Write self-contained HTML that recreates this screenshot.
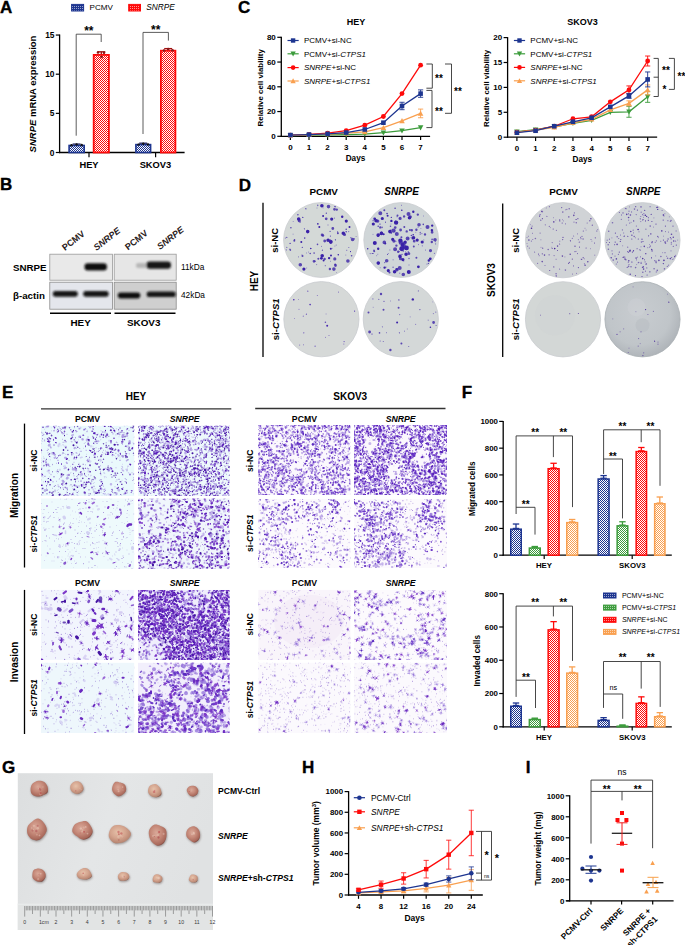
<!DOCTYPE html>
<html><head><meta charset="utf-8"><title>Figure</title>
<style>
html,body{margin:0;padding:0;background:#fff;}
body{width:685px;height:945px;overflow:hidden;}
svg{display:block;font-family:"Liberation Sans",sans-serif;}
</style></head><body>
<svg width="685" height="945" viewBox="0 0 685 945" font-family="'Liberation Sans', sans-serif">
<defs><pattern id="p_blue" width="2" height="2" patternUnits="userSpaceOnUse"><rect width="2" height="2" fill="#fff"/><rect width="1" height="1" fill="#1d3590"/><rect x="1" y="1" width="1" height="1" fill="#1d3590"/></pattern>
<pattern id="q_blue" width="2" height="2" patternUnits="userSpaceOnUse"><rect width="2" height="2" fill="#1d3590"/><rect width="1" height="1" fill="#fff" opacity="0.55"/></pattern>
<pattern id="p_green" width="2" height="2" patternUnits="userSpaceOnUse"><rect width="2" height="2" fill="#fff"/><rect width="1" height="1" fill="#3c9c3c"/><rect x="1" y="1" width="1" height="1" fill="#3c9c3c"/></pattern>
<pattern id="q_green" width="2" height="2" patternUnits="userSpaceOnUse"><rect width="2" height="2" fill="#3c9c3c"/><rect width="1" height="1" fill="#fff" opacity="0.55"/></pattern>
<pattern id="p_red" width="2" height="2" patternUnits="userSpaceOnUse"><rect width="2" height="2" fill="#fff"/><rect width="1" height="1" fill="#fe0a0a"/><rect x="1" y="1" width="1" height="1" fill="#fe0a0a"/></pattern>
<pattern id="q_red" width="2" height="2" patternUnits="userSpaceOnUse"><rect width="2" height="2" fill="#fe0a0a"/><rect width="1" height="1" fill="#fff" opacity="0.55"/></pattern>
<pattern id="p_orange" width="2" height="2" patternUnits="userSpaceOnUse"><rect width="2" height="2" fill="#fff"/><rect width="1" height="1" fill="#f9a050"/><rect x="1" y="1" width="1" height="1" fill="#f9a050"/></pattern>
<pattern id="q_orange" width="2" height="2" patternUnits="userSpaceOnUse"><rect width="2" height="2" fill="#f9a050"/><rect width="1" height="1" fill="#fff" opacity="0.55"/></pattern>
<filter id="blur1" x="-20%" y="-50%" width="140%" height="200%"><feGaussianBlur stdDeviation="1.2"/></filter>
<filter id="blur2" x="-20%" y="-50%" width="140%" height="200%"><feGaussianBlur stdDeviation="0.8"/></filter>
<clipPath id="pl11"><circle cx="321.00" cy="240.00" r="36.90"/></clipPath>
<clipPath id="pl12"><circle cx="401.20" cy="240.00" r="36.90"/></clipPath>
<clipPath id="pl13"><circle cx="321.40" cy="319.20" r="37.10"/></clipPath>
<clipPath id="pl14"><circle cx="400.80" cy="319.20" r="37.10"/></clipPath>
<clipPath id="pl21"><circle cx="563.00" cy="240.20" r="37.10"/></clipPath>
<clipPath id="pl22"><circle cx="642.50" cy="240.20" r="37.10"/></clipPath>
<clipPath id="pl23"><circle cx="563.00" cy="319.30" r="37.10"/></clipPath>
<radialGradient id="pl4g" cx="0.45" cy="0.42" r="0.6"><stop offset="0" stop-color="#c8ccd0"/><stop offset="0.7" stop-color="#c0c5c9"/><stop offset="1" stop-color="#aeb3b8"/></radialGradient>
<clipPath id="pl24"><circle cx="642.50" cy="319.30" r="37.10"/></clipPath>
<clipPath id="mc101"><rect width="186.4" height="140.4"/></clipPath>
<clipPath id="mc102"><rect width="183.0" height="140.4"/></clipPath>
<clipPath id="mc103"><rect width="186.4" height="140.6"/></clipPath>
<clipPath id="mc104"><rect width="183.0" height="140.6"/></clipPath>
<clipPath id="mc105"><rect width="186.4" height="140.0"/></clipPath>
<clipPath id="mc106"><rect width="183.0" height="140.0"/></clipPath>
<clipPath id="mc107"><rect width="186.4" height="140.4"/></clipPath>
<clipPath id="mc108"><rect width="183.0" height="140.4"/></clipPath>
<clipPath id="mc201"><rect width="184.0" height="140.2"/></clipPath>
<clipPath id="mc202"><rect width="186.2" height="140.2"/></clipPath>
<clipPath id="mc203"><rect width="184.0" height="138.2"/></clipPath>
<clipPath id="mc204"><rect width="186.2" height="138.2"/></clipPath>
<clipPath id="mc205"><rect width="184.0" height="140.0"/></clipPath>
<clipPath id="mc206"><rect width="186.2" height="140.0"/></clipPath>
<clipPath id="mc207"><rect width="184.0" height="140.4"/></clipPath>
<clipPath id="mc208"><rect width="186.2" height="140.4"/></clipPath>
<linearGradient id="gbg" x1="0" y1="0" x2="1" y2="0.3"><stop offset="0" stop-color="#dcdedf"/><stop offset="0.5" stop-color="#e4e6e7"/><stop offset="1" stop-color="#e0e2e3"/></linearGradient>
<radialGradient id="tum" cx="0.42" cy="0.38" r="0.68"><stop offset="0" stop-color="#d9a898"/><stop offset="0.45" stop-color="#c68a7a"/><stop offset="0.85" stop-color="#a8685a"/><stop offset="1" stop-color="#6a3a34"/></radialGradient>
<radialGradient id="tum2" cx="0.42" cy="0.38" r="0.68"><stop offset="0" stop-color="#e6c2aa"/><stop offset="0.5" stop-color="#d4a48e"/><stop offset="0.88" stop-color="#b88672"/><stop offset="1" stop-color="#86584a"/></radialGradient>
<filter id="shad" x="-30%" y="-30%" width="160%" height="160%"><feGaussianBlur stdDeviation="0.9"/></filter></defs>
<rect width="685" height="945" fill="#fff"/>
<text x="0.10" y="12.69" font-size="17.00" font-weight="bold" stroke="#000" stroke-width="0.35">A</text>
<text x="0.00" y="190.39" font-size="17.00" font-weight="bold" stroke="#000" stroke-width="0.35">B</text>
<text x="238.00" y="12.59" font-size="17.00" font-weight="bold" stroke="#000" stroke-width="0.35">C</text>
<text x="238.80" y="191.49" font-size="17.00" font-weight="bold" stroke="#000" stroke-width="0.35">D</text>
<text x="1.90" y="398.49" font-size="17.00" font-weight="bold" stroke="#000" stroke-width="0.35">E</text>
<text x="461.70" y="398.29" font-size="17.00" font-weight="bold" stroke="#000" stroke-width="0.35">F</text>
<text x="2.10" y="773.09" font-size="17.00" font-weight="bold" stroke="#000" stroke-width="0.35">G</text>
<text x="302.00" y="773.19" font-size="17.00" font-weight="bold" stroke="#000" stroke-width="0.35">H</text>
<text x="525.80" y="773.19" font-size="17.00" font-weight="bold" stroke="#000" stroke-width="0.35">I</text>
<rect x="71.60" y="4.40" width="12.00" height="6.60" fill="url(#q_blue)" stroke="#1d3590" stroke-width="1.00" />
<text x="89.60" y="10.42" font-size="8.10">PCMV</text>
<rect x="128.70" y="4.40" width="11.80" height="6.60" fill="url(#q_red)" stroke="#fe0a0a" stroke-width="1.00" />
<text x="146.30" y="10.49" font-size="8.30"><tspan font-style="italic">SNRPE</tspan></text>
<line x1="59.60" y1="34.50" x2="59.60" y2="153.10" stroke="#000" stroke-width="1.30" />
<line x1="59.00" y1="152.50" x2="184.60" y2="152.50" stroke="#000" stroke-width="1.30" />
<line x1="55.80" y1="152.50" x2="59.60" y2="152.50" stroke="#000" stroke-width="1.20" />
<text x="54.50" y="155.52" font-size="8.40" font-weight="bold" text-anchor="end">0</text>
<line x1="55.80" y1="113.35" x2="59.60" y2="113.35" stroke="#000" stroke-width="1.20" />
<text x="54.50" y="116.37" font-size="8.40" font-weight="bold" text-anchor="end">5</text>
<line x1="55.80" y1="74.20" x2="59.60" y2="74.20" stroke="#000" stroke-width="1.20" />
<text x="54.50" y="77.22" font-size="8.40" font-weight="bold" text-anchor="end">10</text>
<line x1="55.80" y1="35.05" x2="59.60" y2="35.05" stroke="#000" stroke-width="1.20" />
<text x="54.50" y="38.07" font-size="8.40" font-weight="bold" text-anchor="end">15</text>
<line x1="89.00" y1="152.50" x2="89.00" y2="157.30" stroke="#000" stroke-width="1.20" />
<line x1="155.60" y1="152.50" x2="155.60" y2="157.30" stroke="#000" stroke-width="1.20" />
<text x="89.00" y="167.65" font-size="9.30" font-weight="bold" text-anchor="middle">HEY</text>
<text x="155.40" y="168.15" font-size="9.30" font-weight="bold" text-anchor="middle">SKOV3</text>
<text x="33.00" y="97.42" font-size="9.50" font-weight="bold" text-anchor="middle" transform="rotate(-90.00 33.00 94.00)"><tspan font-style="italic">SNRPE</tspan> mRNA expression</text>
<rect x="69.10" y="145.47" width="15.10" height="7.03" fill="url(#p_blue)" stroke="#1d3590" stroke-width="1.60"/>
<rect x="93.70" y="54.90" width="15.20" height="97.60" fill="url(#p_red)" stroke="#fe0a0a" stroke-width="1.80"/>
<rect x="135.90" y="144.60" width="14.70" height="7.90" fill="url(#p_blue)" stroke="#1d3590" stroke-width="1.60"/>
<rect x="160.90" y="50.70" width="14.50" height="101.80" fill="url(#p_red)" stroke="#fe0a0a" stroke-width="1.80"/>
<line x1="72.60" y1="144.10" x2="80.60" y2="144.10" stroke="#20205a" stroke-width="1.30" />
<line x1="76.60" y1="144.10" x2="76.60" y2="144.70" stroke="#20205a" stroke-width="1.30" />
<line x1="97.30" y1="51.80" x2="105.30" y2="51.80" stroke="#a01010" stroke-width="1.30" />
<line x1="101.30" y1="51.80" x2="101.30" y2="54.00" stroke="#a01010" stroke-width="1.30" />
<line x1="139.20" y1="143.20" x2="147.20" y2="143.20" stroke="#20205a" stroke-width="1.30" />
<line x1="143.20" y1="143.20" x2="143.20" y2="143.80" stroke="#20205a" stroke-width="1.30" />
<line x1="164.20" y1="48.60" x2="172.20" y2="48.60" stroke="#a01010" stroke-width="1.30" />
<line x1="168.20" y1="48.60" x2="168.20" y2="49.80" stroke="#a01010" stroke-width="1.30" />
<circle cx="71.5" cy="145.2" r="1.2" fill="#111"/>
<circle cx="76.6" cy="144.4" r="1.2" fill="#111"/>
<circle cx="81.7" cy="145.0" r="1.2" fill="#111"/>
<circle cx="138.5" cy="144.6" r="1.2" fill="#111"/>
<circle cx="143.2" cy="143.8" r="1.2" fill="#111"/>
<circle cx="148.0" cy="144.4" r="1.2" fill="#111"/>
<circle cx="98.0" cy="52.5" r="1.3" fill="#8a1515"/>
<circle cx="104.0" cy="52.8" r="1.3" fill="#8a1515"/>
<circle cx="101.5" cy="57.0" r="1.3" fill="#8a1515"/>
<circle cx="164.0" cy="50.5" r="1.3" fill="#8a1515"/>
<circle cx="168.2" cy="49.0" r="1.3" fill="#8a1515"/>
<circle cx="172.5" cy="50.3" r="1.3" fill="#8a1515"/>
<polyline points="76.20,135.70 76.20,34.20 101.20,34.20 101.20,42.00" fill="none" stroke="#333" stroke-width="0.80" stroke-linejoin="miter"/>
<text x="88.80" y="35.26" font-size="12.00" font-weight="bold" text-anchor="middle">**</text>
<polyline points="143.00,134.00 143.00,32.40 168.40,32.40 168.40,40.60" fill="none" stroke="#333" stroke-width="0.80" stroke-linejoin="miter"/>
<text x="155.70" y="33.66" font-size="12.00" font-weight="bold" text-anchor="middle">**</text>
<rect x="49.80" y="254.20" width="62.60" height="26.00" fill="#e9e9e9" stroke="#9a9a9a" stroke-width="0.80" />
<rect x="114.20" y="254.20" width="62.00" height="26.00" fill="#e6e6e6" stroke="#9a9a9a" stroke-width="0.80" />
<rect x="49.80" y="282.20" width="62.60" height="27.00" fill="#e4e6ec" stroke="#8a8a8a" stroke-width="0.80" />
<rect x="114.20" y="282.20" width="62.00" height="27.00" fill="#cfcfcf" stroke="#8a8a8a" stroke-width="0.80" />
<rect x="84.5" y="263.3" width="22.4" height="7.2" rx="3.2" fill="#111" filter="url(#blur2)"/>
<rect x="146.5" y="261.6" width="24.5" height="7.2" rx="3.2" fill="#151515" filter="url(#blur2)"/>
<rect x="136" y="263" width="11" height="5" rx="2" fill="#888" opacity="0.5" filter="url(#blur1)"/>
<rect x="52.8" y="291.0" width="25.0" height="5.8" rx="2.8" fill="#121212" filter="url(#blur2)"/>
<rect x="83.2" y="291.0" width="25.5" height="5.8" rx="2.8" fill="#121212" filter="url(#blur2)"/>
<rect x="117.8" y="292.4" width="22.5" height="6.0" rx="2.8" fill="#101010" filter="url(#blur2)"/>
<rect x="146.7" y="291.4" width="29.0" height="5.6" rx="2.6" fill="#121212" filter="url(#blur2)"/>
<text x="13.00" y="270.51" font-size="9.75" font-weight="bold">SNRPE</text>
<text x="13.00" y="299.01" font-size="9.75" font-weight="bold">β-actin</text>
<text x="181.00" y="269.99" font-size="8.30">11kDa</text>
<text x="181.00" y="298.49" font-size="8.30">42kDa</text>
<line x1="50.00" y1="313.20" x2="111.00" y2="313.20" stroke="#000" stroke-width="1.40" />
<line x1="114.50" y1="313.20" x2="175.50" y2="313.20" stroke="#000" stroke-width="1.40" />
<text x="80.60" y="325.96" font-size="9.90" font-weight="bold" text-anchor="middle">HEY</text>
<text x="143.70" y="325.96" font-size="9.90" font-weight="bold" text-anchor="middle">SKOV3</text>
<text x="65.00" y="251.00" font-size="9.0" font-weight="bold" fill="#2a2020" transform="rotate(-38 65.00 251.00)">PCMV</text>
<text x="96.50" y="251.00" font-size="9.0" font-weight="bold" fill="#2a2020" transform="rotate(-38 96.50 251.00)"><tspan font-style="italic">SNRPE</tspan></text>
<text x="128.00" y="250.40" font-size="9.0" font-weight="bold" fill="#2a2020" transform="rotate(-38 128.00 250.40)">PCMV</text>
<text x="160.00" y="250.00" font-size="9.0" font-weight="bold" fill="#2a2020" transform="rotate(-38 160.00 250.00)"><tspan font-style="italic">SNRPE</tspan></text>
<line x1="281.30" y1="36.80" x2="281.30" y2="136.90" stroke="#000" stroke-width="1.30" />
<line x1="280.70" y1="136.30" x2="430.10" y2="136.30" stroke="#000" stroke-width="1.30" />
<line x1="277.30" y1="136.30" x2="281.30" y2="136.30" stroke="#000" stroke-width="1.20" />
<text x="275.80" y="139.18" font-size="8.00" font-weight="bold" text-anchor="end">0</text>
<line x1="277.30" y1="111.55" x2="281.30" y2="111.55" stroke="#000" stroke-width="1.20" />
<text x="275.80" y="114.43" font-size="8.00" font-weight="bold" text-anchor="end">20</text>
<line x1="277.30" y1="86.80" x2="281.30" y2="86.80" stroke="#000" stroke-width="1.20" />
<text x="275.80" y="89.68" font-size="8.00" font-weight="bold" text-anchor="end">40</text>
<line x1="277.30" y1="62.05" x2="281.30" y2="62.05" stroke="#000" stroke-width="1.20" />
<text x="275.80" y="64.93" font-size="8.00" font-weight="bold" text-anchor="end">60</text>
<line x1="277.30" y1="37.30" x2="281.30" y2="37.30" stroke="#000" stroke-width="1.20" />
<text x="275.80" y="40.18" font-size="8.00" font-weight="bold" text-anchor="end">80</text>
<line x1="290.40" y1="136.30" x2="290.40" y2="140.10" stroke="#000" stroke-width="1.20" />
<text x="290.40" y="149.68" font-size="8.00" font-weight="bold" text-anchor="middle">0</text>
<line x1="309.00" y1="136.30" x2="309.00" y2="140.10" stroke="#000" stroke-width="1.20" />
<text x="309.00" y="149.68" font-size="8.00" font-weight="bold" text-anchor="middle">1</text>
<line x1="327.60" y1="136.30" x2="327.60" y2="140.10" stroke="#000" stroke-width="1.20" />
<text x="327.60" y="149.68" font-size="8.00" font-weight="bold" text-anchor="middle">2</text>
<line x1="346.20" y1="136.30" x2="346.20" y2="140.10" stroke="#000" stroke-width="1.20" />
<text x="346.20" y="149.68" font-size="8.00" font-weight="bold" text-anchor="middle">3</text>
<line x1="364.80" y1="136.30" x2="364.80" y2="140.10" stroke="#000" stroke-width="1.20" />
<text x="364.80" y="149.68" font-size="8.00" font-weight="bold" text-anchor="middle">4</text>
<line x1="383.40" y1="136.30" x2="383.40" y2="140.10" stroke="#000" stroke-width="1.20" />
<text x="383.40" y="149.68" font-size="8.00" font-weight="bold" text-anchor="middle">5</text>
<line x1="402.00" y1="136.30" x2="402.00" y2="140.10" stroke="#000" stroke-width="1.20" />
<text x="402.00" y="149.68" font-size="8.00" font-weight="bold" text-anchor="middle">6</text>
<line x1="420.60" y1="136.30" x2="420.60" y2="140.10" stroke="#000" stroke-width="1.20" />
<text x="420.60" y="149.68" font-size="8.00" font-weight="bold" text-anchor="middle">7</text>
<text x="355.50" y="161.25" font-size="8.20" font-weight="bold" text-anchor="middle">Days</text>
<text x="356.00" y="24.74" font-size="9.00" font-weight="bold" text-anchor="middle">HEY</text>
<text x="260.30" y="90.64" font-size="7.90" font-weight="bold" text-anchor="middle" transform="rotate(-90.00 260.30 87.80)">Relative cell viability</text>
<polyline points="290.40,135.56 309.00,135.19 327.60,134.94 346.20,134.69 364.80,134.07 383.40,132.71 402.00,130.73 420.60,127.64" fill="none" stroke="#3c9c3c" stroke-width="1.30" stroke-linejoin="miter"/>
<polygon points="287.64,133.26 293.16,133.26 290.40,138.32" fill="#3c9c3c"/>
<polygon points="306.24,132.89 311.76,132.89 309.00,137.95" fill="#3c9c3c"/>
<polygon points="324.84,132.64 330.36,132.64 327.60,137.70" fill="#3c9c3c"/>
<polygon points="343.44,132.39 348.96,132.39 346.20,137.45" fill="#3c9c3c"/>
<polygon points="362.04,131.77 367.56,131.77 364.80,136.83" fill="#3c9c3c"/>
<polygon points="380.64,130.41 386.16,130.41 383.40,135.47" fill="#3c9c3c"/>
<polygon points="399.24,128.43 404.76,128.43 402.00,133.49" fill="#3c9c3c"/>
<polygon points="417.84,125.34 423.36,125.34 420.60,130.40" fill="#3c9c3c"/>
<polyline points="290.40,135.06 309.00,134.44 327.60,133.21 346.20,130.73 364.80,125.16 383.40,116.50 402.00,93.61 420.60,65.14" fill="none" stroke="#fe0a0a" stroke-width="1.30" stroke-linejoin="miter"/>
<circle cx="290.40" cy="135.06" r="2.42" fill="#fe0a0a"/>
<circle cx="309.00" cy="134.44" r="2.42" fill="#fe0a0a"/>
<circle cx="327.60" cy="133.21" r="2.42" fill="#fe0a0a"/>
<circle cx="346.20" cy="130.73" r="2.42" fill="#fe0a0a"/>
<circle cx="364.80" cy="125.16" r="2.42" fill="#fe0a0a"/>
<circle cx="383.40" cy="116.50" r="2.42" fill="#fe0a0a"/>
<circle cx="402.00" cy="93.61" r="2.42" fill="#fe0a0a"/>
<circle cx="420.60" cy="65.14" r="2.42" fill="#fe0a0a"/>
<polyline points="290.40,135.31 309.00,134.81 327.60,134.07 346.20,133.21 364.80,131.97 383.40,127.64 402.00,120.83 420.60,113.41" fill="none" stroke="#f9a050" stroke-width="1.30" stroke-linejoin="miter"/>
<polygon points="287.64,137.61 293.16,137.61 290.40,132.55" fill="#f9a050"/>
<polygon points="306.24,137.12 311.76,137.12 309.00,132.06" fill="#f9a050"/>
<polygon points="324.84,136.37 330.36,136.37 327.60,131.31" fill="#f9a050"/>
<polygon points="343.44,135.51 348.96,135.51 346.20,130.45" fill="#f9a050"/>
<polygon points="362.04,134.27 367.56,134.27 364.80,129.21" fill="#f9a050"/>
<polygon points="380.64,129.94 386.16,129.94 383.40,124.88" fill="#f9a050"/>
<polygon points="399.24,123.13 404.76,123.13 402.00,118.07" fill="#f9a050"/>
<line x1="420.60" y1="109.08" x2="420.60" y2="117.74" stroke="#f9a050" stroke-width="0.90" />
<line x1="418.00" y1="109.08" x2="423.20" y2="109.08" stroke="#f9a050" stroke-width="0.90" />
<line x1="418.00" y1="117.74" x2="423.20" y2="117.74" stroke="#f9a050" stroke-width="0.90" />
<polygon points="417.84,115.71 423.36,115.71 420.60,110.65" fill="#f9a050"/>
<polyline points="290.40,135.06 309.00,134.57 327.60,133.83 346.20,132.59 364.80,129.49 383.40,122.69 402.00,105.98 420.60,93.61" fill="none" stroke="#1d3590" stroke-width="1.30" stroke-linejoin="miter"/>
<rect x="288.10" y="132.76" width="4.60" height="4.60" fill="#1d3590"/>
<rect x="306.70" y="132.27" width="4.60" height="4.60" fill="#1d3590"/>
<rect x="325.30" y="131.53" width="4.60" height="4.60" fill="#1d3590"/>
<rect x="343.90" y="130.29" width="4.60" height="4.60" fill="#1d3590"/>
<rect x="362.50" y="127.19" width="4.60" height="4.60" fill="#1d3590"/>
<rect x="381.10" y="120.39" width="4.60" height="4.60" fill="#1d3590"/>
<line x1="402.00" y1="102.27" x2="402.00" y2="109.69" stroke="#1d3590" stroke-width="0.90" />
<line x1="399.40" y1="102.27" x2="404.60" y2="102.27" stroke="#1d3590" stroke-width="0.90" />
<line x1="399.40" y1="109.69" x2="404.60" y2="109.69" stroke="#1d3590" stroke-width="0.90" />
<rect x="399.70" y="103.68" width="4.60" height="4.60" fill="#1d3590"/>
<line x1="420.60" y1="89.89" x2="420.60" y2="97.32" stroke="#1d3590" stroke-width="0.90" />
<line x1="418.00" y1="89.89" x2="423.20" y2="89.89" stroke="#1d3590" stroke-width="0.90" />
<line x1="418.00" y1="97.32" x2="423.20" y2="97.32" stroke="#1d3590" stroke-width="0.90" />
<rect x="418.30" y="91.31" width="4.60" height="4.60" fill="#1d3590"/>
<line x1="287.50" y1="40.50" x2="298.70" y2="40.50" stroke="#1d3590" stroke-width="1.20" />
<rect x="290.90" y="38.30" width="4.40" height="4.40" fill="#1d3590"/>
<text x="303.90" y="43.38" font-size="8.00">PCMV+si-NC</text>
<line x1="287.50" y1="53.80" x2="298.70" y2="53.80" stroke="#3c9c3c" stroke-width="1.20" />
<polygon points="290.46,51.60 295.74,51.60 293.10,56.44" fill="#3c9c3c"/>
<text x="303.90" y="56.68" font-size="8.00">PCMV+si-<tspan font-style="italic">CTPS1</tspan></text>
<line x1="287.50" y1="67.60" x2="298.70" y2="67.60" stroke="#fe0a0a" stroke-width="1.20" />
<circle cx="293.10" cy="67.60" r="2.31" fill="#fe0a0a"/>
<text x="303.90" y="70.48" font-size="8.00"><tspan font-style="italic">SNRPE</tspan>+si-NC</text>
<line x1="287.50" y1="81.00" x2="298.70" y2="81.00" stroke="#f9a050" stroke-width="1.20" />
<polygon points="290.46,83.20 295.74,83.20 293.10,78.36" fill="#f9a050"/>
<text x="303.90" y="83.88" font-size="8.00"><tspan font-style="italic">SNRPE</tspan>+si-<tspan font-style="italic">CTPS1</tspan></text>
<polyline points="426.40,64.00 432.30,64.00 432.30,88.20 426.40,88.20" fill="none" stroke="#333" stroke-width="0.90" stroke-linejoin="miter"/>
<text x="439.00" y="82.30" font-size="10.00" font-weight="bold" text-anchor="middle">**</text>
<polyline points="426.40,90.40 432.00,90.40 432.00,127.60 426.40,127.60" fill="none" stroke="#333" stroke-width="0.90" stroke-linejoin="miter"/>
<text x="439.00" y="115.10" font-size="10.00" font-weight="bold" text-anchor="middle">**</text>
<polyline points="445.00,64.00 451.50,64.00 451.50,113.30 445.00,113.30" fill="none" stroke="#333" stroke-width="0.90" stroke-linejoin="miter"/>
<text x="458.00" y="95.10" font-size="10.00" font-weight="bold" text-anchor="middle">**</text>
<line x1="507.60" y1="37.10" x2="507.60" y2="137.80" stroke="#000" stroke-width="1.30" />
<line x1="507.00" y1="137.20" x2="657.16" y2="137.20" stroke="#000" stroke-width="1.30" />
<line x1="503.60" y1="137.20" x2="507.60" y2="137.20" stroke="#000" stroke-width="1.20" />
<text x="502.10" y="140.08" font-size="8.00" font-weight="bold" text-anchor="end">0</text>
<line x1="503.60" y1="112.30" x2="507.60" y2="112.30" stroke="#000" stroke-width="1.20" />
<text x="502.10" y="115.18" font-size="8.00" font-weight="bold" text-anchor="end">5</text>
<line x1="503.60" y1="87.40" x2="507.60" y2="87.40" stroke="#000" stroke-width="1.20" />
<text x="502.10" y="90.28" font-size="8.00" font-weight="bold" text-anchor="end">10</text>
<line x1="503.60" y1="62.50" x2="507.60" y2="62.50" stroke="#000" stroke-width="1.20" />
<text x="502.10" y="65.38" font-size="8.00" font-weight="bold" text-anchor="end">15</text>
<line x1="503.60" y1="37.60" x2="507.60" y2="37.60" stroke="#000" stroke-width="1.20" />
<text x="502.10" y="40.48" font-size="8.00" font-weight="bold" text-anchor="end">20</text>
<line x1="516.90" y1="137.20" x2="516.90" y2="141.00" stroke="#000" stroke-width="1.20" />
<text x="516.90" y="150.58" font-size="8.00" font-weight="bold" text-anchor="middle">0</text>
<line x1="535.58" y1="137.20" x2="535.58" y2="141.00" stroke="#000" stroke-width="1.20" />
<text x="535.58" y="150.58" font-size="8.00" font-weight="bold" text-anchor="middle">1</text>
<line x1="554.26" y1="137.20" x2="554.26" y2="141.00" stroke="#000" stroke-width="1.20" />
<text x="554.26" y="150.58" font-size="8.00" font-weight="bold" text-anchor="middle">2</text>
<line x1="572.94" y1="137.20" x2="572.94" y2="141.00" stroke="#000" stroke-width="1.20" />
<text x="572.94" y="150.58" font-size="8.00" font-weight="bold" text-anchor="middle">3</text>
<line x1="591.62" y1="137.20" x2="591.62" y2="141.00" stroke="#000" stroke-width="1.20" />
<text x="591.62" y="150.58" font-size="8.00" font-weight="bold" text-anchor="middle">4</text>
<line x1="610.30" y1="137.20" x2="610.30" y2="141.00" stroke="#000" stroke-width="1.20" />
<text x="610.30" y="150.58" font-size="8.00" font-weight="bold" text-anchor="middle">5</text>
<line x1="628.98" y1="137.20" x2="628.98" y2="141.00" stroke="#000" stroke-width="1.20" />
<text x="628.98" y="150.58" font-size="8.00" font-weight="bold" text-anchor="middle">6</text>
<line x1="647.66" y1="137.20" x2="647.66" y2="141.00" stroke="#000" stroke-width="1.20" />
<text x="647.66" y="150.58" font-size="8.00" font-weight="bold" text-anchor="middle">7</text>
<text x="582.28" y="162.15" font-size="8.20" font-weight="bold" text-anchor="middle">Days</text>
<text x="582.60" y="24.74" font-size="9.00" font-weight="bold" text-anchor="middle">SKOV3</text>
<text x="486.60" y="91.24" font-size="7.90" font-weight="bold" text-anchor="middle" transform="rotate(-90.00 486.60 88.40)">Relative cell viability</text>
<polyline points="516.90,131.72 535.58,129.73 554.26,126.74 572.94,123.26 591.62,120.27 610.30,112.30 628.98,111.80 647.66,96.86" fill="none" stroke="#3c9c3c" stroke-width="1.30" stroke-linejoin="miter"/>
<polygon points="514.14,129.42 519.66,129.42 516.90,134.48" fill="#3c9c3c"/>
<polygon points="532.82,127.43 538.34,127.43 535.58,132.49" fill="#3c9c3c"/>
<polygon points="551.50,124.44 557.02,124.44 554.26,129.50" fill="#3c9c3c"/>
<polygon points="570.18,120.96 575.70,120.96 572.94,126.02" fill="#3c9c3c"/>
<polygon points="588.86,117.97 594.38,117.97 591.62,123.03" fill="#3c9c3c"/>
<polygon points="607.54,110.00 613.06,110.00 610.30,115.06" fill="#3c9c3c"/>
<line x1="628.98" y1="106.32" x2="628.98" y2="117.28" stroke="#3c9c3c" stroke-width="0.90" />
<line x1="626.38" y1="106.32" x2="631.58" y2="106.32" stroke="#3c9c3c" stroke-width="0.90" />
<line x1="626.38" y1="117.28" x2="631.58" y2="117.28" stroke="#3c9c3c" stroke-width="0.90" />
<polygon points="626.22,109.50 631.74,109.50 628.98,114.56" fill="#3c9c3c"/>
<line x1="647.66" y1="91.38" x2="647.66" y2="102.34" stroke="#3c9c3c" stroke-width="0.90" />
<line x1="645.06" y1="91.38" x2="650.26" y2="91.38" stroke="#3c9c3c" stroke-width="0.90" />
<line x1="645.06" y1="102.34" x2="650.26" y2="102.34" stroke="#3c9c3c" stroke-width="0.90" />
<polygon points="644.90,94.56 650.42,94.56 647.66,99.62" fill="#3c9c3c"/>
<polyline points="516.90,132.22 535.58,130.23 554.26,126.24 572.94,118.77 591.62,116.78 610.30,101.84 628.98,89.89 647.66,61.01" fill="none" stroke="#fe0a0a" stroke-width="1.30" stroke-linejoin="miter"/>
<circle cx="516.90" cy="132.22" r="2.42" fill="#fe0a0a"/>
<circle cx="535.58" cy="130.23" r="2.42" fill="#fe0a0a"/>
<circle cx="554.26" cy="126.24" r="2.42" fill="#fe0a0a"/>
<circle cx="572.94" cy="118.77" r="2.42" fill="#fe0a0a"/>
<circle cx="591.62" cy="116.78" r="2.42" fill="#fe0a0a"/>
<circle cx="610.30" cy="101.84" r="2.42" fill="#fe0a0a"/>
<line x1="628.98" y1="85.91" x2="628.98" y2="93.87" stroke="#fe0a0a" stroke-width="0.90" />
<line x1="626.38" y1="85.91" x2="631.58" y2="85.91" stroke="#fe0a0a" stroke-width="0.90" />
<line x1="626.38" y1="93.87" x2="631.58" y2="93.87" stroke="#fe0a0a" stroke-width="0.90" />
<circle cx="628.98" cy="89.89" r="2.42" fill="#fe0a0a"/>
<line x1="647.66" y1="56.03" x2="647.66" y2="65.99" stroke="#fe0a0a" stroke-width="0.90" />
<line x1="645.06" y1="56.03" x2="650.26" y2="56.03" stroke="#fe0a0a" stroke-width="0.90" />
<line x1="645.06" y1="65.99" x2="650.26" y2="65.99" stroke="#fe0a0a" stroke-width="0.90" />
<circle cx="647.66" cy="61.01" r="2.42" fill="#fe0a0a"/>
<polyline points="516.90,132.22 535.58,130.23 554.26,127.24 572.94,122.76 591.62,119.27 610.30,109.81 628.98,103.34 647.66,89.89" fill="none" stroke="#f9a050" stroke-width="1.30" stroke-linejoin="miter"/>
<polygon points="514.14,134.52 519.66,134.52 516.90,129.46" fill="#f9a050"/>
<polygon points="532.82,132.53 538.34,132.53 535.58,127.47" fill="#f9a050"/>
<polygon points="551.50,129.54 557.02,129.54 554.26,124.48" fill="#f9a050"/>
<polygon points="570.18,125.06 575.70,125.06 572.94,120.00" fill="#f9a050"/>
<polygon points="588.86,121.57 594.38,121.57 591.62,116.51" fill="#f9a050"/>
<polygon points="607.54,112.11 613.06,112.11 610.30,107.05" fill="#f9a050"/>
<line x1="628.98" y1="100.85" x2="628.98" y2="105.83" stroke="#f9a050" stroke-width="0.90" />
<line x1="626.38" y1="100.85" x2="631.58" y2="100.85" stroke="#f9a050" stroke-width="0.90" />
<line x1="626.38" y1="105.83" x2="631.58" y2="105.83" stroke="#f9a050" stroke-width="0.90" />
<polygon points="626.22,105.64 631.74,105.64 628.98,100.58" fill="#f9a050"/>
<line x1="647.66" y1="84.91" x2="647.66" y2="94.87" stroke="#f9a050" stroke-width="0.90" />
<line x1="645.06" y1="84.91" x2="650.26" y2="84.91" stroke="#f9a050" stroke-width="0.90" />
<line x1="645.06" y1="94.87" x2="650.26" y2="94.87" stroke="#f9a050" stroke-width="0.90" />
<polygon points="644.90,92.19 650.42,92.19 647.66,87.13" fill="#f9a050"/>
<polyline points="516.90,132.72 535.58,130.73 554.26,126.24 572.94,121.76 591.62,117.78 610.30,106.82 628.98,95.87 647.66,79.43" fill="none" stroke="#1d3590" stroke-width="1.30" stroke-linejoin="miter"/>
<rect x="514.60" y="130.42" width="4.60" height="4.60" fill="#1d3590"/>
<rect x="533.28" y="128.43" width="4.60" height="4.60" fill="#1d3590"/>
<rect x="551.96" y="123.94" width="4.60" height="4.60" fill="#1d3590"/>
<rect x="570.64" y="119.46" width="4.60" height="4.60" fill="#1d3590"/>
<rect x="589.32" y="115.48" width="4.60" height="4.60" fill="#1d3590"/>
<rect x="608.00" y="104.52" width="4.60" height="4.60" fill="#1d3590"/>
<line x1="628.98" y1="93.38" x2="628.98" y2="98.36" stroke="#1d3590" stroke-width="0.90" />
<line x1="626.38" y1="93.38" x2="631.58" y2="93.38" stroke="#1d3590" stroke-width="0.90" />
<line x1="626.38" y1="98.36" x2="631.58" y2="98.36" stroke="#1d3590" stroke-width="0.90" />
<rect x="626.68" y="93.57" width="4.60" height="4.60" fill="#1d3590"/>
<line x1="647.66" y1="71.96" x2="647.66" y2="86.90" stroke="#1d3590" stroke-width="0.90" />
<line x1="645.06" y1="71.96" x2="650.26" y2="71.96" stroke="#1d3590" stroke-width="0.90" />
<line x1="645.06" y1="86.90" x2="650.26" y2="86.90" stroke="#1d3590" stroke-width="0.90" />
<rect x="645.36" y="77.13" width="4.60" height="4.60" fill="#1d3590"/>
<line x1="513.90" y1="40.50" x2="525.10" y2="40.50" stroke="#1d3590" stroke-width="1.20" />
<rect x="517.30" y="38.30" width="4.40" height="4.40" fill="#1d3590"/>
<text x="530.30" y="43.38" font-size="8.00">PCMV+si-NC</text>
<line x1="513.90" y1="53.80" x2="525.10" y2="53.80" stroke="#3c9c3c" stroke-width="1.20" />
<polygon points="516.86,51.60 522.14,51.60 519.50,56.44" fill="#3c9c3c"/>
<text x="530.30" y="56.68" font-size="8.00">PCMV+si-<tspan font-style="italic">CTPS1</tspan></text>
<line x1="513.90" y1="67.40" x2="525.10" y2="67.40" stroke="#fe0a0a" stroke-width="1.20" />
<circle cx="519.50" cy="67.40" r="2.31" fill="#fe0a0a"/>
<text x="530.30" y="70.28" font-size="8.00"><tspan font-style="italic">SNRPE</tspan>+si-NC</text>
<line x1="513.90" y1="80.80" x2="525.10" y2="80.80" stroke="#f9a050" stroke-width="1.20" />
<polygon points="516.86,83.00 522.14,83.00 519.50,78.16" fill="#f9a050"/>
<text x="530.30" y="83.68" font-size="8.00"><tspan font-style="italic">SNRPE</tspan>+si-<tspan font-style="italic">CTPS1</tspan></text>
<polyline points="653.60,58.40 658.30,58.40 658.30,96.50 653.60,96.50" fill="none" stroke="#333" stroke-width="0.90" stroke-linejoin="miter"/>
<line x1="653.60" y1="77.20" x2="658.30" y2="77.20" stroke="#333" stroke-width="0.90" />
<text x="666.00" y="74.10" font-size="10.00" font-weight="bold" text-anchor="middle">**</text>
<text x="664.50" y="93.30" font-size="10.00" font-weight="bold" text-anchor="middle">*</text>
<polyline points="668.90,58.40 674.40,58.40 674.40,89.40 668.90,89.40" fill="none" stroke="#333" stroke-width="0.90" stroke-linejoin="miter"/>
<text x="681.50" y="79.50" font-size="10.00" font-weight="bold" text-anchor="middle">**</text>
<text x="323.70" y="194.86" font-size="9.90" font-weight="bold" text-anchor="middle">PCMV</text>
<text x="401.60" y="194.90" font-size="10.00" font-weight="bold" text-anchor="middle"><tspan font-style="italic">SNRPE</tspan></text>
<text x="563.50" y="194.86" font-size="9.90" font-weight="bold" text-anchor="middle">PCMV</text>
<text x="643.30" y="194.90" font-size="10.00" font-weight="bold" text-anchor="middle"><tspan font-style="italic">SNRPE</tspan></text>
<line x1="263.00" y1="202.80" x2="263.00" y2="357.00" stroke="#000" stroke-width="1.30" />
<line x1="502.70" y1="203.40" x2="502.70" y2="357.00" stroke="#000" stroke-width="1.30" />
<text x="254.00" y="284.60" font-size="10.00" font-weight="bold" text-anchor="middle" transform="rotate(-90.00 254.00 281.00)">HEY</text>
<text x="491.20" y="283.60" font-size="10.00" font-weight="bold" text-anchor="middle" transform="rotate(-90.00 491.20 280.00)">SKOV3</text>
<text x="274.40" y="243.72" font-size="9.50" font-weight="bold" text-anchor="middle" transform="rotate(-90.00 274.40 240.30)">si-NC</text>
<text x="276.00" y="322.72" font-size="9.50" font-weight="bold" text-anchor="middle" transform="rotate(-90.00 276.00 319.30)">si-<tspan font-style="italic">CTPS1</tspan></text>
<text x="515.20" y="243.72" font-size="9.50" font-weight="bold" text-anchor="middle" transform="rotate(-90.00 515.20 240.30)">si-NC</text>
<text x="515.20" y="322.72" font-size="9.50" font-weight="bold" text-anchor="middle" transform="rotate(-90.00 515.20 319.30)">si-<tspan font-style="italic">CTPS1</tspan></text>
<circle cx="321.00" cy="240.00" r="37.40" fill="#d4d9d7" stroke="#c9cccf" stroke-width="0.8"/>
<g clip-path="url(#pl11)"><path d="M330.5 261.3h0M332.2 248.4h0M323.1 207.9h0M345.8 255.1h0M293.2 221.5h0M293.1 234.2h0M306.7 268.0h0M317.0 208.0h0M334.9 246.1h0M306.5 253.0h0M308.4 252.1h0M336.4 272.8h0M317.4 223.6h0M356.1 236.5h0" stroke="#3b22a8" stroke-width="0.8" stroke-linecap="round" opacity="0.6"/><path d="M321.6 246.4h0M298.5 256.9h0M306.2 208.9h0M302.0 254.9h0M328.0 225.0h0M316.7 264.6h0M330.2 239.6h0M336.2 245.1h0" stroke="#3b22a8" stroke-width="0.8" stroke-linecap="round" opacity="0.8"/><path d="M346.8 250.3h0" stroke="#3b22a8" stroke-width="0.8" stroke-linecap="round" opacity="1.0"/><path d="M305.6 208.7h0M300.1 222.4h0M348.8 247.5h0M325.3 265.7h0M286.8 247.4h0M348.7 231.6h0M334.4 218.1h0M285.4 238.0h0" stroke="#3b22a8" stroke-width="1.2" stroke-linecap="round" opacity="0.6"/><path d="M286.8 237.4h0M322.4 250.2h0M342.6 216.5h0M302.3 247.4h0M354.4 238.8h0M286.1 249.9h0M330.1 231.4h0M337.6 231.9h0M330.4 236.1h0M304.4 228.8h0" stroke="#3b22a8" stroke-width="1.2" stroke-linecap="round" opacity="0.8"/><path d="M302.8 217.4h0M326.3 213.2h0M290.1 243.4h0M335.4 239.8h0M350.5 251.6h0" stroke="#3b22a8" stroke-width="1.2" stroke-linecap="round" opacity="1.0"/><path d="M350.9 237.8h0M289.9 249.4h0M317.7 205.4h0" stroke="#3b22a8" stroke-width="1.6" stroke-linecap="round" opacity="0.6"/><path d="M317.5 244.4h0M346.2 231.7h0M290.9 227.8h0M297.9 214.8h0M310.2 253.5h0M315.0 261.2h0M290.4 250.1h0M294.5 239.7h0M351.6 255.7h0M346.2 229.3h0M304.7 238.1h0M314.1 253.1h0" stroke="#3b22a8" stroke-width="1.6" stroke-linecap="round" opacity="0.8"/><path d="M335.1 206.6h0M317.9 223.9h0M338.3 254.8h0M310.8 248.5h0" stroke="#3b22a8" stroke-width="1.6" stroke-linecap="round" opacity="1.0"/><path d="M294.3 240.7h0M302.5 256.0h0M318.3 258.7h0M335.2 264.4h0M337.9 233.3h0" stroke="#3b22a8" stroke-width="2.0" stroke-linecap="round" opacity="0.8"/><path d="M331.0 255.4h0M323.6 260.6h0M301.3 241.9h0M319.3 227.1h0M323.1 215.9h0M349.5 227.0h0M330.8 248.8h0" stroke="#3b22a8" stroke-width="2.0" stroke-linecap="round" opacity="1.0"/><path d="M329.9 269.0h0M324.6 259.0h0M323.1 235.5h0M336.8 209.6h0" stroke="#3b22a8" stroke-width="2.4" stroke-linecap="round" opacity="0.8"/><path d="M329.1 258.1h0M342.2 216.8h0" stroke="#3b22a8" stroke-width="2.4" stroke-linecap="round" opacity="1.0"/><path d="M326.2 218.8h0M314.0 261.3h0M334.5 209.3h0M324.7 241.0h0M322.1 235.0h0M335.5 265.5h0M332.8 228.5h0" stroke="#3b22a8" stroke-width="2.8" stroke-linecap="round" opacity="0.8"/><path d="M321.4 258.3h0" stroke="#3b22a8" stroke-width="2.8" stroke-linecap="round" opacity="1.0"/><path d="M299.3 220.7h0M344.5 234.5h0M334.8 258.9h0" stroke="#3b22a8" stroke-width="3.2" stroke-linecap="round" opacity="0.8"/><path d="M331.7 219.1h0M346.3 221.1h0M303.9 269.1h0" stroke="#3b22a8" stroke-width="3.2" stroke-linecap="round" opacity="1.0"/><path d="M347.9 261.0h0M352.6 239.5h0M330.8 241.6h0M300.3 264.8h0M328.5 206.6h0M333.9 269.1h0" stroke="#3b22a8" stroke-width="3.6" stroke-linecap="round" opacity="0.8"/><path d="M322.2 255.8h0M307.7 231.6h0M330.8 242.1h0M298.7 219.0h0M321.9 205.7h0M328.1 240.3h0M343.3 233.3h0" stroke="#3b22a8" stroke-width="3.6" stroke-linecap="round" opacity="1.0"/></g>
<circle cx="401.20" cy="240.00" r="37.40" fill="#d0d6d8" stroke="#c9cccf" stroke-width="0.8"/>
<g clip-path="url(#pl12)"><path d="M405.4 251.7h0M373.0 234.4h0M396.1 241.4h0M377.8 254.3h0M420.9 228.5h0M415.8 232.3h0M388.4 253.5h0M391.0 224.0h0M423.6 216.0h0M380.2 267.7h0M376.7 255.7h0" stroke="#3a22a8" stroke-width="0.8" stroke-linecap="round" opacity="0.6"/><path d="M423.8 240.0h0M393.1 259.8h0M389.9 250.0h0M401.5 205.3h0M425.4 250.1h0M418.4 244.6h0M404.2 248.9h0M432.8 230.2h0M401.3 254.4h0M409.0 265.0h0M427.0 264.1h0M387.2 213.5h0M435.5 241.7h0" stroke="#3a22a8" stroke-width="0.8" stroke-linecap="round" opacity="0.8"/><path d="M399.8 273.2h0M399.6 249.2h0M386.0 267.2h0" stroke="#3a22a8" stroke-width="0.8" stroke-linecap="round" opacity="1.0"/><path d="M399.3 251.5h0M370.2 253.6h0M410.0 215.5h0M377.3 263.0h0M408.2 238.3h0M402.3 254.3h0M422.3 245.8h0M403.7 261.0h0M397.1 216.7h0M435.6 243.9h0M418.1 227.1h0M421.9 233.6h0M394.4 231.2h0M411.1 237.6h0M395.0 241.2h0M434.4 253.3h0M399.4 218.6h0" stroke="#3a22a8" stroke-width="1.2" stroke-linecap="round" opacity="0.6"/><path d="M384.8 262.6h0M390.7 230.0h0M373.1 220.7h0M385.5 222.2h0M387.5 254.3h0M420.2 232.4h0M428.4 263.4h0M372.2 253.5h0" stroke="#3a22a8" stroke-width="1.2" stroke-linecap="round" opacity="0.8"/><path d="M380.0 224.1h0M391.3 217.4h0M395.4 221.2h0M420.2 234.0h0M373.0 253.5h0" stroke="#3a22a8" stroke-width="1.2" stroke-linecap="round" opacity="1.0"/><path d="M382.2 227.4h0M393.1 267.2h0M409.0 258.5h0" stroke="#3a22a8" stroke-width="1.6" stroke-linecap="round" opacity="0.6"/><path d="M390.5 226.3h0M423.3 224.4h0M374.0 250.3h0M387.0 213.6h0M378.2 226.3h0M403.2 251.0h0M432.1 239.4h0M408.3 252.0h0M395.1 208.3h0M411.4 235.5h0" stroke="#3a22a8" stroke-width="1.6" stroke-linecap="round" opacity="0.8"/><path d="M401.8 210.2h0M367.7 248.7h0M405.6 249.1h0M391.2 232.9h0M413.2 234.8h0" stroke="#3a22a8" stroke-width="1.6" stroke-linecap="round" opacity="1.0"/><path d="M404.3 227.0h0M401.4 237.2h0M416.4 257.8h0M409.9 229.9h0M412.5 238.6h0M413.8 246.4h0M397.5 215.5h0M384.3 210.2h0M389.5 272.6h0M374.2 251.2h0" stroke="#3a22a8" stroke-width="2.0" stroke-linecap="round" opacity="0.8"/><path d="M383.7 234.2h0M387.6 215.8h0M385.3 243.5h0" stroke="#3a22a8" stroke-width="2.0" stroke-linecap="round" opacity="1.0"/><path d="M406.7 231.4h0M380.3 227.4h0M416.4 229.8h0M425.0 234.4h0M431.8 242.0h0M411.8 230.3h0M396.8 269.1h0M404.1 216.4h0M417.8 214.6h0M398.2 251.8h0M396.4 245.6h0" stroke="#3a22a8" stroke-width="2.4" stroke-linecap="round" opacity="0.8"/><path d="M431.9 230.2h0M391.4 220.9h0M432.2 225.6h0M413.3 211.8h0M377.9 235.6h0M428.8 260.5h0M378.2 248.8h0M384.6 267.6h0M403.4 247.2h0M400.9 247.8h0" stroke="#3a22a8" stroke-width="2.4" stroke-linecap="round" opacity="1.0"/><path d="M410.5 216.8h0M432.1 232.3h0M395.2 227.6h0M414.2 241.2h0M408.9 253.7h0M400.6 230.0h0" stroke="#3a22a8" stroke-width="2.8" stroke-linecap="round" opacity="0.8"/><path d="M430.3 258.8h0M374.7 218.8h0M418.4 266.8h0M402.1 245.5h0" stroke="#3a22a8" stroke-width="2.8" stroke-linecap="round" opacity="1.0"/><path d="M400.1 218.4h0M393.9 241.1h0M381.6 233.1h0M430.5 250.6h0M377.8 221.1h0M400.5 258.7h0M402.2 244.9h0" stroke="#3a22a8" stroke-width="3.2" stroke-linecap="round" opacity="0.8"/><path d="M382.3 218.5h0M417.2 240.1h0M392.7 239.3h0M422.2 242.0h0M402.9 259.6h0M388.3 270.6h0M373.3 224.0h0M405.2 242.0h0" stroke="#3a22a8" stroke-width="3.2" stroke-linecap="round" opacity="1.0"/><path d="M384.3 242.4h0M404.7 243.1h0M419.0 224.8h0M403.3 274.5h0M435.0 239.7h0M396.9 269.8h0M386.7 260.8h0" stroke="#3a22a8" stroke-width="3.6" stroke-linecap="round" opacity="0.8"/><path d="M400.0 256.4h0M389.9 231.6h0M376.1 220.7h0M409.5 217.7h0M402.8 244.4h0M381.4 233.4h0M378.3 263.1h0M406.1 254.2h0M378.2 235.1h0M413.5 237.7h0M394.6 271.8h0" stroke="#3a22a8" stroke-width="3.6" stroke-linecap="round" opacity="1.0"/><path d="M407.6 238.5h0M408.5 214.1h0M427.5 226.9h0M380.3 213.2h0M399.7 268.1h0M396.8 234.0h0M395.1 249.3h0M404.3 246.8h0" stroke="#3a22a8" stroke-width="4.0" stroke-linecap="round" opacity="0.8"/><path d="M408.8 272.1h0M374.8 242.9h0" stroke="#3a22a8" stroke-width="4.0" stroke-linecap="round" opacity="1.0"/><path d="M393.5 230.6h0M400.8 242.5h0" stroke="#3a22a8" stroke-width="4.4" stroke-linecap="round" opacity="0.8"/><path d="M396.1 222.6h0M400.4 240.6h0" stroke="#3a22a8" stroke-width="4.4" stroke-linecap="round" opacity="1.0"/><path d="M401.8 248.8h0M406.5 247.9h0" stroke="#3a22a8" stroke-width="4.8" stroke-linecap="round" opacity="1.0"/></g>
<circle cx="321.40" cy="319.20" r="37.60" fill="#d6d9d8" stroke="#c9cccf" stroke-width="0.8"/>
<g clip-path="url(#pl13)"><path d="M298.4 299.5h0M326.1 314.0h0M294.4 318.5h0" stroke="#4a2ab0" stroke-width="0.8" stroke-linecap="round" opacity="0.6"/><path d="M303.6 344.8h0M325.4 337.4h0M317.3 295.5h0M299.0 309.4h0M299.7 345.1h0M329.0 335.5h0" stroke="#4a2ab0" stroke-width="0.8" stroke-linecap="round" opacity="0.8"/><path d="M338.5 292.1h0M303.3 316.2h0M343.8 344.0h0" stroke="#4a2ab0" stroke-width="1.2" stroke-linecap="round" opacity="0.6"/><path d="M303.8 332.8h0M306.4 314.2h0M344.1 341.6h0M307.8 291.2h0M315.1 346.2h0" stroke="#4a2ab0" stroke-width="1.2" stroke-linecap="round" opacity="0.8"/><path d="M354.6 311.1h0" stroke="#4a2ab0" stroke-width="1.2" stroke-linecap="round" opacity="1.0"/><path d="M325.4 322.3h0" stroke="#4a2ab0" stroke-width="1.6" stroke-linecap="round" opacity="0.8"/><path d="M310.1 304.6h0M293.8 299.7h0" stroke="#4a2ab0" stroke-width="1.6" stroke-linecap="round" opacity="1.0"/><path d="M327.2 325.7h0" stroke="#4a2ab0" stroke-width="2.0" stroke-linecap="round" opacity="1.0"/></g>
<circle cx="400.80" cy="319.20" r="37.60" fill="#d4d8d8" stroke="#c9cccf" stroke-width="0.8"/>
<g clip-path="url(#pl14)"><path d="M373.2 307.3h0M407.3 329.0h0M432.9 301.9h0M410.2 316.9h0M390.4 301.0h0" stroke="#3b22a8" stroke-width="0.8" stroke-linecap="round" opacity="0.6"/><path d="M386.4 332.7h0M404.6 331.2h0M428.2 320.2h0M415.7 324.4h0M433.3 313.6h0" stroke="#3b22a8" stroke-width="0.8" stroke-linecap="round" opacity="0.8"/><path d="M436.1 325.5h0" stroke="#3b22a8" stroke-width="0.8" stroke-linecap="round" opacity="1.0"/><path d="M372.9 298.9h0M383.3 341.5h0M435.8 312.1h0M408.7 346.5h0M380.2 341.0h0M418.4 290.9h0M399.7 314.6h0M378.8 299.4h0M382.4 326.8h0" stroke="#3b22a8" stroke-width="1.2" stroke-linecap="round" opacity="0.6"/><path d="M384.0 301.3h0M399.4 332.8h0M419.9 309.6h0" stroke="#3b22a8" stroke-width="1.2" stroke-linecap="round" opacity="0.8"/><path d="M372.0 334.0h0M398.9 299.9h0" stroke="#3b22a8" stroke-width="1.2" stroke-linecap="round" opacity="1.0"/><path d="M379.5 332.9h0" stroke="#3b22a8" stroke-width="1.6" stroke-linecap="round" opacity="0.8"/><path d="M430.4 327.2h0" stroke="#3b22a8" stroke-width="1.6" stroke-linecap="round" opacity="1.0"/><path d="M401.4 343.5h0M398.6 307.8h0M383.5 309.8h0M368.5 312.5h0" stroke="#3b22a8" stroke-width="2.0" stroke-linecap="round" opacity="0.8"/><path d="M397.1 322.4h0" stroke="#3b22a8" stroke-width="2.0" stroke-linecap="round" opacity="1.0"/><path d="M381.0 294.0h0M390.4 350.0h0" stroke="#3b22a8" stroke-width="2.4" stroke-linecap="round" opacity="0.8"/><path d="M412.8 299.4h0" stroke="#3b22a8" stroke-width="2.4" stroke-linecap="round" opacity="1.0"/><path d="M433.6 322.5h0M369.6 332.0h0" stroke="#3b22a8" stroke-width="2.8" stroke-linecap="round" opacity="0.8"/></g>
<circle cx="563.00" cy="240.20" r="37.60" fill="#d0d3d6" stroke="#c9cccf" stroke-width="0.8"/>
<g clip-path="url(#pl21)"><path d="M563.4 220.9h0M590.5 248.7h0M551.8 247.3h0M564.9 256.9h0M562.6 219.7h0M555.8 220.1h0M541.0 247.4h0M527.0 243.5h0M581.1 259.2h0M585.0 228.3h0M576.2 251.4h0M586.1 230.1h0M591.9 241.2h0M553.4 217.7h0M550.3 227.6h0M579.1 242.4h0M530.3 224.6h0M584.4 258.8h0M540.9 239.8h0" stroke="#4a2a9a" stroke-width="0.8" stroke-linecap="round" opacity="0.6"/><path d="M576.6 273.4h0M528.3 236.3h0M527.0 237.6h0M539.2 255.7h0M572.6 274.1h0M545.0 265.5h0M594.8 255.2h0M546.2 207.9h0M579.7 242.0h0M578.3 239.7h0M532.5 233.3h0M557.4 246.1h0M577.4 233.9h0M559.8 241.2h0M532.8 239.5h0M556.1 259.3h0M565.8 209.8h0" stroke="#4a2a9a" stroke-width="0.8" stroke-linecap="round" opacity="0.8"/><path d="M537.7 263.4h0M581.0 238.7h0M597.9 229.6h0M577.6 253.6h0M566.9 209.4h0M580.7 237.4h0M527.7 246.2h0" stroke="#4a2a9a" stroke-width="0.8" stroke-linecap="round" opacity="1.0"/><path d="M556.4 230.3h0M591.0 239.5h0M545.3 224.8h0M565.5 223.8h0M573.5 265.9h0M574.4 212.9h0M554.1 255.6h0M549.4 206.7h0M582.0 236.4h0M573.6 236.0h0M549.3 226.4h0M546.9 216.4h0M529.3 248.1h0M559.6 269.1h0M584.4 263.8h0M540.1 233.1h0M531.4 241.1h0M552.2 242.6h0M574.0 222.1h0M532.1 226.1h0M587.2 223.0h0M542.6 211.8h0M534.6 252.1h0M572.3 238.3h0" stroke="#4a2a9a" stroke-width="1.2" stroke-linecap="round" opacity="0.6"/><path d="M538.5 254.1h0M559.6 244.0h0M581.7 259.4h0M562.7 239.6h0M542.7 248.2h0M583.3 231.0h0M578.4 267.6h0M592.3 225.2h0M549.1 254.8h0M559.8 220.9h0M572.3 259.1h0M577.9 218.7h0M595.3 237.8h0M586.1 248.0h0M594.5 243.0h0M552.2 248.5h0M557.5 250.5h0M562.2 223.0h0M569.3 262.4h0M540.8 220.2h0M561.7 207.6h0M563.0 237.4h0M542.4 218.7h0M542.3 253.8h0M579.5 247.1h0M596.8 231.0h0M553.2 229.0h0M559.7 219.8h0M540.1 214.7h0M568.6 263.5h0M549.7 270.5h0M575.0 251.6h0M553.8 266.9h0" stroke="#4a2a9a" stroke-width="1.2" stroke-linecap="round" opacity="0.8"/><path d="M539.6 216.1h0M570.4 240.8h0M576.1 219.5h0M575.0 246.2h0" stroke="#4a2a9a" stroke-width="1.2" stroke-linecap="round" opacity="1.0"/><path d="M569.2 208.7h0M562.8 212.1h0M589.8 220.8h0M535.4 238.5h0M583.1 239.0h0M557.6 246.1h0M556.1 273.8h0M576.3 222.7h0M548.2 249.5h0M565.4 270.1h0M583.2 257.8h0M568.8 216.9h0" stroke="#4a2a9a" stroke-width="1.6" stroke-linecap="round" opacity="0.6"/><path d="M542.2 261.6h0M556.2 276.0h0M587.8 261.8h0M544.5 255.1h0M562.4 256.1h0M585.1 265.3h0M573.8 215.4h0M590.9 218.7h0M541.8 211.4h0M570.2 254.3h0M553.8 221.9h0M528.9 240.1h0" stroke="#4a2a9a" stroke-width="1.6" stroke-linecap="round" opacity="0.8"/><path d="M531.5 228.3h0M554.7 248.6h0" stroke="#4a2a9a" stroke-width="1.6" stroke-linecap="round" opacity="1.0"/></g>
<circle cx="642.50" cy="240.20" r="37.60" fill="#ced2d6" stroke="#c9cccf" stroke-width="0.8"/>
<g clip-path="url(#pl22)"><path d="M631.7 212.2h0M669.3 216.8h0M658.5 237.6h0M643.4 217.4h0M653.9 217.9h0M653.6 227.1h0M643.5 219.5h0M655.7 255.9h0M633.2 251.1h0M643.1 215.4h0M611.9 237.9h0M631.5 211.8h0M631.1 222.4h0M629.4 206.9h0M636.7 264.6h0M635.5 237.8h0M622.7 245.8h0M663.4 236.2h0M649.6 244.6h0M641.0 246.8h0M664.1 260.3h0M623.7 236.4h0M625.1 257.2h0M664.9 213.7h0M677.7 240.1h0M662.7 252.7h0" stroke="#44259a" stroke-width="0.8" stroke-linecap="round" opacity="0.6"/><path d="M671.0 250.9h0M633.7 250.5h0M639.5 249.8h0M646.6 263.8h0M647.8 247.7h0M640.8 216.5h0M648.2 220.3h0M637.4 257.2h0M639.0 231.8h0M668.5 232.1h0M664.0 216.0h0M636.5 259.9h0M662.1 210.5h0M660.8 241.3h0M628.7 220.2h0M642.7 258.5h0M633.6 232.9h0M672.3 259.4h0M673.8 259.0h0M623.7 233.0h0M642.5 214.5h0M666.7 256.3h0M606.6 242.5h0M640.8 221.6h0M627.5 251.5h0M674.9 256.3h0M665.6 231.6h0" stroke="#44259a" stroke-width="0.8" stroke-linecap="round" opacity="0.8"/><path d="M609.5 242.5h0M655.2 242.3h0M644.5 259.8h0M676.1 231.0h0M628.6 213.8h0M638.2 262.8h0M671.7 257.6h0M621.4 215.0h0M668.7 265.2h0" stroke="#44259a" stroke-width="0.8" stroke-linecap="round" opacity="1.0"/><path d="M619.4 212.4h0M616.3 264.0h0M627.7 247.2h0M675.6 241.1h0M645.9 229.2h0M645.1 261.9h0M640.5 256.8h0M607.2 240.2h0M618.4 254.3h0M625.4 208.4h0M650.1 206.7h0M667.9 220.7h0M629.0 211.2h0M618.7 238.5h0M641.1 262.3h0M665.0 252.7h0M640.5 250.1h0M673.3 246.4h0M656.3 271.9h0M648.4 220.3h0M645.5 271.2h0M629.0 264.5h0M636.2 214.6h0M626.1 208.7h0M609.5 239.2h0M643.9 213.6h0M656.4 240.8h0M628.3 262.2h0M642.4 267.5h0M629.7 223.1h0M649.6 247.1h0M675.8 255.3h0M621.3 219.3h0M638.8 262.4h0M622.4 229.9h0M637.1 248.7h0M641.2 212.2h0M612.4 253.9h0M667.3 266.4h0M615.0 256.1h0M671.3 242.3h0M633.2 230.2h0M620.5 235.0h0M614.6 244.7h0M617.5 262.1h0M636.4 226.0h0M612.0 250.8h0M654.7 260.7h0M648.4 217.7h0M646.8 267.9h0M626.4 225.0h0M670.3 221.5h0" stroke="#44259a" stroke-width="1.2" stroke-linecap="round" opacity="0.6"/><path d="M676.3 245.1h0M643.0 241.5h0M673.0 226.1h0M656.7 207.4h0M640.3 218.8h0M620.8 239.5h0M671.3 244.0h0M667.3 240.9h0M665.4 226.1h0M663.2 220.1h0M624.5 236.1h0M635.7 206.7h0M671.1 238.8h0M623.1 257.4h0M656.0 261.2h0M645.5 220.9h0M623.0 212.9h0M637.4 210.1h0M631.8 239.0h0M656.0 224.1h0M643.3 266.7h0M620.3 241.4h0M615.4 233.1h0M644.7 210.4h0M648.6 235.8h0M663.4 240.1h0M619.3 252.1h0M642.7 219.9h0M627.8 236.3h0M635.5 275.7h0M633.5 250.8h0M651.9 221.5h0M627.2 267.3h0M638.3 239.0h0M651.2 214.4h0M615.2 242.1h0M647.1 275.0h0M670.4 237.5h0M651.9 242.7h0M632.4 252.1h0M641.1 263.5h0M650.5 246.0h0" stroke="#44259a" stroke-width="1.2" stroke-linecap="round" opacity="0.8"/><path d="M649.9 271.8h0M631.9 235.2h0M663.3 263.6h0M633.7 220.9h0M651.5 257.8h0M646.7 216.4h0M631.9 262.0h0M645.8 253.7h0M652.1 250.9h0M657.7 209.4h0M646.0 264.1h0" stroke="#44259a" stroke-width="1.2" stroke-linecap="round" opacity="1.0"/><path d="M671.0 220.6h0M608.7 231.3h0M631.0 266.8h0M635.6 267.6h0M656.1 262.6h0M642.8 272.3h0M617.2 236.8h0M650.2 226.1h0M628.4 252.2h0M634.5 209.1h0M628.6 266.4h0M625.9 259.7h0M642.0 276.7h0M641.5 242.0h0M660.9 256.5h0M657.3 270.4h0M641.0 206.9h0M664.5 268.9h0M668.1 239.0h0M650.8 233.9h0M612.5 222.8h0M642.9 267.2h0M667.6 258.3h0M613.2 260.1h0M657.7 236.5h0M624.0 257.1h0M642.0 239.3h0M652.3 241.7h0M634.2 236.5h0M608.2 244.7h0M608.4 249.3h0M665.5 243.3h0M654.1 268.8h0" stroke="#44259a" stroke-width="1.6" stroke-linecap="round" opacity="0.6"/><path d="M657.7 207.1h0M628.6 217.5h0M628.8 260.8h0M673.3 237.3h0M644.3 246.4h0M617.1 244.4h0M674.8 256.8h0M630.8 231.5h0M673.7 241.0h0M625.0 259.1h0M665.1 242.1h0M611.2 257.7h0M636.1 258.1h0M661.8 230.9h0M630.2 274.3h0M651.7 249.5h0M671.5 234.3h0M630.4 215.0h0M630.1 250.3h0M643.6 269.1h0M642.7 258.6h0M670.3 258.6h0M663.9 260.4h0M658.9 260.4h0M626.7 214.4h0M616.4 258.9h0" stroke="#44259a" stroke-width="1.6" stroke-linecap="round" opacity="0.8"/><path d="M645.3 215.2h0M663.4 215.0h0M629.9 251.1h0M638.1 229.5h0" stroke="#44259a" stroke-width="1.6" stroke-linecap="round" opacity="1.0"/></g>
<circle cx="563.00" cy="319.30" r="37.60" fill="#d3d7d6" stroke="#c9cccf" stroke-width="0.8"/>
<g clip-path="url(#pl23)"><circle cx="555.00" cy="315.30" r="20.00" fill="#d0d4d4" opacity="0.50"/><path d="M540.5 315.2h0" stroke="#4a2a9a" stroke-width="0.8" stroke-linecap="round" opacity="0.8"/><path d="M569.7 313.7h0" stroke="#4a2a9a" stroke-width="1.2" stroke-linecap="round" opacity="0.6"/><path d="M578.4 313.5h0" stroke="#4a2a9a" stroke-width="1.2" stroke-linecap="round" opacity="0.8"/></g>
<circle cx="642.50" cy="319.30" r="37.60" fill="url(#pl4g)" stroke="#a8aeb3" stroke-width="0.8"/>
<g clip-path="url(#pl24)"><circle cx="642.50" cy="325.30" r="7.00" fill="#b9bec3" opacity="0.60"/><circle cx="636.50" cy="307.30" r="9.00" fill="#cfd3d6" opacity="0.40"/><path d="M667.6 294.2h0M629.0 348.2h0M612.8 318.9h0M640.2 343.6h0M633.1 286.9h0M635.9 311.7h0" stroke="#4a2a9a" stroke-width="0.8" stroke-linecap="round" opacity="0.6"/><path d="M620.1 331.8h0M628.2 352.5h0M623.7 328.9h0M658.0 342.1h0" stroke="#4a2a9a" stroke-width="0.8" stroke-linecap="round" opacity="0.8"/><path d="M658.0 344.2h0M638.7 338.6h0" stroke="#4a2a9a" stroke-width="0.8" stroke-linecap="round" opacity="1.0"/><path d="M638.2 346.1h0M643.7 352.8h0M641.0 331.8h0M653.4 311.3h0M647.9 314.5h0" stroke="#4a2a9a" stroke-width="1.2" stroke-linecap="round" opacity="0.6"/><path d="M617.0 334.4h0M642.9 355.7h0" stroke="#4a2a9a" stroke-width="1.2" stroke-linecap="round" opacity="0.8"/><path d="M645.6 309.6h0M654.6 341.2h0M668.8 302.2h0" stroke="#4a2a9a" stroke-width="1.2" stroke-linecap="round" opacity="1.0"/></g>
<text x="136.00" y="400.20" font-size="10.00" font-weight="bold" text-anchor="middle">HEY</text>
<line x1="41.00" y1="408.90" x2="231.30" y2="408.90" stroke="#333" stroke-width="1.30" />
<text x="350.20" y="400.20" font-size="10.00" font-weight="bold" text-anchor="middle">SKOV3</text>
<line x1="255.20" y1="408.50" x2="445.50" y2="408.50" stroke="#333" stroke-width="1.30" />
<text x="87.60" y="421.63" font-size="8.70" font-weight="bold" text-anchor="middle">PCMV</text>
<text x="184.70" y="421.63" font-size="8.70" font-weight="bold" text-anchor="middle"><tspan font-style="italic">SNRPE</tspan></text>
<text x="304.40" y="421.63" font-size="8.70" font-weight="bold" text-anchor="middle">PCMV</text>
<text x="400.60" y="421.63" font-size="8.70" font-weight="bold" text-anchor="middle"><tspan font-style="italic">SNRPE</tspan></text>
<text x="87.60" y="585.63" font-size="8.70" font-weight="bold" text-anchor="middle">PCMV</text>
<text x="184.70" y="585.63" font-size="8.70" font-weight="bold" text-anchor="middle"><tspan font-style="italic">SNRPE</tspan></text>
<text x="304.40" y="585.63" font-size="8.70" font-weight="bold" text-anchor="middle">PCMV</text>
<text x="400.60" y="585.63" font-size="8.70" font-weight="bold" text-anchor="middle"><tspan font-style="italic">SNRPE</tspan></text>
<line x1="24.50" y1="423.60" x2="24.50" y2="567.50" stroke="#000" stroke-width="1.30" />
<line x1="24.50" y1="589.90" x2="24.50" y2="734.00" stroke="#000" stroke-width="1.30" />
<text x="14.00" y="499.10" font-size="10.00" font-weight="bold" text-anchor="middle" transform="rotate(-90.00 14.00 495.50)">Migration</text>
<text x="14.00" y="665.60" font-size="10.00" font-weight="bold" text-anchor="middle" transform="rotate(-90.00 14.00 662.00)">Invasion</text>
<text x="34.30" y="463.66" font-size="8.50" font-weight="bold" text-anchor="middle" transform="rotate(-90.00 34.30 460.60)">si-NC</text>
<text x="34.30" y="536.86" font-size="8.50" font-weight="bold" text-anchor="middle" transform="rotate(-90.00 34.30 533.80)">si-<tspan font-style="italic">CTPS1</tspan></text>
<text x="34.30" y="627.86" font-size="8.50" font-weight="bold" text-anchor="middle" transform="rotate(-90.00 34.30 624.80)">si-NC</text>
<text x="34.30" y="700.86" font-size="8.50" font-weight="bold" text-anchor="middle" transform="rotate(-90.00 34.30 697.80)">si-<tspan font-style="italic">CTPS1</tspan></text>
<text x="250.30" y="463.86" font-size="8.50" font-weight="bold" text-anchor="middle" transform="rotate(-90.00 250.30 460.80)">si-NC</text>
<text x="250.30" y="536.26" font-size="8.50" font-weight="bold" text-anchor="middle" transform="rotate(-90.00 250.30 533.20)">si-<tspan font-style="italic">CTPS1</tspan></text>
<text x="250.30" y="627.36" font-size="8.50" font-weight="bold" text-anchor="middle" transform="rotate(-90.00 250.30 624.30)">si-NC</text>
<text x="250.30" y="702.66" font-size="8.50" font-weight="bold" text-anchor="middle" transform="rotate(-90.00 250.30 699.60)">si-<tspan font-style="italic">CTPS1</tspan></text>
<rect x="41.00" y="425.80" width="93.20" height="70.20" fill="#eaf9fc"/><g transform="translate(41.00 425.80) scale(0.500)"><g clip-path="url(#mc101)" stroke-linecap="round" fill="none"><path d="M124-1h0m-29 2h0m-45 1h0m35 5h0m91 2h0m-21 4h0m-23 2h0m-23 2h0m-46-5h0m-62 1h0m102 8h0m15-2h0m32-1h0m18 10h0m-5-4h0m-54 2h0m-25 2h0m-41-1h0m-36 2h0m37 4h0m2 0h0m16-1h0m114 4h0m-13 1h0m-119 1h0m27 7h0m39-1h0m5 2h0m7-1h0m3 4h0m-2 4h0m-32-4h0m-10 2h0m-2 0h0m-65 3h0m10 3h0m41-1h0m7-1h0m5 1h0m72-1h0m12 5h0m-89 0h0m-43 2h0m-23 3h0m50 4h0m14-2h0m23 0h0m23 1h0m2-1h0m24 6h0m-66 2h0m-10-2h0m-35 2h0m58 3h0m10 2h0m20 0h0m31 4h0m-96 5h0m-3-5h0m-18 4h0m-31-3h0m84 5h0m33 1h0m63 3h0m-40 7h0m-22-3h0m-20 1h0m-5-1h0m-29 2h0m-29 6h0m148-2h0m-26 8h0m-9-1h0m-33-2h0m-23 4h0m-14-4h0m-5 2h0m-44 0h0m-18 5h0m21 2h0m12-1h0m4-2h0m112 2h0m-14 5h0m-23-1h0m-41 0h0m-21 0h0m-19 3h0m-21 1h0m-12 0h0m53 1h0m6 4h0m5 1h0m50-3h0m2-1h0m45 2h0m1 5h0m-7 3h0m-71-1h0m-6-2h0m-3 1h0m-64 5h0m66-2h0m34 3h0" stroke="#7a50c8" stroke-width="2.0" opacity="0.50"/><path d="M37 3h0m7-3h0m2 3h0m28 0h0m97 7h0m-15-2h0m-9 1h0m-116 0h0m-10 1h0m32 7h0m114 1h0m-43 1h0m-101 1h0m52 8h0m109 6h0m-124-3h0m-57 0h0m-2-1h0m39 10h0m64 1h0m51 12h0m-16-1h0m-5-4h0m-5 3h0m-129 0h0m1 3h0m41 3h0m109-2h0m26 1h0m-19 8h0m-131 1h0m-22-3h0m-5 3h0m53 10h0m-48 6h0m84 4h0m76 13h0m-120-1h0m-28 5h0m19 5h0m126 2h0m-161-1h0m50 10h0m36 1h0m68 4h0m-49 2h0m39 11h0m3 4h0m-17-2h0m-56 3h0m-33-3h0" stroke="#7a50c8" stroke-width="2.0" opacity="0.25"/><path d="M21 4h0m54-4h0m59 1h0m-46 14h0m79 3h0m-47 9h0m44 7h0m-163 2h0m0 15h0m76 1h0m57 6h0m-118 1h0m134 4h0m-1 3h0m-133 1h0m-9-1h0m110 16h0m19 3h0m-113 7h0m76 9h0m-43 4h0m51 1h0m1-3h0m19 1h0m-114 13h0m19 4h0m25-1h0m4 2h0m8-1h0m9 3h0m50 1h0m33 15h0m-158-1h0" stroke="#7a50c8" stroke-width="1.0" opacity="0.25"/><path d="M26-1h0m159 4h0m-76-3h0m-42 4h0m-36-4h0m-24 7h0m20 1h0m63-1h0m3 2h0m21 6h0m-63 2h0m-40-3h0m114 5h0m31 3h0m18 3h0m-55 3h0m-58 4h0m92 2h0m-107 6h0m-32 6h0m71-1h0m82 6h0m-38-2h0m-18 3h0m-22-3h0m2 8h0m35-2h0m3 1h0m18 3h0m29-3h0m12 9h0m-18 0h0m-1-2h0m-20-1h0m-147 7h0m17-1h0m89-1h0m55 10h0m-163 2h0m45 2h0m14 0h0m114 3h0m-4 3h0m-5 0h0m-131 8h0m42 0h0m44 2h0m-40 4h0m4 5h0m48-3h0m40 8h0m-166 1h0m-1 15h0m47 4h0m58-5h0m76 10h0m-64-3h0m-68 4h0m-29-3h0m-7 2h0m24 6h0m66-4h0" stroke="#7a50c8" stroke-width="1.0" opacity="0.50"/><path d="M28 0l-2 2m2 2l-1 0m124 2h0m-31 4h0m-50 0h0m-63 18l0 3m9 63l1 1m55 43l1 1" stroke="#9272da" stroke-width="3.0" opacity="0.25"/><path d="M6 102l-1 1" stroke="#9272da" stroke-width="2.0" opacity="0.25"/><path d="M147 10l1 2m23 4l1 1m-12-4l2 0m-11 20h0m-132 9l1 2m115 11l0 2m37 12l-1 1m-120 3l1 2m41 10l2 1m-79 3l0 1m-16-5l1 2m147 7l1 0m37 2l-1 1m-112 8l-1 1m-28 8l0 1m-42 11l1 0m25 3h0m68 11l1 2" stroke="#8058d2" stroke-width="3.0" opacity="0.50"/><path d="M110-3l-1 2m-73 2l-1 1m40 4l2 0m-6 34l1 1m82 21l-1 1m6 6l-2 0m-143 8l1 2m147 2l1 2m-27 3l1 1m-103 41l-1 1m31 5l-1 2" stroke="#8058d2" stroke-width="2.0" opacity="0.50"/><path d="M64 18l-2 1m116 12l-1 1m-63-1l1 0m-66 11l1 0m-22 22l-1 0m22 20l-2 1m9 13l-3 1m-8 13l1 0m39 5l-2 1m28 15l-2 0" stroke="#9272da" stroke-width="4.0" opacity="0.50"/><path d="M79 4h0m-45 7l-1 2m111 3h0m-13 7l-1 0m-95 16l0 2m2-5l0 1m117 21l1 1m-60 9l-2 1m3-2h0m24 2l-1 1m9 66l-1 1" stroke="#8058d2" stroke-width="4.0" opacity="0.25"/><path d="M88 7l-2 2m37 3l0 1m-77 2l-2 1m120 2h0m25 3l-2 2m-11 10l1 1m-106-1l0 1m60 19l3 0m41-5l1 1m-80 21l-2 2m-85-3l1 2m164 10h0m-2 6l0 3m-9-1l2 1m-124 12l-1 1m57 3l-1 1m12-1l1 0m45 18l-1 1m-118-4l1 1m70 9l0 2" stroke="#9272da" stroke-width="3.0" opacity="0.50"/><path d="M77 22l1 0m86 0l-1 0m-80 5h0m-66 11l-1 1m119 50h0m-65 0h0m-2-3l0 1m-4 0l1 0m-12 17l-1 1" stroke="#8058d2" stroke-width="5.0" opacity="0.50"/><path d="M166-3l1 3m-152 2l-2 0m97 30l-1 1m-2 24l-1 1m-24 5l-3 1m63 23l-3 0m-108 4l0 1m95 2l1 1m48-1h0m-48 8l1 0m-24 26l1 0" stroke="#8058d2" stroke-width="3.0" opacity="0.25"/><path d="M14 1l-2 0m145 16h0m-26 2l-1 2m47 13l1 1m-110 9l-1 1m76 14h0m-115-1l-1 0m21 6l2 0m113-3l1 1m-150 15l1 2m27 19l-1 2m2 10l1 0m8 15l-1 0m20-4h0m49 4l1 2m30 8l0 2" stroke="#8058d2" stroke-width="4.0" opacity="0.50"/><path d="M128 13l-1 0m-105 42h0m113 30l0 1m-40 5h0" stroke="#8058d2" stroke-width="5.0" opacity="0.25"/><path d="M173 41h0" stroke="#9272da" stroke-width="6.0" opacity="0.25"/><path d="M164 19h0m-83 78h0" stroke="#9272da" stroke-width="6.0" opacity="0.50"/><path d="M72 12l-1 1m105 16l1 1m-104 13l1 1m-26 12l1 1m88 28l-1 1m-111 26l-2 0" stroke="#9272da" stroke-width="2.0" opacity="0.50"/><path d="M11 2l-1 1m-7 12h0m133 15l1 0m-29 28l-2 1m51 1l-1 0m-57 11l-1 1m-51 9l1 0m-10 7l-1 0m-23 2l-1 1m110 27h0" stroke="#9272da" stroke-width="4.0" opacity="0.25"/><path d="M100 41h0m69 91l0 1m-34 4h0" stroke="#9272da" stroke-width="5.0" opacity="0.25"/><path d="M171 20l1 0m-80 8l0 1m-90 70l-1 0m139 18h0m-132 12l0 1m147-2l1 1m-102 11l-1 0" stroke="#9272da" stroke-width="5.0" opacity="0.50"/><path d="M139 46l0 2m-79 45l-1 2" stroke="#8058d2" stroke-width="2.0" opacity="0.25"/><path d="M172-2h0m-29 6l1 1m-79 4l0 1m119 1l1 0m-43 2h0m-133 0h0m38 6l0 1m120 7l0 1m-119 1l0 1m-32-6l2 1m78 13l0 1m35 0l-1 0m14 6l-1 1m-94-2l1 0m57 6h0m62 2h0m-144 2l-1 0m11 6h0m139 8h0m-59 1h0m-62-3h0m-42 1h0m58 16l-1 0m64 4l2 0m-7 0h0m-17 2l-1 0m-108-2h0m98 5l-1 0m-23 5l1 1m-34-2l-1 0m-1 1l2 1m-27 7l-1 1m5 1l0 2m7-7h0m78 5l0 1m16 0h0m-28 5l0 1m-23-6h0m0 4h0m-56 0h0m110 3l0 1m39 1l-1 0m26-2l1 1m-35 9l-1 0m-113-1h0m-11-4l-1 1m-24 4l1 0m8 3l0 1m159 1l1 0m-160 6h0" stroke="#4414a2" stroke-width="2.0" opacity="1.00"/><path d="M67 2h0m38-1l-1 1m83 6l1 0m-33 0h0m-26 1l0 1m-25-4h0m-16 0l-1 1m-52 3l0 1m-9-1h0m-13 4l1 1m4 0l-1 0m91-1h0m17 9l-1 0m-6-1h0m-39 1h0m-74-5l-1 1m90 8h0m68 8h0m-50 0h0m-7 0l1 1m-34-4l-1 1m-21-1h0m-21 1l1 1m-17-3l1 1m80 5l0 1m81-2l1 0m10 0l1 0m-48 10h0m-42 3h0m19 1l-1 1m29 2l-1 1m26 5l-1 1m-9-4l0 1m-105 0l0 1m-28-4l0 2m-9 5l1 1m169 9l0 1m-94-2l1 1m-28-5h0m-56 11l1 0m24-3l0 1m6 1l0 1m82-4h0m-49 8l-1 1m16 3h0m50-1h0m-41 8h0m-96 4l1 2m146 5h0m-53 2l-1 1m-86 5l0 1m113 0l-2 0m49 0l1 1m-70 3l-1 0m-88 4h0m131 7l0 1m-14 2l-1 1m-31-3h0m-39 8l1 0m84-4l1 1m-13 8l0 1m-82-4l2 0" stroke="#5518b8" stroke-width="2.0" opacity="1.00"/><path d="M135 1l1 1m44 1l0 1m-141 6l1 1m-1-5l1 1m-7 0l1 0m-1 5h0m125 1h0m8 1h0m-37 7h0m-18 2h0m-93 8l-1 0m90 1l-1 1m4-3l0 1m26 9l-1 0m-109-2l0 1m-27-3l-1 2m75 5l1 0m30 2l0 2m3-1l-2 1m27-5l0 2m45-1l-1 0m-70 9l1 1m-53-4l-1 0m-36 8l-2 1m2-3l1 1m26-2l0 1m33 3l-2 1m94 3l0 1m-5-3h0m-67 3h0m-6-2l-1 1m-91 9h0m76 6l1 1m-70 1l0 1m154 13l1 1m-25-4h0m-49 5l0 2m-54-6l2 1m-12 0h0m118 5l-1 1m9-2l-1 0m8 11h0m-14-4h0m-35-1l-1 0m-23 3l1 0m-23 3h0m26 5l-1 0m15-1l-1 1m60-1l-2 0m27-4l-1 1m-13 5l0 1m-18 2l0 1m-93 0h0m21 2l0 1m9 1l-2 1m18-2h0m10 7h0m-63 0h0m-8-1h0m-42 7h0m22-2l-1 0m29 1l-1 1m20-1l1 1m26 2l-1 0m61 1l1 1m-135 0l-2 0" stroke="#4414a2" stroke-width="2.0" opacity="0.75"/><path d="M73 1h0m111 3l-1 0m-10 2h0m-161 10l0 1m142-1l-1 0m15 6h0m-43-4l0 1m-62 4h0m-42-4l0 1m84 4l0 1m58 3h0m-10 10l1 0m-29-2h0m16 8l-1 1m36 1h0m-77 4h0m-99-2l1 1m184 6h0m-15 5l0 1m-63 2l1 0m-41 0l0 1m58 3h0m-12 9l-1 1m22 6h0m-50 2l1 1m34 9h0m34 0h0m-7 5h0m-101-2h0m63 6h0m-93 8l0 1m-11 21h0m18 0l0 1m16 2h0m50-3l0 1m21 0h0m8-1h0m31 0h0m-102 6l0 1m-22-2l-1 1" stroke="#4414a2" stroke-width="3.0" opacity="0.75"/><path d="M30-1l0 1m21-2h0m107 6l0 1m-60-3l0 2m-50 1l0 1m-23-5l1 0m33 7l1 0m10 2l1 1m116-2l-1 0m-82 13h0m-101 4h0m22 1l0 2m42-1l-1 0m3-4h0m-39 10l1 0m-15-1l1 1m72 6l0 2m57 7l1 0m-133-1l-1 1m49 9l-1 0m60 0l1 0m8-1l-1 0m14 0l1 1m15-3l-1 0m-45 7h0m-80 2l-2 1m3 4h0m29 8l1 0m-54-4l0 1m-11-1l1 1m-1 3l0 1m72 8l-1 0m93 11l0 1m-74 2l1 1m-17-1l-1 1m-16-3l0 1m-48 2h0m75 4l1 0m85 1l1 1m-90 4h0m-38 7l1 1m112 4l0 1m-73-3h0m-34 2l1 0m94 7h0m37 3l1 1" stroke="#5518b8" stroke-width="2.0" opacity="0.75"/><path d="M70 10l-1 0m35-3l1 1m-17 26l-1 1m-10 10l1 1m-55 31l0 1m40 5l0 1m72-4l-1 0m-63 5l-1 1m31 22l0 1m51-1h0m12 16l1 0m-89-4l0 1m-48 10l0 1" stroke="#4414a2" stroke-width="1.0" opacity="0.75"/><path d="M136 21l-1 0m-67 10l1 0m16 46l-1 0m-19 18l0 1m-65 42l1 0m61 0l-1 0" stroke="#4414a2" stroke-width="1.0" opacity="1.00"/><path d="M78 6l-1 0m17 16l0 1m36 11l1 0m-60 20l-1 0m-71 15l0 1m19 11l-1 1m113 3l-1 0m33 1l-1 0m-141 11l0 1m86 16l-1 1m23 12h0m-93 6l-1 1m91 1l-1 1m43 0l-1 0" stroke="#5518b8" stroke-width="1.0" opacity="0.75"/><path d="M44 4l0 1m13-1h0m82 5h0m-36 2l-1 0m-55 0l0 1m-5 2h0m91 3l-1 0m-20 1l1 0m-29 1l1 0m-72 7l1 1m5-1l-1 0m146 2h0m-24 6h0m-45 1l-1 0m55 3h0m21 3l-1 0m-20 6l0 1m-10-2l1 0m-3-1l0 1m-7-3h0m-10 1l-1 2m-121 3h0m173 7l-1 0m-132 3h0m-33 12l0 1m104 3l1 1m-99 4h0m105 2l0 1m25 2l0 1m-61 6l-1 1m99 4l0 1m-28 1h0m-131 9l1 1m40-1h0m35 4l1 1m25 6h0m-79-3l0 1m60 6l0 1m17 1l0 1m62 4l1 0m-165 3l1 0m0 0h0m45 4l1 0m-55 5h0" stroke="#5518b8" stroke-width="3.0" opacity="0.75"/><path d="M12 15h0m84 13l-1 0m-34-3l-1 1m12 8l-1 0m25-4h0m47 17l-1 1m-97 0l0 1m58 4l-1 0m76-4h0m-45 8l1 0m-72-3l-1 0m111 8l0 1m-21 3h0m-73 15l-1 1m49 5l-1 1m-7-1h0m-63 0l0 1m13 19l-1 0m23 10l0 1m-39-3l-1 1m-32 2h0m55 5h0m14 1l-1 0m32-3h0m-51 6l-1 1m45 7h0m3-1l-1 0m68 8h0" stroke="#4414a2" stroke-width="3.0" opacity="1.00"/><path d="M15-2l-1 0m34 5h0m92 6h0m33 6h0m-39 39h0m-14 7h0m-22 18h0" stroke="#4414a2" stroke-width="4.0" opacity="0.75"/><path d="M63 12h0m99 20l1 0m-8 17l0 1m-88 69h0m20 14h0m82 2h0m-30 3h0m-73 4h0" stroke="#5518b8" stroke-width="4.0" opacity="0.75"/><path d="M4 3h0m23 1h0m101-3l-1 0m12 0l1 1m22 8h0m-16-1l1 1m-26 7l0 1m11 1h0m-103 5l1 1m79 2h0m37-2h0m-6 5l0 1m43 13l-1 2m-42 6l-1 1m-40-3h0m-28 13l0 1m-19 2l-1 1m127 10l1 1m-88 35h0m-89 6l-1 0m80-1l0 1m81 7l1 1m-47 3l-1 0" stroke="#5518b8" stroke-width="3.0" opacity="1.00"/><path d="M102 2l1 0m69 5l-1 0m-79 4l0 1m20 19l-1 0m75 28h0" stroke="#5518b8" stroke-width="1.0" opacity="1.00"/><path d="M106 15l1 0m-92 16h0m93 25h0m35 35h0" stroke="#5518b8" stroke-width="4.0" opacity="1.00"/><path d="M186 0l-1 0m-38 38h0m-82 1h0m-28 99h0" stroke="#4414a2" stroke-width="4.0" opacity="1.00"/></g></g>
<rect x="138.00" y="425.80" width="91.50" height="70.20" fill="#eef9fc"/><g transform="translate(138.00 425.80) scale(0.500)"><g clip-path="url(#mc102)" stroke-linecap="round" fill="none"><path d="M63 5h0m59-1h0m46 6h0m-4-3h0m-98 1h0m-63 2h0m65 4h0m39 8h0m-108-4h0m183 8h0m-47 13h0m-136-2h0m98 13h0m19-2h0m55 10h0m-141 2h0m21 1h0m117 10h0m-72-2h0m15 7h0m72-4h0m-123 13h0m-34 2h0m-8 11h0m149-2h0m-113 7h0m-50 0h0m65 8h0m18 8h0m-6-3h0m-82 8h0m107 11h0m-73 0h0" stroke="#7a50c8" stroke-width="1.0" opacity="0.50"/><path d="M24-1h0m109 1h0m-70 1h0m-39 1h0m6 6h0m95 1h0m21-3h0m23 6h0m-85 1h0m-15-1h0m-1 4h0m51 8h0m42 2h0m-67 5h0m-13 7h0m66 3h0m29 0h0m-91 5h0m-6 0h0m-8 0h0m-48 7h0m49-5h0m74 2h0m26 3h0m11 3h0m-67 3h0m-113-5h0m30 6h0m16 3h0m16 5h0m-14 2h0m-45 5h0m62-2h0m25 3h0m14-3h0m8 2h0m66 0h0m-3 4h0m-161 0h0m143 12h0m17 6h0m-67 2h0m-28 2h0m-6-4h0m-16 0h0m-47 6h0m86 4h0m11 0h0m2 5h0m-100-4h0m10 7h0m130 13h0m-7 3h0m-22-5h0m18 6h0m24 0h0m16 2h0m-23 7h0m-31-2h0m-30 2h0m-30-3h0m-40 3h0m-11-3h0" stroke="#7a50c8" stroke-width="2.0" opacity="0.50"/><path d="M78 4h0m97 0h0m-72 20h0m-18 1h0m3 6h0m80 6h0m-89 2h0m-49 4h0m77 2h0m-18 7h0m-32 1h0m80 11h0m5 0h0m-81 2h0m-7 0h0m-42 1h0m131 7h0m-53 12h0m24 6h0m-113 5h0m53 8h0m63-3h0m50 3h0m-26 14h0m35 7h0" stroke="#7a50c8" stroke-width="1.0" opacity="0.25"/><path d="M90 0h0m-29 17h0m-58 0h0m102 11h0m23 0h0m21 5h0m-117 2h0m41 1h0m31 6h0m-24 15h0m91 1h0m-165 5h0m5 4h0m24 12h0m-1 3h0m29 5h0m39-3h0m67 0h0m-25 15h0m-72-1h0m-37 5h0m131 0h0m4 7h0m-67 3h0m-32 6h0m23 0h0m-80 3h0m40 12h0m16 7h0" stroke="#7a50c8" stroke-width="2.0" opacity="0.25"/><path d="M8 4l0 1m39-5l-1 1m19 0l1 1m41 3l1 0m1-3l1 0m5 3l1 0m18-1l-2 2m26 0h0m-62 2l-1 0m-43 1h0m-1 2l-3 0m-24-4l-1 1m-5 9l-1 3m40-3h0m35 0l0 2m41-5l2 1m12-1h0m-45 6l-1 1m-30 1l0 1m-34 3l-1 3m4-3l-1 1m53-2h0m61 9l1 2m-9-6l-1 0m0 0l-2 1m-40 0l-1 2m10 5l1 0m24 3l1 2m28-3l-1 0m-43 5l-1 2m-65-5l-1 2m41 6l1 1m0 0l1 0m11-3l-2 1m21 0l1 2m0 2l1 2m56-4l-2 0m-24 8l-1 0m-5-5l-1 0m-27 2l0 2m-125-2l0 2m0 4l1 0m26 0l2 0m6 3h0m14-5l1 1m24 2l-1 0m87 0l2 2m-6 5l-2 1m-24-3l1 2m-86-3h0m-35 10l-1 2m4-5l-1 2m45 0h0m8-2l-2 1m36 2l-1 0m83 4h0m-60-2l-1 0m-116 6l-2 2m8 1l-2 1m23-1l0 2m79-3l-1 1m47-2l0 1m13 2l1 1m-36 3l2 2m-35-3l1 2m-11-2h0m-56 2h0m23 3h0m79 2l0 1m22 3l0 2m-23 0l-1 2m-34 0h0m-20-2l-2 0m-46 0l1 0m-21 3l-1 1m2 4l0 1m22-1l-1 2m9-3l0 1m4-1l2 1m119 0l0 1m1-1l-2 2m-12 1l1 2m-5-3l2 1m-131 0l-1 0m37 8h0m4-1l1 2m50-2h0m50-3l-2 2m15 2h0m4 5l0 1m-41 1l-1 0m-2-4l2 1m-100 0h0m2 7l1 2m21-2l0 2m72-2l0 1m-70 4l-1 1m-53 0l1 0" stroke="#8058d2" stroke-width="3.0" opacity="0.50"/><path d="M25-1l0 2m122-2l-1 1m17-2h0m-75 5h0m-77 7l-1 0m28 0l-1 0m22 1l0 1m28-5l0 1m2 3l0 1m26-4l1 0m2 0l1 1m56 0l1 1m-47 3l-1 0m-85 0h0m-17 2l1 0m-10 6l-1 1m138-1h0m22 6h0m-5-2l-1 1m-13 3h0m-61-3l0 1m-20 3l0 1m94-1h0m-37 10l1 2m-87 0l-2 1m42 0l-1 0m50 4l0 1m8-4h0m4 3h0m21 4l0 1m-27-2h0m-63-2l1 1m-43 3l1 1m-31-1h0m4 4l1 1m13 0l0 1m8-2h0m14 0l-1 1m17-2h0m91 4h0m-29 6l1 1m-52-2l1 1m-20 0l-1 1m5 3l-1 0m12-3l1 1m20 0l1 0m13 2l1 2m71-1l1 0m-132 4l0 1m-38-3l-1 0m-3 0l1 0m62 11l0 1m31-4l-1 0m29 0l0 1m59 3l0 2m-124 6h0m111 1l1 1m-37 7l0 1m-18-6h0m-31 3l0 1m-54-3h0m-5 0l-1 0m-13-1l0 1m-6 10l1 1m27-6l0 1m102-1l1 1m12 0l2 0m-29 7l-2 1m-16 2h0m-11-4l0 1m-2 0l1 1m-9 2h0m-50-3h0m-3 9l1 2m10-5l1 0m48 1h0m27 0l1 0m24-1l1 1m-1 9h0m-18 1l-1 1m-5 0h0m-11 4h0m3 5h0m71 2l-1 2" stroke="#9272da" stroke-width="4.0" opacity="0.50"/><path d="M146 1l0 1m37-2l1 1m-52 5l-2 0m-20 3l0 2m61 9l-1 1m8 9l0 1m-67 1l1 1m-33-3l2 1m-82 1l-2 0m37 12l-1 1m96-3l1 1m2 14l2 0m-17 0l0 1m-66-2l0 2m-13 6l1 1m143-4l0 2m-69 3l2 0m-39 1l-1 0m23 9l0 1m76 3l0 2m-157-1l0 1m-4 1l1 0m72 5l-1 2m63 2l-1 1m-16 1l0 1m-3 0l2 1m-131-4l0 2m8 7l1 1m76-1l1 1m-38 0l-1 2m10 5l-1 0m50 0l0 2m-96 6l-1 1m-9 0l-1 0m20 7l-2 1m151-3l1 1m-156 9l-1 1m135 4l-1 0" stroke="#9272da" stroke-width="2.0" opacity="0.50"/><path d="M136-1h0m5 3l0 1m-49-3l-1 2m-26 2h0m-38-3h0m40 9h0m67-1h0m30-3l0 1m-7 9l1 0m-10-2l-1 1m-113 12h0m128 1h0m21 3h0m-14 3l-2 0m-24-3h0m-72 2l-1 0m-15 2l-2 1m-54-5l-1 0m73 9l-1 1m101-5h0m4 5l1 2m-19 4h0m-14-4h0m-5-1h0m-32 3h0m-1 2h0m-45-1l0 1m-17-1h0m-20-4l1 1m-24 2l-1 1m35 3l2 2m82-3l-1 1m29 1l1 1m-14 9h0m-114 17l0 1m117-3h0m14 3l1 1m-25 1l0 1m-102-2l1 0m-27 6l2 0m148 1h0m-3 8h0m-40 0l2 1m-43-1l1 0m-21 7l1 0m46 5l0 1m-23-4l-1 2m-41-1l-2 1m-11 0l1 1m97 7l-1 0m-6 6h0m-99 6h0m27-3l1 1m67 1l1 1m7 0h0m46-2l0 1m12-4l0 2m-68 7l1 1m-53 7l1 1m133-2h0m-43 3l-2 2m-82-3l1 1" stroke="#8058d2" stroke-width="4.0" opacity="0.50"/><path d="M180 3l2 0m-22 7l0 2m-50-2l2 1m-36-3l-2 1m45 3l1 1m-23 7l0 1m-32 3l1 1m48 2l-2 1m15 1l1 1m19 2l1 0m-144 3l0 1m-2-4l1 2m164 4l2 0m-3 12l1 1m-67 2l0 1m-44-5l-2 2m-52 3l-1 1m10 0l-2 0m82 11l-2 1m24 23l-1 1m-82 8l-1 1m24 4l-1 1m28 2l2 1m-42 0l0 1m98 5l0 1m32 22l1 1m-17-2l1 2" stroke="#8058d2" stroke-width="2.0" opacity="0.50"/><path d="M118 6h0m35 2h0m9 88h0m-20 35h0" stroke="#9272da" stroke-width="6.0" opacity="0.50"/><path d="M63-2l2 1m63-1l1 0m-121 7l1 1m20 2l-1 1m97-2l0 1m55-2l0 1m-42 8l0 1m-13-1l-1 1m-21 0l-1 0m-21 0l0 1m-31-4l1 1m-40 3l0 1m38 5l0 1m61-1h0m47 0l-1 1m3-5l-2 1m12 0l-2 0m-36 9l-2 1m-81-2l-1 1m-48 3l-1 0m7 2l0 1m53-3l-2 0m44 1l1 0m14-2h0m0 3l0 2m6-2l-1 1m3 0l-1 2m43 0l-1 1m-83 1l1 0m-55 1l-1 0m-5 2l1 0m80 5l-2 1m82 4h0m-14-3l-2 2m-86-1l1 0m-43 2l1 1m-28-2l-1 1m154 7l1 2m-51 2h0m-72 0l1 2m-1 0h0m-25 0l2 0m28 3l0 2m51-3l2 1m65-2l2 1m-35 16l0 2m-38-7l-1 1m-6 4h0m-48-1l0 2m-23-2l0 1m-4-1l1 2m-6 5l2 0m49 0l-1 0m3-5l-1 1m34 2l-2 0m34 1l-2 1m17-2l-1 0m38 4l-3 0m-15 1l1 2m-24 0l-1 1m-43-2l-1 0m-52 4l0 1m12 0l-1 1m10 7l-1 1m-23-4l0 1m-25 4l-2 0m7 2l2 2m15-4l-3 0m45 3h0m27 2l-2 1m6 5h0m-17-3h0m-20-2l0 1m6 8l2 1m67 0l1 0m30 1l-2 1m-29 0l1 0m-72 1l-1 1m-58 3l2 0m29 1l-1 1m51 1l0 1m5-2l0 3m29 0h0m43 3h0m-46 2l1 0" stroke="#9272da" stroke-width="3.0" opacity="0.50"/><path d="M77 4h0m57-2l1 0m7 1h0m24 10h0m-1 16h0m-17 16h0m-53 9l0 1m69 3h0m-85 2l-1 1m-7-1h0m1 8h0m-59 17h0m101 8l0 1m-20 7l0 1m-68 7h0m15 4h0m39 8l0 1m-59 6h0m-15 6h0" stroke="#8058d2" stroke-width="5.0" opacity="0.50"/><path d="M56 1l0 1m-4 24h0m-4 32h0m78 11l0 1m10 16l-1 1m-57 12h0m-23 10l0 2m2-3h0m105 27h0m-75 5h0" stroke="#9272da" stroke-width="4.0" opacity="0.25"/><path d="M12 2l0 1m143-2h0m-104 10h0m3 9h0m85 7h0m-123-2h0m52 6h0m58 0h0m17 0h0m37 13h0m-54 4h0m38 5h0m-78 15l0 1m-20 1h0m93 4l0 1m-103 3h0m-20 8l-1 1m50 10h0m-17 3h0m8 4l-1 1m73 5l1 1m-132-1l1 0m31 9h0m56-2l1 0m49 3l-1 0m-5 1h0m-21 1h0m-6 2h0m-109 1h0m-3 1h0m67 5l-1 0m97-3h0m-14 4l-1 1m-126-1h0m-19 4h0m-6-3h0" stroke="#9272da" stroke-width="5.0" opacity="0.50"/><path d="M57-1l1 1m-3 96h0m92 29l-1 0" stroke="#8058d2" stroke-width="5.0" opacity="0.25"/><path d="M41 29h0m38 6h0m-19 3h0" stroke="#8058d2" stroke-width="6.0" opacity="0.50"/><path d="M150 4l1 1m-52 12l-1 1m-72-4l0 1m48 68h0m90 3l-1 1m-134 10l2 1m84-2h0m-61 34l0 1m80 3l-2 1" stroke="#9272da" stroke-width="3.0" opacity="0.25"/><path d="M118 47l2 0m-23 21l-2 1m23 50l1 1" stroke="#9272da" stroke-width="2.0" opacity="0.25"/><path d="M28 29h0m149 15l-1 1m-148 14l0 1m72 6l2 1m76 42h0m-109 19l2 0m-4 1l0 1" stroke="#8058d2" stroke-width="4.0" opacity="0.25"/><path d="M92 35l1 1m-67 64l0 1m57 33l2 1" stroke="#8058d2" stroke-width="2.0" opacity="0.25"/><path d="M178 23l-1 0m-17 18l0 1m-75 6l0 2m-29 30l1 1" stroke="#8058d2" stroke-width="3.0" opacity="0.25"/><path d="M166 1l1 0m-34 26l1 1m-84 4l-1 0m23 11h0" stroke="#9272da" stroke-width="5.0" opacity="0.25"/><path d="M59 25h0" stroke="#8058d2" stroke-width="6.0" opacity="0.25"/><path d="M164-1h0m-26 3h0m-82 25h0m20 28h0m-40 1h0m59 8h0m39 25h0m-120 6h0m0-2h0m12 11h0" stroke="#5518b8" stroke-width="4.0" opacity="1.00"/><path d="M10-1l0 1m1-2l0 1m83 0l1 0m41 0l0 1m45 3l0 1m-22-4l1 1m-2 1l1 0m-59 2h0m-9-3h0m-60 3l-1 0m-5 0l0 1m-23-4l-1 2m27 3h0m25 4h0m3-4h0m38 3l1 1m7-1h0m74-2l-2 1m-22 4l1 1m-15 2l0 2m-25-5h0m0 1l-1 0m-6 2l1 1m-37-2h0m-19 1h0m-13 1l-1 0m1-1l0 1m-12-1l-1 1m-13 6l0 1m4-1h0m7-2l-1 0m15 0l-1 1m119 2h0m21 3l-1 0m-14 3h0m-29-1h0m-18 1l0 1m-30-5h0m-43 3l-1 2m-31-1h0m-3 4h0m90-2l0 1m48 3h0m19-5h0m-14 9l0 1m-44-3h0m-1 2l0 1m-30-3l-1 0m-37 4h0m-6-3h0m-20 7l0 1m6 1l-1 0m5-3l-1 0m50 0l-1 1m24-2h0m8 2l1 0m56 2l-1 0m17-3h0m1 3l-2 1m-15 2l-2 1m-117-2l1 1m-3-1l-1 1m-22 2h0m-8-2h0m-3 0l2 0m17 8l0 1m41 0l-1 0m8-2l1 1m66-1l0 2m16 0l-1 1m24-5l-1 0m-6 9h0m-2 1h0m-18-2l-1 1m-25-4l1 0m-12 4l-2 0m-26 0l-1 0m-3-1h0m-12-2h0m-16-1l0 1m-14 3l0 1m-16 0l1 0m-5-2l0 1m-12-2h0m37 9h0m2-2h0m28-3l-1 1m101 3l1 1m-13 2l1 1m-40 2l-1 1m-19-4l-1 0m0 1l0 1m-16 2l1 0m-39-5h0m-2 8l-1 1m10 2l-1 1m3-1h0m43 0l0 1m10-3l-1 0m57 0l1 0m19 1h0m-6 5l0 1m-2-3l0 1m-48 3l-1 0m-70-1h0m-27-1l1 0m-32-1l0 1m12 6h0m17-1h0m20 2h0m18-1l1 0m20-3l-1 0m2 0h0m2 4h0m6-3h0m30-1h0m14 5h0m31 2h0m-24 4l0 1m-57-1l1 0m-11-1h0m-47 6h0m5-4l0 1m12-1l0 1m53-1h0m81 5l1 1m-47 3l1 1m-24 1l-1 0m-39 0l1 0m-38-3l0 1m-9-1h0m-8 0h0m-11-1l0 1m-8 3h0m31 4l0 1m28-3l0 1m4 2l0 1m7-3h0m15 2l2 0m6-1l1 0m12 1l0 1m4 0l0 2m29-5h0m20-2l0 1m12 10l2 0m-9 0l-1 0m-1-5l0 2m-13-2h0m-53 0l-1 1m-19 2h0m-2-3l1 1m-42 7h0m5 1h0m57-1l0 2m13-1l1 1m30-4l0 1m23 1l1 1m20-3h0m-27 10l-1 0m-4-3h0m-54 1h0m-4 3h0m-7-4l1 1m-16-2l2 0m-44 1l1 0m-12 2l1 0m-8 4h0m68-1l1 0m16 0l-1 1m12-1l0 1m34 0h0m8 0h0m19 3l0 1m1-2h0" stroke="#4414a2" stroke-width="2.0" opacity="0.75"/><path d="M86-1h0m58 5l1 0m-101-1l1 0m-32-2l-1 0m-10 9l1 0m41-1l1 0m6 1l-1 0m117 5l-1 1m-133-1l1 1m-14 6l1 0m13-3l-1 1m4 1h0m76-3l0 1m46 8l0 1m-92 0l0 1m-26-2l-1 0m65 6l1 0m43 8h0m-91-2l-1 1m-26-1l1 0m-19-1l-1 1m172 4l0 1m-19 4l0 1m-25 4h0m-73 8l1 0m94 5l-1 0m-73 4l-1 1m-85 4l0 1m72-2l-1 1m60-1h0m18 3h0m-98 2h0m-31 9l1 0m49-4l1 1m39-1l0 1m26-1l-1 1m-55 8l0 1m-31-2l1 0m25 9l1 1m-51 4l0 1m11 10l0 1m3-1l-1 1m139-1l1 0m-53 6l0 1m-39 1h0m-32-3l1 1m-55 5l1 0m146 5h0" stroke="#5518b8" stroke-width="1.0" opacity="1.00"/><path d="M15-2l0 1m159 4l-1 1m-122-4l0 1m-32 8l0 1m121-4l-1 1m12 5h0m-91 6l-1 0m17 4l0 1m92-2l-1 1m-124 4l1 0m-31 5h0m11-1l1 1m92 0l0 1m20 1l0 1m34 0l0 1m11 5l0 1m-5 0l0 1m-14-5l0 1m-88 2l-1 1m-11-1l0 1m-13-2l0 1m-15 2l1 0m5 2l-1 0m108 6l0 1m-147 2l1 0m36 4l0 1m21-1l-1 1m60-2l0 1m-2 10l1 1m-74 7l-1 0m95-1l0 1m36 5l1 1m-117-3l-1 0m-18 13l1 0m40 3l0 1m101-5l1 1m-68 7l1 1m-93 8l0 1m160 1l-1 1m-122 1l-1 1m-32 4l-1 1m89 5l0 1m-4-1h0m-92-1l0 1m59 6l-1 0m92-1l1 1m-92 4l1 1m-34 6h0m87 2h0" stroke="#4414a2" stroke-width="1.0" opacity="0.75"/><path d="M13 5h0m44 0l0 1m93-1l0 1m-30 0l1 1m-20 4h0m-31-3l-1 1m-15-2l0 1m-53 6l1 0m39-1l-1 0m4-1h0m30 4h0m4 1l1 1m96 2h0m-50-2h0m-7 0l1 0m46 6l0 1m-12 10l0 1m-50-5l0 1m-19-2l1 0m-26 1l-1 0m-27 2l1 0m-31 6l1 0m74-3l-1 1m89 5h0m-2 0h0m-28 5h0m-45 0l0 1m-1-1h0m-38-3l1 0m-30-2h0m-5 5l1 1m-4-3h0m-9 5l0 1m25-2l-1 0m58 5l-1 1m-16 4h0m-61-2h0m-2-2h0m33 7l0 1m32 1h0m3 0l-1 0m5 1l0 1m18-5h0m40 1l0 1m-43 3h0m-17 3h0m-10-3l-1 0m-1 5l1 1m-32-3h0m-4 2h0m-9-2l1 1m-8-2l0 1m109 4h0m62 9l-1 0m-17-3l1 0m-46 1h0m-7-2l0 1m-39 1h0m9 7h0m12-1h0m40 6l0 2m-40-4h0m-7 4h0m-5 1h0m-8-2l-1 0m-3-3l0 1m-10 2h0m-25 6l0 1m21 0l1 0m44-4h0m1 0l-1 1m19 3l0 1m61-2l1 0m-23 6l0 1m-23 1h0m-85-1h0m-27 7l1 0m54-2h0m58 1h0m1-2h0m-22 4h0m-96 5h0m-17 0h0m-7-5l1 0m7 10h0m46 1l1 1m79-1h0m1-3l1 0m25 0l0 1m26-1h0m-53 9h0m-116 0l0 1m1 0h0m41 0l0 1m17 3l-1 0m52 5l1 0m-44-2l-1 0" stroke="#4414a2" stroke-width="3.0" opacity="1.00"/><path d="M124 2h0m49 5l-1 0m-32 1l1 1m-24 1l1 1m-45-3h0m-5-2h0m-52 11l1 0m5-2h0m4-1h0m24 1h0m41 1h0m71 3l1 1m-84 1l-1 1m-6-4l-1 1m-12-1l-1 1m-31 6l0 1m10-1l0 1m34-2l1 0m68 6h0m-110 1h0m10 7l0 1m12 0l0 1m24-4h0m58 1h0m43 3l-1 1m-16 1h0m-16 3l1 0m-66-3l1 1m-15 0h0m-33 10h0m68 0l-1 0m56 2l1 0m-19 1l0 1m-80-2h0m-14 4l-1 0m-31-5l1 1m-7 4l0 1m48 2h0m63-1l0 1m33 9l-1 0m-88 0l0 1m-2-6l1 0m-31 0h0m23 10l0 1m6-2l1 0m96-3l1 0m22 3h0m-49 8l0 1m-9-4l1 0m-26-2h0m-20 0l-1 0m-36 2l0 1m-21 4l0 1m10 1h0m29 2h0m27-3h0m30 2l1 0m8-1l0 1m3 1l0 1m10-3l0 1m23-3h0m-40 10l0 1m-84 2h0m1 3h0m4-3l0 1m12-2h0m40 0h0m16 2h0m58 3h0m-122 0h0m12 7h0m4 3l0 1m32-1l1 0m23-1h0m32 0h0m27 8h0m-1-1h0m-31-2h0m-16 2l-1 0m-65 1h0m-10-2h0m-2 6h0m49 1h0m37-3l0 1m-52 9h0m-11-2h0m-11-3h0m-10 2h0m-5-1l-1 0m11 5h0m17 0h0m21 4h0m27 0h0m29-1l1 1m15-1h0m-11 5h0m-60 1l0 1" stroke="#4414a2" stroke-width="3.0" opacity="0.75"/><path d="M10-2l-1 1m166 6l1 1m-43-1l-1 0m-15-3l-1 0m-30 2h0m-58-2l1 1m-26 5l0 1m19 2l1 1m17-1h0m17-1l-1 1m21 0h0m27 0h0m14-3h0m54 3h0m9 2l1 0m-6 4l1 1m-31-1l-1 0m-12-1h0m-52-4h0m-6 2l1 0m-19-2l2 1m-23-1h0m-16 4l1 0m-5 7h0m1 0h0m2-3l1 1m2-3l0 1m9 0l1 0m14 0h0m8 4l0 1m2-3l0 1m18-2h0m42 2l-1 1m8-5h0m40 0l0 1m20 4l0 1m2-1l0 1m-2 1h0m-35 2l-1 0m-56 1l1 1m-55 0l1 1m-14-2h0m52 5l1 0m4-1h0m3 2l-1 1m12-5l-1 0m33 5h0m2-3l0 1m14 0h0m5 1h0m14-1l0 1m18 5l0 1m-77-4l-1 0m-17 3l0 1m-2 0l0 2m-13-1l1 1m-3-5h0m-59 0h0m-2 3h0m35 4l0 1m34-1h0m51 2h0m17 1l-1 0m19-3h0m11 1l0 1m-1 4l1 0m-6 1l-1 1m-3-4l-1 0m-1 4h0m-2-2l-2 0m-9-2h0m-20 5h0m-28-4l1 0m-8-1l1 2m-8 0l0 1m-15-1h0m-8 2l1 0m-44 0l0 1m-21-2l1 0m2 4l0 1m16 1l-1 1m14 0h0m1-3l0 1m17 1h0m5-3l2 0m69 0l-1 0m24 2l0 1m23 6h0m-14-2l0 1m-53 1l-1 1m-6-3l1 1m-15 3h0m-52-1h0m-9-3h0m-7 10l-1 0m12-1h0m35-4h0m19 5l-1 1m8-2h0m93-3l1 1m-9 5h0m-60 1h0m-67-1l0 1m-14 2l-1 0m-15 1h0m-3 5h0m16-1l1 1m33-3l0 1m34 0l0 1m9-1l0 1m28-1h0m48 3l2 0m-47 5l0 1m-3-2l1 1m-39-4l0 1m-17 0l0 1m-7 1h0m-66-3l0 1m-5 7l1 2m6 0l-1 0m3 0h0m18-4l1 0m10 3l0 1m21-3h0m24 3l0 1m19-2h0m29-2l0 1m40 9l0 1m-4-1h0m-53 0l0 1m-9-3h0m-12-1l0 2m-15 0h0m-5-3l-1 1m-14 2l1 1m-10-2h0m-2-1l0 1m-47 4h0m30-1h0m11 3l0 1m55 1l1 1m69-5l1 0m-12 5l0 1m-4-1h0m-24 1l1 0m-25 4l-2 0m-60-2l2 1m-17-2l1 1m-26 2h0m15 2l0 1m9 3l-1 0m6-1l-1 1m31 0h0m6-4h0m37 4l0 2m33-4h0m46-3h0m3 5h0m-27 1l1 1m-9 0l0 2m-33-1l0 1m-16-1l-1 0m-11 2l-1 0m-1 1l-1 1m-29-3h0m-42-2h0m6 9h0m10-1l0 1m22-3h0m40 1l0 2m16 1l0 1m71 3h0m-2-2l-1 0m-31 2l-1 0m0 1l0 1m-29 0h0m-97 3l0 1m67-2h0m52 2l0 1m1-1l1 1m19-3h0" stroke="#4414a2" stroke-width="2.0" opacity="1.00"/><path d="M37-2l0 1m94 2l0 1m-12-1l0 1m-8 2l0 1m4 4l0 1m10 3l1 0m-106 2l1 1m42 8h0m40 1l-1 1m-55 8l-1 1m-13 0l-1 0m-11-2l1 0m2 5h0m76 4l0 1m-49-1l-1 0m-44 8l-1 1m79 8l-1 0m-82-3l1 0m39 6l-1 1m32 1l1 0m37-2l0 1m68-3l-1 1m-156 5l-1 0m5 6l0 1m29 3l1 0m112 3h0m-140 9l-1 0m23-4l1 1m0 1l1 1m42 8l1 0m-23 4l1 0m24 6h0m-43-1l-1 0m-38 0l0 1m65 3l0 1m-28 8l0 1m-10 1l0 1m-4 0l0 1" stroke="#4414a2" stroke-width="1.0" opacity="1.00"/><path d="M17-2l0 1m150 2h0m0 0l0 1m-159 1h0m0-1l-1 1m4 7h0m174 6l-1 0m-126-3h0m1 8l-1 0m11 6h0m-15-1h0m-51-1h0m37 6l-1 1m30-1h0m41 1h0m43-1h0m22 4h0m-5 3l1 0m-22 0h0m-88 3l-1 1m0-2l1 1m-33-3h0m-5-1h0m0 7l0 1m12 1h0m43-1l-1 0m82-1h0m24 2h0m-81 6h0m-5-1h0m-52 2l1 1m-7-1l1 0m-4 0h0m139 6l1 1m5 5h0m-93-4l0 1m-28 1l1 0m-41-3l-1 0m42 11l0 1m5-2h0m54-2l0 1m17 2l0 1m9 5l0 1m-71-6l1 1m-23-1l-1 0m-40 9h0m129 7l-1 1m-114-5h0m3 9l-1 0m26 0h0m30-2h0m1 3h0m9-3l-1 0m13 0h0m15 1l-1 1m31-1l0 1m18 8l1 0m-8-5h0m-31 3l1 0m-113 7h0m33-1h0m61 1l0 1m50-2h0m18 8l1 0m-111-5h0m-9 1h0m-64 8h0m22 1h0m48-4l-1 1m29 1l0 1m12 2h0m32 3l-1 0m-73 8h0m9-3l0 1m21 3h0m84-2l1 0m-3 3l0 1m-25 0l-1 0m-23 2h0m-81 2l0 1m-2-5h0m33 6l0 1m17-1l1 0m7 3h0m39-3h0" stroke="#5518b8" stroke-width="3.0" opacity="0.75"/><path d="M76 6h0m8 5h0m49 1h0m-21 1h0m-71 10h0m134 8h0m-109 9h0m103 0h0m-107 5h0m6 26h0m20 0h0m71-4h0m13-1h0m-106 7h0m90 25h0m-88 7h0m-67 2h0m85 22h0" stroke="#4414a2" stroke-width="4.0" opacity="0.75"/><path d="M4-1l1 1m11-2l2 1m31 0l0 1m9-2l-1 1m4 0h0m25-1l-1 1m11-1h0m43 0l-1 1m18 0h0m27 0h0m-2 4l0 1m-23-4h0m-11 2l1 0m-7-1h0m-53 0h0m-15 1l0 1m-9 0l-1 1m-20-4l-1 1m-20 3l1 0m-8-2l-1 1m-5 7l-2 1m59-5l0 1m21 0l0 1m44 2h0m35-1h0m7-1l1 1m8-3l-1 1m-4 6l0 1m-21 0l0 1m-81 2h0m-36-4l-1 0m-4 3l1 2m-8-4l1 0m-9 0h0m-5 2h0m-15-1h0m19 4l-1 1m44 1l0 1m13-4l-1 1m22 2h0m48-1l-1 2m30 6l-1 0m-2-3l-1 1m-72-1l-1 0m-10 2l0 2m-14-4l0 2m-4 1l0 1m-54-5l0 1m-14 7l0 1m44 0l1 0m17-2l1 2m6 0h0m21-2l1 0m10 0l1 1m79 0h0m-16 4h0m-69 4h0m-1-3h0m-8 2h0m-75 0l-1 1m60 2h0m11 1h0m18-1h0m51 5l-1 0m7-5h0m13 0l1 1m12 7l1 0m-26-2l-1 1m-57 3l0 1m-45 0l0 1m-44-1l0 1m12 0l0 1m2 0h0m13 0l-1 0m30 2l0 1m17 1l1 0m35-2h0m39-3l0 2m14 6l1 0m-24 1h0m-51-1l1 1m-20 0l-1 1m-53-1l1 2m-3 5l-1 0m10-2h0m43-1h0m49 4h0m9 0l1 1m44 3h0m-12-2l-1 2m1 0l0 1m-1-3h0m-17 1l-1 1m-10-2h0m-11 3h0m-44-4h0m-21 0l1 0m-24 7h0m26 1l1 1m33 2l0 1m12-5l-1 2m40 2l0 1m4-4l0 1m8 6l-1 1m-10 1h0m-1 0h0m-25 0l1 1m-6-2h0m-11-1l0 1m-32-4h0m-8 1l1 1m-3 2h0m-33-4h0m-4 7h0m5 2l1 1m5-3h0m12 3h0m61 1l0 2m12-3l-1 0m20-3l-1 1m12 3l-1 1m8-2l1 0m17-4l1 0m2 0l1 1m-28 10h0m-9-5l1 1m-6-1l-1 0m-8 5l1 0m-35 0h0m-9-3l1 0m-5 1h0m-60 1h0m-5-4h0m-7 4l-1 0m-13 5l-1 0m7 2h0m10-1h0m25 0h0m11 1l0 1m28-3l-1 0m47-2l0 1m12 3l1 1m27-2l1 0m9 1l1 1m-25 3h0m-26-1h0m-3-1l0 1m-32-2l1 1m-11 0h0m-5 3h0m-4 0h0m-19-3h0m-3 0l-1 0m-8-1h0m8 7l2 1m9 3l-1 1m20-6l2 1m7 3h0m14-3l-1 0m39 2l1 0m39 0l1 1m-12 7l1 0m-4-1l-2 0m2-4h0m-25 2h0m-1-2h0m-3 5l0 1m-12-5h0m-64 4l0 1m-8-1l1 1m-12-1l0 1m-11-4h0m-12 1l0 1m-2-4l-1 1m-6 3l1 1m-6 5l-2 1m11-2l0 1m2-2h0m26 2l-1 0m20-1l1 0m7 2h0m4-1h0m14-4h0m3 2l0 1m13 1h0m3 1l-1 1m11-1h0m1-1l1 1m4-5l0 1m4 0l-1 1m1 6l1 0m-55 1h0m-8 2l0 2m-11-4h0m-29-1l1 1m125 6l1 0m5-2l-1 0" stroke="#5518b8" stroke-width="2.0" opacity="1.00"/><path d="M61-2l0 1m49 0h0m60 1l-1 1m-14 4h0m-1-4l-1 1m-4 3l0 1m-48-1l0 1m-11-2h0m-1-4l-2 0m-57 4l1 1m-1-5l1 0m-28 6l0 1m5 0l-1 2m20-3l0 1m5 4h0m26-4h0m2 0h0m46 0h0m65 2l0 1m1 1l-1 1m7-5l1 1m3 2l-1 1m-19 6h0m-27-4h0m-34 1h0m-26 2l0 1m-32 0l1 1m-5-2l0 2m-28-2h0m4 6l0 1m15-1l-1 1m54-2l-1 0m63-2l-1 2m7-2h0m9 0l1 1m4 0l0 1m11-3l1 1m6 2h0m-5 7h0m-24 0l-1 1m-38-3h0m-46-1l1 0m-23 2l0 1m-14-4l0 1m-35 5l1 0m15 4l-1 1m14-2h0m33 0h0m4 2h0m48-5h0m71 6l-2 1m1 2l1 1m-16 1l2 1m-12-4l1 0m-3 0l-1 1m-10-3l0 1m-2 0l1 1m-28-1l1 0m-27-1h0m-32 4l1 1m-17-1l0 1m-2-3l1 0m-6 2l0 1m-6-2l1 1m-6 1h0m-24 3l0 1m2-3l0 1m6 3h0m37 1l1 1m69-1l0 1m34-2l-1 1m2 0l0 1m30-5l1 0m1 3l1 2m-178 0l-1 0m24 11l1 1m6-6h0m8 5l-1 1m38-6l1 0m23 4h0m64-4h0m-87 11h0m-19-5h0m-21 2h0m-25 0l1 1m-5 1l-1 0m-12 0h0m32 3h0m13-1h0m2 3h0m51 0l-1 1m88 0l-1 0m-46 4l1 0m-29-2h0m-22 5l-1 1m-1-6h0m-34 5l0 1m-9-4h0m-10-1l1 0m-31 3l0 1m2 4l1 1m48 0l0 1m9-5h0m44 4l-1 0m18-4l0 1m34 3l1 1m19 4l0 1m-19-1h0m-26-1h0m-3 1l1 0m-46 2l-1 0m-15 0h0m-6-1h0m-27 1h0m-6-4l-1 2m-11 1l-1 1m-6 3l1 1m11 2l-1 0m23-5h0m22 3l-1 0m2-2l-1 1m31 1l0 2m51 0l0 1m5-5l-1 1m10 0l1 1m0 4h0m-11 4l1 1m-13-4h0m-11 1l-1 0m-7 0l-1 1m-10 0l-1 0m-21 1l-2 1m-27-4l0 2m-17 0l-2 0m40 7h0m93 0h0m1 0l-1 1m11 2h0m-63 2l1 1m-25-1l-1 1m-18-1h0m-12-4l0 1m-11 4h0m-25-3h0m-28 6l1 0m9 3h0m20-3l1 1m3 1l0 1m21-5l0 1m23 1l1 0m17 1l-1 0m46-3l-1 1m4 4l0 2m18-7l0 1m12 0h0m-13 6h0m-74 0l-1 1m-39-1h0m-21 3l0 2m-20-4l-1 1m-4 0l0 1m39 4l-1 0m10 1h0m62-1l1 0m5 0l0 1m19 1l0 1m1-3l1 0m44 2l2 1m-53 3l-1 1m-19 2l0 1m-21-3h0m-16-2h0m-32 2h0m-1-3h0m31 10h0m4-4h0m26 2l0 1m2-1l-1 0m33 0l1 0m23-1h0m15 0h0" stroke="#5518b8" stroke-width="2.0" opacity="0.75"/><path d="M13 2h0m161 13h0m-155 4h0m-10 8h0m28 12h0m72 16h0m-45 2h0m-14 1h0m-45 17h0m28-3h0m26 11h0m53 2h0m3 0h0m28 0h0m-21 12h0m-38 2h0m55 8h0m-126 11h0m70 11h0m18 5h0" stroke="#4414a2" stroke-width="4.0" opacity="1.00"/><path d="M175-1l0 1m-27 5h0m-9-1l1 1m-6-1l1 0m-43 0l-1 0m-65-3h0m20 9h0m117 3h0m-14 3l0 1m-50-5l-1 0m-4 2l-1 0m-40 2l-1 1m-31 6h0m44 0l-1 1m95-5l0 1m-24 9h0m-36-1l-1 1m-3-4h0m-82 3l-1 1m-9-3h0m-2 8h0m74-1l0 1m25-1h0m10-3h0m61 7h0m-2 2h0m-131-1h0m-1 2l-1 0m-14-1h0m35 7h0m64-2l0 1m62 4l-1 0m-116 2l1 1m-25-1h0m-10 1h0m-10-1h0m-10 2l-1 1m22 2h0m6-2l-1 0m16 5h0m94-2h0m-11 3h0m-83 4l0 1m-42-5l0 1m58 9l1 0m5-3h0m15 4h0m23-2h0m43 2l0 1m14-6h0m-58 6h0m-63 1l0 1m-15-2h0m-12 3h0m-11 3h0m85 2h0m22 5l-1 1m-47 2h0m-44-4h0m-16 5h0m28 3h0m74 3l-1 1m2-3l-1 1m41-3l-1 0m22-1l1 0m-37 10h0m-31-3h0m-39 4h0m-38 1l1 0m110 3l2 0m18 3l0 1m-119 2h0m-30 1l0 1m-13 2h0m1 4l-1 0m35-1l1 0m131 2l1 1m-30 3h0m-14-3l1 1m-105 1l1 0m105 4l-1 1m27-1h0m25 6h0m-3 2l0 1m-37-2h0m-64 1l0 1m-55 5h0m18-1h0m118 1h0m15 0h0" stroke="#5518b8" stroke-width="3.0" opacity="1.00"/><path d="M81 3l1 0m8-3l-1 0m12 5l-1 0m22-1l1 0m57-2l1 1m-38 13l1 0m-142 7l1 0m26-4l0 1m137 6l-1 1m-24 0l-1 1m-91-3h0m-7 1l-1 0m9 7l-1 1m13-3l0 1m97-2l-1 0m17 4l1 0m-76 10l-1 1m-64-3l0 1m66 7l-1 0m23 0l0 1m-13 13l-1 0m-58 6h0m12-2l1 0m13 3l-1 1m20 1l1 0m-6-1l0 1m-16 2h0m-53-3h0m51 11l1 0m96 4l-1 1m-97 3h0m75 1l0 1m-44 8h0m-24-5l-1 0m-73 0l1 0m2 6l-1 0m61 8l-1 0m-12 9h0m46-1l1 1m38-4l-1 0m24 3l-1 1m-82 3l-1 0m-64 3l0 1m38 2l1 0m1 2l0 1m118-2l-1 1m-43 4l-1 1m-60-1l1 0m-41-2h0m-9 4l0 1m163 1l0 1" stroke="#5518b8" stroke-width="1.0" opacity="0.75"/><path d="M108-2h0m69 5h0m-125 15h0m132 22h0m-124 4h0m11 5h0m7 13h0m54 2h0m-128 6h0m150 6h0m0 2h0m-152 27h0m144 21h0m-112 3h0" stroke="#5518b8" stroke-width="4.0" opacity="0.75"/></g></g>
<rect x="41.00" y="498.50" width="93.20" height="70.30" fill="#eefafc"/><g transform="translate(41.00 498.50) scale(0.500)"><g clip-path="url(#mc103)" stroke-linecap="round" fill="none"><path d="M51 1h0m57 1h0m67-1h0m5 4h0m3-1h0m-51 2h0m-36 1h0m-6 1h0m-5 0h0m-85 2h0m44 6h0m29-2h0m55 3h0m18-4h0m6 6h0m-62 0h0m-6 1h0m-6 1h0m-44-3h0m-28 4h0m26 6h0m62-2h0m6 0h0m3 1h0m22 1h0m15 0h0m33-4h0m13 7h0m-27 3h0m-16-3h0m-124 4h0m-14 3h0m12-1h0m9 1h0m65-1h0m35 4h0m46-3h0m-134 7h0m-24 1h0m-3 1h0m-5-1h0m39 5h0m2-2h0m12 0h0m5 1h0m12-2h0m22 1h0m29 4h0m1-1h0m10 5h0m-27-3h0m-11 5h0m-9-4h0m-67 1h0m-15 7h0m1-2h0m58 2h0m29-3h0m14 2h0m13-2h0m33 4h0m19-4h0m8 4h0m-19 6h0m-2-3h0m-18 0h0m-2 2h0m-62-3h0m-7 3h0m-1 1h0m-74-2h0m41 4h0m29 4h0m25-4h0m48 2h0m30 4h0m-10 4h0m-80-4h0m-22 4h0m-25-1h0m-18-2h0m-9 5h0m2 1h0m17 0h0m35 3h0m14-1h0m27 1h0m9 0h0m4-1h0m34-1h0m35 4h0m-27 3h0m-27-3h0m-32 3h0m-22-2h0m-4 0h0m-1 0h0m-5-1h0m-11 0h0m-6 5h0m-32 6h0m49-2h0m17 1h0m4 0h0m18 0h0m48-4h0m2 8h0m-6 3h0m-36 0h0m-44-1h0m-21 0h0m-12 0h0m-37 7h0m109-5h0m2 0h0m12 2h0m53 1h0m12 0h0m-23 7h0m-1-3h0m-65 3h0m-20-1h0m-21 0h0m-25 0h0m8 6h0m2 1h0m109-4h0m29 7h0m-7 3h0m-78-3h0m-11 3h0m-14-1h0m-2 1h0m82 6h0m19 1h0m12 3h0m-35 1h0m-45-3h0m-7 1h0" stroke="#7a50c8" stroke-width="2.0" opacity="0.50"/><path d="M54-1h0m83 0h0m-41 3h0m-34 0h0m-23-1h0m-17 6h0m145 8h0m-14-1h0m-153 8h0m45-3h0m7-1h0m23 4h0m70-2h0m16 7h0m-36 1h0m-56-1h0m-65 3h0m134 3h0m34-3h0m-95 7h0m-6 4h0m-6-1h0m-30-1h0m-20 1h0m0-1h0m-2 1h0m68 7h0m92-1h0m9 3h0m-20-1h0m-38 3h0m-7 1h0m-60 0h0m-12 0h0m-45 0h0m24 6h0m51-2h0m107 9h0m-59 0h0m0-1h0m-80-3h0m-27-1h0m107 8h0m20 2h0m35-2h0m0 4h0m-95 6h0m98 6h0m-57 0h0m-32 3h0m-5 1h0m-74 7h0m32-2h0m4 2h0m1-4h0m58 0h0m71 0h0m-16 8h0m-34 0h0m-14-1h0m-4 1h0m-68-3h0m-8 0h0m19 6h0m4 5h0m126 0h0m4 4h0m-64-3h0m-18 0h0m-30 2h0m-21 1h0m-1 4h0m6-1h0m5 0h0m24 3h0m37-1h0m-70 5h0m-34 4h0m141 3h0m4 9h0m-128-1h0m117 4h0" stroke="#7a50c8" stroke-width="1.0" opacity="0.50"/><path d="M104-1h0m36 2h0m-92 1h0m76 4h0m30 0h0m-103 9h0m53 6h0m-41 4h0m-48 3h0m119 5h0m14 3h0m-13 3h0m-129 4h0m71 1h0m90 6h0m-80-2h0m-81 11h0m145-5h0m27 9h0m-99 7h0m8 0h0m78 6h0m-48-2h0m-86 6h0m10-2h0m62 0h0m45 8h0m-20 0h0m-125 0h0m-5 3h0m131 17h0m43-3h0m-24 10h0m-1-2h0m-42-1h0m-81 0h0m3 7h0m116-2h0m-9 8h0m-67 2h0m-18-4h0m-23 4h0m-19-1h0m46 3h0m8 3h0m24 1h0m65-4h0m25 9h0m-8 0h0m-18 4h0" stroke="#7a50c8" stroke-width="2.0" opacity="0.25"/><path d="M101 6h0m81 4h0m-33 13h0m9 5h0m18 5h0m-117 0h0m69 14h0m-17 4h0m-106 8h0m103-1h0m-14 15h0m12 5h0m64 2h0m11 4h0m-124 5h0m18 4h0m51-2h0m33 4h0m-88 8h0m-9 0h0m-48 6h0m28 8h0m-32-2h0m103 22h0m-48 1h0" stroke="#7a50c8" stroke-width="1.0" opacity="0.25"/><path d="M91 4h0m82 9h0m-143 9h0m-5 6h0m162 19h0m-79 18h0m-101-2h0m4 12h0m13-3h0m141 5h0m-13 3h0m1 9h0m6 1h0m-55 0h0m58 30h0m-113 7h0m59 7h0m-49 8h0" stroke="#7a50c8" stroke-width="2.0" opacity="0.75"/><path d="M169 3h0m4 3h0m-133 15h0m61 49h0m-23 14h0m-38 44h0" stroke="#7a50c8" stroke-width="1.0" opacity="0.75"/><path d="M56 18l-2 0m-8 19l1 2m46 29l2 1m88 29l0 2" stroke="#8058d2" stroke-width="6.0" opacity="0.25"/><path d="M111 15l2 0m-64 50l0 5m-23 3l5 1m31 40l2 2m90 6l2 1" stroke="#8058d2" stroke-width="3.0" opacity="0.25"/><path d="M7 37l-1 1m92 2l-4 2m-57 51l1 4m120 4l-1 1m-122 15l-1 1" stroke="#8058d2" stroke-width="4.0" opacity="0.25"/><path d="M104-1l1 1" stroke="#9272da" stroke-width="7.0" opacity="0.25"/><path d="M99 60l-1 4" stroke="#9272da" stroke-width="3.0" opacity="0.25"/><path d="M116 21l-2 1m24 98l3 2" stroke="#9272da" stroke-width="4.0" opacity="0.25"/><path d="M135 17l-1 2m-37-1l-1 0" stroke="#7d38c9" stroke-width="4.0" opacity="1.00"/><path d="M129 40l-3 2m-15 69l2 1m-12 7l2 2" stroke="#7d38c9" stroke-width="3.0" opacity="0.75"/><path d="M145 13l-2 0m-64 15l2 3m22 76l-3 1" stroke="#6a2ac0" stroke-width="3.0" opacity="1.00"/><path d="M89 9l0 1m17-2l-3 2m73 41l1 1m-53-1l2 1m-6 4l1 1" stroke="#7d38c9" stroke-width="4.0" opacity="0.75"/><path d="M61 120l-1 2" stroke="#7d38c9" stroke-width="3.0" opacity="1.00"/><path d="M174 53l-1 2m5-3l2 0" stroke="#6a2ac0" stroke-width="5.0" opacity="1.00"/><path d="M48 129l-1 1" stroke="#6a2ac0" stroke-width="5.0" opacity="0.75"/><path d="M103-3l-1 3m58 27l0 4m-46 5l-1 1m-67 22l-1 1m-32 49l1 1" stroke="#6a2ac0" stroke-width="3.0" opacity="0.75"/><path d="M78 9l-3 1m-37 32l-2 1" stroke="#6a2ac0" stroke-width="2.0" opacity="0.75"/><path d="M13 15l-2 0m137 113l-4 1" stroke="#7d38c9" stroke-width="2.0" opacity="1.00"/><path d="M162 69l0 2m-70 5l4 1" stroke="#7d38c9" stroke-width="2.0" opacity="0.75"/><path d="M158 22l1 1m19 110l-1 2" stroke="#6a2ac0" stroke-width="4.0" opacity="0.75"/><path d="M153 37h0m-26 36h0m-74 17h0" stroke="#6a2ac0" stroke-width="3.0" opacity="1.00"/><path d="M157 36l-8 3m-20 33l-5 1m3 2l1-7" stroke="#6a2ac0" stroke-width="2.0" opacity="1.00"/><path d="M150 40l4-5m-1 5l-1-5m4 3l-5-2m-95 52l-6 3m4 2l-1-5" stroke="#6a2ac0" stroke-width="1.0" opacity="1.00"/><path d="M176 11h0m-43 98h0" stroke="#6a2ac0" stroke-width="3.0" opacity="0.75"/><path d="M174 11l4 0m-2-2l0 4m-97 15l-3 2m0-2l3 3m53 57l-2 4m2-3l-5 1m5 3l-4-5m1 21l8-1m-3 0l-3 3" stroke="#6a2ac0" stroke-width="1.0" opacity="0.75"/><path d="M78 29h0m53 61h0m-1 15l4 7" stroke="#6a2ac0" stroke-width="2.0" opacity="0.75"/><path d="M37 57h0" stroke="#7d38c9" stroke-width="3.0" opacity="0.75"/><path d="M37 53l1 6m23-1l-5-2m4-1l-3 4m1-4l1 5m-18-4l-6 1" stroke="#7d38c9" stroke-width="1.0" opacity="0.75"/><path d="M39 71h0" stroke="#7d38c9" stroke-width="3.0" opacity="1.00"/><path d="M43 69l-7 3m2 1l2-4" stroke="#7d38c9" stroke-width="2.0" opacity="1.00"/><path d="M40 72l-3-4" stroke="#7d38c9" stroke-width="1.0" opacity="1.00"/><path d="M59 58h0" stroke="#7d38c9" stroke-width="2.0" opacity="0.75"/></g></g>
<rect x="138.00" y="498.50" width="91.50" height="70.30" fill="#f0f6fc"/><g transform="translate(138.00 498.50) scale(0.500)"><g clip-path="url(#mc104)" stroke-linecap="round" fill="none"><path d="M88 6h0m93 3h0m-68 4h0m-48 5h0m81 0h0m35 8h0m-127 0h0m-17 8h0m1 1h0m12-2h0m99 6h0m-92 8h0m8-4h0m68 0h0m6 1h0m2-1h0m10 10h0m-118-5h0m4 10h0m144-3h0m-63 15h0m-109 1h0m33 5h0m2-4h0m115 11h0m-10-2h0m-28 2h0m-14-5h0m-52 2h0m-5 1h0m75 14h0m42-4h0m-34 8h0m-10 2h0m-57-5h0m-6 3h0m58 11h0m40-2h0m0 8h0m-121 0h0m49 9h0m33-2h0m58 1h0m-38 5h0m-2 1h0m-22 1h0m-3-3h0m-89 5h0m95 4h0m6-5h0" stroke="#7a50c8" stroke-width="2.0" opacity="0.50"/><path d="M136 1h0m40 7h0m-93-2h0m-85 17h0m40-1h0m31-3h0m102 8h0m-3 6h0m-156 5h0m32 39h0m90 5h0m-21 1h0m-85-1h0m-22 0h0m94 11h0m43 17h0m-81 13h0m89 7h0m-88 11h0" stroke="#7a50c8" stroke-width="1.0" opacity="0.25"/><path d="M54 4h0m46-1h0m48 6h0m-66 2h0m-62-5h0m29 9h0m18-2h0m52 3h0m30 6h0m-104 7h0m39 0h0m-50 5h0m-23 18h0m78-4h0m1 3h0m45 2h0m46 1h0m-169 16h0m88-4h0m2 5h0m13 5h0m-20-3h0m-48 1h0m-10 4h0m129 9h0m-39 1h0m-27 1h0m-49-2h0m-34-3h0m146 6h0m-76 12h0m-18 8h0m-43 5h0m67 15h0m22-2h0m-67 7h0m-2 2h0" stroke="#7a50c8" stroke-width="2.0" opacity="0.25"/><path d="M83 3h0m69 1h0m19 3h0m-37 0h0m-68 3h0m52 7h0m45-1h0m-28 3h0m-11 3h0m-16-3h0m-74 5h0m123 8h0m-7 1h0m-38 0h0m-98-2h0m-15 7h0m78-1h0m105 7h0m-48-1h0m-29 6h0m47 1h0m10 0h0m-7 11h0m-89 2h0m-13-3h0m-24 2h0m99 9h0m43-5h0m8 3h0m-70 8h0m43 1h0m-71 6h0m-8 2h0m-23 7h0m53 2h0m4-1h0m41 6h0m-72-3h0m-49 6h0m48 2h0m42 2h0m2 10h0m-115 16h0m158 6h0" stroke="#7a50c8" stroke-width="1.0" opacity="0.50"/><path d="M39-1l0 1m75-3l-1 3m51 4h0m-13-4l-2 1m-15 3l1 1m-111 8h0m28 1h0m-19 9l2 1m114 11l1 2m4-3l3 1m-2 8l0 1m-110 5l-2 0m133 18l0 1m-61 3l-2 0m-101 10l-1 1m158-3l1 1m-88 14l0 1m-37 11h0m73 1l-1 2m8 2l1 1m-20 5l0 1m16 4l0 1m-92-3l-1 1m146 5l2 1m6 10l1 0m-151 4l2 2" stroke="#8058d2" stroke-width="4.0" opacity="0.50"/><path d="M79 5l1 1m36 3l1 0m-104 8h0m86 13h0m-53 1h0m50 15l1 2m-52 27l0 1m130 18l0 1m-29 23l-1 0m-119 19l-1 0m63-5l1 0" stroke="#8058d2" stroke-width="5.0" opacity="0.25"/><path d="M133 1l1 2m-114 11h0m129 12l-2 1m6-3h0m-6 7l-2 1m-125 1l-3 1m-9 2l1 2m86 1l1 1m1-4l1 0m16 0l-1 2m72 3h0m-48 1l-2 1m-5 2h0m-54 0h0m-35 12l-1 2m2-2l1 0m35-2l0 1m67 5l1 1m-15 8l0 3m17-2l1 1m19 3h0m-42 2h0m-15-2h0m-68 4h0m140 9l0 1m-34-5l1 1m-73 7l0 2m108-1l-1 1m-173 3l0 2m64 4h0m89 10h0m-3 0l-1 1m-112-2h0m-46 4h0m46 2l-1 0m98 13l-2 1m-43-2l2 1m-40 5l1 1m69 0h0m23-4l1 0" stroke="#9272da" stroke-width="4.0" opacity="0.50"/><path d="M28 1l0 1m10 3l-1 1m42 5h0m-50 2h0m138 3l-1 2m-49 2h0m-3 11l1 0m34 5l0 2m-39-1l1 0m47 29l0 1m0 7l0 2m-13-1l0 1m8 7l2 0m4-5l1 2m-114 17h0m-16 9l1 1m79 6l0 2m-23-4l-1 1m-67 5l-1 1m132 13h0m-74 8l0 1m12 1l0 1" stroke="#9272da" stroke-width="5.0" opacity="0.50"/><path d="M174-1l-2 2m-51-1l-1 0m-52 6h0m66 9l1 1m-41 0h0m-11-1l-1 0m-67 22l-2 0m11 3l0 1m32-2l-1 2m130 7l0 1m-69 4l0 2m-90 1l-3 0m80-1l1 0m77 15h0m-74 0l1 0m-110 13l1 2m37-7l-1 2m52 3l0 1m47-2l-1 2m-92 4l-1 2m-3 11l1 3m30-3l-1 1m25-4l-2 0m52-1h0m35 22l1 1m-26-4l1 1m-53-2l-1 0m-78 6l-2 1m15 0l-2 0m141 7l2 2m-83-3l0 2m39 6l-3 1m19 3h0m-74 2h0m-34 0h0" stroke="#8058d2" stroke-width="3.0" opacity="0.50"/><path d="M46 22l0 2m30 7l0 1m11 4h0m69 2l-1 2m2-3h0m22 5l1 0m-143 3l-2 1m58 22l1 1m52 7l2 1m-109 6l1 1m5-4l2 0m34 2h0m-33 6h0m100 35l1 1m6 0l2 1m-24 2l-1 2m-9 9h0" stroke="#8058d2" stroke-width="3.0" opacity="0.25"/><path d="M150 2l1 2m-135 5l0 1m13 25l1 1m2-2l-2 0m90-2l-1 1m47-3l1 1m-97 26l0 1m-65-4l0 2m-2 14l-1 1m41 3l-2 1m6 26l0 3m107 15h0m-22 5h0" stroke="#9272da" stroke-width="3.0" opacity="0.25"/><path d="M107 16l-1 1m-52 89l0 2m-43 34l2 1m93-4l-2 1" stroke="#9272da" stroke-width="2.0" opacity="0.25"/><path d="M124 13h0m-119 10l0 1m88 5l-1 0m-83 5l-1 0m72 31h0m-58 4l0 1m37 12h0m98 2l-1 0m-146 2h0m154 23l-1 1m20 10l0 1m-39 2l0 1m-119 4h0m4 12l1 0m-4 2h0" stroke="#8058d2" stroke-width="5.0" opacity="0.50"/><path d="M7 33l1 1m71 2h0m66 37h0m-68 19h0m-57-1h0m23 25l1 0m-14 12l0 1m15 3h0m42 3h0" stroke="#8058d2" stroke-width="6.0" opacity="0.50"/><path d="M20 5l1 0m144 14l-1 1m-69 11l1 1m-94 13l0 2m104 3l1 0m51 1l0 1m20 20l-1 1m-77 9l-1 0m4 2l1 1m-1 3l-2 0m-86 18l2 1m115-4l-1 1m-26 5l1 0m-44 3l0 1m-43 3l-1 0m-10 6l0 1m10 8l2 1m151 2l1 1" stroke="#9272da" stroke-width="2.0" opacity="0.50"/><path d="M81 15h0m41 9l1 0m-33 0l-2 1m67 11l-1 2m18 9l-1 1m-2 27l-2 0m-41 5h0m-55 32l-1 1m67-4l-1 1m12 7l-1 1m-94 21l0 1" stroke="#8058d2" stroke-width="4.0" opacity="0.25"/><path d="M75 2l0 1m-69 8l1 0m113 17l-2 0m-64 12l2 0m21 27l-1 1m30 13l1 2m-68-3l1 0m51 4l2 0m64 2l-2 0m-21 38l1 1m18 8l1 1m-34 4l-2 0" stroke="#8058d2" stroke-width="2.0" opacity="0.50"/><path d="M138 14l-1 0m27 11l-2 1m-28 14h0m-17 9l0 1m-45 9l-2 2m36 9h0m-97 7h0m63-3h0m112 15h0m-139-3l-2 1m-44 5l-1 1m11 5l0 2m30 7l2 1m70 10l1 1" stroke="#9272da" stroke-width="4.0" opacity="0.25"/><path d="M116 63l1 1m25-4l-1 0m43 22l-1 1m-119-2l1 1m-57 45l-2 0" stroke="#8058d2" stroke-width="2.0" opacity="0.25"/><path d="M24-1l0 1m-21 1l-1 1m40 7l2 1m32-2l0 1m82 8l-1 2m-126 4l2 2m54-4l1 1m16-1l-1 2m19-2h0m41 2l0 2m-18 13l2 2m-126 4l-1 1m22-3l1 1m44 0l-1 0m26 1h0m54 10l-1 3m-163 21l2 1m50 0l1 1m31 1l-1 1m7 10l2 1m-96 0h0m64 14l2 2m-18 3l-1 0m94 3l-2 1m-122 11l-1 0m-5 12l1 3" stroke="#9272da" stroke-width="3.0" opacity="0.50"/><path d="M1 13l-1 0m133 21h0m-68 1h0m54 14l-1 1m-65 9l0 2m126 55l1 1m-82 5l1 0" stroke="#9272da" stroke-width="5.0" opacity="0.25"/><path d="M162 16h0m-2 3l-1 0m-16 0h0m13 15h0m13 23l0 1m-140 36h0m93 32h0" stroke="#9272da" stroke-width="6.0" opacity="0.50"/><path d="M173 25h0m-19 22h0m-87 49h0m19 23h0m-65-5l0 1" stroke="#8058d2" stroke-width="6.0" opacity="0.25"/><path d="M67 10h0m-40 46h0" stroke="#9272da" stroke-width="6.0" opacity="0.25"/><path d="M86 57h0" stroke="#9272da" stroke-width="7.0" opacity="0.25"/><path d="M72 7h0m57 4h0m55-3l1 0m-171 7l-1 0m117 5l1 0m-41 8l1 1m-55 3h0m97 7h0m-6-1l1 0m29 14l-1 0m24 5h0m-15 1l-1 0m-7-3l0 1m-64-2l1 1m-48 3h0m29 7l-1 0m47-4l2 0m-39 16l0 1m-58 0l0 1m155 6l0 1m-27 0l-1 1m-66 6h0m31-1l1 0m46-2l1 1m-7 10l-1 1m-51 11h0m34 6h0m-141 0l0 1m116 4h0" stroke="#7d38c9" stroke-width="4.0" opacity="0.75"/><path d="M151 4l-1 2m-123 0l1 0m60 6l0 2m72 1l-1 1m-35 2l2 0m53 8l1 1m-4 7l-1 0m-30 16l0 1m-85 20h0m-24 3l1 1m0 14l1 0m106 7l0 1m-39 8l1 1m-22 6l1 0m45 3l-1 2m-73 13l0 1" stroke="#7d38c9" stroke-width="2.0" opacity="1.00"/><path d="M64 1l0 1m118 19l0 1m-102 1l1 0m-21-2l0 2m46 2l1 2m37 1l0 1m-33 2l0 2m-98 20l0 1m57-6l0 1m5 8l1 1m-2 0l1 0m-1 1l-1 0m-16-1l-1 0m6 8l1 1m21 0l0 1m0 13l-1 0m-81 11l-2 1m95 0l-2 0m29 8l0 1m-116 6l0 1m110 10l-1 0m33 5l1 0m-11 5l2 1m-114 0l1 1m61 6l-2 1m12-1h0" stroke="#6a2ac0" stroke-width="2.0" opacity="1.00"/><path d="M99-2l0 1m-6 2l2 1m-25 0l-1 1m-18-2l2 0m93 5l0 1m-77 7l0 1m12 12l0 1m28-2l1 1m24 12l1 0m-22 8l1 1m57 2l1 1m-52 2l0 1m-68-2l0 1m55 3l-2 0m14-1l-1 2m4 5h0m-2 2l2 1m-43-1h0m-76 7l1 0m55-4l-2 1m41 0l1 1m85-2l0 2m-56 6h0m-122 4h0m48 2h0m116 3l0 1m-94 1l-1 0m-9 14l-1 1m81-5l-1 1m-104 8l2 1m90 4l1 1m14 6l1 1m-32-3l-1 1m-110 7l-1 2m18-3h0m122 6h0m-86-2h0m-10 5l-1 1m19 5l0 1m48-2l1 2m46-5l-1 1m19 5l0 1m-172-2h0" stroke="#6a2ac0" stroke-width="3.0" opacity="0.75"/><path d="M6 5l1 1m68 0l1 0m25 15h0m1-1h0m9 14h0m43 9l-1 0m29 2l-1 1m-3 6l1 0m-7 0l-1 1m-30-3l-1 0m-73 5l0 1m56 2l2 0m-6 2l-1 1m-95 19h0m76 3l-1 1m17 4l0 1m-43-3l-1 1m58 5l1 1m16 0h0m24 5l2 1m-85 21l0 1m69-1h0m10 1l1 1m-113 8l0 1m91 6l1 1m21 0l-1 2m-19 0h0" stroke="#7d38c9" stroke-width="2.0" opacity="0.75"/><path d="M21 28h0m64-1h0m-59 13h0m58 13l-1 0m-75 6h0m52 1l1 1m55 6l0 1m-71 5l-1 1m128-1l0 1m-140 9h0m-14 8l-1 0m6 1h0m-4 7h0m-20 5h0m67-1h0m6-1l1 1m-43 7l0 1m-26 8h0m104-1l1 1m49 9h0m-11 3l0 2m-60 2h0m28-3h0" stroke="#5518b8" stroke-width="4.0" opacity="0.75"/><path d="M125 11h0m-58 4l-1 1m49 8l-1 0m-15 6h0m-50 28l-1 0m23 7h0m-14-3l-1 1m101 8h0m-37 5l0 2m-106 13l0 1m89 2l1 1m69 1h0m-24 3l-1 1m-43-4l0 1m-16 4l-1 1m6 4h0m87 4l-1 0m-55-1l0 1m-67 7l-1 0m2 13h0m-29 3l0 1" stroke="#4414a2" stroke-width="4.0" opacity="1.00"/><path d="M114 4l-2 1m-7 6l-1 1m-32 2h0m11 3l-1 0m74-2l0 1m-20 2h0m-134 1l0 1m93 6l-1 1m20 8l-3 0m-108 5l-2 2m36-2l0 2m106-1l1 1m-14 3h0m-102-2l1 1m90 17h0m12 0h0m52 4l-1 1m-22 5h0m-116-1l0 1m-40 2l0 1m24 3l0 2m6-3l-1 0m83-4l-1 2m1 2h0m-7 3l0 1m-8-1h0m-62 5l0 1m-3 5l-1 0m54 9l0 1m2 0l-1 2m-1 0h0m-79 3h0m32 6l-1 0m80 8l1 2m-15-4h0m5 8l-1 0m13-2l0 2m25-2l-1 1m-5 7l-1 1m-138 2l1 1m77-1l-2 2m63-2l0 2m6 4l-1 0m-9-2l-2 1m-25 0l-1 1m-83 0l-1 1" stroke="#4414a2" stroke-width="3.0" opacity="0.75"/><path d="M27 20h0m-20 20h0m175 3h0m-123 18h0m99 29h0m-134 38h0" stroke="#6a2ac0" stroke-width="5.0" opacity="1.00"/><path d="M147 17l0 1m-57 19l0 1m55 31h0m22 37h0m-85-2h0m83 34h0" stroke="#4414a2" stroke-width="5.0" opacity="0.75"/><path d="M156 6l1 1m20 4l0 1m7-3l-1 1m-64 25l2 0m-54-1l1 1m-30 2l-1 0m98-1h0m40 7h0m-37 0l0 1m-48 15l1 1m9-3l0 1m-75 5l1 0m2 8h0m88-3l0 1m19-2h0m-81 7l1 0m-36 14l-1 2m90-4l1 0m40 0l0 1m-30 8l-1 1m-21-2l1 1m-27-2l-1 0m-47-3l1 1m-11 3l1 0m4 3l-1 1m133 13l-2 0m-1-2l0 1m-81 0h0m16 20l-1 1m65-5l0 1m-108 6l1 0" stroke="#5518b8" stroke-width="2.0" opacity="0.75"/><path d="M76 4l1 0m17 1l1 1m25-2l2 1m49 10l1 2m-83-5l1 0m-24 23h0m29 7l1 1m-24 10l-1 1m88-5h0m22-1l-1 1m-76 13h0m66 10l1 1m-159 10l1 2m86 19l1 1m3 6l0 1m-92 3l-1 1m171 6h0m-169 1l1 0m-1 14l-1 0m143 4l0 1m-83-2l1 0" stroke="#4414a2" stroke-width="2.0" opacity="1.00"/><path d="M74-2h0m46 1l-1 1m27 4h0m-22 0l-2 1m-48-1l0 2m67 9l0 1m29 5l2 0m-3-1l1 2m-51 1h0m-20 0h0m-14 9l-1 1m96 14l-2 1m-16-2l0 1m-1 9l0 1m-42 5l-1 0m-112 24l0 1m54 1l0 1m1-1h0m32 6l1 1m-27-2l0 1m-50 3l1 0m55 2h0m91 16l-1 1m-93 2l-2 0m-20 6l-1 1m111 3h0m-47 2l-1 0" stroke="#7d38c9" stroke-width="3.0" opacity="0.75"/><path d="M152-2l-1 1m-150 5l1 0m64 17h0m96-3h0m-36 6l1 0m-68 3l0 2m38 2l-1 2m12-2l-2 2m61 3l-1 1m-13 5h0m18 21l-1 1m-115 3l1 2m86 1l0 2m-39 2l2 0m-69 5h0m124-1l1 0m-57 11l0 1m-18 0l-1 2m49 0h0m49 3h0m-75 3l0 1m-57 32h0m108 3h0m-34-1l-2 1m-57-1h0m-6 8h0m44 1h0m21-2l-1 1" stroke="#5518b8" stroke-width="3.0" opacity="1.00"/><path d="M72 2h0m109 3h0m-13 2l-1 2m-54 1h0m-101-1l2 0m107 7l1 2m-37 11h0m-13-3l-1 0m-11 12l-2 0m121 9l1 1m-106 2l-1 0m8 1l-1 1m8 0l1 1m89-5l1 1m-70 27l-1 0m-29 1l-2 0m80 2l1 1m-67 7l2 0m-24-1l1 0m39 5h0m29 4l2 1m40 4l-1 2m-15-5l1 2m-142 1h0m84 5h0m74 7l0 1m-15-3l1 0m-9 0l1 0m-70-2l-1 1m-3 1l0 1m-71 1h0m6 3l1 1m-3 5h0m11 10l1 1m43-4l1 1m-10 4l-1 1m-19-1l-1 1" stroke="#4414a2" stroke-width="3.0" opacity="1.00"/><path d="M94 46l1 1" stroke="#5518b8" stroke-width="1.0" opacity="0.75"/><path d="M84 14h0m75 3h0m23 18l2 0m-92 3l-2 1m85 3l-1 0m-94 2h0m11 6l-2 1m3 2l-1 0m78 30l-1 1m-33-6l1 2m-43-2l2 0m-70 11l2 1m23-4h0m17 3h0m98 5l-1 0m-112 25l-3 0m87-2h0m12 0h0m-11 7h0m-62 2l1 1m6 1l2 1m65 10h0" stroke="#6a2ac0" stroke-width="3.0" opacity="1.00"/><path d="M8 3h0m140 6l-1 1m-66-3l1 0m80 17l-1 0m-27 7h0m-6-1h0m-47 10l0 1m-10 23h0m45 11l1 0m19 7h0m-133 19h0m85-4l1 1m58 0l-1 1m36 32h0m-6 2h0m-173 7h0" stroke="#6a2ac0" stroke-width="4.0" opacity="1.00"/><path d="M110 0l0 1m23 0l1 0m-121 10l1 0m92 6l1 1m38-2l1 1m-9 4l1 1m46 3l0 2m-23 7h0m-95 1h0m-40 16l1 2m49-4h0m39 2l-1 0m33 11h0m23 4l1 0m-34 20l1 1m-117 0l1 0m-4 8l-2 1m24-1h0m129 14l-1 1m-83-2l0 2m-52 9h0m52-2l-1 0m17 0l1 1m10 7l-2 1m-69-3l0 1m-11 4l1 0m27 2l0 1m97 4l0 1m-78 2h0" stroke="#7d38c9" stroke-width="3.0" opacity="1.00"/><path d="M33-2l-1 1m59 3l-1 0m-11-1l-1 0m-8-1l-2 1m43 9l-1 1m72 3h0m-176 5l-1 1m90 0l-1 0m8 0l-1 0m38-1l1 0m-45 18l-1 1m-12-1h0m-47 0l0 1m104 4l2 1m17 2l1 0m21-3l0 1m-35 7l0 1m-86 11l1 1m11 2l1 1m42 11l-1 0m-96 1l1 0m17 3l1 1m30-2l0 1m74 5l-1 0m-68 14l-1 1m109 4l1 1m-60-1l-1 1m17 7h0m48-4l0 1m-62 6l0 1m-38 8l0 1m-19 0l-1 1m79 5l0 2" stroke="#6a2ac0" stroke-width="2.0" opacity="0.75"/><path d="M176 12l1 0m-44 10l-1 1m-30 10l0 1m61 0l0 1m12-2l-1 0m-41 13h0m18 5l2 0m-34 17l-1 0m35 8h0m-143 3l0 1m27 16l-1 1m10 7l0 1m52 3l-2 1m78 6l-1 1m-138-1l-1 1m134 6l0 1m-45 5l0 1m45 5l1 1" stroke="#5518b8" stroke-width="2.0" opacity="1.00"/><path d="M8 8l-1 1m129 34l1 1m16 15l-1 1m-80 3l1 1" stroke="#6a2ac0" stroke-width="1.0" opacity="0.75"/><path d="M6 29l-1 1m118 21l-1 0m-100 14l0 1m20 21h0m-18-3l0 1m128 6l0 1" stroke="#5518b8" stroke-width="5.0" opacity="0.75"/><path d="M153-3l0 2m6 5l1 1m-51 6l1 1m-6 6l0 1m-60 0l2 1m91 14l-2 1m-42 20h0m32 10l-1 0m39-1l1 0m-73 5h0m-60 5l0 1m61-2l0 1m19 9l0 2m-66-6h0m-20 5h0m116 18l1 0m-4 5h0m-29 10l-1 1m-95 5l1 1m-12 4l1 1m157-3l1 2m-80 4l1 0m-61 8h0m118-2l0 1" stroke="#5518b8" stroke-width="3.0" opacity="0.75"/><path d="M30 13h0m122 16l-1 0m7 7h0m26 3h0m-20 3h0m-2 8l-1 0m-53 19l0 1m59 13l0 2m3-6h0m-129 5l0 1m19 17l0 1m22 10l1 1m-22 9l1 1m4 9h0" stroke="#4414a2" stroke-width="4.0" opacity="0.75"/><path d="M83 5h0m21 10h0m-2 1l1 0m13 10l-1 0m55 63h0m-96-3h0m78 14h0m30 19h0m-40-3h0m23 20h0m12-4h0" stroke="#6a2ac0" stroke-width="5.0" opacity="0.75"/><path d="M143 3l0 1m9-3l-1 1m23 4l-1 1m-166 10l-1 0m165 2l1 0m-102 2l2 1m86 8l-1 1m21 39l-1 1m-155 17l1 0m127-1l0 1m25 2l-1 1m-93 10h0m1 0l-2 0m-29 4l0 1m26 13l0 1m22-4l1 1m54 3l1 2m-15 0l-1 0m-62 4l-2 0m34 1l0 1m21 11l-1 0m-9 2l0 1" stroke="#4414a2" stroke-width="2.0" opacity="0.75"/><path d="M97 7l1 0m51 10h0m24 3l-1 0m-36 10h0m-43 0h0m42 49l-1 1m33 0l1 1m-136 5l-1 1m123 12h0m14 18l-1 0m-8 0l0 1m-156-2h0m-4-1l1 1m118 20l1 0" stroke="#5518b8" stroke-width="4.0" opacity="1.00"/><path d="M112 2h0m12 7l-1 0m43 4h0m-80 30l0 1m55 7l-1 1m13 5l1 0m-53 2h0m-34-5l0 1m13 21l1 0m68 5l-1 0m-56-3h0m53 11l0 1m3-3h0m-49 16l-1 1m-4 6l1 2m61 3h0m-37 3l1 0m-43 10l-1 1" stroke="#6a2ac0" stroke-width="4.0" opacity="0.75"/><path d="M12-1l1 1m75 20l-1 1m-11 88l0 1" stroke="#4414a2" stroke-width="1.0" opacity="0.75"/><path d="M78 92l0 1m82 20l0 1" stroke="#5518b8" stroke-width="1.0" opacity="1.00"/><path d="M159 6h0m-44 7l-1 0m-106 36h0m166 4l1 0m-95 27l1 0m46 54l1 1m-59 6l1 0" stroke="#7d38c9" stroke-width="4.0" opacity="1.00"/><path d="M134 129l-1 0" stroke="#6a2ac0" stroke-width="1.0" opacity="1.00"/><path d="M181 23h0m-177 25h0m157 9h0m-40 4h0m-103 62h0" stroke="#7d38c9" stroke-width="5.0" opacity="1.00"/><path d="M118 33l-1 0m-70 38l0 1m59 40l1 1" stroke="#7d38c9" stroke-width="1.0" opacity="1.00"/><path d="M-1 70l0 1m143 26l0 1m-121 5l1 1" stroke="#7d38c9" stroke-width="1.0" opacity="0.75"/><path d="M110 21l1 0m-7 86h0m72 25l-1 1" stroke="#7d38c9" stroke-width="5.0" opacity="0.75"/><path d="M126 44h0m-93 83h0" stroke="#4414a2" stroke-width="5.0" opacity="1.00"/><path d="M127 13h0" stroke="#5518b8" stroke-width="5.0" opacity="1.00"/><path d="M62 53l0 1" stroke="#4414a2" stroke-width="1.0" opacity="1.00"/></g></g>
<rect x="41.00" y="589.90" width="93.20" height="70.00" fill="#f2f5fd"/><g transform="translate(41.00 589.90) scale(0.500)"><g clip-path="url(#mc105)" stroke-linecap="round" fill="none"><path d="M15-1h0m53 0h0m32-1h0m66 0h0m17 0h0m-25 7h0m-15-2h0m-70-2h0m-52 1h0m-19 1h0m2 8h0m27-3h0m85 0h0m23 3h0m10-1h0m7-3h0m1 1h0m27 9h0m-53-2h0m-34 0h0m-25 2h0m7 6h0m11-2h0m4-3h0m49 2h0m-100 7h0m-10-3h0m-29 1h0m3 5h0m5 1h0m42 1h0m52 3h0m80 3h0m-32 1h0m-3 1h0m-45 0h0m-5-2h0m-61-2h0m0 4h0m-13 7h0m82-2h0m43-3h0m34 4h0m-21 2h0m-7 1h0m-65 0h0m-33 0h0m-7 2h0m7 4h0m9 0h0m33 4h0m82 5h0m-6-2h0m-19 2h0m-28 1h0m-92-2h0m-10 1h0m-14-2h0m0 2h0m-5-4h0m28 6h0m1 1h0m21 1h0m19-1h0m18 3h0m85 2h0m-6 3h0m-31-2h0m-49 0h0m-53 1h0m-12-2h0m17 6h0m31 3h0m78 1h0m-95 6h0m-13-1h0m-8 2h0m-38-2h0m36 8h0m16-1h0m1-2h0m21-1h0m70 1h0m36 9h0m-148-2h0m5 7h0m8 0h0m21-4h0m13 5h0m21-3h0m35-1h0m43 9h0m-14-4h0m-14 2h0m-11 0h0m-2 3h0m-2 0h0m-54-2h0m-22 2h0m-39-2h0m-14-2h0m53 6h0m24 2h0m66-2h0m-12 5h0m-31 1h0m-81 1h0m-8 1h0m-20-3h0m56 9h0m43 5h0m-70 2h0m19 4h0m4 1h0" stroke="#6a40c0" stroke-width="2.0" opacity="0.50"/><path d="M34 1h0m52 3h0m6-4h0m14 0h0m58 9h0m4 11h0m5 8h0m-172 6h0m158 0h0m-113 2h0m-9 3h0m5 5h0m44 3h0m65 6h0m-122-5h0m152 11h0m-15 5h0m-58 1h0m-73-4h0m15 8h0m13-3h0m123 10h0m-99-3h0m29 13h0m62-2h0m8 2h0m-68 8h0m-34-1h0m-54 2h0m16 4h0m83-3h0m-104 10h0m76 6h0m61-4h0m-37 20h0" stroke="#6a40c0" stroke-width="2.0" opacity="0.25"/><path d="M27 0h0m146 10h0m-107 7h0m4 0h0m77-4h0m-138 14h0m11 3h0m96 7h0m-78 0h0m53 14h0m55-1h0m15 1h0m16-1h0m-133 5h0m7 13h0m2-2h0m28 4h0m70-4h0m-78 9h0m-6 2h0m-39-1h0m160 4h0m-29 7h0m-35 1h0m-17-2h0m-28 3h0m24 9h0m47 4h0m-128 0h0m29 8h0m111 7h0m-53 1h0m-26 1h0m-27-5h0m-34 5h0m121 5h0m44 0h0m-48 2h0m-33 5h0m38 4h0m35 4h0m-132 0h0" stroke="#6a40c0" stroke-width="2.0" opacity="0.75"/><path d="M145-1h0m30 1h0m-99 0h0m-38 9h0m-28 3h0m26 8h0m23-1h0m106 2h0m5 4h0m0 0h0m-19 2h0m-31-2h0m-119 1h0m7 8h0m10 0h0m160 1h0m-100 6h0m-20 1h0m19 4h0m91 7h0m-36-3h0m-13 2h0m-31 1h0m-15-5h0m-32 2h0m-5 4h0m57 4h0m56-1h0m5 1h0m13 6h0m-2-1h0m-102 2h0m108 3h0m-41 7h0m-19 1h0m-1-4h0m-28 3h0m-68 0h0m44 4h0m-5 10h0m-13 0h0m-42 0h0m9 1h0m27 1h0m28 0h0m70 1h0m21 7h0m-14 2h0m-63-2h0m-30 2h0m-42 4h0m3-1h0m19 1h0m112 0h0m8 0h0m36 2h0m-9 3h0m-45 1h0m-44 1h0m-33-1h0m-50 3h0m102 7h0m-26 1h0m-10 9h0m7-4h0m66-1h0m32 5h0m16-1h0m-15 6h0m-29 1h0m-1 0h0m-68-2h0m-64-2h0m-9 6h0m125 0h0m12 2h0" stroke="#6a40c0" stroke-width="1.0" opacity="0.50"/><path d="M114 2h0m3-2h0m59 9h0m-33-1h0m1 13h0m-12 18h0m-25 9h0m3 10h0m3 2h0m60 9h0m-5 19h0m-121 12h0m119 10h0m-23 9h0m-14 5h0m-101 3h0m112 12h0" stroke="#6a40c0" stroke-width="1.0" opacity="0.25"/><path d="M84 15h0m42-3h0m-21 7h0m-38 12h0m35 13h0m-82 4h0m67 18h0m-29 0h0m21 8h0m83-1h0m-103 12h0m-31 0h0m-18 22h0m115-1h0m-26 11h0m-42 18h0" stroke="#6a40c0" stroke-width="1.0" opacity="0.75"/><path d="M46-3l-1 2m44 133l-3 4m-16 3l-1 2m107-2l-4 4" stroke="#9272da" stroke-width="5.0" opacity="0.25"/><path d="M48 14l2 3m-13 21l-1 3" stroke="#9272da" stroke-width="7.0" opacity="0.25"/><path d="M3 37l-8 1m57 0l-6 5m38 17l-6 5" stroke="#8058d2" stroke-width="4.0" opacity="0.25"/><path d="M117 1l1 3m40 41l3 0m-13 15l6 1m-117 35l5 3m137 19l2 1" stroke="#8058d2" stroke-width="5.0" opacity="0.25"/><path d="M99 57l7 2m79 4l-3 5m-138 28l-7 4m-15 21l2 3" stroke="#8058d2" stroke-width="3.0" opacity="0.25"/><path d="M66 136l2 4m45-3l3 5" stroke="#9272da" stroke-width="3.0" opacity="0.25"/><path d="M123 51l-3 4" stroke="#8058d2" stroke-width="5.0" opacity="0.50"/><path d="M13 16l-2 0m89 23l-5 4m-40 52l5 3m29 40l5 1" stroke="#9272da" stroke-width="4.0" opacity="0.25"/><path d="M20 38l-4 1m90 40l1 3" stroke="#8058d2" stroke-width="7.0" opacity="0.25"/><path d="M9 25l1 4" stroke="#8058d2" stroke-width="6.0" opacity="0.25"/><path d="M133 117l-2 2" stroke="#9272da" stroke-width="4.0" opacity="0.50"/><path d="M12 37l-3 0" stroke="#9272da" stroke-width="6.0" opacity="0.25"/><path d="M45 23l-4 1m22 2l5 1m-36 23l-4 1m152 4l1 6" stroke="#4414a2" stroke-width="3.0" opacity="1.00"/><path d="M55 62l0 3" stroke="#4414a2" stroke-width="5.0" opacity="1.00"/><path d="M125 56l-3 2m-77 7l3 0m-11 49l3 5" stroke="#4414a2" stroke-width="4.0" opacity="0.75"/><path d="M50 3l-5 4m138 7l-4 5m-8 53l-2 1" stroke="#7d38c9" stroke-width="4.0" opacity="1.00"/><path d="M96 22l-1 2m22-1l3 1m-45 114l2 1" stroke="#5518b8" stroke-width="5.0" opacity="0.75"/><path d="M75 5l6 1m-50 10l-4 3m21 2l0 3m66-4l-3 4" stroke="#4414a2" stroke-width="4.0" opacity="1.00"/><path d="M173 90l-1 4" stroke="#4414a2" stroke-width="2.0" opacity="0.75"/><path d="M185 30l-4 1" stroke="#6a2ac0" stroke-width="3.0" opacity="0.75"/><path d="M31 85l3 1" stroke="#4414a2" stroke-width="3.0" opacity="0.75"/><path d="M104 61l4 0m-110 78l2 2" stroke="#6a2ac0" stroke-width="6.0" opacity="1.00"/><path d="M71 17l0 2m36 27l2 2m49 93l1 2" stroke="#6a2ac0" stroke-width="4.0" opacity="1.00"/><path d="M123 38l3 0m-124 102l-2 4" stroke="#6a2ac0" stroke-width="5.0" opacity="1.00"/><path d="M179 76l2 4m-157 25l0 4" stroke="#6a2ac0" stroke-width="3.0" opacity="1.00"/><path d="M162 105l-3 2" stroke="#5518b8" stroke-width="2.0" opacity="0.75"/><path d="M58 89l3 4" stroke="#5518b8" stroke-width="2.0" opacity="1.00"/><path d="M71 94l2 2m43 29l3 4" stroke="#4414a2" stroke-width="6.0" opacity="1.00"/><path d="M119 16l0 4m-84 18l3 2" stroke="#4414a2" stroke-width="7.0" opacity="0.75"/><path d="M140 137l0 4" stroke="#5518b8" stroke-width="4.0" opacity="0.75"/><path d="M-1 75l-1 2m127 6l4 4m53 10l2 2" stroke="#7d38c9" stroke-width="3.0" opacity="0.75"/><path d="M103 39l2 3" stroke="#5518b8" stroke-width="4.0" opacity="1.00"/><path d="M107 86l-2 2" stroke="#7d38c9" stroke-width="6.0" opacity="1.00"/><path d="M37 112l2 6" stroke="#7d38c9" stroke-width="3.0" opacity="1.00"/><path d="M62 40l-4 3" stroke="#5518b8" stroke-width="6.0" opacity="0.75"/><path d="M119 73l5 2" stroke="#5518b8" stroke-width="3.0" opacity="1.00"/><path d="M94 2h0m44 16h0m-46 49h0m29 3h0m29 17h0m-109 14h0m71-4h0m-1 18h0m21 26h0" stroke="#6a2ac0" stroke-width="4.0" opacity="1.00"/><path d="M96-1l-6 5m62-6l-2 6m5-1l-6-3m5 5l-5-6m-13 18l6 3m0-3l-7 3m-1 25l-6-2m-38 26l4-4m-2 6l0-9m2 5l-6-1m7 3l-7-6m36 5l-8 6m8-1l-8-7m-5 28l1 6m37-9l0-8m4 8l-6-6m-40 11l9 2m-71 2l-7 1m4-3l-2 7m1 0l0-9m96 7l-6 4m6 1l-4-5m-20 7l-4 9m0-4l5 2m-4-3l4 5m16 16l4 9" stroke="#6a2ac0" stroke-width="2.0" opacity="1.00"/><path d="M91-1l4 4m0-5l-3 9m63-8l-7 4m-8 11l-3 6m-2-7l5 9m-8 18l-2 8m-8 19l-1 8m28 14l3-5m2 4l-9-1m-32 6l-2 6m-66 5l-7-4m100 7l-5-4m1 5l1-4m-1 33l-5 8m4-6l-5 4m-1-3l8 1" stroke="#6a2ac0" stroke-width="1.0" opacity="1.00"/><path d="M77 47h0m43 27h0m-6-2h0m-1 2h0m17 59h0" stroke="#7d38c9" stroke-width="4.0" opacity="1.00"/><path d="M114 69l1 6m2-4l-6 2m6-2l-8 7m11-8l0 7m-3-5l8 4m-11 2l-1-7m72 46l-4 6m5-3l-5 1m-52 8l1 7m-3-3l8 1" stroke="#7d38c9" stroke-width="2.0" opacity="1.00"/><path d="M178 94h0m-15 30h0m0 8h0m15 9h0" stroke="#7d38c9" stroke-width="4.0" opacity="0.75"/><path d="M161 122l5 4" stroke="#7d38c9" stroke-width="3.0" opacity="0.75"/><path d="M177 90l1 7m4-3l-7 0m-8 25l-6 7m1-4l4 6m-2 1l-2 9" stroke="#7d38c9" stroke-width="2.0" opacity="0.75"/><path d="M166 123l-8 3m20 10l-1 7m-17-10l8 0m8 5l5 5m0-5l-7 5" stroke="#7d38c9" stroke-width="1.0" opacity="0.75"/><path d="M73 26h0m69 42h0m39 4h0m-100 34h0m15 14h0" stroke="#6a2ac0" stroke-width="3.0" opacity="0.75"/><path d="M101 9l-7 7m6-2l-6-1m-20 14l-5-2m5 4l-2-5m3 0l-5 5m72 36l-2 5m4-1l-5-3m41 3l2 8m0-7l-3 6m5-6l-6 4m5-2l-5 0m-100 31l5 5m-3-6l0 7m2-5l-4 5m6-2l-7-3m22 15l-7 1" stroke="#6a2ac0" stroke-width="1.0" opacity="0.75"/><path d="M164 121h0m19-1h0" stroke="#7d38c9" stroke-width="3.0" opacity="1.00"/><path d="M78 44l-2 11m6-6l-9-3m45 31l-8-4m72 46l3 4m-19-4l-4 3m-1-4l4 4m20-1l-5-2m-50 11l-1 7m2-4l-6 2" stroke="#7d38c9" stroke-width="1.0" opacity="1.00"/><path d="M151 1h0m-20 43h0m4 61h0" stroke="#6a2ac0" stroke-width="3.0" opacity="1.00"/><path d="M97 13h0m58 65h0" stroke="#6a2ac0" stroke-width="4.0" opacity="0.75"/><path d="M97 16l-1-8m3 10l-4-9m63 66l-5 6m6-2l-8 0m3 3l2-10m3 12l-6-9m-58 42l2 5" stroke="#6a2ac0" stroke-width="2.0" opacity="0.75"/></g></g>
<rect x="138.00" y="589.90" width="91.50" height="70.00" fill="#efeefc"/><g transform="translate(138.00 589.90) scale(0.500)"><g clip-path="url(#mc106)" stroke-linecap="round" fill="none"><path d="M84 12h0m-57 6h0m107 7h0m-45 14h0m-90 33h0m140 9h0m-59 13h0m-17 21h0m-7 16h0m75-3h0" stroke="#6a40c0" stroke-width="1.0" opacity="0.25"/><path d="M0-1h0m131 22h0m-58 0h0m86 7h0m-49 15h0m-56 8h0m58 7h0m-49-4h0m-52 17h0m115 18h0m-71-5h0m-30 22h0m128 0h0m-19 6h0m-124-1h0m23 27h0" stroke="#6a40c0" stroke-width="1.0" opacity="0.50"/><path d="M85 11h0m-25 24h0m25 66h0m12-1h0m16 18h0m-74 3h0m47-1h0m3 9h0m-55 4h0m14 3h0m96-1h0" stroke="#6a40c0" stroke-width="2.0" opacity="0.25"/><path d="M82 2h0m86 4h0m-145 29h0m97-3h0m1 1h0m38 7h0m23 3h0m-81 5h0m-75 15h0m58 1h0m0-4h0m-29 13h0m-53 3h0m74 3h0m108 4h0m-120 1h0m35 17h0m69-1h0m-143 2h0m36 11h0m34 5h0m80 7h0m-164 11h0" stroke="#6a40c0" stroke-width="2.0" opacity="0.50"/><path d="M159 8h0m-107 9l1 2m82 2l2 1m45 1l1 1m-111 4l1 1m-35-5l3 1m115 9l2 1m-25 4l-2 2m-26-4l1 3m15 2h0m64 1l-2 1m-149 9l1 0m16 3l1 1m38-1h0m42 4h0m-57 7h0m-28 7l0 1m43 10l1 0m16 4l-1 1m3-5l1 1m66 3l0 1m-21 0l-1 1m-36 10l-1 1m48 0l-2 1m-12-1l-2 1m-3-1h0m-103 7l-1 1m127 5h0m-21 5l1 1m31 3l1 2m1 1l0 1m-85 5l0 1m-10 4l0 1" stroke="#9272da" stroke-width="4.0" opacity="0.75"/><path d="M31 2l1 1m56 0l0 2m65-5l1 2m-7 4l1 0m-76 1l-1 2m-61 8l0 1m68-4l1 0m10 0l1 0m69 2l-1 0m20 0l0 3m-16 1h0m-24-1l-1 0m-8 4l1 1m-6-5l0 1m-18 1l2 0m-27-2l1 3m-37 3h0m51 2l2 0m82 2l-1 2m-21-1h0m-87 3h0m-24-2h0m-6 10l1 1m41-3l2 1m10 0h0m74-4h0m-12 9l0 1m-32-2l-1 0m-103 5l3 1m38-1h0m74 1l-1 0m-5 6l0 1m-121-2h0m-3 10h0m9-4l-1 1m74-1l-1 0m-87 10l0 2m52 3h0m1-2l-2 1m51-3l2 2m2 1l-2 1m17-3l1 1m40 0l-1 1m17 6l2 1m-21-4l2 0m-103 1h0m-25 2l0 2m-2-3h0m99 4l3 1m29-1h0m22 1h0m-10 10l1 1m-54-3l-3 1m-29 1l1 2m-11-2l-2 0m-17 0l-1 0m-60-4l-1 0m89 7l2 1m11-2l0 1m10 2l2 0m53 2l-1 2m-25 1h0m-20 1l-1 3m-84 1l2 2m12-4l-2 1m120 2l1 0m13 4l-2 1m-81 6l-1 2m75 0h0m3 5l-1 2m0-2l2 1m-9 1l2 1m-13-2h0m-14-4l0 1m-69 8l0 1m16-1l1 2m8-4l1 0m73 5l1 2" stroke="#8058d2" stroke-width="4.0" opacity="0.50"/><path d="M99 4h0m83 5l1 0m-131-2h0m-51 8l1 0m40 2l1 1m17-4l2 1m65 6h0m-30 0l1 1m-4 2l-1 0m70 3l1 0m-93 3h0m-17 5h0m-48 5l1 0m17-3l-1 2m50-3h0m9 3h0m69 8l-1 2m-57-1l2 0m57 9h0m-60 0h0m-4 0l0 1m55 4l0 2m-2 4l-1 1m-7 1l1 2m-10-5l0 1m-73 0l-1 0m20 7h0m11 3l-1 1m-68 0l-1 1m3 6h0m95 1l-1 1m25 6h0m-92 0l-1 1m-27 6h0m32 0h0m61-3l-1 1m39-3l0 1m-2 5h0m-38 2h0m62 15l-1 1m-149 0h0m50 9h0m71-2l-1 0m45-1l-1 0m-108 10l-1 0m-53 2h0m30 2l-1 0m6-1l0 1" stroke="#8058d2" stroke-width="5.0" opacity="0.50"/><path d="M18-2l1 1m-19 5l0 2m101 2l1 1m13 2l0 2m-36 2l0 1m-70-1l2 0m6 7l-2 1m135 0l2 1m6-5l2 1m18 1l1 1m-6 10l-2 1m-60-1l2 1m-20 0l-1 0m-48 2l-1 2m-36-2l2 1m68 0l1 0m36 2l-1 1m35-1l1 1m32 1l0 1m-1 4l-2 0m0 0h0m-29-2l1 0m-43 4l1 1m-29-3l-2 1m-77 6l0 2m10-1l1 0m102-1l1 2m20-5l1 1m31 2l-1 1m9 5l0 1m-12-3l1 0m-15 3l-2 1m-42-2l1 2m-28-4l-2 1m-55-3l0 1m35 10l0 2m23-7l-1 0m59 3l1 0m29 5l0 1m-90 0l-1 2m14 3l0 3m22-3l2 2m-1-2l0 2m10-4l0 2m46 2l0 2m6-1l-1 0m-20 3l0 1m-10 0l1 2m-54-3l2 1m-26-3l2 0m-21 3l1 1m30 5l-1 0m6-2l1 1m75-2l-1 1m14 0l1 0m3 6l1 0m-145 2l1 0m-2 3l1 1m45 3l1 0m47-1l1 1m53 2l0 1m-3-1l-1 1m-114 9l-1 0m94-2l-1 1m28 0l1 2m1-4l-1 0m2 5l0 2m-7-2l1 0m-1 4l1 1m-4 0l-1 0m-95-5l0 1m-26 5l-2 2m60 3l0 1m10-1l1 0m13 4l1 1m-9 0l-1 0m-25 0l-2 0m-96-1l1 2m53 5l2 1m62 0l2 1m8 2l1 0m-33 1l-2 1m-27-2l1 1m-2-1l1 0m-9 1l3 1" stroke="#8058d2" stroke-width="3.0" opacity="0.50"/><path d="M74 9l-1 0m35 0l0 1m-53 10h0m52 6h0m6 12l-1 0m-84 9l0 1m96-5l-1 2m31 8l-1 0m-31 0l0 1m-108-3l0 1m39 11l0 1m3-4l0 1m10 1l2 1m109 26l-1 1m-43-3l0 1m-33-2h0m69 4h0m-55 6l-1 0m-92 4h0m114 6h0m41 6h0m-61-4l-1 1m-75 12h0m27 1l-1 1m109 8l0 1m-31 4l1 1" stroke="#9272da" stroke-width="5.0" opacity="0.75"/><path d="M50-2l1 1m73 6l1 2m-89-3l0 1m134 3l1 2m-24 7l-1 2m-32-2h0m-9-3l-1 2m-78-3l-1 2m4 15l-1 2m15 0l0 1m4 2l0 1m134 5l0 2m-83-3l0 1m-27 0l-1 2m-14-4l-2 2m-21 3l-1 1m14 2l1 2m116-4l2 0m1 8l-1 2m-43-7l0 3m-54 0l0 2m-5 6l-1 2m46 10l1 2m-100 1l2 1m53-3l1 2m106 8l0 2m-27-1l-1 0m-4 0l-2 1m-15-2l3 1m-54-5l-1 0m0 1l0 1m-42-2l-2 0m-19 5l-1 2m33 3l1 2m91 3l0 1m-81 6h0m25 0l0 1m76-4l0 1m16 6l2 1m-11-1l1 1m-33 1l-1 2m-43-4h0m-22 0l-1 0m-43 1l-1 2m-7-2l2 1m48 3l-1 1m58 9l-1 0m-13-1l0 2m-48 5l2 1m29-2l-1 1m38 0l-1 0m44-2l0 1m12 0l1 0m-100 3l-2 2m35 7l2 2m13-2l1 1m12 1l-1 2m-65 1l0 1" stroke="#9272da" stroke-width="3.0" opacity="0.50"/><path d="M43-1h0m-19 1l1 0m-14 11h0m62 8h0m-54 15h0m123 0l1 0m27-1h0m15-3h0m-33 34h0m-120-2h0m-13 5l0 1m58 2h0m-14 2h0m-45 5h0m20 4h0m81 1l1 1m-84 10h0m104 13l0 1m-2 3h0m-6 7h0m42 0l1 1m-70 12l-1 1m-33-1h0m-29-3h0m-26 8h0m126-1h0m-135 5h0" stroke="#9272da" stroke-width="6.0" opacity="0.50"/><path d="M52 4l1 0m4 1l1 3m6-5h0m27 6l0 1m-47-2l0 1m-43 6l-2 1m26 0l-1 0m34-2l2 1m43 2l-1 0m12 0l-2 0m29 6h0m-55-1h0m-20-1l-1 0m35 7l1 1m45-5h0m13 4h0m7 0l1 1m17 3l-3 1m2 2h0m-42 0l-1 0m-52-4l-2 2m-27 0l-1 1m-35-4l-2 0m14 11l2 1m13-6l-1 1m9 1l-1 0m123 4l0 1m-25 4l1 0m-47-2h0m-86-1h0m-19 3l0 2m46 2l-1 1m58-4l2 1m10 4l-1 2m29-4l2 0m-86 6l0 1m-61 1l0 2m119-1l1 1m52 0l0 1m-48 5h0m-44 4l1 1m-84 0l1 0m45 1l1 1m4 1h0m19-1h0m95 8l0 2m-30-6l1 2m-49 1l2 0m34 8l1 1m15-5h0m45 4h0m-1 2l1 0m-28 1l2 2m-48-4l1 2m-102-2l0 1m-4 10l-1 1m13-6l0 1m152 4l0 3m13-4h0m-91 2l2 1m-7 3h0m-8 1h0m-55 4l-1 2m10-2l-1 1m33 1l-1 2m23-3l0 1m30-3l2 1m55-3l-2 1m12 6l1 2m-7-1l0 2m-82-3h0m-33 3l1 0m-40 5l0 2m47-1l-2 0m12-1l-1 0m2 2h0m13 0l1 1m6-4l-1 1m86-1l-1 1m-63 3h0m-19 1l-1 3m-85 2l1 0m85 1h0m80 4l1 1m-47 2h0m-26 0l-1 1m-87 0l1 0" stroke="#9272da" stroke-width="4.0" opacity="0.50"/><path d="M25 4h0m112 18l-1 0m-82-4h0m-12 6l1 0m80 0l1 1m58-1l0 1m-145 8l1 0m44 4l1 0m-8 13l0 1m-54 0h0m7 5h0m129 12h0m-8-2h0m-11 2h0m-103-1l1 0m48 13l-1 0m-78 8h0m45 16l1 0m100 0l1 1m-86 19l-1 0m-55 5h0m160 12h0" stroke="#8058d2" stroke-width="6.0" opacity="0.50"/><path d="M20-2l1 1m21 2l0 1m-3 2h0m67 5l1 0m26 2l1 0m-15 2l0 1m-27 8l-1 0m17 6h0m-14 1l1 0m-49-3h0m-7 1l1 1m144 6h0m-107 2l0 1m-64 4l0 1m1 4l-1 1m71-4l1 1m93 13h0m-123 0l-1 0m-32-3h0m-9 2l0 1m142 7l-1 0m-13 6l-1 0m-91 3l-1 1m37 1l-1 0m40 1l-1 0m22 13h0m-128 2l0 1m80 1l1 0m5 1h0m65 3h0m-2 10l0 1m-3 4l-1 0m-28 3h0m17 3l1 1m-21 2l1 0m-19 2l-1 1m-42-2l-1 1m102 7l-1 1m-65 2h0m-39 0l-1 0m70 8l-1 0m25-1h0" stroke="#9272da" stroke-width="5.0" opacity="0.50"/><path d="M18 1h0m26 31h0m85 6h0m40 19l-1 0m-66 30h0m70 9h0" stroke="#9272da" stroke-width="6.0" opacity="0.75"/><path d="M137 16l1 2m-9 35l2 1m-58 8l0 2m-16 7l2 0m31 6l-1 2m51-1l-1 2m-5 1l2 0m-11-1l-2 1m-24 1l-1 1m-78 1l-1 1m76 6l-1 1m24 6l2 1m25 0l-1 2m17-4l-2 0m13 22l1 2m-41-2l-1 0m-1-5l-2 1m-18 17l0 2m43-2l-2 0m2 8l0 2" stroke="#8058d2" stroke-width="2.0" opacity="0.50"/><path d="M143 1h0m-49 5l-2 1m1 1l-1 1m-4 2l0 1m-55 0l-1 2m-30 7l1 1m123 5l0 2m-65 2l-2 0m39 8l-1 1m19-2l1 1m-18 8l0 1m-47-4h0m-18 7l-1 0m55-1l0 1m79 2h0m5 23l-1 1m-42-4l-2 1m-72 6l1 1m4 2l1 0m112 2h0m-44 4l0 1m-98-5l0 1m134 8l-1 2m18 2h0m-51 14l1 2m9-1l-1 2m31-1l-2 1m-119 10l-1 0m-26 3l0 1m53 5l1 1m32-1l1 1m14 6l1 1m-54-2l0 1" stroke="#8058d2" stroke-width="4.0" opacity="0.75"/><path d="M109 10l1 3m-21-1l0 1m3 16l1 1m-2 4l0 1m-23-2l0 1m-45 1l-1 1m-2-3l1 1m88 9l-1 0m7 7l-1 1m-101-1l-1 1m-6 4l-3 1m25-2l0 1m57 2l0 1m74-3l-1 0m-36 8l-1 1m-6 4l2 2m27 4l0 2m-2-3l-1 0m-111 3l1 0m-8 6l-1 2m120 0l-2 0m-41 4h0m-88 5l-1 1m144 5l1 1m-129-1l2 1m116 6l-1 1m31 2l0 1m-8 5l-3 1m14 6l1 2m-35-3l0 3m-9 1l-2 2m-39-3l-2 1m-8 0l-1 1m49 8h0" stroke="#8058d2" stroke-width="3.0" opacity="0.75"/><path d="M166 8l-1 0m-31 9l-1 1m-22-3h0m72 7h0m-45 2l-1 1m-15 8l1 0m-112 9l2 1m65 7h0m50 3l1 1m40-5l1 0m-129 23l0 1m28 12l0 1m38 2h0m-86 2h0m117 8l-1 0m14 2l1 0m6 0l-1 0m22 17l1 0m-106 1l-2 0m-18 5l0 1m28 1l0 1m91-1h0m-55 2l1 1m-42 1h0m-25 11l-1 0m55-1l-1 1" stroke="#8058d2" stroke-width="5.0" opacity="0.75"/><path d="M117-1l0 1m47 1l-2 2m-76 2l2 0m-22 0l0 1m-47 16l1 1m11-4l0 1m25 3l-1 2m2-3l0 2m100-1l-1 1m-143 10l-1 0m94 2l2 2m73-1l0 3m-121 11l-2 1m-26 8l0 1m110 1l0 1m-22 8h0m-42-1l2 3m-12-3l1 0m-56 5l0 1m21-4l-1 1m8 3l-2 0m30-2l1 0m79-2l3 1m-32 6l1 0m-5 10l3 0m-8 4l-1 1m-103 2l3 0m54 3h0m5-2l1 3m16 9l-1 3m-45 4l2 1m102 3l0 2m-61 4h0m27 1l1 3" stroke="#9272da" stroke-width="3.0" opacity="0.75"/><path d="M33 8l2 1m-12 14l-1 2m41 20l1 1m17 1l-2 1m-18 22l1 2m-6-4l-1 1m-51-2l-1 2m49 22l-1 1m121 8l1 1m-153-3l1 1m158 8l2 0m-65 3l1 2m-115 15l2 1" stroke="#9272da" stroke-width="2.0" opacity="0.50"/><path d="M130 1l-1 2m-114 6l1 2m49 13l0 1m83 16l0 1m-128-3l0 2m123 5l-1 1m-28 25l0 2m31 37l1 1m-56 18l-2 0" stroke="#9272da" stroke-width="2.0" opacity="0.75"/><path d="M150 8h0m-16 14l1 0m-1-4h0m-95 2l0 1m-29 11h0m61 19h0m46 8l-1 0m56 44h0m-154 21h0" stroke="#8058d2" stroke-width="6.0" opacity="0.75"/><path d="M124-1l-2 1m-25 19l-1 2m-8-2l-1 0m10 49l-1 1m21-2l1 2m-17 12l0 1m-77 16l1 2m-10 31l2 0" stroke="#8058d2" stroke-width="2.0" opacity="0.75"/><path d="M155 94h0" stroke="#9272da" stroke-width="7.0" opacity="0.75"/><path d="M110 3h0" stroke="#8058d2" stroke-width="7.0" opacity="0.50"/><path d="M73 5l-2 1m85-3l0 1m1-2l0 1m11 6l0 1m-82 1h0m-15-5h0m-21 2l0 1m-16 0l-1 1m-3 1l-1 2m-15 1h0m31-1l-2 1m34 2h0m71-2l0 1m26 0l-1 0m9 0l1 0m-9 5l1 0m-46 1l0 1m-27-2h0m-28-1h0m-11 3l0 2m-32-6l-1 0m-8 5l1 1m-5 0l0 1m164 9l1 0m-2-3l1 1m-27 2l2 0m-128 1l0 1m-28-3l2 0m43 8l-1 0m15-5h0m8 3l0 1m32 1l-2 0m73 3h0m-25-1l0 1m-61-2l2 0m-17 2l1 1m-41-1l-1 0m-9-1l-1 1m24 7h0m18-2h0m21 1l-1 0m77 2h0m13 3h0m-66 0l0 1m-1 0h0m-53 6l0 2m15 0h0m11 0l1 0m28-2h0m2-1l-2 1m72-1l1 1m-25 8h0m-75-3h0m-15 4l1 0m-12-1l2 1m-4 0h0m0 0l1 1m-49 2h0m4 3l-1 0m29-1l0 1m13 0l-1 1m5-2l0 1m13-4h0m34 0l0 1m10 2h0m45-3l-1 1m21 4l2 1m-10 0l-2 0m-24 2l1 1m-25-1h0m-2 0l0 1m-29 0l0 1m-26-5l2 1m-45 6l-1 1m54 2h0m10-2l0 1m14 1l-1 1m9-1h0m18-4l1 1m36 3l-1 1m8-4l1 0m14 3h0m3 2l0 1m-11-1h0m-42 4l1 1m-23-2h0m0 1l-1 1m-71-4l0 2m-20-3l1 1m40 9l1 1m28-2l-1 1m21-2l2 1m13-2l-1 0m56-1l1 0m0 8l1 0m-45-2h0m-68 1l1 1m-19 4l0 1m113 0l-1 1m-8 8h0m-23-2l2 0m-17 1h0m-9 0h0m-3 1h0m-3-3l1 1m-19-2l-1 1m-7 0l-1 1m-7 3l0 1m-63 5h0m90-2l-1 2m83 0l0 2m1-6l2 1m1 3l0 2m-10 0l1 1m-56 2l-1 1m-37 2l1 1m17 1l-1 1m44-3l1 0m46 7l1 0" stroke="#4414a2" stroke-width="3.0" opacity="1.00"/><path d="M46 5h0m23 5l-1 1m-63-5l0 1m142 8h0m8-1h0m-79 8l1 1m-5-3h0m-25-1l-1 0m-37 0h0m122 9l1 1m-46 12h0m-42 0h0m-10-3l-1 0m-21 5l0 1m56-2h0m58 7l0 1m-3-1l1 0m-46 2l-1 1m-1-3h0m-19 2l1 1m-11 1l-1 0m18 3l1 0m38 0l-1 0m46-2l1 1m18 2l0 1m15-2l0 1m-20 5h0m-43-2h0m-28 2l0 1m-41-1l1 0m-31 8h0m26-3l-1 0m45 2l-1 1m45 0l1 0m36 1l-1 1m4 1l-1 0m-38 2h0m-17-3h0m-35 2h0m-61-1h0m-3 10h0m9-5l-1 0m15 3l-1 0m43 1h0m29 1l-1 0m23-4l-1 1m-101 9l0 1m-33-6h0m130 7l-1 0m13-1l0 1m39 1h0m-32 7h0m-54 2h0m-40 3l0 1m32-1h0m2-1l0 1m23 0l-1 0m-23 6h0m-10 3h0m-21 1h0m5 0h0m54 1h0m42 3l0 1m11-3l0 1m-96 3l-1 1m-69 3h0m168 5l0 1m11-1h0m-36 3h0m-52 8l-1 0" stroke="#4414a2" stroke-width="4.0" opacity="1.00"/><path d="M15-2l-1 0m146 6h0m-18 1l-1 1m-71-2l-1 0m0-3l1 1m-43 1l0 1m-18 7l0 1m7-1l1 0m9-5l-2 0m39 4l-1 0m7-4l0 1m112 6l0 1m-101 3l-2 1m1-6h0m-32 2l-1 1m-39 1h0m26 6l0 1m12-5h0m30 2l0 1m48-3l0 1m57 7l-1 2m-174 5l0 2m3 0l-2 0m169-5l-1 2m11 9l-1 2m-134-6l-1 2m-21-3h0m-24 10l0 1m57-2l-1 1m11-3l0 1m53 3l0 1m30 1h0m-49 4l-1 1m-17-2l0 1m-87 0l-1 0m46 2l0 2m27-2l0 2m-38 6l1 1m4 5h0m63 2h0m37 0l-1 2m-20 1l-1 1m-102 2h0m-7 1l-1 2m31-1l1 1m14 3l-2 1m32-6l1 0m3 1l1 0m55 1l0 2m-15 2h0m-113 8l1 2m13-3h0m37-1l0 1m82 9l0 1m-80 6l1 0m19-3h0m8-2l1 0m3 5h0m28-2h0m22-2l0 1m26 3h0m2-1h0m3 1l-1 0m-5 3l1 1m-43-2l-1 1m-119-2l-1 2m67 8h0m101 2l0 1m-51 7h0m36 1l0 1m6-2h0m6 0l0 2m6 7l1 0m-36-5l-2 0m-11 3l-1 1m-65 5l1 2m50-3l-1 1" stroke="#5518b8" stroke-width="3.0" opacity="0.75"/><path d="M32 1h0m71 1l1 0m48-2h0m26 11l1 1m-19-1l1 0m-81-4h0m-71 4l1 0m9 3h0m36 8h0m-40 6l-1 0m58-1h0m2 1l-1 0m27-1l1 0m69 8l-1 0m-24-1h0m-56 0l0 1m-10-2h0m-66 3l1 0m46 2l0 2m35-3l-1 0m34 8l-1 1m-78-3l0 1m-15 0h0m8 4l2 0m23 4h0m97 2l0 1m-10 1h0m-22-1l-1 0m-58 0h0m-8 2l1 0m-19-1h0m-22 1h0m79 3h0m24 1l0 1m48 3h0m-63 4h0m-36 7h0m14 0l1 1m35-1h0m4-4h0m22 2h0m-128 14h0m-12-4h0m-4 13l1 0m50-1l0 1m79 3h0m1 3l1 1m-64-1h0m9 7h0m23 1l-1 0m5-2l-1 0m11-1h0m30 7l-1 1m-11 3l0 1m-68-4h0m32 8l0 1m-3 12h0m-26 4l0 1m6-4l0 1m89 0l0 1" stroke="#5518b8" stroke-width="4.0" opacity="1.00"/><path d="M25-2l2 1m140 2h0m-98 1h0m-6 3l-1 1m-39-3l0 2m-14-2h0m25 3h0m114 4h0m18 1l0 1m-3 0l1 0m-38 0l-1 1m-37 0l1 0m-24 2h0m-17 0h0m-33-1l0 1m37 8l1 0m6-4l-1 0m26 4l-2 0m80-1l1 1m6-5l-1 1m-90 10l1 2m-10-6l0 1m-3 1l1 1m-31-3l-2 1m-15 2l-1 2m-8-5l1 0m170 8h0m-49 3l1 1m-69-1l0 2m-14 2h0m-23-3h0m-9 2l-2 1m-1-3h0m14 6l-2 2m78-3l0 1m26 1l-1 1m54 1l1 1m-12 2l1 1m-8-1l0 1m-33 2l-1 1m-19-2l-2 1m-70-4h0m-16 8l1 1m23-3l-1 1m83 0h0m31 4h0m1 2l-1 1m-41 3l-1 0m-11-3l-1 0m-7 3l-2 2m-94-5l1 0m-5 9l0 1m46-2h0m24 0l1 0m12-2l-2 1m68 2h0m18-4l2 1m-12 8l0 1m-61-2l-2 0m-2 1l-1 1m1 0l0 1m-27-3l0 1m-3-3l-1 1m-11 1l1 1m-7-4l-1 0m-16 8h0m21-2l2 1m3 3h0m117 5h0m-35-2l0 1m-72-2l2 1m-38 2l0 1m-26-3l1 0m27 7l0 1m30-3h0m12 5l1 1m37-1h0m14-5l-2 1m7-1l0 1m21 4l0 1m-28 4h0m-39-1h0m-5-1l1 0m-63 8l-1 0m65-1l0 1m45 3l-1 1m-17-1l-2 0m-2 1l1 1m-22 0h0m52 5l1 1m37 3l1 1m-14-1h0m-13 4l-1 0m-7-3h0m-13 4h0m-40-4l-1 0m-12 4l2 1m20 1l-1 1m3 2l-1 2m2-3l0 1m50-1l1 0m-10 3l2 0m-13 0l0 1m-35 4h0m-3-2h0m-83-1h0m49 6l-1 2m45-4h0" stroke="#6a2ac0" stroke-width="3.0" opacity="1.00"/><path d="M167 7h0m7 1l1 1m-91 8l-1 1m-6-5l0 1m-68 0l1 0m91 15l1 2m58-3l-1 0m8 7l1 1m-16-6l1 1m-85 2l-1 0m-37 1h0m-11-1l-1 0m50 5h0m21 5l0 1m-19 2l0 1m-45 4l1 1m23-3l0 1m135 2l0 1m1 6l-1 2m-31-4l0 1m-52-4h0m-82 5l-1 1m22 5l0 1m87-6l0 1m17 0h0m24 2l1 1m2-4h0m-36 11l0 1m-3-4l-1 0m-22 0h0m-98 7l1 1m85-3l-2 0m51 3l0 1m26 3l0 1m-7-1l-1 0m-27-2l0 1m-130 12l-1 0m114 4l-1 1m44-5l0 1m14 0l1 1m-135 8l1 0m-19-5h0m137 13l-1 1m20 9l-1 1m-116-3l-1 1m-8-3l0 1m-5 2l1 1m18 6l1 0m25-4l1 0m-1 0l1 1m77 2l0 1m2-2l-1 1m-11 9l-1 0m-55-1l1 2m-46 7h0m51-1h0m18-1l1 0m41 1h0" stroke="#6a2ac0" stroke-width="2.0" opacity="0.75"/><path d="M0 11l0 1m51-3l0 2m10 0l-2 1m118-6l1 0m-123 11h0m-21-4l1 1m-7 0l1 1m-20 1h0m-4-2h0m17 7h0m18-2l1 1m14 0l-1 2m125-4h0m5 21l1 1m-123 1l0 1m-23-2l2 1m-42-1l-2 0m14 5l-1 1m37-4l0 1m16 3h0m8 1l-1 0m54-4l2 0m6 10h0m-38-4l-1 0m-67-1l1 0m-15 6l0 1m58-1l0 1m22 3h0m1-4l1 1m1 0h0m52 4l1 2m13 1h0m-63 1l0 1m-4 1l1 0m-35-2l1 2m-19-5l-1 1m-37 2h0m26 5l1 0m79 7l1 1m-26-3l-2 0m-14 3h0m-67 1l0 1m36 1l1 1m4 1l-2 1m18-1l-2 0m94 7l-1 1m-57-3l-2 1m-78 5l1 1m50-1h0m7 3l1 1m8 4l-1 1m-12-3l-1 0m-65 0h0m76 6l1 1m41 13l-1 0m-42 6l0 2m41-5l0 1m34-1l0 1m0 4l1 1m-8 3l1 1m-14 0l1 1m-73-2l0 1m-42-5l0 2m155 8l1 0" stroke="#6a2ac0" stroke-width="3.0" opacity="0.75"/><path d="M48 1l1 2m2 3l1 0m-27 5l-1 0m1 4l0 1m146 6l0 1m-104-2l1 1m-19-3l0 1m-5-1l1 1m-41 2l0 1m-4 6h0m40-2l0 1m11-2l1 2m55 0l-1 0m40-1l1 1m11 4l1 1m-70 1l-1 0m-9-1l1 2m-16-5l-1 1m-46 2l-1 0m26 7l0 1m33-1l1 0m2-4l0 1m3 1l2 0m18 1l2 0m30-2l-1 1m50-1l1 2m-33 8l-1 1m-77-6l0 1m-34 0l1 1m-7-2l-1 1m-2 2l1 1m100 6l0 1m14-5l0 2m1 6l1 2m-77 3h0m41-1l0 1m3 0l1 1m52 5l-1 0m-18 4l1 1m-53-5l-1 0m-77 1l-2 0m1-2l0 1m94 10l0 1m-4 5l0 1m-3-1l-1 1m-71-1l0 1m-29-1l1 1m17 4l-1 1m2-2h0m35-1l-2 1m34 0l1 1m40 5h0m-7-1l2 1m-20-2l1 1m-31 2l0 1m-24 2h0m86 0l1 2m-29 5l-1 1m-38 6l1 1m36 1l1 1m30-1l1 0m2-1l-1 0m4-4h0m34 0l1 1m-8 8l-1 1m-49-4l-1 1m-12 4h0m-25-4l0 1m-10 7l1 1m31 0l-1 1m2-1l-1 0m22-4l0 1m31 3h0m-30 5l1 1m-25-4h0m-6 5l0 1m-26 5l-1 0m57 0l1 1m16-3l0 1m2-4l-1 0m7 2l-1 2m7-3h0m18 3l0 2m-114 0l1 1" stroke="#4414a2" stroke-width="2.0" opacity="1.00"/><path d="M9 1h0m44 1l-1 1m21-3h0m1 8l1 1m-3 1l0 1m-3-4l1 1m-13 2l1 0m-47 0h0m-7-2h0m69 8h0m92 1h0m11 8l0 1m-14-2h0m-101 1h0m16 5l0 1m90 0h0m4 0h0m0 10l1 0m10 3h0m-99 15h0m-10-5h0m-17 5h0m-36-4h0m-1 8l-1 1m33 0h0m84 0h0m18 1l1 0m-17 4l-1 1m-122-1l1 1m41 4h0m11 0h0m18 3h0m26 5h0m-30 0h0m-35 1h0m0 0h0m4 6h0m13-3h0m-49 4h0m61 8l-1 0m91 5l0 1m-64-1l-1 1m-33-2l1 1m116 5h0m-28 6h0m-66 6h0m88 3h0m-111 8h0m-12 0l1 0m96 4h0" stroke="#6a2ac0" stroke-width="4.0" opacity="1.00"/><path d="M15-1l0 1m165 1h0m-3 0h0m-132-1h0m-14 11l1 0m70-2h0m71 7h0m-8-1h0m-142 0h0m35 5l0 1m120-3h0m-25 7l-1 1m-3 0l0 1m-50 14l-1 1m59-3h0m26 4h0m-8 1l-1 0m-34 0h0m-57 3l-1 1m-42-4h0m100 9h0m29-4l0 1m3 9h0m-119 0l-1 1m-18-4h0m19 7l-1 1m18-4l-1 0m115 11h0m-145-5l0 1m4 9l-1 0m91 0h0m11 7h0m-17-5h0m-51 4h0m-31 4l0 1m76-1l1 1m-105 4h0m-8 6h0m133 3l0 1m2-5h0m35 1h0m-2 10h0m-73-4l1 1m-2 6l-1 1m44 6h0m-48 1l-1 0m-39-3h0m1 8h0m69-3h0m3 4l-1 0m-17 4h0m-17 3h0m-30-3l-1 0m-4 5h0m110 1h0" stroke="#7d38c9" stroke-width="4.0" opacity="1.00"/><path d="M6 4h0m80-1l1 0m69 1h0m15-4l1 0m5 20h0m-68 10h0m-60 11l-1 0m-5-3h0m83 4l0 1m33 4l0 1m-38 5l1 0m-68-5h0m-49 0h0m99 13l-1 0m24 4l0 1m28-1h0m-104 2h0m-30 9l0 1m98-1l0 1m39 6l0 1m-100-1h0m-58 6h0m99-5h0m59 0h0m21 6l-1 1m-114-1h0m34 15h0m21-1l0 1m-51 4h0m77 6l1 0m-58 9h0m-76-2h0m65 4l-1 1m-15 7l1 0" stroke="#6a2ac0" stroke-width="4.0" opacity="0.75"/><path d="M104-2l1 1m78 2l1 0m-18 1l0 2m-87 1l1 1m-19-2l0 1m-21 0l0 1m-27-4h0m27 6l-1 0m84 1l-1 0m27-3l0 1m35 7l1 1m-35 2h0m-76 0l0 1m-24-6h0m-7 8l0 1m90-3h0m13 0l0 1m11 3h0m20 9l1 0m-10 1l0 1m-16-2l1 0m-39 0l1 0m-91-1l-2 1m27 10l1 1m14 3l-1 0m-55 0l1 0m63 6h0m60 0h0m28-1h0m10 3h0m-20 2l-1 0m-7 1l0 1m-49-2l-1 1m-95 4l2 1m24 0l0 2m11-3h0m80 6l0 1m-48 3h0m-4-2l-1 2m-22-4l1 1m54 6h0m5-1h0m23 4h0m37 3l1 2m-72 5l0 1m24-3l-1 0m45 3l-1 1m-23 5l-1 1m-16 1l1 0m-68 2l-1 0m24 4l-1 0m42 0l-2 1m-62 9l-2 0m18 3h0m85 2l1 0m14 0h0m-46 9l1 2m-55 2l1 0m1 1h0m84 4l1 1m-49 2l-2 0m32 4l0 1" stroke="#4414a2" stroke-width="3.0" opacity="0.75"/><path d="M2 2l0 1m4-2l1 1m165 6l1 1m-134 3l-1 1m10 0l-1 1m8-1l-1 0m38 3l0 1m55 0h0m13-3h0m-88 8h0m-8 1l1 1m-47-2h0m-8 4l-1 1m14-2l1 2m33-2l-2 0m4 4l1 1m1-6l-2 1m84 4l-1 1m6-4l0 1m2 0l1 1m-104 6l-1 1m1-3l1 1m-4-3l0 1m-20 4l-1 0m-23-1l1 0m24 6h0m19 0l0 1m72-5l1 1m23 3l-1 2m11-6h0m9 3l2 1m-14 3l0 1m-25 1l1 2m-17-2h0m-67-3h0m-8 10l0 1m38-5l-1 1m68 4l-1 0m20-2l0 1m26 4l1 0m-10-1l1 1m-16-2l2 0m-46 3h0m-52 0l0 2m-14-3l0 1m-12 2h0m-26-2l0 1m53 3l0 2m2-3l-1 0m6 0l-1 1m20 0h0m94 10l0 1m-5-2l1 0m-59-4l0 1m-32 0l1 0m-21 0l0 1m-37 2l1 1m-21 4l0 1m11 1l0 2m9-2h0m14-5l-2 0m68 5l0 1m71-1l1 2m-5 1l1 0m-8 3l0 1m-71-4l0 1m-63 2l0 1m18 0l0 2m30 0h0m22 1l1 0m7 1l0 1m58-4l1 1m-2 9h0m-61-5l1 0m-47 2l-1 1m-43 0l0 1m-20-2l0 1m25 3l1 1m136-1l0 1m2 1h0m14 5h0m0 4l-2 1m-106 5l-1 1m14-5l1 2m8-1h0m4 0h0m1 1l0 1m24 0l2 0m20-4l0 1m28 10l1 1m-6-2l1 1m-167-1h0m11 6h0m64 0l-1 0m43-4l-1 1m28 0l1 0m40 3l0 1m-36 3l0 2m-18 1l-1 1m-3-5l-1 0m-51 5l-1 1m1 0l-1 2m3 1l0 1m35-1h0m3 1l1 2m1-5l1 0m13 1l0 1m31-2l1 1m5-2l0 1m10-1l0 1m-31 8l-2 0m-4-1l1 1m-6-3h0m-17 3l-2 0" stroke="#7d38c9" stroke-width="2.0" opacity="1.00"/><path d="M65-1l0 1m47 0l-1 0m-22 4h0m-38 1l1 1m-52-5l-1 1m2 6l1 0m175 8l1 0m-43-4h0m-30 3l1 2m-89-2l-1 1m0-3l-1 2m1-1h0m-5 0l-2 1m-8 2l-1 0m137 3l0 1m3-1l2 1m3 0h0m9 2h0m9 2l-1 0m-131 3l0 1m0 6h0m9-3h0m6-2l1 0m16 3l0 2m113-1h0m-19 3h0m-35 1l-2 0m-18-2l-2 0m-30 4l1 2m-53-5l0 1m2 5l0 2m13-2l-2 0m43 1l-1 2m6 0l-1 1m4-4h0m89 1l1 0m11 0l-2 1m1 3l2 1m-33 1h0m-57-2l-1 1m-25 1l-1 0m-62-1h0m15 5l-2 0m49 3l1 0m15 1h0m28-2h0m45 0l-1 1m13-1l1 1m7 5l-1 2m-6 0l-2 1m-23-3l0 1m-60-3l1 0m-47 5l1 2m-16-5l1 0m-18 0l-1 1m20 6l1 0m26-2l-1 0m44 1h0m8 3h0m4-1l0 2m75-4h0m-25 6l-2 0m-29 3l-1 1m0-6l-1 2m-31-1l-1 1m-15-1l-2 0m-73 5h0m8 0h0m28 1l1 1m12 2h0m64 1h0m6-4h0m13-1l-1 1m9 9l-1 1m-1-3l1 1m-9 1h0m-29-4l0 1m0 0h0m-17 4l-1 1m-69 1l1 2m97 2h0m52-1h0m-26 2l1 0m-31 2l0 2m-15-1l1 1m-13-1h0m-1 2l1 1m1 4h0m1-4h0m5 0h0m37 5l1 1m5-2l0 1m0 0l-1 1m18-6l0 1m14 2l-1 0m11-1h0m6 4h0m-62 0l-1 2m1 0h0m-36 0l0 1m-45 3l0 1m24 1h0m4-1l-1 0m7 0l0 1m8 3l1 0m71-5l-1 1m23 2h0m12 6l0 1m-4-1l0 2m-10 0h0m-17-4h0m-88 4h0m-6-1h0m-21 2h0m8 0l-1 1m12 1l-1 0m60 3l-1 1m37-2l0 1m32 6l0 1m-22-5h0m-24-1h0m-12 7l2 0m53 0l-1 1" stroke="#7d38c9" stroke-width="3.0" opacity="1.00"/><path d="M76-1h0m77-1l1 1m25 11l-1 1m-162 6l0 1m155-4l0 1m4-3l1 0m-24 11l-1 1m-59-4l-1 0m-65 1l1 1m-29-3l1 0m171 5h0m-165 8l-2 1m-1 5l0 1m31 0h0m15 1l0 1m4 0l0 1m122-2l-2 2m2 0l1 0m-20 1h0m-11 1l0 2m-21-3h0m-81 0l1 1m-4-1h0m-27 3l0 1m24 1l-2 0m121 4l-1 1m29 6l0 1m-23-1l0 2m-39-5l0 1m-1-2l1 1m-36 3l1 2m-59-2l1 0m-19 6l0 1m7-1h0m56-2l1 0m24 2l0 1m4-3l-1 1m8-2h0m11 0l-1 0m3 2l0 1m16-4l2 1m6-1h0m1 10h0m-68 0l-1 1m-22-2h0m-52 2h0m38 4l1 0m105-3h0m1 3l1 1m3 5l-1 1m-14-2l1 2m-70 0h0m-14 3l-1 1m1 1l2 1m20-4l1 1m107-1h0m-140 10l1 1m-24-2l0 1m-12-2l0 1m61 4l1 1m47 1h0m66 5h0m-65 1l0 2m-45-5l0 1m-6 2h0m18 8l0 1m16-1l1 2m3 2l-1 0m30-1l1 2m-108 2h0m106 5l-2 1m28 1l-1 2m25 1h0m-62 5h0m-71 1l0 2m64 0l-1 0m30-1h0m16 4l-2 1" stroke="#7d38c9" stroke-width="3.0" opacity="0.75"/><path d="M34 11l0 1m4 16l1 0m56 13l0 1m-38 20l1 1m68 17l-1 1m-22 9l-1 0m-95 6l-1 1m16-1l1 1m156 29l1 1m-95 10l1 1m25-2l1 1" stroke="#5518b8" stroke-width="1.0" opacity="1.00"/><path d="M7 19h0m-3 9h0m4 6h0m137-3h0m-77 9h0m106 27h0m-175 16h0m64 11h0m107-4h0m-145 7h0m110 27h0m11 13h0" stroke="#4414a2" stroke-width="5.0" opacity="0.75"/><path d="M39 13l0 1m27-1h0m7 21l1 0m-59 9h0m129 8h0m-16-1h0m-6-1l-1 0m-89-1l0 1m20 9l-1 0m107 3l0 1m-136 2h0m-8 6l0 1m6 9l-1 0m21 6h0m66-1l-1 1m10 2l-1 0m37-1l1 0m-140 4l1 0m-13-1l-1 1m85 8h0m25 3h0m-18 6l0 2m66 4l1 1m-15 4l-1 0m-58-2h0m-39 12h0m78 2h0m56 6h0m-111 4h0m63-1h0" stroke="#7d38c9" stroke-width="4.0" opacity="0.75"/><path d="M4 7l0 1m105 13l-2 1m20 6l0 1m45-3l-1 1m-121 3l-1 0m-41 4l0 1m38 3l0 1m57 2l1 0m54-2l-1 1m11 0l-1 0m16 4h0m-95 0l2 1m-6 1l1 1m-41 5l-1 1m105-5h0m19 4l-1 1m-25 4l1 1m-59-2l0 1m-61-3l-1 0m9 8l-1 0m19 2l-1 1m43-1l1 2m27-1l-1 1m36-1l-1 0m20 4l-1 0m-115 6h0m101 6l0 1m-154-3l1 0m29 9l2 1m114-4l1 0m34 7l-1 0m-23-2l1 1m-77 0h0m-10 3l1 0m-41 0l1 0m-37-1l1 0m42 7l1 1m127-2l0 2m-29 2l0 1m-75-1l1 0m88 7h0m-63 7l0 1m13 7l0 1m70 3l0 1m-41-2l0 1m-6 2h0m-29-5l0 1m27 8l1 1m2-1h0m15-2l1 2" stroke="#7d38c9" stroke-width="2.0" opacity="0.75"/><path d="M157 16h0m-15 26h0m-91 10h0m-23 15l0 1m24 50h0m52 3h0m66 20h0m3-3h0" stroke="#5518b8" stroke-width="5.0" opacity="1.00"/><path d="M166-2l1 1m-48 3h0m-52 1h0m-54-3l-1 1m-11 9l1 0m63-2l0 2m93 7l1 1m-44-3l0 2m-35 0l0 1m-36-4l1 1m-31 1l0 1m-12-5l-1 0m22 11l0 2m6-4h0m26 2l-1 0m107-3l0 2m12 3l1 1m-6 2h0m-35 0l1 0m-12 1l1 1m-101-6l0 1m-10 0l-1 2m-5 6h0m74 0h0m51-1h0m13 2l0 1m12-1h0m29 5l0 1m-162-2l1 1m-9-2l-1 2m-11 8h0m1-4l-1 0m50 0l0 1m2 3h0m45-5h0m9 3l1 0m42 1l1 1m-1-4l-2 1m34 4l2 1m-3-1l-1 1m-44 2l0 2m-29-1h0m-19-4l-1 1m-37 3l0 1m-5-4l0 1m-40-1h0m31 10l0 2m11-4h0m62-2l1 0m68 2l-1 1m-3 3h0m-7 1l1 0m-31 0h0m-9-2l2 0m-63 4l2 0m-13 0l0 1m-57 6l-1 0m24-3l0 1m9 2h0m16-2l1 2m22-2l-1 0m13-1l1 1m44-3h0m13 0h0m14 5l-1 1m10-2h0m10 5l-1 1m-14-3h0m-33 0l0 1m-92 1l1 1m-15 0h0m-18-3l-2 0m10 8l0 1m25-3l0 2m26-2h0m19 0l-1 1m22 1h0m5 0l0 1m8 0l2 0m24-4l-1 1m42 1l-1 1m1 7l0 1m-22-2l2 0m-7-3l1 1m-99-1l1 0m-7 8l-1 0m30-1l0 1m1 3h0m53-2l0 1m40-2h0m-49 8l0 2m-54-4l-1 0m-19-1l1 1m-29 6l0 1m76 1h0m3-3l-1 0m1-1h0m12 3l-1 2m72 2h0m-43 4l1 0m-52 0h0m-2-4h0m-9 7l0 2m12-4l0 1m26-1l0 1m1 3l2 1m34-2l-2 1m-33 6l1 2m-10-3h0m-11 0l-1 2m-17 0l-1 1m-12-3h0m-9-3h0m45 11l0 1m0-1l0 2m5-3l1 1m32-1h0m4 4l2 1m-11 2l1 1m-11-1h0m-72-1l1 0m-19 3l-1 1m51-1h0m27-1l1 0m4 2h0m41-2h0m13 1l-2 1m12-1l0 1" stroke="#5518b8" stroke-width="3.0" opacity="1.00"/><path d="M-2-1h0m151 6h0m-91 0h0m-9-5l-1 0m3 8l1 1m24 1l-1 0m-45 2h0m40 11h0m62 0l0 1m45-6l1 1m-74 9l1 0m41 7l1 0m-94 4h0m-10-1l1 1m-36 2h0m15 4h0m1 2h0m85-3l0 1m-102 4l-1 1m134 16l-1 0m9 4h0m1-2l1 0m-33 8h0m-104 7h0m49 4h0m-43 2h0m97 7h0m35 4l-1 0m18 5l1 0m-71 18l-1 0m24 6h0m-12 0l-1 0m39 4h0" stroke="#4414a2" stroke-width="4.0" opacity="0.75"/><path d="M51-3l-1 2m-2 4l-1 1m-2 1l0 1m-2-1h0m-29-3l-1 0m11 8l2 1m31-3l1 0m1 2l1 1m17-2l-2 0m9-2l-1 0m2 0l1 2m59-3l1 1m38 8l0 1m-15 0h0m-3-2l0 1m-37-2l1 0m-20 3l1 1m-42-4l0 1m-44-1l1 1m15 7l-1 1m47 1l-1 2m5-4l-1 1m52 1l1 1m31 0h0m-88 1l1 1m-39 2l-1 0m-31-2l-2 0m8 4l-1 0m22 5l0 1m46-4l0 1m63 2l0 2m16-2l-2 0m15-5l-1 0m-104 12l0 2m-24-2l0 1m-28 3l1 1m-16-4l-1 0m53 5l0 2m15-1l-1 1m45 2h0m46-4l0 1m-13 9l0 1m-21-1h0m-23-2l-1 0m-10-2l1 1m-4 1l-1 0m-11-2h0m-77 3l1 1m-4-2l-2 0m14 6l1 1m5 0l-1 0m26 1h0m29 1l-2 1m75 2l-1 1m-7 2l1 0m-44-2l0 1m-83 0l1 0m-2-2l2 0m11 9l1 1m117-2l2 0m-54 4l0 1m-33 1l0 1m-1 0l0 2m-28-3h0m13 9h0m59-1h0m42 0l-1 1m16-1h0m10 11l0 1m-8-1h0m-47-5l0 1m-17 2l0 1m-50-3l1 1m-35 1h0m55 6l2 0m17 0l0 1m2 0l0 1m1-2h0m2-2l0 1m3-1l-1 1m50 3l-1 0m41 0l1 0m-55 1h0m-2 5l-1 1m-12-3h0m-55 1l-1 0m23 5l0 2m69 12l1 0m-66 0l0 2m-7-3l1 2m-14-5l-1 0m-6 1l-1 1m-24 3l0 1m30-1l0 1m11 1l-1 1m42 2l1 1m52-1l-1 1m-4 1l0 1m-64-1l1 1m-17 0l1 1" stroke="#6a2ac0" stroke-width="2.0" opacity="1.00"/><path d="M7 0h0m46 29h0m-32 11h0m35 1h0m96-2h0m-135 6h0m84 13h0m-69 10h0m22 16h0m11 45h0m-29 2h0" stroke="#7d38c9" stroke-width="5.0" opacity="1.00"/><path d="M21-1h0m29 0l-1 0m105 6l0 1m-136-5l1 1m-10-2l1 0m9 17l0 2m4-2l-2 0m23-5l1 1m39 9l-1 0m-54 0l0 1m-11 0l-1 1m-19-4l2 0m67 9h0m84-5l-1 0m16 6l-2 1m-166 2l1 0m79 3h0m11 3l-1 1m71 3l1 0m-89 4l0 1m-64-4l-2 0m32 8l-2 1m141 6h0m-48-1l2 0m-67-3l1 0m75 10l1 1m27-1h0m-98 1l0 1m-21 2h0m-41 0l1 1m34 5l0 1m6-4l-2 1m31 2l0 1m24-4l-2 0m46 5l-1 1m-93 5l-1 0m1-2l-1 1m-7-4l0 1m-29 4h0m-13-1l0 1m63 4l1 0m19 1l1 1m28-5l0 1m1 0l1 1m9-1l1 0m33 5l1 1m-22 4l-2 1m-68-6h0m-24 3l1 0m54 7l1 1m58 1l0 1m-92 2l-1 1m-46 7l0 1m108-2l-1 0m59 5l-1 1m-36 0l-1 1m-6 0l1 0m-64-2l1 0m29 5l-2 1m64-1l1 2m14 0h0m-21 3h0m-10 2l1 1m-56-1h0m-11 2l0 1m-9 3l2 0m96 1l-1 2m-39 3l-1 2" stroke="#5518b8" stroke-width="2.0" opacity="0.75"/><path d="M55 15h0m2 25l-1 1m-18-5h0m0 0l0 1m67 16h0m23 1l1 1m-37 0h0m-70 9h0m93-4h0m8 5l1 0m29 6h0m-28-2l1 0m-99-1l-1 0m5 9l0 1m111 0h0m-58 4h0m-46 5l1 1m105 1h0m7 6l1 0m-1-1l0 1m-110 3l1 1m31 0h0m34 0l-1 0m-20 5h0m-8 2h0m87 12h0m-11 16l1 1m-85 2h0m-15 0h0m16 3h0m34-2l0 1m43 0l-1 0" stroke="#5518b8" stroke-width="4.0" opacity="0.75"/><path d="M67 0l1 0m101 7l0 1m-16 3l0 2m-31-6l1 0m-95 4l-1 1m-22-4l-2 1m22 7l1 1m94-1l0 1m7-5l2 0m-63 9l0 1m-54-4l0 1m9 5l-1 1m17 0l0 1m10 2l1 1m130-3l0 2m-4 13l2 0m-66-2l1 0m-98 5l-1 0m31 3l0 1m26-1l-2 0m20-5h0m75 11l1 0m-69 0l-1 2m-70-3l-1 0m37 2l0 1m30-1l0 1m11 8h0m-96-1l0 1m87 7l0 1m6 0h0m65 6h0m-48-1l0 1m-28-4l-1 0m-9 3l-2 1m15 7l-1 1m63 2h0m-17 8l1 1m-59-6h0m-21 4l1 1m-3-4h0m-12 3h0m129 5h0m6-2l1 0m-24 9l-1 0m-12-3l0 2m-42 1l0 1m-33 0l1 1m18 4h0m4-3l-1 2m49-1l1 1m0 1h0m45 11l0 1m-21 0l-2 1m-69-3l-1 1m-27 2h0m103 3l-1 1m-43 5l0 1m-51-3h0m-13 4h0m51 3l1 1m12-2l0 1" stroke="#4414a2" stroke-width="2.0" opacity="0.75"/><path d="M170 1h0m-171 17h0m49 20h0m18 3h0m-30 5h0m-25 16h0m23 7h0m110 22h0m-43 22h0m23 14h0" stroke="#6a2ac0" stroke-width="5.0" opacity="1.00"/><path d="M36-2l0 1m29-1h0m93 1l-1 0m27 3l-1 1m-24-2l-1 0m-7 3l2 1m-90-3l-1 1m-22 3l-1 0m52 3l1 0m36 1l1 0m-102 4l1 0m-12 4l0 1m12 1h0m1-1l1 0m39 1l1 1m100-1l1 0m7-1l0 1m-19 9l-1 0m-76-5l2 1m-31 4l-1 2m-24-3l1 2m12 4l-1 0m9-2l-1 1m13 0l1 0m23 2l0 1m82-4l1 1m2 5l0 1m-62-3l1 1m-27 1l-1 0m-38 2l2 1m-4-5h0m-38 8l-1 0m7-1l-1 1m9 0l0 1m27-2l1 0m14 3l0 1m12-4h0m37 0l0 1m25-2l-1 1m9-1h0m20 1l1 0m3 8l0 1m-5 1h0m-47-1l-1 0m-1-1h0m-9 2l2 0m-48-4l1 1m-33 3l-2 0m-1 0l-2 1m30 2l1 1m6 1l-1 0m19 1l2 1m98 2l-1 1m1 2l-2 1m-49-5l1 2m-66 0l-1 1m-39 5h0m81-3l1 1m1 4l0 1m4-6l1 1m19 0h0m42 2h0m-38 4h0m-56 1l1 0m-52-2l2 0m-2 1l0 1m-9 5l-1 0m87 2l1 0m31 1l-1 1m38 0h0m12-1l-1 0m-50 7l1 1m-6-5l0 1m-21 2l1 0m-83 7l1 1m13-6l1 2m36-2l1 1m47 2l1 1m4 0l1 0m49-2l-1 0m8 5l1 0m-114 2l0 1m-68-1h0m65 4l-2 1m17-2h0m30 2l-1 0m56-2l-1 1m7 8l1 1m-10-4l-1 1m-37 3l1 0m-7-1l0 2m-42-5l-1 1m-7-1l2 1m-66 6l0 1m93 0l1 1m3-3l1 1m1-1h0m25 5l0 1m15-4l0 1m23 2l0 1m16 1l2 1m-49-1l-1 1m-5 2l1 0m-60 2l1 2m42-2l0 2m6-1l-1 0m7-1l-1 0m29 1l0 1m17-1l-1 0m-104 9l1 0m-3-4l0 1m37 5l-1 1m46-1l-1 1" stroke="#5518b8" stroke-width="2.0" opacity="1.00"/><path d="M-1 14l0 1m8-2l-1 0m63 8l1 1m1 20l1 1m-26 15l1 0m79 13l-1 1m-36 5l-1 0m-38 1l0 1m27 35l-1 1m-11 4l-1 0" stroke="#6a2ac0" stroke-width="1.0" opacity="1.00"/><path d="M178 5h0m-145 23h0m80 23h0m21 27h0m11 15l1 0m-94 3h0m129 7h0m0 9h0m-117 25h0m18-4h0m35 3h0" stroke="#4414a2" stroke-width="5.0" opacity="1.00"/><path d="M42-2l1 0m14 16l1 1m-55 46l0 1m123-2l0 1m-87 16l-1 0m10 18l0 1m130 12l1 1m-76 7l0 1" stroke="#6a2ac0" stroke-width="1.0" opacity="0.75"/><path d="M67 1l1 1m-38 31l0 1m-26 7l1 0m12-2l-1 0m84 8l-1 1m-60-4l-1 0m11 12l-1 1m6 6l0 1m-49 7l-1 1m124-4l1 1m-72 26l1 0m65 2l0 1m25 3l1 0m31 36l0 1" stroke="#4414a2" stroke-width="1.0" opacity="1.00"/><path d="M35 17h0m115 5h0m-131 16h0m103 27h0m25 10h0" stroke="#5518b8" stroke-width="5.0" opacity="0.75"/><path d="M14 33l1 1m-16 17l1 0m34 19l1 0m110 35l0 1m-74 18l1 1m84-5l-1 1m-37 5l1 0" stroke="#7d38c9" stroke-width="1.0" opacity="1.00"/><path d="M59 4h0m102 4h0m-72 10h0m79 54h0m-113 10h0m65 0h0m16 8h0m-80 34h0" stroke="#6a2ac0" stroke-width="5.0" opacity="0.75"/><path d="M139 62h0m-54 32h0m-13 3h0" stroke="#7d38c9" stroke-width="5.0" opacity="0.75"/><path d="M66-2l0 1m84 18l0 1m1 50l-1 1m-70 11l1 1" stroke="#7d38c9" stroke-width="1.0" opacity="0.75"/><path d="M24 39l1 0m54 2l0 1m-35 16l1 0m132 9l0 1m-82 12l0 1" stroke="#4414a2" stroke-width="1.0" opacity="0.75"/><path d="M168 5l0 1m-48 56l1 0" stroke="#5518b8" stroke-width="1.0" opacity="0.75"/></g></g>
<rect x="41.00" y="662.80" width="93.20" height="70.20" fill="#eef7fc"/><g transform="translate(41.00 662.80) scale(0.500)"><g clip-path="url(#mc107)" stroke-linecap="round" fill="none"><path d="M31 3h0m24-3h0m17 0h0m21 2h0m25 0h0m17 0h0m-29 6h0m-2 2h0m-28 1h0m-5-5h0m-11 5h0m-30-3h0m-21-1h0m-6 6h0m19 1h0m29 3h0m112 3h0m-20 0h0m-29 1h0m-29-3h0m-25 5h0m-47-2h0m33 4h0m12 0h0m81 3h0m6-2h0m37 0h0m-2 6h0m-27 2h0m-2-1h0m-28 0h0m-109 0h0m-3 7h0m28-2h0m7 3h0m63-4h0m8-1h0m33 1h0m4 2h0m31-1h0m-14 5h0m-68 3h0m-43-4h0m-7 4h0m-11 1h0m-24 3h0m2 3h0m14-2h0m14-3h0m23 2h0m9 3h0m35-3h0m48 0h0m12 4h0m-45 4h0m-94-1h0m-35-1h0m15 4h0m6 4h0m42-3h0m55-1h0m31 4h0m27-3h0m9 8h0m-56 2h0m-80-2h0m-25 2h0m25 6h0m114-5h0m-13 11h0m-44-3h0m-28 2h0m-3-1h0m-13-1h0m-4-2h0m-12 0h0m-2 4h0m-4 1h0m25 2h0m12 0h0m30 4h0m20-1h0m23-3h0m4 3h0m8-3h0m19 5h0m-61 3h0m-15 0h0m-19 0h0m-18 2h0m-16-3h0m-11 2h0m-41 5h0m64 0h0m8-3h0m4 0h0m10 2h0m7-1h0m47 4h0m46 3h0m-14 2h0m-4-4h0m-26 2h0m-4-2h0m-61 1h0m-79-1h0m14 11h0m11-2h0m57-1h0m24 2h0m23-2h0m18 1h0m42-3h0m-15 7h0m-15 1h0m-46 3h0m-12-4h0m-2 1h0m-8 3h0m-7-5h0m-5 3h0m-79 4h0m0 3h0m27-2h0m16 2h0m134 1h0m-7 3h0m-38-2h0m-79 3h0m-47-2h0m23 10h0m61-3h0m52 1h0m15 6h0m-21-3h0m-2 3h0m-11-3h0m-65 0h0m-43 1h0" stroke="#6a40c0" stroke-width="2.0" opacity="0.50"/><path d="M9-2h0m54 6h0m-15 1h0m-17-4h0m-19-1h0m-10 5h0m3 1h0m115 2h0m37 2h0m30 1h0m-66 2h0m-7 2h0m-58 2h0m-55-5h0m15 8h0m52 0h0m40 2h0m19 1h0m-42 4h0m-75 1h0m68 2h0m57 0h0m32 0h0m-14 9h0m-77 1h0m-68 3h0m34-1h0m59 5h0m49-1h0m36 6h0m-13-3h0m-167 3h0m90 4h0m92 5h0m-50 2h0m-52-3h0m-22 9h0m122-2h0m-159 8h0m-23 7h0m15-3h0m89-1h0m13 2h0m-58 6h0m-16 6h0m2 0h0m44 2h0m49 4h0m-68-1h0m-61-1h0m86 6h0m13 0h0m40 4h0m36 1h0m-43 4h0m-115 7h0m18 0h0m11-3h0m22 2h0m78 8h0m-108-2h0m-12-2h0m22 10h0m14-4h0m57 9h0m-17-3h0m-81 1h0m-20-2h0m134 8h0m24 2h0" stroke="#6a40c0" stroke-width="1.0" opacity="0.50"/><path d="M74 9h0m113-1h0m-33 6h0m-103-1h0m103 16h0m13 0h0m13 4h0m-72-2h0m-40 4h0m-28-3h0m34 4h0m108 18h0m-106 0h0m-43 11h0m151-5h0m-176 14h0m74 6h0m87 0h0m-121 4h0m31 16h0m89 1h0m-47 5h0m-63-1h0m-59 4h0m76 5h0m25 11h0m46-5h0m4 4h0m0 7h0m-10 3h0m10 2h0m14 0h0m18 1h0" stroke="#6a40c0" stroke-width="2.0" opacity="0.25"/><path d="M53 5h0m99 9h0m-104 3h0m10 1h0m57 2h0m33 4h0m-9 2h0m-136 10h0m68 2h0m92 0h0m11 10h0m-87 2h0m-56 2h0m46 5h0m106-1h0m-127 7h0m-36 5h0m55-2h0m87 0h0m-7 6h0m-43 9h0m63 7h0m-57-1h0m-16 0h0m-47 9h0m26 2h0m24 8h0m-54-4h0m-31 5h0m-15 5h0m114-1h0m-31 7h0m38 7h0m32 0h0m-28 4h0m-70 2h0m-51 1h0m161 7h0" stroke="#6a40c0" stroke-width="2.0" opacity="0.75"/><path d="M142 4h0m45 6h0m-124-1h0m-46-2h0m-3 10h0m161 2h0m-22-1h0m-94 1h0m-41-1h0m84 9h0m-17 7h0m-34 10h0m104-1h0m-87 10h0m63 1h0m2 11h0m44 4h0m-56 6h0m-39-3h0m-17 1h0m-33 18h0m-3 11h0m2 12h0m79 3h0m71-2h0m-25 6h0m-69 2h0m-38 16h0" stroke="#6a40c0" stroke-width="1.0" opacity="0.75"/><path d="M64 0h0m39 11h0m-44 12h0m97-2h0m8-1h0m-50 6h0m-48 4h0m-68 7h0m46 11h0m139 7h0m-16 4h0m-32-4h0m-24 9h0m-48 36h0m28 4h0m2 9h0m-35 3h0m23-2h0m67 7h0m-142 9h0m178 5h0m-15-1h0" stroke="#6a40c0" stroke-width="1.0" opacity="0.25"/><path d="M67 61l2 5m-33 19l0 4m12 25l3 1m125 9l3 0m-65 9l3 4" stroke="#9272da" stroke-width="4.0" opacity="0.25"/><path d="M139 73l4 1m-60 55l3 1" stroke="#9272da" stroke-width="3.0" opacity="0.25"/><path d="M114 73l-1 2m-74 43l2 2" stroke="#9272da" stroke-width="6.0" opacity="0.25"/><path d="M86 35l1 1m-55 48l-3 2" stroke="#9272da" stroke-width="5.0" opacity="0.25"/><path d="M139 68l3 2" stroke="#8058d2" stroke-width="4.0" opacity="0.25"/><path d="M148 39l2 1" stroke="#8058d2" stroke-width="7.0" opacity="0.25"/><path d="M102 110l-4 1" stroke="#8058d2" stroke-width="5.0" opacity="0.25"/><path d="M127 29l-2 2m-93 27l0 3m-17 24l-1 2" stroke="#7d38c9" stroke-width="4.0" opacity="0.75"/><path d="M80 5l1 1m27-3l2 2m-87 67l-1 3" stroke="#6a2ac0" stroke-width="3.0" opacity="1.00"/><path d="M87 124l-2 2" stroke="#7d38c9" stroke-width="3.0" opacity="0.75"/><path d="M170 91l2 1" stroke="#6a2ac0" stroke-width="3.0" opacity="0.75"/><path d="M17 10l-1 3m147 17l2 0m-125 38l-1 3m68 13l-2 3m-66 22l1 0m134 18l-3 2" stroke="#6a2ac0" stroke-width="4.0" opacity="1.00"/><path d="M134 136l-1 0" stroke="#6a2ac0" stroke-width="4.0" opacity="0.75"/><path d="M81 55l-2 2" stroke="#6a2ac0" stroke-width="6.0" opacity="1.00"/><path d="M38 40l1 2m69 98l2 1" stroke="#7d38c9" stroke-width="3.0" opacity="1.00"/><path d="M36 41l3 0m6 55l0 2" stroke="#7d38c9" stroke-width="5.0" opacity="0.75"/><path d="M-2 3l2 2m53 73l1 1m26 32l2 1" stroke="#6a2ac0" stroke-width="5.0" opacity="1.00"/><path d="M152 95l1 2" stroke="#6a2ac0" stroke-width="2.0" opacity="0.75"/><path d="M118 62h0m-71 25h0m-38 11h0" stroke="#6a2ac0" stroke-width="3.0" opacity="1.00"/><path d="M117 58l2 6m3-2l-7-1m5 0l-4 2m-70 21l2 4m3-2l-6 2m-35 6l-2 7m2 0l-3-6" stroke="#6a2ac0" stroke-width="1.0" opacity="1.00"/><path d="M12 110h0" stroke="#6a2ac0" stroke-width="3.0" opacity="0.75"/><path d="M12 106l0 6m4-3l-7 2" stroke="#6a2ac0" stroke-width="1.0" opacity="0.75"/><path d="M15 111l-8-3" stroke="#6a2ac0" stroke-width="2.0" opacity="0.75"/><path d="M14 98l-8 0" stroke="#6a2ac0" stroke-width="2.0" opacity="1.00"/><path d="M111 0h0m-98 18h0m162 93h0" stroke="#7d38c9" stroke-width="3.0" opacity="0.75"/><path d="M110-2l3 4m-2-6l0 6m3-5l-5 5m5-2l-7-1m-98 18l6 2m-3-2l2 4m1-4l-5 3m169 89l-6 3m2 1l1-5m2 7l-4-7" stroke="#7d38c9" stroke-width="1.0" opacity="0.75"/><path d="M115 83h0" stroke="#7d38c9" stroke-width="3.0" opacity="1.00"/><path d="M112 82l5 2m-2-3l1 5m1-6l-2 6" stroke="#7d38c9" stroke-width="1.0" opacity="1.00"/><path d="M178 113l-5-4" stroke="#7d38c9" stroke-width="2.0" opacity="0.75"/></g></g>
<rect x="138.00" y="662.80" width="91.50" height="70.20" fill="#f2effc"/><g transform="translate(138.00 662.80) scale(0.500)"><g clip-path="url(#mc108)" stroke-linecap="round" fill="none"><path d="M155 15h0m21 0h0m-122 25h0m3 6h0m28 14h0m-3 0h0m-16 9h0m115 10h0m-175 4h0m67 6h0m35-4h0m-33 14h0m-71 6h0m34 1h0m7-2h0m130 2h0m7 5h0m-60-2h0m-100 7h0m1-2h0m115 3h0m11 5h0m27 8h0m-138 7h0m-4-3h0" stroke="#6a40c0" stroke-width="2.0" opacity="0.50"/><path d="M135-1h0m-103 2h0m111 16h0m12-4h0m15 0h0m-116 11h0m-48 0h0m113 8h0m39 7h0m-101 1h0m57 6h0m37 17h0m-111-1h0m66 6h0m44 9h0m-109 5h0m55-4h0m52 1h0m-13 8h0m37 14h0m-3 5h0m-110 1h0m111 2h0m-34 15h0m-8 13h0m0 1h0" stroke="#6a40c0" stroke-width="2.0" opacity="0.25"/><path d="M31-2h0m141 4h0m-109 11h0m34 17h0m-50 5h0m-7 5h0m102 4h0m-93 15h0m42 4h0m-36-1h0m-54 1h0m92 7h0m91 2h0m-92 5h0m-81 5h0m119 22h0m-63 20h0m34 12h0m-99 3h0" stroke="#6a40c0" stroke-width="1.0" opacity="0.50"/><path d="M56 28h0m95 2h0m-15 1h0m49 14h0m-171 16h0m121 7h0m25 8h0m-31 40h0m8 12h0m-114 5h0" stroke="#6a40c0" stroke-width="1.0" opacity="0.25"/><path d="M145-1l0 3m-57 14l3 1m-31-5l0 1m-15 16l2 0m26-5l1 0m108 2l0 1m-100 11l-3 2m-67 10l2 2m127 5l3 1m-58 0l-3 2m-47 7l1 2m4-3l-1 1m25 3l0 1m50-4l1 1m-82 7l0 1m-26-2h0m-9 9l-1 1m27 4l0 1m-21 4l-2 1m8-4h0m53 4l-1 1m-46 3l-2 2m9 7l0 4m106-9h0m-93 7l-1 4m-7-1l1 0m-7-3l-1 3m102 7h0m27-4l1 1m9 9l2 3m-11-8l0 2m-115 0l-2 2m129 2l1 0m-26 8l1 1m-57 1l3 2m-48-2l-1 1m111 3l1 1" stroke="#8058d2" stroke-width="4.0" opacity="0.75"/><path d="M126 2l1 2m-73 29l-2 1m23 13l-2 1m-4 7l1 1m-51 12l0 1m26 11l1 3m87 12l0 1m-43 5l1 2m19 1l-1 2m-5 11l0 1m-21-2l2 3m-47 2l1 2" stroke="#8058d2" stroke-width="3.0" opacity="0.75"/><path d="M66 1h0m30 3l1 0m25 1l2 1m52 9l-1 1m-36 4h0m45 4l2 1m-25 10h0m11 17l0 1m-95-5h0m-79 14l1 2m164-2l-1 1m-146 3l-1 0m-7 5l0 3m87 3h0m56 4l0 2m-86-3l0 1m-60 2l2 2m-4 2l-4 1m43-4l3 2m31 3l1 1m106 7l1 1m-179 9l2 2m15-4l-1 1m9 0l0 3m23-6l-1 2m13 3l2 0m-12 11l-1 3m49-3l2 0m68-1l2 1m-8 6l0 1m-73-1l-3 2m81 0l0 2m-156 5l-4 0" stroke="#9272da" stroke-width="4.0" opacity="0.50"/><path d="M92 4l1 2m60 0l-2 1m-126 0l-2 0m30 16l2 1m14-1l2 1m38-1l-3 1m69-2l3 1m5 0l1 2m-52 16l2 0m-38 17l0 1m-14 3l-1 1m-74 18l1 0m45-1l2 1m-24 10l1 3m18 11l-3 1m123 2l-2 1m-47 2l3 0m60 14l0 1m-116 2l-1 0m3 8l0 3m20-5l-1 1" stroke="#8058d2" stroke-width="3.0" opacity="0.50"/><path d="M54-2l0 1m35 5l-1 2m71 11l-2 1m15 4l1 1m-153 7l-1 0m122 11l1 2m-24-1h0m10 8l0 1m32 6l2 1m13 9l2 1m-118 11l0 2m87 6h0m-19 1h0m-29 7h0m29 0l2 0m8 12h0m-122 5l1 2m39-5l2 1m-27 9l-2 1m21 0l-1 2m109 8l3 2m-5-4l-2 0m-28 6l-2 1m20 0l-1 2m-40 4l1 3m-49-5l-2 0" stroke="#8058d2" stroke-width="5.0" opacity="0.75"/><path d="M77-3l-1 2m81 0l0 1m-53 5l2 1m44 2l2 0m-68 15l-2 2m-60 9l1 1m77-2l1 1m9-2l1 1m7 7l1 0m-77 15l1 1m82 12h0m-110 0l0 1m10 19l0 1m2 3h0m-10 13l4 1m6 19l1 1m-19-6l-3 0m4 6l1 1m15-1l-3 1" stroke="#8058d2" stroke-width="5.0" opacity="0.50"/><path d="M78 54h0m54 6l-2 0m-45 12l1 0m-37 24l-1 0m90 12l0 1m25-1l0 2m-164 14l1 1m117 11h0" stroke="#9272da" stroke-width="7.0" opacity="0.75"/><path d="M110-1l1 0m-29 7h0m53 10h0m43 4h0m-47 2l-3 2m-3-6l-1 2m-97 2l-1 1m70 18l0 3m39 5l0 1m-15 3l2 0m-111 14l-1 2m104 4l1 3m-50 0l3 0m36 2h0m-85 11h0m58 1l3 0m-52 9h0m-12-3l-1 0m27 7l-1 1m33-1l0 1m62 10l-2 2m-41-2l0 1m45 5l1 1m-12 7l-3 1m-33 2l2 0m-53-5l-2 1" stroke="#9272da" stroke-width="5.0" opacity="0.50"/><path d="M100 5l-1 1m53 11l0 4m-46-1h0m9 1l3 1m-44 2l-2 2m-33 7l-2 2m116 11l2 0m-28-3l0 3m-58 19h0m56 6l3 1m-49-2l-1 0m-64-2l1 0m124 5l1 3m25 3h0m-121 4l0 2m-32 15l3 0m22-2l3 0m35 1l0 3m6-3l-1 4m41-7l-2 3m46-2l0 1m0 4l0 3m-31 2l3 2m-88-3l-2 1m68 2h0m-3 8l-1 2m-82-5l1 1m-24 5l1 2m12-2h0m-1 9l0 4m1-1l-3 2m163 4l-3 2m-108-2l-1 1" stroke="#8058d2" stroke-width="4.0" opacity="0.50"/><path d="M163 4l-1 3m17-2l1 1m-20 6h0m-10 0l-2 1m-53 9l-2 2m58-3l3 2m-30 1l2 3m-42-3l1 3m-30 0l-1 3m-46 0l-2 2m97-2l-2 2m32 3l-3 1m-5 0l3 3m-64-3l1 1m-31 3l0 1m63 8l1 2m87 0l-1 0m-4 3l-2 2m-180 16l1 1m160 6l-1 1m-102 8l-1 0m94 2l0 2m-28 1l0 1m-40-4l1 3m66 6l2 0m18 7l0 1m-40-3l-1 2m-118-3l1 0m24 13l0 1m59 6l0 4m61 1l-1 0m-45 9h0m-5-5l-2 1m-76 8l0 1m125-4l2 1" stroke="#9272da" stroke-width="4.0" opacity="0.75"/><path d="M109 13h0m33-1l-1 2m5 1l1 2m-33 2l0 1m-77 0l-1 1m-24-1h0m43 8h0m8 0h0m60 1l1 2m-5 12l-1 1m-2-2h0m-14 6l0 1m59 40l-1 1m-16-2l2 1m-77-3l-1 1m24 13l-1 3m76 15l0 1m-159 2l1 1m101 3l-1 2m64-3l0 2m-154 3h0" stroke="#9272da" stroke-width="6.0" opacity="0.50"/><path d="M76 4l-1 2m48 5l1 1m-30-6l-2 3m58 14l1 1m-92 10l0 1m71 4l-1 0m5-1l1 1m-36 4l0 1m-92 0l2 2m99 13l-1 2m46-4l2 2m18 6l-1 2m-51-3l-2 2m-43-5l1 1m-28 14l-2 1m91-1l2 2m-1 16l2 2m-98-4l-2 0m-38 8l2 0m101 5l1 1m-10-2l1 2m-19 6l-1 0m44 6l-2 0m-18 6l-2 0m52 11l-4 1m-104 0l1 0" stroke="#9272da" stroke-width="5.0" opacity="0.75"/><path d="M72 3l1 1m112 3l-1 3m-105-4l2 2m-34-2l1 1m101 8l1 1m-82 2l-2 1m39 28l0 1m76 4l1 2m-158 12l0 2m23 8l-1 1m93 8l-1 1m-29 7l0 2m38 12l-2 2m24 9l2 2m-49-1l-1 0" stroke="#9272da" stroke-width="3.0" opacity="0.50"/><path d="M126 5l1 2m-23 44l-2 1m9 7l0 1m-76 2l3 2m65 22h0m13-1h0m23 12l-1 0m-38 0l0 1m-93 21l1 1m34 9l2 0m-28 1h0m106 10l2 1" stroke="#9272da" stroke-width="6.0" opacity="0.75"/><path d="M108 1l0 2m-20 16l1 1m59 30h0m7 21h0m-61 3h0m47 3l-2 0m9-2h0m-138 7l1 2m11 9l0 1m110-3l-1 0m-52 6l1 0m22 14l-2 1m60 16l0 2m-34 5l0 2" stroke="#8058d2" stroke-width="6.0" opacity="0.75"/><path d="M179 7l0 1m-50 61l1 0m-28 22l0 1m82-1l2 1m-86 4l0 1m70 8l2 0m-99 35h0" stroke="#8058d2" stroke-width="7.0" opacity="0.50"/><path d="M112 11h0m67 5l-1 0m4 16l1 0m-97 20l-2 0m90 4l0 1m-26 3l-1 1m-29-1l-1 1m-70 3h0m-26 1l-1 1m143 1l2 0m-51 23l1 0m-63 5l-2 1m63 3l0 1m-46 19l-1 0m58 22l1 2m27-3l1 0m30-1h0" stroke="#8058d2" stroke-width="6.0" opacity="0.50"/><path d="M56 2h0m13 36l0 1m75 5l0 1m-10 8h0m1 12h0m-91 9l-2 1m58 4h0m-61 36h0m-36 9h0m115 0l1 1m36 4h0" stroke="#9272da" stroke-width="7.0" opacity="0.50"/><path d="M162 27l-2 0m-103 49l1 2m-19 11l0 2m61-6l0 2m-12 21l1 1" stroke="#9272da" stroke-width="2.0" opacity="0.75"/><path d="M109 16h0m29 2h0m-31 15l0 2m8 60h0m-115 18l-1 0m140 19l1 1m-46 2l-1 2" stroke="#8058d2" stroke-width="7.0" opacity="0.75"/><path d="M157 3l-2 0m-51 7l-2 0m-14-2l2 1m80 16l1 1m13 7l0 1m-39 0l-1 1m-59 6l-1 1m30 14l1 1m-5 4l1 1m37 3l-3 0m9 4l2 1m-152 4l-1 1m139 2l-1 2m-69 30l0 2m-46-1l-2 1m32 9l-1 2m78 1l1 0" stroke="#9272da" stroke-width="3.0" opacity="0.75"/><path d="M42 94l2 1m127 28l-1 2" stroke="#9272da" stroke-width="2.0" opacity="0.50"/><path d="M167 73l0 1m-41 39h0m-33 1h0" stroke="#8058d2" stroke-width="8.0" opacity="0.75"/><path d="M101 21h0m26 18h0m-79 43h0m2 57h0" stroke="#9272da" stroke-width="8.0" opacity="0.50"/><path d="M32 13h0m64 48h0m35 30l-1 1m-122 47h0" stroke="#9272da" stroke-width="8.0" opacity="0.75"/><path d="M112 36l2 1m54-1l0 2m-111 69l-2 1" stroke="#8058d2" stroke-width="2.0" opacity="0.75"/><path d="M71 107h0m57 1l0 1" stroke="#8058d2" stroke-width="8.0" opacity="0.50"/><path d="M58 14l-1 2m72 17l-1 3m52 17l1 2m-122 16l-2 2m101 38l2 2m-60 5l-2 2m-65-1l2 2m9 14l3 1" stroke="#6a2ac0" stroke-width="2.0" opacity="0.75"/><path d="M170 28l-1 3m-98 14l-2 0m89 11l1 2m-76 6l-2 1m67 18l1 0m-12 11l-2 2m-34 11l-1 2m-30-1l0 4" stroke="#5b2bc0" stroke-width="4.0" opacity="1.00"/><path d="M107 10l2 3m55 2l1 2m-56-3l-2 2m21 8l2 2m8 16l0 2m44 10l-2 1m-164 8l2 0m85 23l0 1m-43 3l0 2m45 19l3 3m-54 8l2 1" stroke="#5b2bc0" stroke-width="4.0" opacity="0.75"/><path d="M126 20l-1 2m37 32l-3 2m-89 0l-3 2m7 2l-2 4m-68 3l-1 1m153 12l0 3m-82 3l1 0m-29 12l2 0m33 13l-1 4m87-1l3 1m-75 11l-3 1" stroke="#7d38c9" stroke-width="4.0" opacity="1.00"/><path d="M126 14l-2 2m-28 7l0 1m22 13l0 2m-25 7l-3 2m60 1l-1 1m-85 34l0 3m63 6l-1 1m21 1l-2 1m-118 2l2 2m-25-3l0 3m43 10l-1 2m4-2l3 2m42 19l1 1" stroke="#6a2ac0" stroke-width="4.0" opacity="0.75"/><path d="M111 13l4 1m24 14l-1 3m-4-4l2 3m9 9l1 1m-3 13l-3 0m15 8l1 1m-35 12l2 3m63 45l-3 1" stroke="#6a2ac0" stroke-width="3.0" opacity="1.00"/><path d="M70 16l-1 1m22 12l2 2m52 63l0 2m-132 3l1 2m68 21l-1 2m79 7l-2 2m-139-4l1 2m83 10l2 0" stroke="#7d38c9" stroke-width="5.0" opacity="0.75"/><path d="M72 20l2 4m-1-4l3 4m95 2l-1 3m-103 5l0 3m-41 1l1 1m129 4l1 2m-98 38l2 0m29 16l3 2m54 15l-1 1m-62-3l2 2m-67 7l-1 1m59-2l3 1m7 0l0 2m5-3l-4 2" stroke="#6e3ac9" stroke-width="3.0" opacity="0.75"/><path d="M161 64l-1 1m-87 17l-3 1m-9 12l-2 1m-33 2l0 2m34 5l-2 1m30 0l2 0m-49 6l1 1m57 7l-2 1m53 6l1 1m-48 5l2 1" stroke="#5b2bc0" stroke-width="5.0" opacity="0.75"/><path d="M120 32l0 2m27 3l0 2m-76 12l0 2m36 34l-3 1m43 6l3 0m-119 3l-2 3m-10 10l1 3m70 0l-2 3m-83 13l2 1m-7 5l-1 4m57-4l-2 0m33-2l4 2" stroke="#7d38c9" stroke-width="4.0" opacity="0.75"/><path d="M125 7l-1 0m58 31l0 1m-65-3l4 0m-47 11l2 2m64-5l-1 4m-4 7l1 1m-62-2l1 1m-49 2l0 4m130 2l1 2m-141 1l3 1m51 36l2 1m-23 9l-1 2m-9 16l2 1m-6 5l-1 0" stroke="#6a2ac0" stroke-width="4.0" opacity="1.00"/><path d="M102 15l1 2m-30 3l2 0m66 33l-1 1m-133 36l0 2" stroke="#5b2bc0" stroke-width="6.0" opacity="0.75"/><path d="M155 8l-2 1m-78 51l-3 1m50 64l-1 2m-17 8l1 2m50 2l0 2" stroke="#6e3ac9" stroke-width="2.0" opacity="1.00"/><path d="M105 11l1 1m6-2l4 1m-19 6l1 1m-1-2l2 0m40 4l3 2m-138 6l0 1m166 17l3 0m-103 3l1 1m-27 13l-2 1m117 2l-1 1m-4 0l0 1m-123 2l0 1m-29 4l4 2m118-3l-1 1m49 7l0 1m-47 0l-1 1m-87-4l-1 2m-6 6l2 2m80-3l0 1m-41 5l-4 2m-39 9l-3 1m100 3l3 2m-128 9l3 1m106 7l-2 2m28 7l0 2m-133 0l1 3" stroke="#5b2bc0" stroke-width="3.0" opacity="1.00"/><path d="M58 37l4 2m56 20l-1 2m-82 11l2 3m-11 5l3 1m18 4l2 2m104 7l3 2m-41 25l3 1" stroke="#6e3ac9" stroke-width="4.0" opacity="1.00"/><path d="M79 19l1 2m73 61l-2 1m30 36l2 2" stroke="#6e3ac9" stroke-width="5.0" opacity="1.00"/><path d="M63 28l2 1m17 11l-1 2m-35 3l-3 2m43-2l1 2m62 6l2 1m-126 12l-3 1m41 39l2 0m120 6l-2 1m-33 27l1 1" stroke="#6e3ac9" stroke-width="2.0" opacity="0.75"/><path d="M110-1l0 1m-12 24l-2 1m-31-1l3 1m21 39l-1 1m45-1l-2 1m44-4l2 1m-178 4l2 2m7 7l1 0m14 2l1 1m15-5l3 2m111-2l1 3m-46 5l-4 1m-3-1l-2 1m-16 4l-2 1m-28 19l-3 1m-3 15l3 3" stroke="#6e3ac9" stroke-width="3.0" opacity="1.00"/><path d="M98-2l-1 2m50 24l1 2m-30 13l0 2m52 20l0 2m-29 8l-1 2m-90 9l1 2m-44 14l-2 1m146 4l-1 2m-140 8l2 1m154 0l2 1m-35 6l1 3m3 1l3 1" stroke="#6e3ac9" stroke-width="5.0" opacity="0.75"/><path d="M66-2l0 2m14 0l0 1m48 30l1 1m55 6l-1 4m-67-5l1 3m-109-2l2 1m11 23l1 4m61 7l3 0m74 13l-1 2m5 9l-2 4m-48-5l-1 1m-62 2l3 3m-42-6l-2 2m95 7l0 2m4-4l-1 2m52-3l-3 3m-128 17l0 2" stroke="#7d38c9" stroke-width="3.0" opacity="0.75"/><path d="M88 17l0 3m12 19l2 1m81 37l-2 1m-147 28l-2 0m86 10l-1 2m-77 6l3 1m-31 14l0 2" stroke="#6a2ac0" stroke-width="2.0" opacity="1.00"/><path d="M68 52l1 1m116 9l-2 2m-135 3l-3 0m-12 43l2 0m116 4l2 1m-75 10l2 2m70 9l2 1" stroke="#5b2bc0" stroke-width="2.0" opacity="1.00"/><path d="M17 54l0 2m-7 8l2 1m67 41l2 0m97 19l-1 2m-147-5l1 1m-14-1l3 0" stroke="#6a2ac0" stroke-width="5.0" opacity="0.75"/><path d="M111 10l-1 0m-46 34l2 3m-27 17l3 3m25 10l1 0m-57-2l-2 1m-10 17l4 2m126 23l2 2" stroke="#6e3ac9" stroke-width="4.0" opacity="0.75"/><path d="M101-2l-2 1m33-1l-2 2m-64 62l-3 1m-9 11l1 3m77 29l2 2m-125 14l-2 1" stroke="#7d38c9" stroke-width="2.0" opacity="1.00"/><path d="M120 7l3 0m-98 54l-2 0m49 54l2 1m20 15l0 2m-83-2l-2 1" stroke="#5b2bc0" stroke-width="5.0" opacity="1.00"/><path d="M140 30l0 3m-68 4l1 3m4 5l4 2m79-3l1 2m-79 7l-2 0m90 9l1 1m-51 8l2 2m13-1l2 1m24 8l-1 1m-104 1l-3 3m59 0l-1 1m-67 3l1 1m-21 14l1 0m93 1l-2 3m-7 4l-2 1m-15-4l-1 1m-75 3l-1 0m45 5l-4 1m95-4l0 4" stroke="#6a2ac0" stroke-width="3.0" opacity="0.75"/><path d="M39 1l2 1m-34 15l-2 2m124 6l-2 2m55 3l0 1m-70 1l-1 1m27 18l1 3m46-3l-2 3m-38 1l3 1m-34 0l0 2m28 2l1 2m-21 13l-2 4m-62-2l-2 1m6 57l2 0" stroke="#5b2bc0" stroke-width="3.0" opacity="0.75"/><path d="M65 9l0 1m59 2l2 2m33 27l-1 2m-9 11l0 3m-83 5l-1 3m82-5l0 2m16 17l3 2m-141 10l-1 2m140 9l1 1m-13 4l3 1m-26 11l0 1m33 17l-4 1m-117-6l0 2m-17 5l1 0" stroke="#7d38c9" stroke-width="3.0" opacity="1.00"/><path d="M113 35l-1 2m15 8l-1 2m37 7l-2 1m-159 16l0 2m117 3l0 2m-70 49l-1 1m124 9l0 3" stroke="#6a2ac0" stroke-width="5.0" opacity="1.00"/><path d="M66 67l0 2m62 20l-1 2m-105 16l-2 1m59-6l-1 3m-73 17l1 0" stroke="#7d38c9" stroke-width="5.0" opacity="1.00"/><path d="M164 28l1 2m-28 38l1 2m32 17l2 0m-129 43l-3 1m-22-2l-3 0" stroke="#5b2bc0" stroke-width="2.0" opacity="0.75"/><path d="M92 23l2 0m69 54l-1 2m-99 2l2 1m102 13l0 2" stroke="#5b2bc0" stroke-width="6.0" opacity="1.00"/><path d="M128 10l-1 2m7 91l1 1" stroke="#7d38c9" stroke-width="6.0" opacity="1.00"/><path d="M128 8l0 2m-51 122l1 1" stroke="#6e3ac9" stroke-width="6.0" opacity="1.00"/><path d="M155 44l-1 2m-80 45l1 1" stroke="#7d38c9" stroke-width="6.0" opacity="0.75"/><path d="M86 45l0 2m69 56l1 2m17 31l0 2" stroke="#7d38c9" stroke-width="2.0" opacity="0.75"/><path d="M149 6h0m-51 15l5 2m-81 2h0m114 4h0m-55 3h0m63 24h0m-77 14h0m111 3h0m-116 52l3 7m0-6l-1 5m2-3l-6 3m34 4h0m88 6h0" stroke="#6a2ac0" stroke-width="2.0" opacity="1.00"/><path d="M151 5l-3 1m3 1l-5-3m3 4l0-5m-128 20l1 3m80-7l-1 6m36 3l-3 3m-110-7l-5 2m64 8l-3-3m4 0l-6 1m61-1l-4-3m-21 11l-5 2m3 3l0-8m3 7l-4-4m34 16l-4 3m4 0l-4-5m-73 15l-1 4m3-2l-6-1m117 3l-5 1m4 1l-3-3m2 1l-2 3m1 0l0-4m-37 47l0 6m13-10l3 4m0-4l-2 6m3-3l-5-1m-14 4l7 1m-78 10l-8-3m36 6l-3 2m2-3l-2 4m1-5l1 6m-2-4l3 2m85 3l3 5m-1-6l-1 4m3-3l-4 3m4 0l-3-1" stroke="#6a2ac0" stroke-width="1.0" opacity="1.00"/><path d="M107 9h0m60 8h0m-125 2h0m98 2h0m1 13h0m-10 0h0m-12 3h0m-92 9h0m102 42h0m-73 5h0m-41-2h0m133 7h0m7 12h0m-152-2h0m132 10h0m-15 14h0m-90 1h0m11 7h0" stroke="#6a2ac0" stroke-width="3.0" opacity="0.75"/><path d="M109 8l-4 1m64 6l-5 5m3-7l-1 7m0-6l1 6m-4-4l8 3m-64-7l-1-7m-58 12l-4 4m1-4l-7 3m4-6l0 7m2-2l5 1m87-1l-4 3m4 1l-3-4m4 1l-6 0m11 3l-5-4m6 1l-5 1m44 5l-3 1m2 2l-1-3m-40-2l1-5m-6 5l-1-6m-17 17l5 5m-1-6l-4 4m10-4l5 0m-2-4l0 6m16-4l-7 4m2 2l0-7m-114 19l-1-9m4 8l-6-5m154 12l-5 0m4 1l-4-2m4 4l-3-5m0 5l2-4m-172 18l1 4m0-3l-2 3m3-3l-3 3m3-2l-5 0m109 5l-4 0m3-1l-3 2m2-3l1 5m-2-5l2 5m-93 6l-3 6m48-3l-8 2m4-4l-4 5m4-1l-4-4m-41 0l4 3m39 4l2-9m92 12l-3-6m6 4l-7 0m11 1l3 2m-1-2l-1 3m-151 5l-5 3m2 0l2-5m0 5l-3-4m5 4l-5-3m154 5l-2-5m4 1l-5 3m-15 7l-5 1m0 2l4-6m0 6l-4-7m12 9l-2 4m4-4l-5 3m5-1l-5-1m4 3l-2-3m-20 7l-7 2m4-4l-2 5m-114-5l-6 7m2-8l2 8m-5-4l7 0m25 4l1-5m0 1l-3 4m5-2l-6-2m95 1l-5-4m-74 9l-3 3m3 1l-4-5" stroke="#6a2ac0" stroke-width="1.0" opacity="0.75"/><path d="M182 2h0m-74 6h0m-80 13h0m0 8h0m26 13h0m116 15h0m-85 15h0m-36 8h0m18 5h0m-23 12h0m8 5h0m2 4h0m63-4h0m-31 18h0m-51 0h0m-7 16h0m30 5h0" stroke="#7d38c9" stroke-width="3.0" opacity="1.00"/><path d="M108 5l1 7m73-12l-1 6m5-6l-6 2m-16 6l-4-1m3-1l-1 5m-52-4l-5 3m1-2l6 1m-85 10l1 4m1-5l-2 7m2-2l-4-5m6 10l-6 3m4-4l-1 6m-2-5l5 4m43 0l2 4m0-4l-3 3m3-1l-5-2m-16 12l-4-5m1 6l4-5m31 30l-5 4m70-3l-3 5m4-3l-5 0m3 3l0-5m-63 1l-6-1m3 4l0-7m-34 9l-4 3m2 2l0-7m4 6l-8-3m19 5l5 3m-1-4l-1 5m2-3l-4 1m-21 14l0-6m3 3l-6 2m11 1l0 8m2-9l-5 8m68-7l-2 8m4-2l-5-6m-58 5l-4 4m3 0l-1-5m34 15l-4 5m-45-4l-8 2m1 1l5-5m-1 5l-1-6m3 6l-6-7m53 5l3 2m-59 14l-5 2m-8-1l-1 6m-1-5l2 4m1-3l-4 1m5 0l-4-1m12 0l3-5m1 4l-6-3m6 4l-3-5m29 4l2 6m0-5l0 5m1-4l-3 2m4-1l-5-1" stroke="#7d38c9" stroke-width="1.0" opacity="1.00"/><path d="M45 22l-5-6m6 3h0m88 1h0m46 7h0m-150 18l-8 4m153 7h0m-170 19h0m123 8l2 8m-22-11h0m18 6l8 5m-2-5l-4 3m29 11h0m-13 25h0m-113 10l-3-4" stroke="#6a2ac0" stroke-width="2.0" opacity="0.75"/><path d="M92 43l4 5m0-6l-4 7m4-5l-6 3m6-2l-5 0m83 20l-2 6m-132 0h0m130-2l7 0m-5-3l2 5m2-4l-5 4m-54 19h0m-40 11l-4 2m73-3h0m23-4l-1 5m3-1l-6 0m-19 41l-3-9" stroke="#7d38c9" stroke-width="2.0" opacity="0.75"/><path d="M70 8l0 5m3-4l-5 1m61 11l-6 1m5-4l-2 7m51 10l-5 5m0-3l7 1m-25 15l-6-2m7-3l-4 7m5-4l-6 1m3 3l-1-7m-86 12l-3 7m5-3l-8 1m6 2l-3-6m-20 9l-4 2m1-3l1 5m-2-5l3 4m-5-2l6 0m-24-3l-5 1m4-3l0 7m-1-5l3 3m1 6l-3 3m3 0l-3-4m98 11l1 4m2-2l-4 1m4 1l-4-3m-99 7l-1 4m-1-4l2 4m1-2l-4 0m132 2l3 2m-1-4l-1 5m2-2l-5 1m28-4l-6 5m5 1l-3-4m-8 8l-5 3m2-5l-1 6m0-6l4 8m-84-9l0-4m78 8l5 0m-10 27l-7 3m7-1l-7-1m6-4l-5 8" stroke="#7d38c9" stroke-width="1.0" opacity="0.75"/><path d="M184 3l-5-2m-16 6h0m-134 14l-4 2m43 0l-6 3m3 0l-4-6m13 14h0m-16 7l-7 2m3 2l0-6m119 15l-4 4m-4-3l8 2m-22 16h0m-32 28l-4 3m-59-4l-8 2m6 3l-4-7m70 4l-8 0m-97 37h0" stroke="#7d38c9" stroke-width="2.0" opacity="1.00"/><path d="M101 23h0m11 17h0m44 77h0m-14 4h0m-78 8h0" stroke="#6a2ac0" stroke-width="3.0" opacity="1.00"/><path d="M64 25h0" stroke="#7d38c9" stroke-width="4.0" opacity="1.00"/><path d="M2 132h0" stroke="#6a2ac0" stroke-width="4.0" opacity="0.75"/><path d="M71 10h0m56 11h0m47 17h0m-80 7h0m58 7h0m-88 12h0m-46 4h0m155 1h0m-153 9h0m-5 20h0m153 2h0m-93 2h0m81 6h0m-11 28h0" stroke="#7d38c9" stroke-width="3.0" opacity="0.75"/></g></g>
<rect x="258.20" y="424.90" width="92.00" height="70.10" fill="#fbf8fd"/><g transform="translate(258.20 424.90) scale(0.500)"><g clip-path="url(#mc201)" stroke-linecap="round" fill="none"><path d="M163-1h0m-83 2h0m-73 26h0m142 15h0m-15 2h0m-39 3h0m-84-2h0m51 3h0m40 3h0m-46 5h0m-15 11h0m128 23h0m-111 8h0m1 15h0m-18 29h0" stroke="#7a50c8" stroke-width="1.0" opacity="0.25"/><path d="M165-2h0m-135 8h0m114 8h0m-145 4h0m100 11h0m16 8h0m-35 3h0m-28 1h0m9 5h0m57-2h0m63-2h0m-13 16h0m-10 0h0m-67 6h0m33-4h0m-114 10h0m9 12h0m105 2h0m23 16h0m-27 16h0m-33 2h0m-20 3h0" stroke="#7a50c8" stroke-width="2.0" opacity="0.25"/><path d="M110 5h0m63-2h0m7 4h0m-136 4h0m43 3h0m0 2h0m14 3h0m-63 5h0m76 4h0m-111 3h0m165 14h0m-43 3h0m-64 5h0m-36-3h0m41 7h0m36 0h0m-21 8h0m-37-2h0m-38 0h0m95 3h0m32 4h0m28-4h0m0 11h0m-108-3h0m10 5h0m111 8h0m-41-1h0m-71 2h0m37 3h0m77 1h0m2 6h0m-13 2h0m0-4h0m-36 2h0m-78-2h0m-31 0h0m150 18h0m-152 9h0m-10 7h0m152 7h0m-82-3h0m30 7h0" stroke="#7a50c8" stroke-width="2.0" opacity="0.50"/><path d="M92 3h0m88-3h0m-40 7h0m-43-1h0m-65 3h0m62 9h0m45 5h0m29 6h0m-130 4h0m40-2h0m-40 10h0m31 3h0m20 5h0m61 10h0m-37 2h0m6 5h0m-5 16h0m27 4h0m-135 5h0m115 5h0m-90 19h0" stroke="#7a50c8" stroke-width="1.0" opacity="0.50"/><path d="M77-1l0 1m97 4l1 0m-6 0l-1 1m-78-2l2 2m-26-4l-1 2m-8-2l0 3m-28-2l0 2m-2-3h0m-6 1h0m26 8h0m99-2l0 2m11-4l0 3m29-3l-1 1m-73 6l2 0m-24 2l0 1m-72 2l-1 0m62 3l-2 2m37-1h0m28-4h0m20 3l-1 0m17 1l1 2m-45 5l2 1m-35-1l-1 0m-75-4l0 2m-27-1l2 1m72 8l1 2m7-7l0 1m35 2l-3 1m62 1l-1 1m-72 4l-2 0m-33 7l-1 0m73 0l2 0m4-5l1 0m-48 11l2 2m-92-2l2 0m52 3l3 1m44-2l1 0m3 7h0m-80 3l0 1m38 4l0 2m35 4l-3 1m-71-5l2 1m-22 3h0m-2-4l0 2m24 7l1 3m21-3l1 0m120-3l-1 1m-10 10l1 0m-19-4h0m-119 1l-2 2m-19-4l1 2m15 4h0m12 5l1 0m114-4l0 1m7-2l0 1m20 5l0 1m-125 1h0m-46 4l-1 0m11 1l-2 1m37-1l-1 3m1-3l-1 2m4 0l-2 1m18 0l-1 1m5-2l2 1m79-1l1 1m27 3l0 2m-35-2l2 2m-80 1l-1 1m-3-4l1 1m-17-1l1 0m-29 8l-1 0m113 8h0m-3 0l-1 2m-38-2l1 1m-26-5l1 1m-50 2l-3 0m22 4l-1 2m80 1l-1 2m38-6l2 0m12-1l1 1m1 1l2 1m-82 8l-1 2m-41-6l0 1m2 6l2 2m134-4h0" stroke="#8058d2" stroke-width="3.0" opacity="0.50"/><path d="M31-2h0m70 7l0 1m-32-6h0m-52 4h0m-12 3h0m57 3l-1 1m57-4l1 0m24 3l-1 0m31-2l-1 1m3 0h0m-139 3l1 1m67 8l0 1m76 1l-1 0m-22 6l1 1m-3-1l0 1m-2-5l-2 0m-90 1h0m-45 0h0m-1 12l-1 1m150-2l1 2m-50 4l1 0m-16 2l-1 0m-46-3l2 1m-11 0h0m-7-1l2 0m105 8l1 0m14 1l0 1m4 6l-2 0m-19-4l2 1m-94 2h0m-38-3h0m162 10l1 0m1 0l0 2m-151 6h0m-12 5l1 1m137 3l-1 1m-43 6l1 0m-88 6l-1 1m72-1l1 1m58-4h0m-36 6h0m-86 4l0 1m56 1l1 0m99 9h0m-46 1h0m31 1l-2 1m7 9l-1 1m-43-3l-2 1m-95-2l-1 0m115 10h0m26 2l0 1m-6-2l1 0m-19 2l1 0m-3 1l1 0m-25 0l0 1m-28-4l-1 1m-36 0l-1 0m-14-1l2 1m-36 6h0m13 3l-1 1m1-3h0m156 2l0 1" stroke="#8058d2" stroke-width="4.0" opacity="0.50"/><path d="M71-2h0m113 5l1 1m-4-1h0m-25-2l1 0m-14 3h0m-4 0l0 1m-101-4l1 2m-18 6l0 1m80-4h0m84 9l1 1m-27 1h0m-74-2l1 1m-3 3l0 1m5 3h0m7-1l0 3m47 0l1 1m-29 7l1 1m17 0l1 1m11-5l-1 1m-43 9l-1 2m-85-6l1 0m22 8l1 0m54 2l2 1m56 6l0 2m-50-4h0m-42 3h0m7 5l0 1m60-2l0 1m2-4h0m-76 5h0m-27 9l-1 0m75-3h0m41 0l-1 1m-28 7l1 1m-74 2l0 1m-8-3l-3 0m3-1l1 1m-14-1l0 2m99 13l1 1m48 5l0 1m-122-2l0 1m-28-3l-1 0m71 5h0m6 9h0m-13-3l0 1m-42 1l2 0m-17 7l1 1m15-5h0m30 2l0 1m75 0h0m20 8l1 1m-3-5l-2 0m-105 5l-1 1m16 3l0 1m118 5l-1 1m-46 5l2 1m32-4h0m-128 6l2 1m-7-2h0" stroke="#9272da" stroke-width="4.0" opacity="0.50"/><path d="M159-3l0 2m5 2l-2 0m-71 0l1 1m-37 3l-1 0m-28 8l-2 0m162 10l-2 1m-43-5l0 1m-117 9l1 1m120-2l-1 0m28-1l-1 1m-153 13l-1 0m6 3l1 2m130 2l1 2m-87-2l0 2m-43 11l0 2m124 0l1 1m9-2l0 1m-79 10l1 1m5 14l0 2m9-3l-1 2m-72 7l-1 1m-6 1l1 1m161 7l1 1m-19 5l2 2m-159 2l-1 0m13 1l-1 1m5-4l1 1m24 6l1 1m50 13l1 1m57-2l-1 1m-41 7l1 1" stroke="#9272da" stroke-width="2.0" opacity="0.50"/><path d="M24 29l1 0m5 2l-2 0m100 10l-1 1m-79 3h0m71 14l-1 2m16 38l-2 1" stroke="#8058d2" stroke-width="3.0" opacity="0.75"/><path d="M23-2l1 0m107 5l1 2m-40-3h0m72 9l1 0m4 4l1 1m-164 7l2 0m71-3l0 2m23-1l2 1m31 1l-1 1m10-2l0 2m20-6h0m-46 8l0 1m-20 1h0m-77-4l0 1m-7 0l1 2m-17 0l2 0m9 7l3 1m142-3l-2 2m8-1h0m16 2l-1 2m-65 0l1 1m-34 0l-2 0m-55 4l-1 0m7 5l-1 2m73-4l1 0m75 0l-2 1m8 6l0 1m-85-4l0 1m-5-2l-1 3m-66 2h0m-22 4l2 1m9-4l3 0m63 2l2 1m7-1l1 1m94 1l-2 1m-128 3l1 2m33 2l0 1m92 1l0 2m-23 6h0m-25-2h0m-1-1l-1 0m-14 1l-2 1m-41-2l0 1m-40 2l1 1m-11-1l0 2m-7-3h0m-1 0l-1 0m-11-1l1 2m49 7l-1 1m4-1l-2 1m39-4h0m73 3l1 0m-1 5l0 2m-18-5l-1 2m-8 2l1 2m-51-3l-1 2m-38-6l1 1m55 7l1 0m46-2l-1 0m8 10l1 0m-119 0h0m-7 5l0 1m15-1l0 1m62 7l0 1m-68-1l1 1m-17-1h0m-24-3l1 1m-4 8l1 1m19-3h0m5-1l0 1m41 1h0m80 7l-1 1m-16-3l-1 1m-41 0h0m-24-2l-1 1m-61 12l-1 0m87 2h0m7-5l0 1m76-1l0 2m6-1l1 1m-29 6l1 0m-7-1l3 1m-28 1l0 2m-46-2h0m-31-1l0 2" stroke="#9272da" stroke-width="3.0" opacity="0.50"/><path d="M2 0h0m33 0h0m148 4h0m-23 4h0m-51-2l0 1m-23 3l0 2m-37-4h0m-25-1h0m45 8h0m99 7h0m-50 0h0m-17 0h0m-35-1h0m-55-3h0m19 11h0m50-4h0m88 4l-1 1m-147 9h0m-13-1l-1 0m88 6l1 0m-50 10l-2 0m-17 2h0m-4-1l0 1m-21 19l0 1m109 1l0 1m39-4l0 1m-35 19l1 0m-60-3h0m-52 0l-1 0m13 10l-1 1m32-5l1 1m45 0l-1 1m61 7l0 1m-150-5h0m116 7h0m29-1h0m-103 11h0m-41-5h0m25 6l1 0m1 2l-1 1m2 2l1 0m36-1h0m-42 10h0" stroke="#8058d2" stroke-width="5.0" opacity="0.50"/><path d="M-1-2l0 1m129 3h0m-8 3l-1 1m-116-3l0 1m90 3l1 0m73 9h0m-29 0h0m-103 1h0m-13-3l1 0m-19 14h0m104 1h0m9-5h0m45 10h0m-40-1h0m-108 5l1 0m63 0l-2 1m7 1h0m-1 3l2 0m87 9l-1 0m-107 8h0m-62 13h0m14 9l-1 0m61 6l1 0m-76 2l-1 0m40 9l0 1m12-1l0 1m89-3l1 0m23 2l-1 0m17 0l-1 1m5-1l1 0m-19 7l0 1m-27-1l-1 0m-57-2l1 1m-12-1l-1 1m-52 1h0m40 8h0m124 14l0 1m-98-1h0m60 5l1 0m-5 6l0 1m-129 1l-1 1" stroke="#9272da" stroke-width="5.0" opacity="0.50"/><path d="M82-2l1 1m59 3l-2 1m-6 0l-2 0m-54 8l-1 2m54-1l1 1m-54 1l1 1m-54 2l-2 2m63 3l-1 1m41-2l1 1m-14 30l1 2m-111 6l0 1m4 3l2 1m56-4l-1 1m110-1l-2 0m13 6l1 1m-175 3l-1 1m12 17l-1 1m103-2l-1 2m-99 5l1 2m93 2l-1 1m45 5l-2 1m-68-2l-1 1m-70 6l0 1m87 1l-2 1m20 0l-1 2m-17 1l1 1m-28-1l-2 0m-32 7l2 0m71-2l0 1m19 0l0 1m24 0l2 2m-32 0l-2 1m-27 4l0 2m-29-2l2 2" stroke="#8058d2" stroke-width="2.0" opacity="0.50"/><path d="M86 0l-1 2m58 4l-1 1m-142 33l1 1m169 58l1 1m-40-1l-1 0" stroke="#8058d2" stroke-width="2.0" opacity="0.75"/><path d="M51 26l-1 1m35 1l-2 2m-15 10l-2 0m94 29l0 2m-41 4l2 0m-61 8l1 1m56 7l0 1m35 7l0 2m2-1l-1 0m-22 13l-2 0m-97 4l1 2m59 20l1 1" stroke="#9272da" stroke-width="3.0" opacity="0.75"/><path d="M1 28h0m172 40l-1 1m-113 41l-2 1m109 23l-1 1" stroke="#8058d2" stroke-width="4.0" opacity="0.75"/><path d="M58 17h0m15 23h0m-13 10h0m1 28h0m41 9h0m-38 18l1 0m24 8h0m-3 6h0m12 2h0" stroke="#9272da" stroke-width="6.0" opacity="0.50"/><path d="M29 0h0m10 0h0m-8 8h0m10 78l0 1m15 3l0 1" stroke="#8058d2" stroke-width="5.0" opacity="0.75"/><path d="M37 21l1 0m141 15l0 1m-40 0l-1 1m-21 1l-2 1m41 42h0m-47 7h0m-2 4h0m-36 25l1 1" stroke="#9272da" stroke-width="4.0" opacity="0.75"/><path d="M88-1h0m85 18h0m7 58l-1 0m-127 9l0 1m30 30h0m33 19h0" stroke="#8058d2" stroke-width="6.0" opacity="0.50"/><path d="M104 58l-1 1" stroke="#9272da" stroke-width="5.0" opacity="0.75"/><path d="M164-2l-1 1m-91 120l-1 0m97 12l1 0m-156 2l0 1" stroke="#9272da" stroke-width="2.0" opacity="0.75"/><path d="M67-1l1 0m38 0h0m78 5h0m-6-1h0m-5-3h0m-85 4l-1 0m-14-3l0 1m-63 5l1 0m37 4l0 1m9-6h0m11 2l0 1m113 3l-1 0m-5 2l0 1m-1-2h0m-13 0l0 1m-7 3l0 1m-32-2l-1 1m-14-2h0m-8 0h0m-34-3h0m-45 3l1 0m-2-1l1 1m-12-2l1 2m76 7h0m15-4l-2 0m7 0l-1 0m56 10h0m-42 1l-1 1m-2-3l0 1m-22 1h0m-20-3l0 1m-25 6h0m25 1h0m29 0l1 0m62-3l1 0m-53 7l0 1m-25-2l-1 0m-14-1h0m-23 3l-1 1m0-3h0m-15 0l-1 1m-24 3l1 1m88 0h0m21 1l1 2m25 2l-1 2m20-7l0 1m-63 7h0m-73-1l-1 1m-1 2l1 1m-18 6l0 1m85-6l-1 0m55 16h0m-120-1l-2 1m-1 0l-1 1m-15-2h0m-7-2l2 1m-2 1l-1 1m104 3h0m65-1h0m13 0l1 0m-15 9l0 2m-121-5l1 1m-4 7l0 1m5 0l1 0m5-1h0m124-1l1 1m-59 9l1 0m-27-2l1 0m-10 0l-1 1m-55 2l-1 0m7 0l1 1m32 3l1 2m7-3l1 1m56-2l0 1m4-3l-1 0m-34 9l-1 1m-43-3l1 0m-8 3l-1 1m-41 2l0 1m1-1l-1 1m1-2h0m9 0l1 1m7 1l0 1m8-1h0m17 0l2 1m55-3l-1 0m61 0h0m-21 11l0 1m-12-4l1 1m-4 1l-2 1m-2-3l-1 0m-6-1l-1 1m-9 3h0m-26-3l-1 0m-4-2l1 0m-28 1l-2 1m-2-2l1 2m-54 4l0 1m62 4l-1 0m12-2l2 0m13-3l-2 0m42 4h0m3 4l0 1m-3 0l0 2m-81-3l0 1m-43 6l-1 1m104 0l-1 0m9-3l-2 0m20 3h0m4-3l0 1m26-1l0 1m6-2l0 2m4 7h0m-1-3l-1 1" stroke="#5b2bc0" stroke-width="2.0" opacity="0.75"/><path d="M5 2l-1 0m56-1h0m10 2l1 0m44 1h0m36-3l1 0m4 3l-1 0m8-2h0m6 6l1 1m-37-2l1 1m-39 1l1 0m-23-1l1 1m-19-2h0m-26-1l-1 0m-26 2l-1 1m43 8l1 1m14-3l1 1m10-3l0 1m66 6h0m-15 0h0m-1 2l0 1m-23-3h0m-18 1l0 2m-17 0h0m-61-2h0m0-1l-1 1m58 5l0 1m7-2l0 1m34 2l1 0m5-2l0 2m28 1h0m24-5h0m18 0l1 1m1 0h0m-13 7l0 2m-26-2l1 1m-4-1l-1 1m-16-2l0 1m-29 2l0 1m-31-2l0 1m-13 3l-1 0m116 3h0m-90 12l1 0m-14-3h0m-14 3h0m-40 4l-2 1m32 1h0m114-1l-1 0m23-1l1 1m-71 7l0 1m-95 2h0m118 5l2 0m-32 4l1 1m-35 0l-1 0m-5-5l0 1m-37 1l0 1m29 4l-1 1m48 2h0m27 0l-1 1m10-2h0m41-2l0 1m12 7l0 1m-59-4h0m-123 0h0m42 7l-1 2m98-2l0 1m-10 8l0 1m-13-1l-1 0m-52 1l1 2m-3-2l-1 1m-42-6h0m77 9l1 0m15-1l0 1m10-1l0 1m8-1l1 0m12 0l-1 1m29 8l2 0m-29-2h0m-32-2l-1 0m-42 4l-1 1m-48-3l-1 1m-15 3h0m4 2l-2 0m14-1l0 1m14-2h0m69 2h0m84 0h0m-76 6l-2 0m1 2l0 1m-98 0l-1 0m22 5h0m133 4h0m-10-3l0 1m-74 2h0m-22 1l0 1m-10 4h0m84-1l1 1" stroke="#6e3ac9" stroke-width="2.0" opacity="1.00"/><path d="M93 4h0m7-4h0m29 4h0m54-3l-1 2m-27 5h0m-8-1l-1 2m-99-1l0 1m-13 2l-1 1m-18-5l-1 1m-1 2h0m0 5l0 1m66-4l0 1m11 3l0 1m36-4h0m43 6l0 1m-6 3l-1 0m-148-4l1 1m-3 0h0m67 7l1 0m4-2h0m28 0l0 1m-56 7l1 0m-43 3h0m13 0l0 1m27 4h0m85-4l-1 0m47 6h0m-23 4h0m-70-2h0m-24-1l1 1m-52-1l1 1m60 5l1 0m7-1l1 0m11 1l0 1m51-3l-1 0m-41 14h0m-49 0h0m-28 3l0 1m-11 9l0 1m75 1l1 0m16-4l0 2m47 4l1 0m-8 0l2 0m-133 7l-2 1m15 0l1 1m140-3l0 1m-42 6l-2 1m-33 0l0 1m63 6l0 1m0 1l0 1m-22 0l-1 1m-21 0h0m-32-1h0m-8 12l-1 1m70-1l0 1m6-2h0m-11 9l0 1m-31-4h0m-20 4l1 0m-12-4l0 1m-9 1l-1 0m-6 6h0m23 3l2 0m19-3l1 1m33-1l1 0m4 3l1 0m38-3l0 1m-15 5l0 1m-11 0l2 1m-6-2l1 1m-143 5l-1 0m6-1l-2 0m115 0l2 1" stroke="#6e3ac9" stroke-width="3.0" opacity="1.00"/><path d="M119-1l2 1m43 0l0 1m-27 4l-2 0m-14-1l1 1m-53-2l1 2m-44-4h0m-26-1h0m46 10h0m83-2l-1 0m54 6l0 1m-92-2l-2 0m-33 3h0m-52-4l1 0m18 9l0 1m7-1l0 2m23-3h0m17 0l-1 1m6 2l1 0m76 0l-1 1m-7 1h0m-43 4h0m-22 0h0m-14-2l0 1m-43-3l-1 1m37 4l0 1m43-1l0 1m15 4l0 1m-39 4h0m-10-2l1 0m-11 2l0 1m-50-2l1 0m-5 0l0 2m16 1h0m64 2l1 2m66-2l0 1m-30 4l2 0m-105 4l1 0m12 5l-2 1m4 0h0m66-5l1 1m30 1h0m9 2h0m16 3l1 0m-52 3l1 0m-38-3h0m-40 0l1 0m-16-1l1 1m29 5l1 2m11 0l-1 0m56 1l0 1m73-2l1 1m-32 3l1 1m-110-1l0 1m-29 4h0m-2-3l-1 0m1 5h0m35-1l2 0m4 5h0m15-2l-1 1m104 1h0m2 4l0 1m-1-2l-1 0m-141-2l-1 1m-4 0l1 1m-5 7l0 1m165-3l1 1m-71 7l1 1m-112-4h0m1 11l0 2m72-4l1 0m44 2h0m-30 1l0 1m-46 4h0m-28 3l1 1m110 2l-1 1m33-5h0m5 8l0 1m-3-4l-1 1m-27 1h0m-56-1l1 1m-3 3h0m-44 0l1 1m97 0l-1 1m11 4h0m18-3l2 0m5-2h0m-24 11l-1 0m-59 0l-1 0m-3-4l2 0m-19 0l1 1m-56 6l-1 0" stroke="#5b2bc0" stroke-width="2.0" opacity="1.00"/><path d="M75-1l0 1m104 5l1 0m-60-5h0m-20 5h0m-19-4l1 0m-40 10l1 0m110 5l-1 1m-78-2h0m-1-1l0 1m-50-3h0m25 9l1 2m6-1l0 1m73-1l1 1m12-5l-1 0m22 0h0m9 2l1 0m-82 14l2 0m-72 0l-1 0m145 5h0m-32 3l1 2m-111-1l0 1m-10 0l1 0m1 4l1 0m23 4l-1 0m95-3l1 0m49-1l1 1m2 7h0m-89 3h0m-38 4l0 1m64 0l1 1m49 3l0 1m-41 0l1 1m-23-1l0 1m-53-3h0m-7 0h0m-44-1h0m-7 2l1 0m31 7l1 0m30 2h0m7-2l-1 0m79-1l-1 1m9 1h0m-106 6h0m-27-1l0 1m-10 1l-1 1m-12 5h0m12-1l1 1m39 0l0 1m33-1l0 1m30-5h0m2 3l-1 0m65 2l-1 0m-33 5h0m-65-5l-1 0m-31 2l0 2m-6-2h0m-21 7l1 1m13-3h0m18-1l-1 1m11-1h0m107 4l0 2m-65 0h0m-85 1l1 1m-11 9l-1 0m3 0h0m13-4h0m52 0l1 1m42 0l1 1m5-1l1 0m48 1h0m10 7l0 1m-45-3h0m-10 2h0m-80-1h0m-45 3h0m2 5h0m63-2h0m45 0l0 1m69 2h0m-14 3l1 1m-4-3l-2 1m-5 1h0m-1 1h0m-3-3l1 0m-37 0h0m-65 4l-1 0m-1 0l1 1m-53-4l-1 1m2 4h0m36 1h0m49-1l-1 1m51-2l1 1m29 2l1 0m-3 5l0 1m-13-3l2 0m-111 0h0" stroke="#6e3ac9" stroke-width="3.0" opacity="0.75"/><path d="M107-1l-1 0m72 1l1 2m-11 0l-1 0m-54-2h0m-24 5l0 1m-16-2l0 1m-25-4l0 1m-17 0h0m-26 0l0 1m1 3h0m2 5h0m71-2h0m36 2l1 1m48-6l1 1m-42 5l-1 0m0 1h0m-108 9h0m62-2l-1 0m15 0l1 0m19-2l-1 0m73 11l-1 0m0-3h0m-12-1h0m-19 4l1 1m-24-4l1 1m-15-3l-1 1m-83-1l0 1m-5-1l1 0m-7 1l1 1m-17 0h0m89 9l1 1m39-1l0 1m29-1l-1 1m7-6l2 0m17 5h0m-3 3l-1 0m-10 1h0m-48 0l-1 1m-4-3l0 1m-43 1h0m-29 1l0 1m-41 0l1 1m8 0l0 1m31 2l-1 1m34 0l0 1m7-5h0m8 0h0m41 5h0m3-4l-1 0m32 10l-1 1m-13-2l-1 0m-33 0l-1 1m-8-2l-1 2m-19 0l-1 2m-41-2l0 1m-1-3l0 2m-27 5h0m41-1l-2 1m12 0l-2 0m24 0l-1 2m30-1l0 1m45-6l1 1m9 6h0m-13-1h0m-4 5l-1 1m-8-1l0 2m0 0h0m2 7h0m-59-1h0m-28 4l-1 0m-40-5h0m-25 4l0 1m-1 3l1 1m32 2h0m73-4l0 1m15 2l0 1m41-2l0 1m-25 2l1 1m-23-1l1 0m-10 2l-1 1m-62 2l-1 2m24 3h0m79 0h0m22-4l-1 0m11 7l2 1m-40 1h0m-25 2l0 1m-51-6l-1 2m0-2h0m-13 0l1 1m-24 2l2 1m8 6l0 1m26 0l1 0m8 0h0m10 0h0m25 0l1 1m10-6h0m68 7l0 2m-3-2l1 0m-103 3l-2 0m-16-1l1 1m-14-4l0 1m-26 10l0 1m10-4l0 1m15 0h0m24 0l-1 1m2-3h0m7 2h0m5 0l-1 2m95 3l1 0m-63-2l0 1m-52 1h0m-12 0l-1 0m-22 1l0 1m-32-3l-1 0m16 10h0m32-1h0m23-1l1 1m1 0l1 0m2 0h0m16-4l1 1m73 0l0 1m-22 8l0 1m-16-3l-1 0m-16-2l-2 0m-4 0l-1 0m-33 0l1 0m-23 1l0 1m-8 1l0 1m-6 1l0 2m-19-5l2 1m-14 3l0 1m7 1l-1 0m85-1h0m4 1l2 0m7-1l1 2m6-1l1 2m-1-4l-1 2m6 1l0 1m18-1h0m2-1h0m18-2l0 1" stroke="#6e3ac9" stroke-width="2.0" opacity="0.75"/><path d="M16-1l1 1m28-1l1 1m7-2l-1 1m134 4l-2 1m-9-3l0 1m-28 1h0m-35-1l1 1m-11-1h0m-47 2l-1 0m-36-1l1 1m2 7h0m155 0h0m-120 2h0m-54 4h0m21 4h0m48 2l0 1m56-2h0m3-4h0m13 3l-1 0m14-3l0 1m28 6l-1 0m-86 3l-1 0m-67-1l1 0m37 3l0 1m61 2l-1 0m34-1l0 1m-29 8l0 1m-9-6h0m-38 1h0m-4 0l1 0m-2 2l0 1m-2-3l0 1m104 8l1 0m-162 4l-1 1m51 3l-1 0m44 3h0m6 2l0 1m0-2h0m35-2h0m14 8l1 1m-26-3l-1 0m-109 2l0 1m-8-4l1 0m6 6l1 1m2 3l-1 0m6-5l1 0m4 1l0 1m19 3l-1 2m1-3l0 1m35-3h0m62 4h0m-47 2h0m-88 15l-1 1m12-2h0m132 3l-1 0m-11 3l-1 0m-48-2h0m-45-1l-2 1m-33 1h0m13 7h0m103 0l-2 0m22-2l0 1m3 2h0m-16 6h0m-46-3h0m-3 3h0m-2-4l-1 0m-12-1h0m-1 2h0m-38 3l0 1m-36-4l0 2m9 7h0m25-1l-1 1m38-4l1 1m30-2h0m45 4h0m23 5l1 1m-178 5h0m56-1h0m12 2l0 1m36-5h0m61 8h0m0 2h0m-76-1h0m-95 5l0 1m5 1h0m23-1h0m122 1l1 1m-81 3l0 1" stroke="#5b2bc0" stroke-width="3.0" opacity="0.75"/><path d="M174-1h0m-86 16h0m-48 0h0m-19 2h0m154 5h0m1 4h0m-68 2h0m-6 1h0m7 9l0 1m-41 3h0m-2 3h0m-59 7l0 1m107-1l0 1m50 3h0m-152 3h0m-11 0h0m35 1h0m-6 13l0 1m64 4h0m14 3h0m50 7h0m-149 1l0 1m-8 3h0m150 2h0m-9 2h0m-105 20h0m11-1l1 1m76-3h0m25 2h0m-62 13l-1 0m-62 2h0m104 3h0m18 2l0 1m-101 1h0" stroke="#5b2bc0" stroke-width="4.0" opacity="0.75"/><path d="M157 1h0m-70 6h0m-51 15l0 1m85-3h0m23 8h0m-29-1h0m-36 8l0 1m30 3l1 0m-58 1l1 1m20 6l0 1m81 0h0m-37 0l-1 0m-74 4h0m135 12l1 1m-171 3h0m90 4h0m60 14h0m-100 8h0m23 11h0m81 14h0m2 2h0m-60 5h0m24 0l0 1" stroke="#5b2bc0" stroke-width="4.0" opacity="1.00"/><path d="M107-2h0m-64 3l1 0m68 7l0 2m8-2h0m37-2l1 1m9 1l-1 1m10 0l2 0m-88 8l0 2m-11-6l0 2m-23 1h0m-49 0l0 1m88 2l0 1m3 2h0m-70 4h0m-26 3h0m-2 12l0 1m11-4l-1 1m58 1l-1 0m107-3l0 1m-41 6l0 1m-41 1l1 1m-90-2h0m19 5l-1 0m31 2l-1 1m54-1h0m65-2h0m-16 4h0m-7 1l0 1m-25 3l1 1m-106-1h0m97 3l-1 0m35 3l0 1m15 5h0m-125-4h0m-18 4l0 1m-1-1l1 1m-8 4l0 1m0-2h0m63-1l1 1m22 6h0m45 8l-1 1m7 2h0m-147 7h0m86 1h0m69-4l-1 0m-42 9l0 1m-109 5l-1 0m31 0l1 0m32-2h0m1 0h0m14 0l-1 0m41 0l0 1m50 5h0m-44 4l-1 0m-116-1l-1 2m11 4l0 1m24-3l0 1m69-3h0m0 6l0 1m-45 2l1 1m-60-1l0 1m-10 1h0m-1 0l1 0m48 8l1 0m109 2l0 1" stroke="#5b2bc0" stroke-width="3.0" opacity="1.00"/><path d="M2 18l1 0m75 0l0 1m36 1l-1 0m34 1l0 1m11 1l-1 0m-25 1l0 1m-74 18l-1 1m-44 9l1 1m-5 4l1 0m76 5l-1 1m-36 1l0 1m-11 5l1 0m109-4l1 0m17 18l-1 1m-56 0l-1 0m-88 13l1 0m117-2l0 1m-128 9l-1 0m49 2l1 1m14-1l1 1m99 12l-1 0" stroke="#6e3ac9" stroke-width="1.0" opacity="1.00"/><path d="M73 0h0m40 3h0m28-2h0m-94 6l-1 0m-20 9h0m3-3h0m28 1h0m78-2h0m27 8h0m-11 3h0m-18 8h0m-130 5h0m111 11h0m-47 2h0m-19 9l0 1m52-2h0m0 0h0m13 0h0m35-3h0m-69 6l1 0m-22 11l-1 0m86 5h0m-145 7l1 0m186-3h0m-11 8l-1 0m-13-4h0m-132 0h0m-15 5l1 0m-13 6h0m5-1h0m80-4h0m10 5h0m51 6h0m-27-4h0m-13-1h0m62 9h0m-136 6l1 1m57 13h0m84 4l-1 0m-87 7l-1 0m41-3h0m6 0l0 1m4 3h0m-70 2l0 1" stroke="#6e3ac9" stroke-width="4.0" opacity="0.75"/><path d="M114 1h0m0 1h0m19 0l1 1m34 1h0m-46 2l1 0m-21 2h0m-79 19h0m132 13h0m-69 1l0 1m-3-4h0m-2 0h0m-68 0h0m12 12h0m84 8l-1 0m-30-4h0m-41 10h0m105 3h0m-134 22h0m123-3l-1 0m20 7h0m-102-3h0m-3 1h0m-4 5h0m140 4l-1 0m-141 2l1 0m42 12h0m27 1l-1 1m47-2l0 1m30-1h0m-36 6h0m-130 8l1 0m70 8h0m83 3h0" stroke="#6e3ac9" stroke-width="4.0" opacity="1.00"/><path d="M104 3l-1 0m78 5l0 1m-110 2l1 1m47 3l0 1m65-2l1 1m-102 22l1 0m-25 4l1 0m-60 4l0 1m138-1l1 1m38 1l1 1m-3 7l-1 1m-58-1l0 1m-114 8l0 1m98 2l0 1m21 10l-1 0m-90 17l1 0m-27-1l1 0m-3-4l1 1m150 12l0 1m-95 7l1 0m-33-1l-1 0m-19 10l0 1m43 4h0m-38 3l-1 0m90 13l1 1" stroke="#6e3ac9" stroke-width="1.0" opacity="0.75"/><path d="M73 4l1 1m23-1l-1 1m-83 1l1 1m9 9l1 0m25-2l1 0m130 6l1 1m-111-1l-1 0m-69 7l0 1m170 9l1 0m-74-1l-1 0m-83 5l1 1m86 7l1 0m-71 10l1 0m75 5l0 1m61 5l0 1m-138 4l-1 0m77 0l-1 0m15-2l1 0m-80 7l0 1m85 10l-1 0m-5 26l-1 1m-91 6l-1 1m116 4l0 1m-29 7h0" stroke="#5b2bc0" stroke-width="1.0" opacity="0.75"/><path d="M159 0l-1 0m-49 8l1 1m-7-3l1 0m-54 9l-1 0m56 7l0 1m-58-5l0 1m-32 1l-1 1m101 8l0 1m-61 8l1 0m52 11l-1 1m0 10l0 1m59 28l1 0m7 10l0 1m-18 1l0 1m-22-3l1 1m-105 18l0 1m31 12l-1 1m-42-1l0 1m17 1l0 1" stroke="#5b2bc0" stroke-width="1.0" opacity="1.00"/><path d="M106 3h0m-84 58h0m83 20h0m-89 19h0" stroke="#6e3ac9" stroke-width="5.0" opacity="0.75"/><path d="M141 42h0m-107 37h0m-28 44h0m2 6h0m33 10h0" stroke="#5b2bc0" stroke-width="5.0" opacity="0.75"/><path d="M176 33h0m-21 16h0" stroke="#5b2bc0" stroke-width="5.0" opacity="1.00"/></g></g>
<rect x="353.90" y="424.90" width="93.10" height="70.10" fill="#fbf8fd"/><g transform="translate(353.90 424.90) scale(0.500)"><g clip-path="url(#mc202)" stroke-linecap="round" fill="none"><path d="M69 1h0m76 4h0m-109 21h0m-4 5h0m12 1h0m-20 14h0m58 17h0m-2 19h0m-16 10h0m79-1h0m-138 32h0m38 4h0m35 2h0m69 5h0" stroke="#7a50c8" stroke-width="2.0" opacity="0.25"/><path d="M139 5h0m-52 1h0m-27 4h0m-57-1h0m162 7h0m-122 11h0m-12-2h0m48 8h0m59 1h0m-81 7h0m26 12h0m24-2h0m2-3h0m-101 6h0m35 7h0m28-1h0m50 11h0m40 2h0m-131 14h0m126 6h0m-88 8h0m-57 18h0m5 1h0m49 11h0m115 10h0" stroke="#7a50c8" stroke-width="2.0" opacity="0.50"/><path d="M177 17h0m-64 29h0m7 45h0m-33 21h0m100 19h0m-5 1h0m-86 10h0" stroke="#7a50c8" stroke-width="1.0" opacity="0.25"/><path d="M28 0h0m144 16h0m-75 11h0m80 16h0m-11 4h0m-122 1h0m20 9h0m60 20h0m48-1h0m-34 5h0m-97 15h0m132 9h0m-41 1h0m-4 6h0" stroke="#7a50c8" stroke-width="1.0" opacity="0.50"/><path d="M147-2l0 1m32 2l-1 2m-57 0h0m-9-3h0m20 21l0 1m34 1l1 0m17-4l0 1m-145 10l2 0m31 11l0 1m33-4l-2 2m67 6l0 1m-165-4l-1 0m38 5l-1 0m31 3l2 2m98 2h0m-62 0h0m-23 1h0m-88-2h0m30 8l-2 1m18-2l0 2m-8 8l-1 0m-31 3l-1 1m30-3l1 0m21 0h0m56 0l0 2m29 1l0 1m-5 7h0m-113-2l-1 0m-22-2l-1 1m112 7l-1 1m-59 3l1 0m-20 8h0m53-1l-2 0m42 0l2 0m-1 7h0m-89-3l0 1m-7 4h0m-20 2l2 1m128 3l-1 0m1-2l2 0m33 7l0 1m-58-2l2 0m-42-3l0 1m-53 0l1 1m4 8l0 1m0-1l2 1m2 0l-2 2m54-7l-2 0m5 3l2 0m59 8h0m-60 0h0m-34-3h0m-56 4l-1 0m16 2l0 1m42-1l-1 1m47 2l0 1m-53 3l-2 0m-1-2l-1 1" stroke="#8058d2" stroke-width="4.0" opacity="0.50"/><path d="M178 23l1 2m-167 26l1 0m103 9l-1 1m-88 17l-1 1m-1 2l0 1m116 13l2 0m-134 6l-1 0m126 24l-1 1m-12 10l2 0m-70 2l1 1" stroke="#9272da" stroke-width="2.0" opacity="0.75"/><path d="M30-1l0 1m78-1l-1 0m78 0l0 1m-132 10l2 2m-4-4l-1 0m-18 0l-1 1m92 3l0 2m59 5l3 1m-127-1l-1 0m-4 5l1 1m85-1l0 1m14 0h0m-34 12h0m-70 9l0 1m-49 1h0m180 21l1 1m-21 4h0m-34-1l1 1m-28-2l-1 2m-74 0l2 1m-25 3l-2 1m98 2h0m60 6l-2 1m-125 2h0m4 3l0 2m60-3l2 1m-56 3l-1 0m-3 8l2 1m136 0l1 0m-132 6l-2 0m-8-3l1 2m27 12l-1 0m33 3l1 0m47-2l1 1m29-3l1 1m6 3l1 0m-73 5l1 1m72 2h0" stroke="#8058d2" stroke-width="3.0" opacity="0.75"/><path d="M53 12l0 2m15-2l1 1m68 10l1 1m-68 6l0 2m42 0l0 1m20 6l1 1m-56 0l0 2m89 4l2 1m16-4l-1 1m-144 14l-1 1m79 1l1 1m19-1l0 2m-108 16l-2 0m104 16l0 2m-9 4l0 2m-62-3l-1 1m59 3l0 1m60 2l0 2m-56 16l-2 1m-83-4l1 1m-3 10l-2 1m24 2l-2 1m76 6l-1 0" stroke="#8058d2" stroke-width="2.0" opacity="0.50"/><path d="M141-1h0m-10 1l1 0m-46 4l0 1m-87-1l-1 1m27 3l-1 1m34-3l1 1m27 1l-2 1m17 1l0 1m42-3l1 0m-92 5l-1 2m-3 8l1 2m19-4l1 0m52 2l0 2m20-3h0m27 3l0 1m-160 2l0 1m129 4l-1 1m24-4l1 0m-10 9l-3 1m-33 1l1 2m-1-1l1 2m7-1l0 1m21 2l0 1m17-4l-1 1m-72 8l-2 2m-25-4l2 1m-4-3l-1 0m-4 8l-2 1m23-1l-1 1m11-2l0 1m66 8h0m-15 0l-2 1m-92-1l0 2m-10 0l0 3m23 2l1 1m28-5h0m5 4l-2 0m102 2l-2 1m-181 3l0 2m18 2l-1 2m47-4l1 1m52 1l-2 1m52-2l1 0m-16 4l2 0m-16 1h0m-34 2l2 0m-59-3l0 2m-52 0l-1 1m160 5l1 0m6 4l0 2m-73 0h0m-41 2l1 1m11 5l1 2m97-1l-1 0m4 5l-1 1m-96-2l0 1m-34-2l-1 0m19 8l-1 0m34 1l0 1m60 0l-2 1m-33 0l-1 0m-86-1h0m74 7l-2 2m69 6l0 1m-26-1l2 1m-96 1l2 0m-47 1l-1 1m30-1l-1 1m118 0l-1 1" stroke="#9272da" stroke-width="3.0" opacity="0.50"/><path d="M17 2l1 0m154 3l0 1m-60 5h0m-96 2l-2 1m146 1l1 1m-73 6l1 1m2 4h0m96 1l-1 1m-144 28l1 1m-31 0l1 0m-3-4l2 1m-13 10l1 0m179 9l1 0m-158 3l-1 0m36 7l-1 1m74 4l-1 1m-12 3l-1 0m-94 4l-1 2m132-2l2 0m-12 8h0m-79-3l-1 1m34 5l1 0m63 2l2 0m-23 8l0 1m-126 5h0m133-2h0m17 2h0m5 14l-1 0m-123 4l-1 0" stroke="#8058d2" stroke-width="4.0" opacity="0.75"/><path d="M69-2l0 1m107 5h0m2 7h0m-150 2h0m130 5h0m-2 6h0m-26 2l1 0m-111 8h0m144-2l0 1m11 14l2 0m-99-4l-1 0m-65 6l0 1m58 9l0 1m-67 2l-1 1m100-3h0m13 4l1 1m-41 2h0m85 5h0m10 9l-1 0m-62 1l0 2m-1-4l1 0m-99 10l1 0m167 7h0m-73 1h0m-97 9l1 0m156-5l-1 0m20 7h0m-169 5l0 1m23-1h0m13 3l0 1m106-4l1 0m-25 15h0m-48 0h0m-27-3h0m10 8l0 1m57-1h0m29-1l-1 0m-142 7l-1 0" stroke="#9272da" stroke-width="5.0" opacity="0.50"/><path d="M15-1l-1 1m136-1l1 1m-85 3h0m-15 0l-1 2m-23 1l-1 0m37 5l-2 1m14-6h0m64 5l0 2m20-3l-1 1m16 2l2 0m-3 1l-1 0m-98-1l0 2m-19-3l-1 2m-41 3l2 1m23 3l0 1m20-2l0 2m106-2l1 1m-23 5l2 1m-4 2l0 2m-58-7h0m-62 17l0 1m78-1l-1 2m9-2l-1 1m43-3l1 1m14 1l1 3m11 0l3 0m-8 1h0m-11-3l1 0m-91 3l1 1m-18 1l0 1m-44 4l-2 1m18 0h0m36-2l0 2m34-3l1 1m93 4l1 3m-76-3l-1 1m-63 6l-1 2m50-2l2 1m-2 3h0m-65 2l1 1m-8-1l2 2m-25 3l-1 1m56 2l0 1m116 11l2 0m-7-3l1 1m-16 2l-1 2m-125-1h0m25 2h0m45 1l-1 2m57 3l1 0m-29 4l1 0m-75-4h0m-3 7l1 1m4-2l0 1m49 3l0 1m1-1l0 1m70 9l1 0m-113-1l-1 1m-9-1l-1 1m-9 2l0 1m-22-4l0 2m11 2l-1 2m75 3h0m47 0l0 2m29 0h0m-110 3l0 1m-18-4l-1 1m19 8l-2 1m114-3l-1 1m-38 3l0 1" stroke="#8058d2" stroke-width="3.0" opacity="0.50"/><path d="M12-2l-2 1m121 3l1 1m-33 2l2 1m-50-3l-1 1m-30-2h0m-12-2l-1 2m129 4l-1 1m21 0l2 2m-79 14l-1 2m-69 0l-1 0m102 2h0m50 14l-2 1m0-4l2 1m-6 0l-1 0m-67-3l-1 0m-28 1h0m-51 9l2 0m67-4l1 2m74 6l1 1m-147-3l0 2m-1 0l0 1m17 6l0 2m46-2l-2 1m99 3l0 1m-106 2l0 1m-57 0l-1 1m16 2l-1 1m46-2l1 2m106 0h0m17-2l0 1m-169 4h0m78 10l-1 0m17-4l-1 0m41 0l2 1m12 9h0m-22 0l0 2m-33-4h0m-89 9h0m9-3l0 1m123 11l-1 1m-112-2l0 1m107 8l2 0m38-1l0 1m-106 5h0m-81 8l0 1m23-5l-1 2m7-2l1 0m35 2l0 1m112-1l-2 1m-48 6h0m-86-1l-1 1m-14-2l0 1m101 6h0m-21 6l1 2" stroke="#9272da" stroke-width="4.0" opacity="0.50"/><path d="M100 63h0m-39 30l0 1m-13-2h0m87 4h0m-118 14h0" stroke="#9272da" stroke-width="6.0" opacity="0.75"/><path d="M90 0l2 0m75 6l1 1m-106 7l0 1m46-3l-2 1m23 9l0 1m-82 4l1 1m103-3l-2 1m22 3l-1 2m-149 3l-2 0m40 8l2 0m119 3l1 1m-107 4l2 1m90 3l0 1m-116 5l0 1m44 9l-1 2m1-5l0 1m19-1l0 2m64 2l-1 0m3 9l2 1m-137-3l1 1m15 10l0 2m55-2l-1 0m-50 2l1 2m-7 2l1 1m-34-5l1 0m153 7l0 1m-173 3l2 0m81 11l0 1m43-1l-1 1m54 0l2 0m-77 2l-2 0m-74 3l2 0m32 6l-2 1m8-2l0 1m55-3l1 2m29 0l-1 1m2-5l0 1m4 0l0 2m-138 5l-1 0m76 6l1 1m12 2l-1 2m16-1l1 1m-11 3l1 0" stroke="#9272da" stroke-width="2.0" opacity="0.50"/><path d="M68 2l0 1m78-2l-2 0m33-1l-2 1m-150 6l1 1m64 15h0m-91 29l1 0m42 7l0 1m114-2l-1 0m15 17l-1 1m-121 7l-1 1m121 2l0 1m-51-3l1 2m-87 1h0m87 10h0m5 2l2 1m37-4l1 0m-43 6l-1 0m10 7h0m17 4h0m4 0l-2 0m-39 6h0m-77 0l-1 0m54 2l0 1m82 8l0 2m-157-4l-2 0m48 12h0" stroke="#9272da" stroke-width="4.0" opacity="0.75"/><path d="M87 1h0m2 3l1 0m21 3h0m-52 4l0 1m-59 0l1 1m53 2l-1 0m1 0l-1 0m104 6l1 0m-34 2l0 1m-73-4l-1 1m-47 8h0m131 0h0m16-4l1 0m-68 5h0m-19 4l-1 0m-55 12h0m36 5l1 0m31 10l-1 1m8 0h0m56 2h0m13-2l0 1m10 3h0m-101 7l1 1m123 8h0m-76-2h0m-53 6h0m6 1l0 1m42 0l1 0m66 0h0m-28 4l-1 1m41 6h0m-23 6l0 1m-43-2l0 1m-114 0l1 1m16 9l0 1m22 3l-1 1m37 0l0 1m-62 9l0 1m46-4h0m77 0h0m14 9h0m-148 5h0m9-2h0m28-1l1 0m56 2l-1 1m41-1l0 1" stroke="#8058d2" stroke-width="5.0" opacity="0.50"/><path d="M11 38h0m26 16h0m67 12h0m39 18h0" stroke="#8058d2" stroke-width="6.0" opacity="0.75"/><path d="M30 3l-1 0m78 1l2 0m-86 5l-2 1m23 6l-1 1m114 0l0 2m-17 0l-2 0m-76 0l3 2m65 4l0 3m29-2l-2 0m-23 5l2 0m-3 1l-2 1m-127 11h0m51-2h0m36 4l1 1m78 1l-2 1m15 7l1 1m-98 3l-1 0m-66 6l-1 1m38 2l1 0m34 7h0m-81 2l2 1m31 0l0 1m137 1h0m-135 5l-1 0m-10-2l1 0m-3 2l-2 1m-8 2l-1 0m59 4h0m96 0h0m-77 6l0 1m-55 3l-1 0m9 2l0 1m-10 9l2 0m-22 15l2 2m2-3h0m116 2l2 2m-27 2l-1 0" stroke="#9272da" stroke-width="3.0" opacity="0.75"/><path d="M29 19l1 0m31 12h0m86 6h0m-143 8l1 0m111 13h0m59 15h0m-124-1h0m111 10l1 1m-105 10h0" stroke="#8058d2" stroke-width="5.0" opacity="0.75"/><path d="M-1 2l1 1m171 16h0m-169 2l1 0m68 3h0m34 28h0m-79 1h0m122 25l1 1m39-1l0 1m-13 14h0m-120 24l0 1m36 8h0" stroke="#9272da" stroke-width="5.0" opacity="0.75"/><path d="M170-1l0 1m11 2l-2 0m-165 1l-2 0m164 5l1 0m-112 7l1 2m-15 0l2 0m-8 4l2 0m127 22l-1 1m-107 18l2 0m15-1l1 1m98 20l0 2m-92 1l2 0m78 51l0 2m-167 0l-1 1m139-1l1 1" stroke="#8058d2" stroke-width="2.0" opacity="0.75"/><path d="M127 12h0m26 35h0m-48 15h0m13 13h0m58 51h0m-11 7h0" stroke="#8058d2" stroke-width="6.0" opacity="0.50"/><path d="M45 13h0m124 4h0m-147 13h0m10 7h0m98 10h0m-24 20h0m27 42h0m36 15h0m-74 8l0 1" stroke="#9272da" stroke-width="6.0" opacity="0.50"/><path d="M47-2h0m137 2l-1 1m-13 2l0 1m-62 0l-2 1m-11-3l1 0m-50-1l-1 1m-28 7l1 1m26-3l1 0m60 0l0 1m28-2l1 1m19 1l1 1m12 2l1 1m5-5l-1 1m14-1h0m-152 7l0 1m-22 5l-1 2m178-1h0m-18 8l1 0m-8-1l0 2m-87-4l0 1m-28 2h0m-32-1h0m-4-3l-1 0m7 6l1 1m39 2l-1 1m2-2h0m2-1h0m107 3h0m13-5l2 1m-16 6l-1 0m-29 3h0m-20 0l0 1m-41-5l0 1m-64 0l1 0m-1 4h0m7 3l0 1m44 2l1 1m48 3l-1 0m-71 7l-2 0m19-3h0m61 4l-1 1m3-3l0 1m46 4l0 2m-45-4l0 1m-20 4l-1 0m-68 2l1 1m78 0l1 0m57 1l2 1m-61 2l1 2m-7-2l-1 0m-58 1h0m10 7h0m2-1l-1 1m58 2h0m3-3l1 0m63 3h0m-62 7l1 0m-9-3h0m-64 2l-1 1m-39 4l0 1m2 1h0m13 0l1 1m4-3h0m39-2l0 1m58 0l-1 0m41 3l1 1m22 3h0m-6 0l1 1m-4-2l-1 0m-21 1l1 1m-99-2h0m-18 0h0m-8 7l0 2m18-5l0 1m6 1l-1 1m30-1l0 1m43-3h0m0 1l0 1m9 3l-2 1m21-6l1 1m7 0l-1 0m-111 8h0m-1-1h0m0 2h0m-30 5l0 1m122 1h0m19-1l2 0m10 2h0m-17 1h0m-2 0l1 0m-65 0l0 1m-68 1l-1 0m-23 8l-1 0m30-3h0m56 1h0m21-1h0m19-1l-1 1m34 3h0m-57 10l1 1m-13-3l1 0m-66 1l0 1" stroke="#6e3ac9" stroke-width="3.0" opacity="1.00"/><path d="M37-1h0m116 1h0m-12 4h0m-100 5l-1 1m20-4h0m-8 6h0m-18 8h0m86 21h0m-114 3h0m63 6h0m-51 2h0m99 5h0m58-3l-1 0m-22 9h0m-72 9h0m48 9h0m-123 1h0m-3-2l0 1m46 4h0m103 5h0m-104 7h0m-26 10h0m-2 0l-1 0m-4 3h0m27-2h0m7 1h0m126 8h0m-18-2h0m-15 8l0 1m-96 7l0 1m85 5h0m48 0l1 0m-13 3h0m-120-2h0" stroke="#5b2bc0" stroke-width="4.0" opacity="1.00"/><path d="M180-1h0m-82 2h0m-28 4h0m-29-4l1 0m-8 6l0 1m47 3h0m53-5h0m34 9h0m-88-1l1 1m-39-3l1 1m-35 1l-1 1m-6 4l1 1m16 2h0m11 0h0m84-3l-1 0m61 0l0 2m4 3l0 1m-30 0l1 1m-5 1h0m-30 2l1 2m-50-7l0 1m-46 4h0m-2 9l1 0m53 0l0 1m36-2l-2 0m63 3l-1 2m3-4l1 1m0 0h0m1 4l1 1m-84 3h0m-12-3h0m-27 2l2 1m-45-4h0m-1-1l0 1m13 5l-1 1m139 6l0 1m-4 1l0 1m-77 1l-1 1m-23-3l-1 0m-20 8h0m66-3l0 2m54-3h0m8-1l0 1m11 2l0 1m16 3l0 1m-136-1l0 1m-9 1l-1 0m-40 0h0m36 5l-1 0m8-1l-2 1m50 2h0m89-3l-1 1m8-1l0 1m-39 4l-2 1m-26 4l1 1m-16-4l-1 1m-39 0l1 0m-4 0l0 1m-58 7l1 1m0-5h0m12 4l-1 2m42-6h0m8 2l0 1m33 1h0m87-5l0 1m-49 6l1 0m-53 3h0m-68 1l-1 1m-14 1l2 0m37 3l-1 1m120-5l1 1m-9 6l0 1m-25 2l1 1m-27-5l1 0m-4 5l0 1m-22 2l1 0m62 2h0m-17 11h0m-47-1h0m-30 1h0m-30 8l0 1m7-1h0m13-2l2 0m-1 0l1 0m58-2l1 0m39 1l0 2m40 6l0 1m-10 0l-1 2m-61-6l0 1m-35 1l1 1m-65-4l0 1m62 7h0" stroke="#5b2bc0" stroke-width="3.0" opacity="0.75"/><path d="M-2 1l1 1m1-2h0m9 1l0 1m31 1h0m56 0l-1 1m4-3l0 2m71 6l0 1m-48 1h0m-67-1l-1 2m-56-3l1 1m27 2l-1 0m15 3l0 1m37-3h0m14 2l-1 1m95 6l1 0m-5-2l1 1m-6 2h0m-50-3l0 1m-52-1h0m-38 1h0m27 4l-1 1m119-2l0 1m5 8l0 1m-48-2l0 1m-60-2h0m-58 4l-1 1m160 4h0m-3 7l0 1m-23-3l0 1m-68 1l1 0m-32-3h0m-47 3h0m35 6l0 1m30-5h0m82 1l-1 0m11 8l1 1m-56-5h0m-85 3h0m135 3l2 0m-131 6l1 0m-29 5l-1 1m69 2l-1 1m85 0l-1 1m4-4l-1 0m18 2l2 1m0 0l1 1m3 2h0m-103 0l-2 0m-38 0l1 1m-6 4h0m-7 5h0m20 1h0m124 5h0m-69 0h0m-42-3l0 1m-53 0l-1 1m93 5l-1 0m61-1l1 0m5 9l1 1m-18 0l1 0m-78-4l0 2m-58-2l0 1m-7 9l-1 2m4-3l-1 0m11 1l1 0m133 6l1 1m-56-3h0m-7-1l1 1m-24 6l0 1m57 1h0m17-2l1 0m25-1h0m22 3l1 1m-30 5l1 1m-65-1h0m-21 0l-1 1m-7-5l1 1m-17 0h0m-7 1l1 1m-31 5l-1 0m4 1h0m13 0h0m39-2l-1 0m12 0l0 1m27-1h0m52-1l1 1m-14 6l-1 0m-73 0h0m0 1l0 1m-51-1h0" stroke="#5518b8" stroke-width="3.0" opacity="0.75"/><path d="M45-1l-1 2m63-3l2 1m39 5l-1 0m-11-4l1 1m-39 2l1 1m-66 4l0 2m84 1l1 1m33-4l-2 1m-65 3l-2 1m-57 0h0m-27 2l2 1m40 6l-1 1m8-5l1 0m4 2h0m91-1h0m11 1l-1 0m8 3l2 1m-32 4l1 1m-83 3h0m115 0l1 2m16-4l2 1m2 4l1 0m-54 6l-1 1m-53-5l0 1m26 6l-1 2m10 1h0m72 2l-1 0m-30-1h0m-77 5l1 1m-16-1l2 0m-13-2l1 2m47 2h0m79 1h0m-68 7l1 1m-13 0h0m-31 0l0 1m-63-5l1 1m0 10h0m21-2h0m20-1l0 1m3 1l1 0m8-3h0m11 1l1 1m22 1h0m86 6l-1 1m-14-1l0 1m-7-1l-1 1m-120-4l2 0m-34 5h0m17 5l1 1m105-2l-1 0m22-2l1 0m19 2l-1 0m4 1l1 1m9 3l1 0m-44-2h0m-14 0h0m-7-1h0m-24 0l0 1m-50 2l1 1m-45-2l1 0m57 5l1 0m37 3l1 0m35-4l0 1m57 7l-1 0m-52 1h0m-27-3l1 1m-58 3l-1 0m-33 0l0 1m-17-3l0 1m6 8l-1 0m147-2l-1 1m12 0h0m-53 4l1 0m-11 3l1 1m-47-3l-1 0m-14 0l1 1m-2-2h0m-30 2l1 0m78 7l1 2m10-2h0m47-2h0m2 1l0 1m38 2h0m-47-1l-1 2m-74 3l1 2m-3-7l1 1m-20 1l1 2m-5-3l1 0m-39 3l1 2m21 2l1 2m7-1l-1 2m38-1l0 1m59 0l0 1m46-1h0m13 5l0 2m-4-2l0 1m-1-1h0m-72 1h0m-50 0l0 1m-21-5l0 1m-34 7h0m119 0l-1 1m48-1l1 1m14-3l1 1" stroke="#5b2bc0" stroke-width="2.0" opacity="0.75"/><path d="M120 0l-1 0m36 1h0m-18 6h0m-26 1h0m-60-1l0 1m32 14h0m33-2l0 1m13-2h0m3 1h0m21 7h0m-17-3h0m-42 0h0m-44 9h0m27-2h0m-6 10l1 0m-5-2h0m-18 1l-1 0m79 3h0m30 6h0m-150 8l-1 1m170 13l0 1m-23-5h0m-140-1h0m17 12l-1 0m14 4h0m102-1h0m-55 5h0m91 6l0 1m-38 6h0m-92-3l0 1m98 8h0m3-1h0m-44 5h0m-4 1h0m-23 0h0m-42 4h0m89 9h0m-54 8h0m92 3l1 0m-134 1h0m106 3h0" stroke="#6e3ac9" stroke-width="4.0" opacity="0.75"/><path d="M62-1h0m81-1l-2 1m34 6h0m-71 0h0m-57-4h0m-49 4h0m8 3l1 0m37-1h0m60 3l-1 0m84-2h0m1 1h0m-1 6l-1 1m-16-1l-1 0m-1 1l0 1m-26-5l1 0m-42 3l1 1m-23-2h0m-50 2l0 1m-23-3h0m42 8h0m48-3h0m54 2h0m17 7h0m-16 1l0 1m-95-1h0m-6-1l-1 1m2 1h0m23 1h0m40 1h0m18 0h0m41 0l1 0m-170 4h0m91 6h0m90 9h0m-12 2h0m-113 5l-1 1m92 0h0m26-5l-1 1m-39 9l-1 1m-23-1l-1 1m-60-1l-1 1m-28 1h0m25 2h0m66-1h0m52 3h0m7 0l1 1m6 0l-1 1m-12 1l1 1m-69 0l1 1m-63-3h0m-26 8h0m146 2l-1 1m-97 4l0 2m-26-3l-1 0m16 6l0 1m70-3l1 1m16-1l1 0m14 1l2 1m24 5l0 1m-123 0h0m8 9l-1 1m71-5l1 0m18 2h0m23 7h0m-57-2l0 1m-72-2l0 1m-33 8l-1 1m52-3h0m15 0l0 1m4 1l1 0m0 0l0 1m10-5h0m79 1l-2 0m-56 8h0m-62-2l-1 0m-37 1h0m-2 0h0m-12 0l0 1m104 3l1 1m25 2h0m40-3l1 1m15 3l-1 0m-53 2h0m-34 1l-1 1m-67 3h0m-9 2l-1 0m14 2l1 0m36 0l1 1" stroke="#5518b8" stroke-width="3.0" opacity="1.00"/><path d="M132-2l-1 1m35 1h0m-154 13l0 1m174 8h0m-34-3h0m-21 3l0 1m-113 1h0m133 0h0m-58 11h0m-5 4l1 1m25-3h0m33 10l0 1m38 4h0m-75 7h0m4 5h0m-24 4l0 1m-85 4h0m81 1h0m84 0h0m8 7h0m-49 3h0m-70 15h0m-52 7l0 1m156-3h0m-39 11l-1 0m-5 1h0m-87 0h0m81 10h0m3 2h0m43-1h0m-103 9h0" stroke="#5518b8" stroke-width="4.0" opacity="0.75"/><path d="M40 1l2 1m16 0l1 0m1 3l1 1m71-1h0m45-4l1 0m4 4l-1 1m3-1l-1 1m-12 4l0 1m-85 0h0m-7-2l0 1m-35-2h0m-43 7l0 2m112-4h0m25 0l0 1m50 5l0 1m-51 3l-1 1m-13-6l-1 1m-46-1l-1 1m-69 1l0 1m52 9l1 1m11-1h0m17 0h0m57 0l-1 1m44 9l0 1m-182-4l1 1m-4 3h0m77 6h0m20-1l0 2m-34 3l0 1m-22-4l-1 2m60 8l1 0m16 4h0m-37 1h0m-23 8l2 0m98-1h0m-111 6h0m-33-3l-1 0m96 6l0 1m11 2l0 1m34 5l-1 0m-127 0h0m-3 5l-2 0m18 0l-1 1m99-2h0m-43 9l1 1m-92 4h0m39 1h0m27-3l0 2m112 6h0m-22-4h0m-9 4l-1 0m-28-3l0 1m-67 2h0m-35 6l-1 0m3-1h0m24 1h0m56-3h0m5 4l0 1m9-1h0m15 0l2 1m26-5h0m25 5l0 1m-95 0h0m-63 2h0m-9-1h0m-12 2l1 1m-5-5l1 0m175 11l-1 1m-55 1l1 1m-57 8h0m88-1h0" stroke="#6e3ac9" stroke-width="3.0" opacity="0.75"/><path d="M19-1l1 0m68-1l-1 1m78 4l-1 0m-3-1l0 1m-37-1l-1 0m-56 0l1 0m-39 3l2 0m-2-5h0m-14 11h0m6-5h0m6 0l1 0m-1 3l1 1m19 1l0 2m40-4l1 1m16-2l-1 1m6 1l-1 0m65-2l-1 1m6 4l-1 1m-111-1l-1 0m-31 1h0m-12 1h0m-10-1l1 1m-13-1l-1 0m63 9l2 0m19-5h0m3 4l-1 0m22-4l0 1m27 4l-1 1m49-6l-1 0m-112 9h0m6 4l1 1m30 3h0m51-3l1 1m-9 6l0 1m-24 1l-1 1m-44-5l-1 1m-69 5h0m65 3h0m13 1l1 0m50-2h0m28-3l0 1m15 8l-1 0m-40-1l1 1m-66-1l0 1m-9 2l0 1m-50-6l0 1m-9 1l-2 0m15 6l-1 2m19-3l0 2m7 1h0m22-3h0m2 0h0m4 4h0m28-5l1 0m17 3l1 1m32-4l-1 1m20 8h0m-54 1l0 2m-7-2l2 0m-23-2l1 0m-18 2l1 0m-38-1l1 1m-23-4l-1 0m52 9l-1 0m21 4l0 1m-3 2l1 1m-58-3l-1 0m6 5l1 1m2-1l1 1m14 2l0 1m80 0l-1 1m28-1l0 2m20-3l0 1m2 0l-1 1m-65 2h0m-63-2l-1 0m-34 11l0 1m17-1l-1 2m36-7l0 1m0 1h0m59 3l0 1m-72 0l-1 1m-20 4l1 1m-14-5l-1 1m-10 6l0 1m22-2h0m8-1h0m29 0l-1 1m99 4l2 1m-52 4l-1 0m-1-2l-1 0m-6-1l-1 1m-61 1h0m-10-1h0m11 9h0m22-1l-1 1m38-3l0 1m23-2h0m34 2h0m4 6l1 0m-66 2l-2 0m-72-3h0m39 7l0 1m10-4h0m7 2h0m59 8l-2 1m-18-4h0m-9 0h0m-4 3l-1 1m-9-1l0 1m-74-3l0 1m49 5l1 0m38 0l0 1m20-3l0 1m53 3h0" stroke="#5518b8" stroke-width="2.0" opacity="1.00"/><path d="M156 2l0 1m-115 3l-1 0m81 12l-1 1m0 6l0 1m-44 0l0 1m91 9l0 1m-163 27l-1 0m99 11l0 1m55-3l1 0m-102 7l0 1m-55-1l1 1m0 23l0 1m8 7l1 1m-13 2l-1 1m135 4l0 1m-103 8l0 1m29-2l0 1m33 5l1 0" stroke="#5b2bc0" stroke-width="1.0" opacity="1.00"/><path d="M53 4h0m53 1h0m64 3l-1 0m-36 3l0 1m-80-4h0m-26 5h0m70 1h0m-10 9h0m-28-4h0m-58 10l0 1m80-5l0 1m34 1l-1 1m55 5h0m-96 4l1 0m72 0h0m8 13h0m-140 8h0m55-3h0m40 21h0m-73-3l0 1m-5 4h0m-2 7l-1 0m-20 2h0m141 6h0m3 0l0 1m7 4h0m-26-1l-1 0m-130 11l0 1m21 4h0m165 6h0m-36-5h0m-69 11h0m-6 5l0 1m-42 1h0m17 5l1 0m117-3l0 1m-19 4h0" stroke="#5518b8" stroke-width="4.0" opacity="1.00"/><path d="M138 3l0 1m-36 5l0 1m-43 7l0 1m61 9l0 1m-117 19l1 1m132-6l-1 1m-22 22l1 1m-28-3l0 1m-11 10l-1 1m103 35l-1 1m-132 8l0 1m143 0l1 0m-108 4l-1 1m-25 5l1 0m-4 4l0 1m4 6l-1 0m42-3l0 1" stroke="#5518b8" stroke-width="1.0" opacity="1.00"/><path d="M72-1h0m60 5h0m-5-4h0m-121 6h0m141 3h0m38 4l1 0m-56 2h0m-113 9h0m119 3h0m-127 6h0m139 4h0m-53 10l1 0m-8-2h0m18 7h0m56-3h0m4 7h0m-10-1h0m-35 6l0 1m41-1h0m-57 13h0m-102 6h0m37 2l-1 0m146 6h0m-138 1l-1 0m116 5h0m26 4h0m-66-2h0m-89 7l1 0m108 4h0m-142 7h0m85 18l-1 0m75 1h0m-138 6h0" stroke="#6e3ac9" stroke-width="4.0" opacity="1.00"/><path d="M45 0l1 1m93 12l-1 1m-81 6l1 0m107 5l1 1m-23 3l1 0m-78-2l0 1m-65-4l1 1m7 5l-1 0m118 5l1 0m34 2l1 0m-4 3l0 1m-121 33l-1 0m80 3l0 1m-5 15l-1 1m-111 16l0 1m120-2l-1 0m36 0l1 1m-88 5l0 1m-50-1l0 1m133 4l1 1m7 8l0 1m27 2l-1 1" stroke="#5b2bc0" stroke-width="1.0" opacity="0.75"/><path d="M78-2l-1 1m100 6h0m-54-2l0 1m-45-3l0 2m-30 6h0m48-2l-1 0m81 0h0m12 7l0 2m-48 1l1 1m-29-4l2 1m-17 2h0m-62-1l0 1m-9-4l-1 2m-1 2h0m-7-5h0m12 9l-1 1m14-2h0m14 2l-1 1m120-5l-1 2m-3 5l1 1m-40 3l0 2m-68-7l-1 1m-63 0h0m2 7h0m17-2l1 0m92 0l2 1m47-1l0 1m3 1h0m14 3l-2 2m8-5h0m2 2l0 1m-25 2h0m-18 0l1 1m-121 7l1 0m55 2l-1 0m25-1l-1 1m26-5l-1 1m5 0l0 1m29-1l2 1m2 4l0 2m-48 2h0m-41 0l-1 1m-9 0l1 2m-3-3l1 0m-20-1l-1 1m-41-1l0 1m-1 7l0 1m111-3l1 0m12-3l0 1m32 0h0m13 9l-2 0m-69-1l0 2m-17-5l-1 0m-27 2l-1 2m-26 0h0m-12-3l1 0m29 14l-1 0m67-3l-2 0m63 3h0m10 0l1 0m-16 3l0 1m-46 0l1 0m-5 1l-1 1m-106 1h0m52 7l-2 1m45-4l-1 0m40 0l0 1m12-3h0m2 7l1 2m-42 1l-1 0m-5 1h0m-9-2l2 0m-46-1l0 1m-17-3h0m-2 0l0 1m-8 0l0 1m21 7l-1 1m80-2l1 1m3 0h0m27-2l1 0m12-1l0 1m-4 6h0m-127 4l-1 0m-20 1l1 1m20 4h0m3-2l0 2m36 0l-1 1m37-1l1 0m19-5l-1 1m39-1h0m2 3l-1 1m-27 4h0m-24 2l1 1m-54-1l0 1m-52 11l1 0m7 0l1 1m-1-5l1 0m40 3l0 1m44 1l0 2m13-7l2 1m4 0l-2 1m46-1h0m-26 7l-2 1m-82-2l1 1m-48 6l-1 1m2-2l0 1" stroke="#5518b8" stroke-width="2.0" opacity="0.75"/><path d="M120-1l0 1m-27 2l-2 1m-35-2l1 0m-17 2h0m-30 2h0m-8-5h0m44 10l1 0m8-1l-1 0m13 1l-1 0m93-1h0m-20 6h0m-2-1l0 1m-5 1l-1 0m-21-4h0m-8 0l0 1m-96 2l-1 0m9 7l0 1m3-4l1 1m59 3h0m15 0l-2 1m26 2h0m-34 0h0m-31-2l2 0m-41 10h0m71-1h0m32-2h0m1 2h0m5-2l2 1m58 7h0m-3-3l0 1m-28-1l-1 1m-14 0l0 1m-9-2l-2 1m-9 2l1 1m-14 4l1 1m84 1h0m-29 6l0 1m-52-1l1 0m-26-2l1 0m-30-1h0m-39 2l1 0m-5 2l-1 0m12 5l-1 2m48-5l0 1m37 7h0m-31 0h0m-30 2l1 1m-10-3l0 1m38 6l1 1m79-1h0m8 7h0m-146 2l1 1m0-2h0m5 1l0 1m101 3h0m5 0l1 1m41 5h0m-132-1h0m-11 1l1 1m28 0l1 0m67 1l0 1m39 2l1 1m7-5h0m1 9l0 1m-143 1h0m-28 1l0 1m114 0h0m16-1h0m14 3l1 0m20 1l2 0m0 1h0m14 0l1 1m-97 0l1 0m-20 3l-2 1m-61 3l0 1m49 3l1 0m11 0l1 1m19-5h0m29 3l-1 1m7-3h0m55 6l-1 1m-2 1l1 1m-4-2l1 1m-17-4l1 1m-20 3l1 2m-4-1l1 0m-17-3l-2 1m-110 1h0m-1-1l0 1m18 5h0m3-2h0m23 1l-1 0m5 0l2 1m19-3l-1 0m35 1h0m46-1l1 0m29 1l2 0m6 0l0 1m-47 8l-1 1m-36 0h0m-44-2h0m-53 3l-1 1m2-1l1 1m53 1h0m2-1l1 0m70 1l0 1" stroke="#5b2bc0" stroke-width="2.0" opacity="1.00"/><path d="M5-2l-1 0m178 1l0 1m-28 1h0m-62 1l0 1m-6 2h0m-35-4l0 1m-3 1h0m-9 2h0m-12-5h0m-18 2l-2 0m12 8l-1 0m16-4l0 1m92 1l1 1m12 0l0 1m12 0h0m5-1h0m-59 3l1 0m-27 3l-2 0m-68-2l-1 0m91 5l1 1m65 1h0m31 7l-1 2m-37-1l-1 0m-32-3l0 1m-44 0l0 2m-6-3l-1 1m-11 2h0m-46 6l-2 0m49-2h0m5-1l0 1m24 0h0m27 1h0m1 2l1 1m55-4h0m-1 6l-1 1m-41-2h0m-2 0h0m-58 2l0 2m-8-1h0m-9-3l0 1m-37 1l0 2m-3 5l-1 1m6-4h0m167 4l1 1m-38 1h0m-86 0l-1 0m-36 4h0m-20 5l0 1m1 0l-1 1m24-1l1 1m33-4l1 1m24-2l1 0m9 2l0 1m11-4l-1 1m12 4l-1 1m30-2l0 1m21 5l0 1m-82-4h0m-75-1l0 1m16 9l2 0m27-4l-1 1m1-1l-1 1m113 0h0m21 2l0 1m-37 7h0m-48-5l0 1m-99 4l1 2m47 1l0 2m111-2h0m20 10h0m-21 0l0 1m-106 3l-2 0m-25 4l2 1m93 9l0 1m-117 0l1 0m0 5l-1 1m12 2l2 0m-1 0l-1 1m85-3l1 0m22 0l0 2m13 2h0m5-1l-1 1m16 0l1 0m22-5h0m-28 9l0 1m-29-3l-1 1m-38 1h0m0-1l1 0m-22 1l1 0m-58 1l1 0m8 2h0m4 0h0m3 1l1 1m63 2l1 0m44-4l0 1m17 0l-1 0m10 3l0 1m-34 6h0m-14-4h0m-18 2h0m-52-1l0 1m-3 0l-1 0m-28-1l-1 2m63 3l0 1m77 1l1 0" stroke="#6e3ac9" stroke-width="2.0" opacity="1.00"/><path d="M11 5l0 1m176-6h0m-141 14h0m-1 9h0m16-1h0m122-1h0m-64 3h0m-59 0h0m-48 8h0m107 1l0 1m-46 2l1 1m-17 1l-1 0m42 4l-1 0m75 2h0m14 5l1 0m-4-1l1 1m-122 5h0m108 10l0 1m-51-4l0 1m-36 0l0 1m-12 0h0m-59 9h0m-3 10h0m45 8h0m69 4h0m35 7l0 1m-17-3l0 1m-108 6h0m13 1h0m138-5h0m-80 11h0m-63 15l-1 1m140-1h0m-21 4h0m-23 2h0m-7 3h0m-44-5l1 1m-7 0h0m81 7l-1 0m13 0h0m14 2h0" stroke="#5b2bc0" stroke-width="4.0" opacity="0.75"/><path d="M39-1l-2 1m14-1l1 1m28-2h0m95 1l-1 2m2 3l1 1m-26 0l-1 0m-69-4l-1 1m-68 0h0m-13 0h0m9 9h0m130-3l0 1m24 3l-1 0m-17 0l0 1m-7 0l1 0m-51 1h0m-45 1l1 1m-11-1l0 1m-8 1l0 1m-23 7l0 1m6 1l-1 1m130-2l-1 2m53 4h0m-3-2l0 1m-6 3l1 0m-47 0l0 1m-16 0l1 1m-40-1l1 1m46 4h0m42 0h0m19 6l-1 1m-129 6l0 1m5-3l0 1m19 1l1 0m37-1h0m-6 4l0 1m-94-2l-2 1m-16 9l-1 1m26-4l-1 1m142-1l1 1m10 8l0 1m-149 1l1 1m8-2l0 2m32 0l1 0m2 3h0m38 5l1 1m-57-1l0 1m-42-5l1 1m-4 0h0m38 10l0 1m42-4l0 1m73 0l-1 1m24-4l1 0m-36 10l1 1m-48-2l1 1m-37 1l-1 1m-8-2l-1 1m-16-2l1 1m-4-2l-1 0m-11-2l1 1m-9 2h0m22 7h0m51-1h0m16 0l0 1m26 0h0m-80 7l1 0m-45-3l0 1m32 6l0 2m104-1l-1 0m7 0h0m27-4l0 1m4 3l0 1m-24 6l0 2m-44-5l1 0m-2-2l-1 0m-14 1l1 0m-41-1h0m-9 0l1 1m-12 0l1 1m-23-2h0m-17 4l-1 1m6 3l1 0m38-2l-1 0m24 0l-1 1m43 1h0m12-1h0m17 1l1 1m4-1h0m45 8l1 1m-7-3l1 0m-119 1l-1 0m-24 1l1 1m-5 5h0m0-2h0m88-2l0 2m44 3h0m7-2l0 1m-21 6h0m-34-1h0m-118-2l0 1m-1 1l0 1" stroke="#6e3ac9" stroke-width="2.0" opacity="0.75"/><path d="M9-1l0 1m100 1l0 1m-47 9l-1 0m111 6l-1 1m-143-4l1 0m-7 6l1 0m148 14h0m-17-3l0 1m-110 11l-1 1m72 12l1 1m-7 1l-1 0m-16-3l-1 1m-32 8l0 1m-38 5l0 1m130 7l1 1m7 37l-1 0m-116 15l-1 1m10-1l-1 1m83-1l0 1" stroke="#5518b8" stroke-width="1.0" opacity="0.75"/><path d="M26 11l0 1m88 29l-1 1m64 2l-1 1m-78 13l0 1m-2-2l0 1m-23 1l1 0m-8 6l0 1m7-6l0 1m12 6l0 1m-16-2l-1 0m-7 10l-1 1m84-3l-1 1m-94 4l0 1m-2 20l1 0m45-4l0 1m23 2l-1 0m31-1l0 1m-116 6l0 1m105 4l1 0m-85 11l1 1m75 5l-1 1m-17 6l0 1m-38 5l0 1" stroke="#6e3ac9" stroke-width="1.0" opacity="1.00"/><path d="M162 0h0m23 2l1 1m-44 6l-1 0m1-3l1 0m-20 4l1 0m-9-1h0m-45-2l1 2m-64-3h0m110 10l-1 0m64-2l-1 0m-30 9l0 1m-20-5h0m-128 13l1 1m132 0l0 2m3-3l0 2m21-3h0m-56 9h0m-17-2l-1 0m-86 2l0 1m4 5h0m64-4l0 1m38 1l1 0m30-1l-1 1m44 7l0 1m-53-3l-1 1m-32 1l1 0m-50 6l1 0m2-1h0m6 1l0 1m37-4l2 0m12 3l0 1m71 0h0m-72 3h0m-53 4h0m-30-1h0m-14 7l-1 1m54-3l2 0m11-3l0 1m89 4h0m-3 4h0m-147-3l0 1m56 10l1 0m29 0h0m46-2h0m10 3h0m-48 3l1 0m-4-2h0m-5-1h0m-29 1l1 0m-41-1l-1 0m-18 0h0m5 8l1 1m12 0l-1 2m116-3l1 1m26-2l1 2m-25 3l-1 0m-19 1h0m-89 8h0m4-2h0m21 0l1 1m29 3h0m74 0l-1 0m24 4h0m-37-3h0m-74 4l-1 0m-75 4h0m2 0l-1 0m27-1h0m46 1h0m75 2h0m5-1l1 1m5-4l2 1m-93 8h0m-29 8l1 1m148 4l-2 1m-14-2l-1 0m-25-1h0m-118 2h0m-1 1h0m-18-2l1 0m54 5l1 1m97 0l-1 1m5-1l0 1" stroke="#5b2bc0" stroke-width="3.0" opacity="1.00"/><path d="M158 11h0m-105 38h0m57 19h0" stroke="#6e3ac9" stroke-width="5.0" opacity="0.75"/><path d="M174 5l-1 0m-164 7l1 0m88 35l0 1m-4 4l0 1m-66 4l1 0m-24 4l0 1m-5 12l1 0m100 0l-1 0m-86 18l-1 0m9 14l1 1m41-5l-1 0m70 3l0 1m23 12l1 1m-85 9l0 1m22 1l1 0m65-3l-1 0" stroke="#6e3ac9" stroke-width="1.0" opacity="0.75"/><path d="M152 29h0m-30 28h0" stroke="#6e3ac9" stroke-width="5.0" opacity="1.00"/><path d="M114 132h0" stroke="#5b2bc0" stroke-width="5.0" opacity="1.00"/></g></g>
<rect x="258.20" y="498.90" width="92.00" height="69.10" fill="#fcfafd"/><g transform="translate(258.20 498.90) scale(0.500)"><g clip-path="url(#mc203)" stroke-linecap="round" fill="none"><path d="M-2 7h0m163 5h0m-109 9h0m98 0h0m1 2h0m22 2h0m-120 1h0m-40 3h0m-2-4h0m46 15h0m81-4h0m3 5h0m19 4h0m-26-3h0m-71 1h0m59 9h0m12 4h0m-37 0h0m-58 0h0m8 8h0m129 1h0m-26 6h0m-152 6h0m15 7h0m136 8h0m-122 15h0m-19-1h0m7 12h0m27-1h0m101 0h0m39 8h0m-112 2h0m65 4h0m-28 2h0m-96 0h0m142 6h0" stroke="#7a50c8" stroke-width="2.0" opacity="0.25"/><path d="M21 3h0m12-2h0m4 6h0m39 7h0m110 4h0m-97 8h0m39 1h0m22 2h0m3-1h0m26 3h0m-30 1h0m-102 0h0m-9 3h0m14 5h0m115 5h0m-67 0h0m-26 0h0m-30 16h0m25 7h0m65 6h0m2-1h0m8 3h0m-91 4h0m-5-2h0m120 10h0m-124 25h0m48 12h0m75-1h0m1 3h0m-138 9h0" stroke="#7a50c8" stroke-width="1.0" opacity="0.25"/><path d="M1 5h0m105 0h0m38-3h0m37 3h0m-10 5h0m-92 0h0m-27-2h0m-40 3h0m79 2h0m16 2h0m11 4h0m-36 0h0m-26 0h0m-52 4h0m35 5h0m19 1h0m85-1h0m15-1h0m-39 6h0m-30-2h0m-68 10h0m118-2h0m7 6h0m-102-3h0m-6 0h0m-30 0h0m96 7h0m17-1h0m30 5h0m28-2h0m-26 5h0m-121-2h0m-27 7h0m1-1h0m50 3h0m99 0h0m9 1h0m-47 2h0m-104 2h0m7 9h0m1-1h0m58 0h0m10-2h0m27 2h0m6-2h0m50-1h0m7 8h0m-30 1h0m-31-4h0m-30 2h0m-23-2h0m-55 3h0m122 8h0m32-4h0m-11 8h0m-2 1h0m-40-4h0m-95 9h0m19-2h0m10 4h0m7-4h0m69-1h0m62 4h0m-20 4h0m-45 3h0m-17-5h0m-22 5h0m-56 5h0m8-4h0m121 5h0m24-1h0m-174 5h0m-1 0h0m-1 8h0m86-1h0m9-4h0m17 8h0m-18 0h0m-11 0h0m-14 1h0m-5-3h0m-51 0h0m18 7h0m20 1h0m25 0h0m2-2h0m30 1h0m-16 5h0" stroke="#7a50c8" stroke-width="2.0" opacity="0.50"/><path d="M36 0h0m107 0h0m40 3h0m-145 12h0m-23 1h0m27 7h0m-8 1h0m-22 8h0m91 0h0m54 4h0m-69 5h0m38 3h0m29 6h0m-6 0h0m-50-1h0m-10 0h0m-39 4h0m-27-5h0m20 11h0m125 2h0m-9-1h0m-81 0h0m-73 9h0m33-1h0m19 3h0m67-4h0m24 2h0m-144 3h0m96 11h0m53 4h0m-137-3h0m64 6h0m98 6h0m-60 0h0m-84 5h0m148 1h0m-78 10h0m-87 1h0m90 6h0m10-3h0m-52 7h0m-17 5h0m-16 6h0m-9 4h0m67 2h0m10 0h0" stroke="#7a50c8" stroke-width="1.0" opacity="0.50"/><path d="M121-2l0 2m-102 1h0m65 5h0m32 3l1 1m-88 5l-1 0m52 7h0m24 7h0m-4 0l1 1m-4-4l0 1m-66 7l2 0m14 3h0m135 22h0m-127 1l0 2m107 13l-1 2m-127 8l0 2m5 5l-1 0m75 2l2 2m70 4l1 0m-144 0h0m124 3l-2 0m-121 7l0 1m127 5l0 2m-78 10h0" stroke="#8058d2" stroke-width="3.0" opacity="0.50"/><path d="M18 4l1 2m97 17h0m-107-2l1 1m-18 2l0 1m62 44l-1 0m-18 3h0m-41 8h0m15 4l-1 0m85 4l2 1m42-1l2 0m12-1h0m32 0l1 0m-127 6l2 1m-10-1l0 1m-28 3l-1 0m159 4l-1 2m-137 1l-1 0m145 13l1 1m-84 2l-1 0" stroke="#9272da" stroke-width="3.0" opacity="0.25"/><path d="M39 35l1 0m36 28l0 1m-5 13l0 1m110 9l-1 1m-53 19l-1 1m17 23l0 1" stroke="#9272da" stroke-width="2.0" opacity="0.25"/><path d="M-4 10h0m7 0h0m7 1l0 1m24-3h0m22-3l-2 1m121-1h0m-135 8h0m-20 0h0m-5 4l0 1m107 2h0m-48 6l0 1m-65 0l-1 0m105 11h0m12-1l0 1m-78 8h0m-30-3h0m-15-1l-1 2m26 8l-1 2m35 11l1 1m95 22l1 0m-145 2h0m15 10h0m8 0l-1 1m150 3l1 1m-115 4h0m107 1h0m13 7l1 0m-23 1l1 0m-96-3h0m-1-2l-1 0m16 32h0" stroke="#9272da" stroke-width="4.0" opacity="0.50"/><path d="M19-14h0m3 19l0 1m28 1l1 2m51 2l-1 1m11-6l1 1m5 2l-1 0m2 5h0m-10 7l-1 1m14 1l2 1m37 5l-1 1m-83-5h0m-4 9l1 0m-41 9l-1 0m12 9h0m92 7l1 0m-85-2l-1 1m-32 11l1 0m42 1l1 0m-7 10h0m-46 0h0m-2 3l-1 1m67 4h0m87 0l-2 1m4-3l1 2m-115 4l0 3m-23-4l0 2m-4 6l0 1m83-4l2 0m25 1l1 2m-29 5l1 2m-57-2l0 1m-33-2h0m130 8l-1 2m-21 15l-1 0m19 9l-1 2m-53-1h0m50 12h0" stroke="#9272da" stroke-width="3.0" opacity="0.50"/><path d="M15 21h0m2-3h0m8 1h0m92 11h0m-25 6h0m-33 6h0m-42 38h0m114 20l-1 0m-66 9l0 1m113 2h0" stroke="#9272da" stroke-width="5.0" opacity="0.50"/><path d="M146 2h0m5-2l1 1m-31 11l0 1m-82 8l2 1m87 0l1 0m-2 11l1 2m-4 0h0m-69 6h0m112-3l0 1m-146 8l1 0m11 5l1 0m88-4h0m43 27l1 0m-40 2l1 0m-95 16l-2 0m45 0h0m98 8l-1 0m-152-2l0 2m138 3l0 1m-72 13h0m-89-4h0m84 11h0" stroke="#8058d2" stroke-width="4.0" opacity="0.50"/><path d="M31 3l-2 0m-21 9l-1 2m29 14l0 1m23 6l-1 1m107 0l0 1m-162 43l0 2m-21 2l0 1m126 8l1 1m-70-1l1 0m-17-2l-1 1m1 7l0 2m35-2l1 1m-38 28l-1 0" stroke="#8058d2" stroke-width="2.0" opacity="0.50"/><path d="M104-3l0 2m7 6l-1 2m26 13l-1 1m49 3l0 2m-85 87l1 1m-30 12l-2 0" stroke="#8058d2" stroke-width="2.0" opacity="0.25"/><path d="M124 4l-2 0m-83 4l-1 2m121 14l-2 1m-40 9h0m-19 0l1 1m-80 12h0m3-3l-1 1m83 3h0m-69 0l0 1m-6 0l1 1m-13 19l-2 1m3-1l0 2m133-1l1 1m-44 11l-2 1m-44-2h0m-24 2l1 1m-41 0l0 2m132 2l-2 0m29 2l0 2m20 8l1 0m-1 2l0 1m-61 4l2 0m-108-4l1 1m43 14l0 1m6 15h0m43 7l-1 0m42 3l0 1" stroke="#8058d2" stroke-width="3.0" opacity="0.25"/><path d="M154 6l-1 1m-108 34l1 0m119 2h0m-147 22l0 1m3 9l-1 0m28-1h0m143 20l-1 0m-172 15h0" stroke="#9272da" stroke-width="4.0" opacity="0.25"/><path d="M10 38l1 0m44 2h0m110 40h0m-129 2h0m-1 6l0 1m99-5l1 0m-81 22h0m21 14l0 1" stroke="#8058d2" stroke-width="5.0" opacity="0.25"/><path d="M16 4h0m116 14l-1 0m-89 51l1 0m-3 12l1 0m-39 22h0" stroke="#8058d2" stroke-width="4.0" opacity="0.25"/><path d="M6 28l1 0m38 0l0 1m81 11l1 0m-92 24h0m19 2h0m12 22l0 1m-23 1h0m-28 25h0" stroke="#9272da" stroke-width="5.0" opacity="0.25"/><path d="M12 21h0m88-3l0 1m23 7h0m-82 14l1 1m23-5h0m86 48h0m-83 14l1 0m42 9h0m45 2l-1 0m-106 9l0 1m32 9h0" stroke="#8058d2" stroke-width="5.0" opacity="0.50"/><path d="M26 15l0 1m80 6l0 1m4 3l1 2m64 22l-1 0m-173 8l1 1m167 5l1 1m-119 15l1 0m106 11l1 1m-118-1l-2 1m-57-2l-1 0m83 11l0 1m96-5l0 1m-135 5l1 1m25 10l-1 1m90 14l-1 0" stroke="#9272da" stroke-width="2.0" opacity="0.50"/><path d="M164 112h0" stroke="#9272da" stroke-width="6.0" opacity="0.25"/><path d="M142-1l-1 1m1 9l1 1m-134 6l1 1m87 4l-1 0m-74-2h0m6 6l0 1m128 0h0m-75 8l0 1m-55-4l0 1m24 14h0m51-4l-1 1m80 1h0m4 0l-1 1m-127 4l0 1m-46 0h0m2 14h0m95 8h0m-72 5l-1 0m108 5l0 1m8-5l0 1m-124 5l-1 1m34 10h0m15 4l0 1m81 6h0m-108 5l1 2m-2-2l0 2m30 2h0m95 2h0m14 1h0m-60 4l1 0m-53 11l-1 1m93 1l0 1" stroke="#6e3ac9" stroke-width="3.0" opacity="1.00"/><path d="M120-16l1 1m36 20l2 1m-5-2l0 1m-57 2l1 0m52 5l1 1m-2 3l0 1m-61-4l0 1m18 5l-2 0m52 10l-1 0m-132-2h0m37 7l1 1m28-2l0 1m20-1h0m35-3h0m-118 11l-1 0m-3-4l-1 0m88 13h0m4-1h0m-104 5h0m32 8h0m-2 13l-1 1m77 5l-2 1m-55 6l0 1m0-3l-1 0m-14 20h0m137-4l-2 0m-113 15l2 1m-12-4l0 1m-18 3l1 1m16 2h0m9-1l0 1m102 3h0m-104 6h0m19 6l-2 0m-12 6l0 1m115 8l-1 0" stroke="#5b2bc0" stroke-width="2.0" opacity="1.00"/><path d="M61 5h0m28 0l0 1m57-3h0m28 4h0m-141 10l1 0m50-1l1 0m50 5h0m-87 7l1 1m29-3h0m20 2l1 0m15 3l-1 1m-76-1l-1 1m-5 0l-1 0m1 5h0m55 1l0 1m100-3l0 1m-30 10l1 0m-122 5l-1 1m98-2l0 1m11 0h0m-113 2h0m-13 6h0m121 5l0 1m-27 5l0 1m-93-4h0m16 5l1 0m5-1h0m-12 11l-1 0m-5 6l0 1m147 3l0 1m-90-3l0 1m-42 0h0m53 7l0 1m-54 6h0m-27 4l1 1m2 0l-1 0m133 1h0m45 0l-1 2m-129 2l-1 0m-56-2l1 0m4 11l1 0m140-5l1 2m29 0l-1 0m-121 20l-1 1m-24 5h0" stroke="#5b2bc0" stroke-width="2.0" opacity="0.75"/><path d="M18 6l0 1m124 0l-1 1m-7 12l-1 1m-75 1l1 1m-19-3h0m54 4h0m16 8h0m-61-2l0 1m-25 10h0m58-4l0 1m101 21l1 0m-43-4l0 1m-113-1h0m-23 0l-1 1m15 15l0 2m135 0l-1 1m-113 1l-1 1m-8 0h0m-14-4l-1 0m154 9h0m-95 6h0m-33 5h0m19 6l-1 1m-12-2l-2 0m61 9l-1 2m-22 1h0m-95 7l1 2m4-2l1 0m35 1l1 1m35 4l-1 0m-50 6h0m4 2l-1 1m85-1l1 1m69-4l0 1m-107 5h0m-13-1l-1 0" stroke="#6e3ac9" stroke-width="2.0" opacity="1.00"/><path d="M139-9l-1 1m-18 2l0 2m39 11l-1 0m6 14l0 1m-14-1l1 0m-90 0h0m-34 8l1 0m20-5l0 1m92 6l-1 0m-46 3l-1 1m-61 6h0m11-3h0m76 2l1 1m29 2l0 1m-95 3l0 1m69 8l-1 2m-21 5l0 1m-83 17l0 1m49 9l-1 1m-62 14l1 0m45 0l0 1m14-1l1 1m1-5h0m31 2l1 0m48 3h0m-135 1h0m-12 11h0m13 0l0 1m160 3h0m-120 3l1 0m7 0h0m20 4h0m-19 5l-1 1m-53 1l1 0" stroke="#5b2bc0" stroke-width="3.0" opacity="0.75"/><path d="M92-2h0m53 0l-2 0m7 5l1 1m-87-4h0m-23 11l0 1m118 0l-1 2m-24 1l0 1m-17 0l-1 1m-12-1h0m-61-4l0 1m11 7l1 2m104 5l-1 1m-100 2h0m92 8l-1 1m-123 0h0m12 14l-1 1m135 5l1 1m-26-5h0m-4-1h0m-16 3h0m-88 2l0 1m-26 11l1 0m94 14h0m-104 5h0m6 0l0 1m24 1h0m19 7h0m87 8h0m-72 10l1 0m-69 1l0 1m17 6l0 2m40 0l-1 1m-4 3h0m-50 13l0 2" stroke="#5b2bc0" stroke-width="3.0" opacity="1.00"/><path d="M67-18l-1 0m9 10l0 1m15 7l-1 1m98 9l1 1m-43-1l-1 2m-55 4h0m30-2h0m61 1h0m-91 5l1 0m-38 7l0 1m38-2h0m14 3h0m5-1h0m20-3l-1 1m14 0l1 0m-28 8l-1 1m-52-1l0 1m-15-5l1 0m-20 5h0m86 4l0 1m74 0l0 1m-43 4l0 1m-33-4l-1 1m-31 1l1 0m-3 0l-2 0m-25 1l-1 0m-23 2h0m17 4l-2 0m57 4l0 1m-78 14h0m-6 9l0 2m16 3l0 1m47 4h0m68-5h0m-76 10h0m59 7h0m29-2h0m15 3l2 0m-54 4h0m25 3l-1 1m21 4h0m-119 5l0 1m54 12l1 0m37 3l2 1m26 0l0 1" stroke="#6e3ac9" stroke-width="2.0" opacity="0.75"/><path d="M97 9h0m89 9h0m-136 22l-1 0m-21 37h0m-11 35h0m89 3h0m-21 3h0m-26-1l0 1" stroke="#6e3ac9" stroke-width="4.0" opacity="0.75"/><path d="M162 9l0 1m-47 55l-1 1m50 14l-1 0m-94 12l1 0m-19 16l1 0m82 3l0 1m-75 24l0 1" stroke="#5b2bc0" stroke-width="1.0" opacity="1.00"/><path d="M85-1h0m-81 2l0 1m76 8l0 1m66-1h0m7-2l0 1m7-1l-2 1m3 1l1 1m-10 5l1 1m-73-4l-1 0m-11 0h0m-33 5l2 0m2 5h0m34-2l-1 1m83-2l0 2m38 0l1 1m-163 3h0m-14 6l1 1m78-3h0m-30 8l1 1m-8 1h0m-3-2h0m-34 2h0m143 4l-1 0m-119 6h0m-33 0l0 1m107 3l-1 0m-93 9h0m-22 4l-1 1m14 3l1 2m100-7l1 1m-29 10l0 1m-49-3h0m-29 13h0m23-4h0m22 5l0 1m31 0l1 0m-71 10l-1 0m34-4l-1 1m-47 12h0m156 6l0 2m-46 8h0m-66 4h0m117 6h0m-79-2h0m-20-1h0m-54 8l0 1m42-3h0m0 12l0 1" stroke="#6e3ac9" stroke-width="3.0" opacity="0.75"/><path d="M70-7h0m3 17h0m-63 7l0 1m32-6h0m19 1l0 1m39 2h0m8-4h0m47 4h0m-104 5h0m26 6h0m71-2l0 1m-80 20h0m-63-3h0m100 17l0 1m-22 50h0m-83 9h0m47 8h0" stroke="#5b2bc0" stroke-width="4.0" opacity="1.00"/><path d="M166 17h0m-37 33l0 1m-120 2l1 0m31 33l0 1m72 2l-1 0m-16 2l0 1m-40 12l1 0m2 3l0 1m109 18l-1 0" stroke="#6e3ac9" stroke-width="1.0" opacity="0.75"/><path d="M102 21h0m10 11h0m-48 30l0 1m38 8h0m-56 10h0m-7 50h0m9 16h0" stroke="#6e3ac9" stroke-width="4.0" opacity="1.00"/><path d="M30 32l1 0m102 7l-1 1m-60 73l0 1m-2 6l0 1" stroke="#6e3ac9" stroke-width="1.0" opacity="1.00"/><path d="M133-3h0m-117 4h0m57 10h0m74 0l0 1m-72 27h0m121 15h0m-162 24h0m6 16h0m74 2h0m3 25h0" stroke="#5b2bc0" stroke-width="4.0" opacity="0.75"/><path d="M56 17h0" stroke="#5b2bc0" stroke-width="5.0" opacity="1.00"/><path d="M34 12l-1 0m111 26l1 1m-98 31l0 1m116 52l-1 1m-152 5l-1 0m47 7l0 1" stroke="#5b2bc0" stroke-width="1.0" opacity="0.75"/><path d="M72 2h0" stroke="#6e3ac9" stroke-width="5.0" opacity="1.00"/></g></g>
<rect x="353.90" y="498.90" width="93.10" height="69.10" fill="#fcfafd"/><g transform="translate(353.90 498.90) scale(0.500)"><g clip-path="url(#mc204)" stroke-linecap="round" fill="none"><path d="M106 2h0m8 3h0m28-4h0m-1 10h0m-23-2h0m-8 1h0m-37 0h0m-30-2h0m-39 5h0m31 1h0m5 3h0m66 0h0m47-3h0m6 0h0m-3 5h0m-44 3h0m-94-1h0m-2 0h0m56 12h0m22-2h0m8-1h0m11 3h0m13-2h0m6 2h0m22-3h0m25 6h0m-3 0h0m-5 3h0m-3 0h0m-15-2h0m-5 2h0m-41-2h0m-95 3h0m-4 7h0m120-5h0m53 0h0m-18 11h0m-77-3h0m-25-1h0m-5-1h0m-21 2h0m-13 2h0m80 4h0m3-2h0m21 4h0m21 1h0m-106 3h0m-3-1h0m40 5h0m77 5h0m4 1h0m-24 2h0m-33 1h0m-52-1h0m-52 0h0m95 7h0m31-3h0m38 9h0m-126-2h0m-34 3h0m1 5h0m181 4h0m-7 4h0m-52-5h0m-77 0h0m-3 0h0m-24 11h0m8-2h0m18-3h0m5 1h0m10 3h0m2-2h0m18 0h0m94 0h0m6 2h0m-121 4h0m-39-1h0m0-1h0m-3 9h0m74 2h0m3-1h0m73 6h0m-116-1h0m29 4h0m1-1h0m36 1h0m13-1h0m-39 7h0m-43 2h0m-32-2h0m-13-1h0m27 8h0m150-1h0" stroke="#7a50c8" stroke-width="2.0" opacity="0.50"/><path d="M42-1h0m42 0h0m-50 10h0m108 7h0m18 7h0m-73-5h0m-49 4h0m42 5h0m46 0h0m15 3h0m-132 3h0m-9-2h0m173 6h0m-12 8h0m-1-3h0m-54 3h0m-4 2h0m-3 4h0m55-3h0m14 1h0m13 1h0m-141 5h0m-20 4h0m-14-5h0m88 8h0m20 2h0m26-1h0m-3 11h0m-37 7h0m35-3h0m32 11h0m-38-4h0m-99 0h0m-8-1h0m68 7h0m47 2h0m2 3h0m-118 0h0m71 7h0m19-1h0m56 4h0m-100 5h0m-34 2h0m-11-5h0m2 10h0m162 11h0m-32 0h0m-73 5h0m45-1h0" stroke="#7a50c8" stroke-width="2.0" opacity="0.25"/><path d="M114 1h0m-108 5h0m67 17h0m78-5h0m32 7h0m-106 1h0m0 4h0m18 1h0m-17 9h0m0 7h0m39-1h0m59 16h0m-166-1h0m-8 1h0m3 12h0m88 0h0m25 6h0m-73 8h0m135 6h0m-147 6h0m129 15h0m-30 5h0m-89 14h0m39 5h0m100 0h0" stroke="#7a50c8" stroke-width="1.0" opacity="0.25"/><path d="M184 1h0m-11 8h0m-61 1h0m-22-4h0m15 9h0m36 13h0m-19-1h0m-24 1h0m-36-1h0m-10 3h0m93 0h0m-42 14h0m-29 1h0m30 5h0m18-2h0m-86 23h0m-2 5h0m58-4h0m69 0h0m-151 11h0m105 18h0m61 3h0m-140 3h0m31 5h0m6 1h0m5-1h0m15-3h0m23 7h0m5 4h0m29 3h0m-3 5h0m-5 1h0m-130-2h0" stroke="#7a50c8" stroke-width="1.0" opacity="0.50"/><path d="M168 1l0 1m-77 7l1 0m-62 13l0 1m137 0l0 1m-152 1h0m14 17h0m25 4l0 1m-22 2l1 1m119 4h0m-108 8l0 1m38 4l0 1m43 14h0m-34 2l-1 1m-17 20l0 1m-19 5h0m11 2l0 1m6-5l0 1m13 0h0m63 9h0m-86 0l1 0m-54 1h0m118 9h0m-33 2h0m92 2h0" stroke="#8058d2" stroke-width="5.0" opacity="0.50"/><path d="M159-7l2 1m26 1h0m-109 10l0 1m93-1h0m-103 6l-1 0m-7-2l0 1m-18 19l0 1m121 0l-1 1m-67 2l-1 0m1 0h0m-58 6h0m3 2l0 1m3-1h0m8-3l1 1m9-2l0 2m15 1l-3 0m7-1h0m26-1l-2 1m28 0l0 1m9 5h0m-52 0l-1 2m-53-4l-1 3m0 7l1 0m-1-2l1 1m7-3l1 0m5 2l0 3m12-2l-1 0m111 7l-1 1m-26-1l-1 2m-9-6l1 1m-124 5l-1 1m37 0h0m5 2l2 0m0 1l-1 0m12-3h0m11 1l3 0m19 7l1 1m-21-2h0m-73 5l-2 1m26-1l-1 0m11 1h0m7-2l0 2m18-1l-1 2m28-4l-1 1m49 3l0 1m30 1l0 1m-117 1l-1 1m0 1h0m-22 1l0 1m-17-1h0m22 1l-1 1m14 3h0m41-2l-2 1m-27 3h0m-41 2l-1 1m21 7l-1 1m33-2l-2 0m-36 7l-2 1m-31-3h0m-5 4h0m5 2l1 1m31 2l1 2m49-7l-1 1m127 4h0m-109 2l0 1m-1 2l1 1m-29-4h0m-4 3l-1 0m-6-2h0m-1 0l2 1m-5-1l0 2m-46-1l0 1m0 0h0m64 7l-2 0m62 6l1 1m-131 8h0m78 0l0 2m21-3h0m-60 7l0 1" stroke="#8058d2" stroke-width="3.0" opacity="0.50"/><path d="M154 5h0m-97 2l-1 1m70 13h0m19 6h0m-132-3l-1 1m60 9h0m4-4h0m10 5l-1 0m69-5l1 0m-35 7l0 1m38 4h0m-133 13l-1 1m62 5h0m-5 16h0m-88 6h0m36-2h0m69 1h0m10 7h0m-29 12h0m-19 5h0m13 2l0 1m-4 7h0m-19 1h0m26 4h0m77-1h0m-62 7l1 0m-35 2l0 1m-57-1h0" stroke="#9272da" stroke-width="5.0" opacity="0.50"/><path d="M147 3l0 2m6-1h0m24 5h0m-97 0l1 0m-47 14h0m101-5l-1 0m-52 6h0m55 8l-1 1m16 2h0m24 0l1 0m-41 3l1 2m-115 4h0m28 3l-2 1m5-2l0 1m7 1l-1 2m-38 8l1 1m116-1l0 1m-85 4h0m67 3l0 1m-74 8l0 1m-2-2l0 2m-10-1l1 1m51 2l2 0m7 1l-1 0m11-1l0 2m-12 11l-1 0m-3 0h0m21 9h0m-12 5l0 1m-61-3h0m-24 2l1 0m-10 4l1 1m68 0l2 0m22-1h0m-5 6l-1 0m-10 4l0 1m-18-3h0m21 4h0m21 2l1 2m7-5l-1 0m-42 9l0 1m-19 0l2 1m-4-3h0m-3 3l0 2m-46-6h0m43 8l1 1m3-3h0m29 3l1 0m-36 4h0m-7 2h0m-36-4h0m62 12h0" stroke="#9272da" stroke-width="4.0" opacity="0.50"/><path d="M39 34h0m115-3h0" stroke="#8058d2" stroke-width="6.0" opacity="0.50"/><path d="M69 13h0m28 4l0 2m41-3l1 1m34-2l-1 0m-22 4l1 0m-65-1l0 1m39 8l0 1m22-4l0 1m-122 9h0m12 2l-1 0m145 0l-1 1m-120 9h0m-36 1h0m21 5h0m29-3h0m-51 10l0 1m16 5l0 1m19-4h0m121-1l1 0m5 8h0m-112 1h0m-20 14l0 1m1 4l-2 1m-4 0h0m-46 10h0m91 5h0m-49 0h0m13 4l0 2m37-1l-1 0m-21 4l0 1m-2 3h0m-74 0l2 0m53 2h0m140 2l2 0m-122 8h0m-6 0l-1 1m-27-5l0 1m2 7h0m53 3h0m-48 1l0 1" stroke="#8058d2" stroke-width="4.0" opacity="0.50"/><path d="M113 36l1 1m-89 21l-1 0m49 2h0m-19 84l-1 0" stroke="#9272da" stroke-width="4.0" opacity="0.25"/><path d="M81-14l2 1m55 5l1 1m32 11l1 2m1 3h0m-129 6h0m47 1l2 0m52-3l0 1m3 8l-1 1m-95-2h0m-2 1h0m-24 7l-1 0m8-2l-1 1m54-3l2 1m52 0l-2 1m32-3l0 1m-117 10l2 0m-10-2l-1 2m-14 5l-1 1m13-2l-1 1m11-2h0m16 3l-2 1m69 3l-1 2m-49-4l-1 2m-31 1l1 1m-12 5l0 1m4-3l2 1m7-2l-2 1m117 14l1 0m-6-3l-2 2m-131-2l0 1m-14 2l2 0m37 2h0m53 11l2 1m-81-2h0m2 7l-2 1m5-1l-2 1m27-6l0 2m102 4l2 0m-174 11l1 0m59-1l1 1m50 3l-1 0m-10 3l0 1m0-6l-2 1m-54 0h0m8 7l-1 0m35 3l-1 1m25-2l-1 2m12 8l1 0m-52 3l1 1m-27-6h0m-3 3l-2 0m-24 0l1 2m-4-1l-1 1m-8-1h0m47 6l3 1m25-2l1 0m1 2l-1 1m25 4l0 1m-3 0h0m-12-4l-3 1m-8-2h0m-48 0l-2 1m-8 1h0m30 4l1 1m103 16l-1 1m-65 1l-1 1" stroke="#9272da" stroke-width="3.0" opacity="0.50"/><path d="M70 20h0m83 15l-1 1m-39 3l0 1m-4 8l1 0m2 12l2 1m-60 10l-1 1m-13-6l1 2m124 17h0m-90 29l1 1m-77 17l1 1m58 0l-2 1" stroke="#9272da" stroke-width="3.0" opacity="0.25"/><path d="M49 16l1 0m16 0l-1 0m125 1l-2 0m-61 2l2 0m-41 8l-1 0m-23 15l1 1m-24 0l0 1m-32 9l2 1m52-1l1 0m87-2l-1 1m-24 4l1 0m-94 0l1 0m-9-1l0 2m-16 8l1 1m36-5l-1 1m-12 7l-1 1m5 5l1 1m33 1l-2 1m35-3l1 1m0-1l2 0m30-1l1 1m-37 6l0 1m-26 0l1 1m110 4l0 2m-90 9l-1 1m-82 4l-1 2m39 1l1 1m15 0l0 1m111 3l-1 0m-164 4l0 1m42 3l1 1m15-6l1 0m-9 6l-1 1m-53 10l0 1m101-5l1 1m-66 4l1 1" stroke="#8058d2" stroke-width="2.0" opacity="0.50"/><path d="M41 20l-1 1m139-3l1 0m-134 17l-1 1m-26-5l2 0m49 10l-1 1m-22 5l-1 1m-3-2l2 1m5 4h0m16 3l-1 1m-24 4l2 0m25 17l-1 0m53 7l-2 0m-17-1l2 1m-62-2l0 1m-13 3l0 2m29 22l1 1m-13 3l-1 2m-47-6l0 1m40 6l1 2m88 6h0m-66-2l-2 0m-8-1l1 0m-5 4l-1 1m-18 0l1 1m10 2h0m10 6l-2 1" stroke="#9272da" stroke-width="2.0" opacity="0.50"/><path d="M80 3h0m-34 6l-1 0m-23 5h0m24 6l-2 1m112 22h0m-125 15l0 1m39 44l0 1m6 3l-1 2m25 0l2 0m-39 1h0m-19 4l2 2m17 12h0m-29 9l1 2m16-3h0" stroke="#8058d2" stroke-width="3.0" opacity="0.25"/><path d="M34 22l0 1m2 24l2 1m13 30l0 1m66 3l1 1m-62 31l0 1" stroke="#8058d2" stroke-width="2.0" opacity="0.25"/><path d="M77 70l0 1m13 32h0" stroke="#8058d2" stroke-width="5.0" opacity="0.25"/><path d="M31 50l2 0m39 76l-1 1m-22 9h0m119-2l2 0" stroke="#8058d2" stroke-width="4.0" opacity="0.25"/><path d="M133-18l0 1m-72 46l1 0m80 7l1 2m-84 75l0 1m-55-1h0" stroke="#9272da" stroke-width="2.0" opacity="0.25"/><path d="M44 18h0" stroke="#8058d2" stroke-width="6.0" opacity="0.25"/><path d="M22 115h0" stroke="#9272da" stroke-width="6.0" opacity="0.50"/><path d="M164-11l-1 1m10 9h0m-179 12l1 1m9-4l-1 2m14-2l2 0m22-1l0 2m45-1l1 1m50-1l0 2m8 6l1 1m-85 0h0m-46-2l-1 1m123 7l0 2m40 0l0 1m-91 1l-1 1m-12-1l1 0m-15-3l1 0m-33 3l-1 0m39 3l0 1m5 4l1 2m59-3l1 1m30-1l1 1m28 6l2 1m-51-3l0 1m-86-1h0m11 4l0 1m81 0h0m-25 6h0m-51 2l1 1m-28-5h0m-15 5l1 1m145 5h0m-41 5l0 1m-21-1l1 0m-114 4l0 1m166 4l1 1m-96-1l1 1m9 7l1 1m-33 5l-1 1m-5 0l-1 1m-22 3h0m136 5h0m-12 3h0m23 5h0m-75 8l0 1m-43-6l0 2m-17-1h0m-7 5h0m13 0l0 1m57 16l1 2m-6 1l-1 0m3-2h0m71 10h0m-141 1l1 1m-16-1l-1 1" stroke="#6e3ac9" stroke-width="3.0" opacity="0.75"/><path d="M-25 2l-1 0m166 8h0m-56-3l-1 0m-50 5h0m137 2l0 1m-66 6l-1 0m-89 4l-1 1m1 1h0m18 6l-1 1m-29-1l-1 1m25 7h0m7-5l1 0m0 1l-1 1m22 3l1 0m15-2l0 1m10-3l1 0m55 4l1 0m32-3l-1 2m1-1l0 1m-19 2l1 1m-35-1l-1 0m-11 4l-1 0m-41-4l-1 1m-46 9l0 1m154-4h0m1 4l-1 1m6 3l-1 1m-18-1l0 1m-120-4l1 0m-1 0h0m24 7l0 1m90-2h0m-115 7l1 1m58 6l1 0m32 2l0 2m-66 1h0m-3 3l1 1m-25-1l1 1m-27 4l1 1m48 0h0m94-3l-1 1m-73 7l1 0m-27 2l0 1m-29-2l-2 0m-6 1l0 1m-17 2h0m28 3h0m23-2l0 1m75 0l0 1m66-1l0 1m-47 3l0 1m-2-3l1 1m-109-1l1 1m24 6l0 2m59 6l1 1m-20-1l1 1m-30-1h0m-30-3h0m-29 8l-1 0m1 9h0m3 8h0m70 3l-1 1" stroke="#6e3ac9" stroke-width="2.0" opacity="1.00"/><path d="M147-15l-1 1m8 12l-1 0m-87-3h0m-69 8h0m16 1l1 1m29-3l1 1m29 0h0m73-1l2 1m-83 6l-1 2m-50 0l-1 1m1 0h0m7 5l1 1m140-3h0m0 2h0m0-1l0 1m14-3h0m-60 8l1 1m-25-3l1 0m-19 2h0m-59 0h0m-28 0l1 0m34 7l0 1m36-2h0m10-2l-1 1m5 1l-1 0m4-4h0m27 0l1 1m58 2l0 1m-6 6l-1 0m-96-1l0 2m-31 4l1 0m6 2l-1 0m21-2l1 2m78-4l0 1m30 9l-1 0m-1 0h0m-27-3l1 1m-103-2h0m-4 0h0m-31 1l-2 1m44 4l0 1m126-1h0m1 7l-2 1m-145 0l1 0m20 8l-1 0m85-5h0m16 1h0m40-1l1 1m-90 7h0m-51-2l0 2m16 5l1 1m129 2l0 1m-161 5l0 1m-14-2l-1 1m39 4h0m56 1l-1 1m26-3l-1 0m-6 6l0 1m-91 0h0m-40 4l-1 0m26 1l1 1m29-1l1 1m41 9l1 2m-29-3l0 1m-30-5l0 1m-27 12l0 2m12 9l-1 0m-6 0l0 1m-5 9h0m107-3l-1 0m6 3l-1 0m-99 2h0" stroke="#5b2bc0" stroke-width="2.0" opacity="0.75"/><path d="M16-7l0 1m25 14l0 1m134 8l0 1m-92 9l1 0m-28 4l-1 0m-23 15l-1 1m-2 10l1 1m119-4l-1 0m-40 10l-1 1m-68 0l1 1m40 1l-1 0m42 4l-1 0m43 5l-1 1m-77-3l-1 0m-18-2l0 1m-56-1l0 1m0 2l0 1m147 7l0 1m12 9l1 0m-74 6l-1 0m-87 11l0 1" stroke="#6e3ac9" stroke-width="1.0" opacity="0.75"/><path d="M148-4l-1 0m-137 8l0 1m-9 1l0 1m55 0l0 1m96-1l-1 0m-13 18h0m-126 8h0m117-1h0m26 4h0m-6 4h0m-113 1l0 1m6 1h0m91 1l-1 1m30 6h0m-91-2l1 0m-34 0l-1 0m-24 6h0m25 4l0 1m26 0h0m11 7l1 0m49 4l1 1m17-3l-2 0m-77 5l0 2m-1-4l1 0m-30 0l1 2m-14-2h0m-21 6l0 1m39 0l1 1m115 6h0m-126 8h0m10-3l0 1m43-1h0m-7 9h0m-13-2h0m-31 7l1 0m61 8h0m-73-4l-1 0m-2 12h0m34 5l-2 1m-42-1l1 0m78 7l0 2" stroke="#5b2bc0" stroke-width="3.0" opacity="1.00"/><path d="M48 8l2 1m100 0l0 1m-63 2h0m-22 3h0m-17-3l-2 1m-34 3h0m-14-3l-1 0m20 9h0m2-3l-1 1m2 2l2 0m125-1l0 1m15-3l0 1m-64 7h0m-69-3l-1 1m-5 0l-2 0m71 6l0 1m60 2l0 1m22 5l-1 1m-30-1l1 0m-124-4h0m-2 2h0m19 8l0 1m115-4l0 1m-45 12l-1 1m-35 0l-2 1m-55-2h0m149 7l0 1m27 9l-1 1m-96 2l1 1m-12-5l1 0m-12 5h0m-57-2h0m20 3h0m7 0l-1 1m13 4l1 0m14-5l1 1m8 5h0m-60 4l0 2m-23-1h0m75 1l0 1m22 0l1 0m52 1l0 1m-100 8l0 1m-1-2l1 1m-22-1h0m-5 0l1 1m6 3l0 1m10-1l-1 0m67-1h0m-5 5l1 1m-30-1h0m3 6l1 1m-48 14h0m2 11l0 1" stroke="#5b2bc0" stroke-width="2.0" opacity="1.00"/><path d="M15 13h0m80 8l1 0m-52 7h0m114 7h0m-85-5l-1 0m-37 6h0m2 0h0m38 2l1 0m67-2l0 1m16 0h0m21 8l1 0m-16 2l-1 0m-11-5h0m-99 0h0m-22 10l-1 0m49 2h0m2 16h0m-26 5l0 1m63 20l1 0m-116 9h0m44 20l0 1m-26 1h0" stroke="#5b2bc0" stroke-width="4.0" opacity="0.75"/><path d="M12-18l1 1m165 16l1 0m-182-3l2 0m1 4h0m152 0h0m3 8l-1 1m-71-1l-1 0m-48 1h0m-3-3h0m69 10h0m50-3l-1 0m2 1l0 2m-58 5l0 1m-14 1l0 1m-30-4l0 1m-1-1l1 1m-5 2h0m-15 0l-1 0m-3 6l1 1m57-2l0 1m10-3l0 1m45 1l-1 1m14 5l1 1m-27-4l1 1m-33 0l1 1m-18-1l1 2m-14-3h0m-7 0l-2 1m-23 0l0 1m-21 1l0 1m-7-2l0 2m11 5l1 1m5-2l0 2m18 0l1 0m2-4h0m2 0l1 0m98 0h0m15-1l1 1m7 3l-1 1m-28 1h0m-70 2h0m11 8l1 0m74-2h0m6 1h0m0 6l-1 0m-9-2h0m-21 0l2 1m-45-1l1 2m-43-3l0 1m-22 6h0m8 0l1 0m30-1h0m65 5l0 1m11-5l1 1m-54 14l1 0m-42-1h0m-10-3l1 0m-41 4l-1 1m79 1l1 1m13 8l-1 1m-15 1l-2 1m-59-3l0 1m-6 2l0 1m5 3l1 1m21-2l-1 1m4 1l1 0m0-2l1 1m7 1l0 1m112-1l1 1m-15 0l1 1m-48 0h0m-54-1l1 0m-22 1h0m11 5h0m18 0l2 1m2 4h0m24-5l1 1m-2 10h0m-35-4l0 2m73 5h0m-15 19l0 1m-66-2l-1 0m-5 8l0 2" stroke="#6e3ac9" stroke-width="2.0" opacity="0.75"/><path d="M69 5l-1 0m113-2l-1 1m-144 2l1 0m-16 5l0 1m-20-3l2 1m140 2l1 1m2 1h0m-7 5l0 2m-63-2l1 1m-49 2l1 1m-23 6l1 1m49-3l1 0m132 0l0 1m-33 7l1 1m-12-1h0m-14-3l1 0m-8 0h0m-77 3l0 1m-35-2l-1 0m15 7l-1 1m51-2l2 0m14-3h0m53 2l-1 1m7 1l-1 1m24 2l0 1m-20-1l-1 0m-25 2l0 1m-99 0h0m-3-4h0m120 6l-2 0m33 9h0m-29-1h0m-109 7l0 1m10-4l-1 1m-21 9l1 1m-2 10l1 0m1-2l0 1m58-1h0m6 7h0m-17-2l0 1m-39-2l0 1m-26 12l1 0m91 8l1 0m-73-1l1 0m-4-1l1 1m25 7h0m14 1l0 2m27 5l1 0m-27-1h0m-40 3h0m54 1l0 1m21 6l-1 1m-59-1l0 1m-37-4h0m174 11l0 1m-164 0l1 1m89 12h0" stroke="#5b2bc0" stroke-width="3.0" opacity="0.75"/><path d="M168-28l0 1m-65 37l0 1m-77-3l0 1m8 6l1 1m41-4l0 1m104 28l-1 0m-43 0l0 1m24 5l0 1m-113 13l-1 1m96 9l0 1m-82 18l-1 1m-13 9l0 1m61 6l1 1m52 13l1 1" stroke="#5b2bc0" stroke-width="1.0" opacity="0.75"/><path d="M155-1l0 1m10 10h0m-26 0h0m-126 1h0m28 1l1 1m9-1l1 1m7 3h0m7 0l-1 1m84-1l-1 1m23-5l-1 1m-28 10l1 0m-125 2h0m50 4l1 1m4-4h0m68 0l0 2m7-3h0m14 9h0m-88-2h0m-42 1h0m134 4l-2 0m12 12l1 1m-32 1l-1 0m-103-1l0 1m-3 3l0 1m27 4h0m62-5h0m28 2l2 1m-47 5l-2 0m-88 1l2 1m-3-3h0m-17-1l-1 2m60 7h0m18 2l-1 2m114-5l1 1m-98 4l-1 1m-96 4l0 1m176 6l0 1m-144-1h0m5 10h0m47 0h0m64 10l1 0m-118 4h0m20 0h0m34 7l0 1m-16 5h0m-36 13l0 1" stroke="#6e3ac9" stroke-width="3.0" opacity="1.00"/><path d="M83 6h0m81 12l-1 1m-143 11l1 0m6 3l0 1m39-4h0m106 7h0m0 1l0 1m-7-1l-1 0m-66-2h0m-34 0h0m-31 3h0m-1 0h0m-15 0l0 1m139 3h0m-130 7h0m21 14h0m31 6h0m1 15l1 0m-42 20l1 1m60 6h0m-78 6h0m27 4h0m68 11h0m-84-1l-1 0" stroke="#6e3ac9" stroke-width="4.0" opacity="0.75"/><path d="M35-25l-1 0m118 30h0m-152-4h0m6 8h0m35 13h0m-20 3l-1 0m129-1l1 0m13 4h0m-25 5l1 0m30 12h0m-115 11h0m-60 17h0m132 1h0m22 15l1 1m-85 4h0m92 8l-1 0m-63 4l0 1m-67 2l0 1m-2 24l-1 0" stroke="#6e3ac9" stroke-width="4.0" opacity="1.00"/><path d="M98 3l0 1m-91 14l-1 1m-1 15l-1 0m148 5l-1 1m-79 18l-1 0m-38 6l0 1m113 2l1 1m8 4l1 1m-68-1l-1 0m-96 14l-1 0m51-2l0 1m25 10l-1 0m19 2l1 0m56 14l-1 0m-96-3l1 1" stroke="#6e3ac9" stroke-width="1.0" opacity="1.00"/><path d="M140 10h0m-53 10h0m-63 21l1 1m7 6h0m57 22h0m80-1h0m-112 10l0 1m-55 2h0m11 2h0" stroke="#5b2bc0" stroke-width="4.0" opacity="1.00"/><path d="M5 14l1 1m5 0l0 1m59 58l-1 1m63 25l1 0" stroke="#5b2bc0" stroke-width="1.0" opacity="1.00"/><path d="M67 100h0m30 24h0" stroke="#6e3ac9" stroke-width="5.0" opacity="1.00"/><path d="M11 24h0" stroke="#6e3ac9" stroke-width="5.0" opacity="0.75"/></g></g>
<rect x="258.40" y="589.90" width="92.00" height="70.00" fill="#f9f5fb"/><ellipse cx="309.0" cy="621.4" rx="35.0" ry="26.6" fill="#efe6f5" opacity="0.45"/><g transform="translate(258.40 589.90) scale(0.500)"><g clip-path="url(#mc205)" stroke-linecap="round" fill="none"><path d="M51-2h0m46 1h0m66 4h0m-82-1h0m-9 1h0m-3 2h0m-1-4h0m-17 2h0m-32 2h0m-5 5h0m10-4h0m9 5h0m28-3h0m13 1h0m25-3h0m84 5h0m0-3h0m-26 8h0m-90 1h0m-16-1h0m30 2h0m2 1h0m5 3h0m69-3h0m16 0h0m10 3h0m3 1h0m-52 6h0m-17-1h0m-26 0h0m-13-4h0m-26 3h0m-6-2h0m-18-1h0m112 8h0m7 0h0m32 1h0m-66 3h0m-5 3h0m-26-2h0m-25 0h0m-18 1h0m-23 4h0m27 1h0m74 2h0m59 6h0m-2-1h0m-73 1h0m-2 2h0m-17-3h0m-14 1h0m-4 5h0m17 1h0m24-1h0m25-1h0m16 0h0m24 2h0m2 2h0m-25 2h0m-5-1h0m-17 1h0m-15 1h0m-25 2h0m-2-4h0m-13 2h0m-18 3h0m-17-5h0m-10 8h0m34-2h0m106 6h0m-62 5h0m-13-3h0m-8 0h0m-24 1h0m-54-3h0m37 11h0m7-5h0m22 2h0m35 2h0m37 5h0m-13-2h0m-14 1h0m-22 1h0m-7-3h0m-65 5h0m18 4h0m60 1h0m10-4h0m3 5h0m21 0h0m8-1h0m25 0h0m17 1h0m2 2h0m0 1h0m-4-1h0m-15 2h0m-54-3h0m-21 2h0m-65-1h0m-6 7h0m54-1h0m6-1h0m12 0h0m7 2h0m9-1h0m48-1h0m-78 9h0m-26 0h0m-7 6h0m10-3h0m2 2h0m31 3h0m6-4h0m63 4h0m-4 6h0m-121-4h0m-10 1h0m3 8h0m2-2h0m17 1h0m8-1h0m27 0h0m36 2h0m19-4h0m8 1h0m16 2h0m20 0h0m-97 7h0m-27-2h0m-14 5h0m19-1h0m90 1h0m16 1h0" stroke="#7a50c8" stroke-width="2.0" opacity="0.50"/><path d="M14 5h0m164-2h0m-56 6h0m-110 4h0m71 0h0m14 0h0m-21 9h0m-32-4h0m-44 0h0m140 6h0m-17 6h0m-21 0h0m-81 13h0m104 1h0m42-1h0m-97 9h0m113 6h0m-30 3h0m-88 2h0m-59-2h0m118 18h0m-67 8h0m-48 4h0m170 21h0m-56-2h0m-12-1h0m-82 2h0m56 7h0m56-4h0m-63 16h0m-58 5h0m60-1h0m15-2h0m49 0h0m-102 8h0" stroke="#7a50c8" stroke-width="1.0" opacity="0.25"/><path d="M1-1h0m45-1h0m124 6h0m-2 0h0m-84-4h0m-3 1h0m-16 1h0m-40 1h0m87 3h0m47 4h0m0-1h0m4-3h0m11 8h0m-25 3h0m-106-5h0m-23 5h0m-7 5h0m6-4h0m159 4h0m6 0h0m-26 2h0m-1 4h0m-8-2h0m-14 0h0m-4-1h0m-91 9h0m13-1h0m21-3h0m18 3h0m55-2h0m20 1h0m15 3h0m3-4h0m0 6h0m-1 4h0m-69-3h0m-32-1h0m-41 4h0m-28-4h0m-11 2h0m27 5h0m89 0h0m10 2h0m2-1h0m25 4h0m-121 2h0m23 4h0m18 4h0m45 0h0m7-1h0m-91 4h0m-21-1h0m-1 9h0m4-3h0m66 2h0m60 0h0m10 0h0m21-1h0m-83 9h0m-40-3h0m-29 2h0m-13 5h0m7 1h0m45 1h0m21-5h0m9 3h0m76 1h0m-2 6h0m-33-3h0m0 1h0m-51 0h0m-47 1h0m-26-1h0m101 4h0m18 3h0m-92 3h0m-34 2h0m30 7h0m98-2h0m54 3h0m-1 6h0m-18-3h0m-162 8h0m38-1h0m20-1h0m36 1h0m64-1h0m-27 6h0m-26 1h0m-81 7h0m31-3h0m9 1h0m16 1h0m38 0h0m42 12h0m-40-1h0m-75 2h0m-31-2h0" stroke="#7a50c8" stroke-width="1.0" opacity="0.50"/><path d="M57 6h0m85 4h0m18 0h0m24 4h0m-128-2h0m31 8h0m38 0h0m51-1h0m2 2h0m-159 3h0m131 10h0m8 3h0m-87 14h0m83 7h0m-145 2h0m5 0h0m3 0h0m134 2h0m31-1h0m-56 9h0m-51-4h0m-7 5h0m-6 1h0m113 0h0m-49 8h0m-117-1h0m-6 3h0m32 13h0m2-3h0m144 6h0m-40 2h0m-5-1h0m-38 0h0m-20 0h0m-13 8h0m49-1h0m31 1h0m36-1h0m-35 3h0m-54 0h0m-93 9h0m42-4h0m42 4h0m19 1h0m0 0h0m18-4h0m29 9h0m6 4h0m25 1h0m1 4h0m-10-1h0m-29 0h0m-30 2h0m-54 1h0m12 3h0" stroke="#7a50c8" stroke-width="2.0" opacity="0.25"/><path d="M135 15h0m45-3h0m-62 12h0m-96 17h0m89-1h0m57 2h0m-96 3h0m24 8h0m48 4h0m20 14h0m12-5h0m-121 11h0m40 20h0m38 4h0m52 5h0m-157-2h0m30 34h0m123 0h0" stroke="#7a50c8" stroke-width="2.0" opacity="0.75"/><path d="M59 5h0m18 0h0m15 6h0m-23 29h0m5 6h0m104 8h0m-53 29h0m-23 1h0m-12 11h0m74 31h0" stroke="#7a50c8" stroke-width="1.0" opacity="0.75"/><path d="M17 38h0m146 9h0m-5 6h0m-128 9h0m135 4h0m1 1h0m-26 31h0m-97 8h0m84 16h0m-45 3h0m-10 5h0m85-4h0" stroke="#8058d2" stroke-width="3.0" opacity="0.50"/><path d="M18 34l-2 6m28-5l-2 3m3 0l-3-3m-23 2l-6 1m3-1l3 3m136 12l6 2m-3-3l1 5m2-5l-5 2m-124 5l-3 7m-2-5l6 3m133 1l-4 4m7-3l-5 3m4-1l-5-1m3 3l-2-4m-116 6l-1 5m-3-4l5 1m18 0l2 6m1-5l-3 4m3-1l-6-1m75 19l2 6m-57-1l-6-1m65-1l-7 0m-91 7l-5 4m4 0l-2-6m117 22l-5 2m-24-5l-6 0m5-2l-3 5m-1-5l3 2m-44 3l-4 1m2 2l1-5m1 5l-3-5m75 4l3-4m-2 5l1-6m2 5l-5-3m-83 10l0-8" stroke="#8058d2" stroke-width="1.0" opacity="0.50"/><path d="M81 66h0m-82 24h0m82 10h0m26-4h0m-95 26h0" stroke="#8058d2" stroke-width="4.0" opacity="0.50"/><path d="M43 36h0m122 9l-4 4m-1-6l6 7m-86 13l3 8m2-7l-9 3m-8 9h0m-21-3h0m-48 14l2 6m2-7l-7 7m112-2l-3 7m-100-8l-9 0m6 3l-4-5m81 9l5 7m-1-7l-5 6m31-7l-7-1m-89 23l-1 6m2-1l-7-2m69 8l-8 1" stroke="#8058d2" stroke-width="2.0" opacity="0.50"/><path d="M35 39h0" stroke="#9272da" stroke-width="4.0" opacity="0.25"/><path d="M34 35l2 8m1-5l-5 4m-1-4l9 4m126 91l-3 2m4 1l-4-2" stroke="#9272da" stroke-width="2.0" opacity="0.25"/><path d="M75 38h0m-39 10h0m-30 30h0m28 7h0m118 33h0m-91 10h0m-62-1h0m131 5h0" stroke="#9272da" stroke-width="3.0" opacity="0.50"/><path d="M8 15l-3 3m89 4l-8 3m-77-7l-4-4m83 11l6-6m66 21l-3-7m-78 3l-6 3m2-3l0 6m-38 3l-2 6m3-2l-5-1m131 10l-3 3m5-1l-5 0m3 3l-3-5m1 3l0-4m-159 19l5 4m1-5l-5 4m27 3l4 5m3-3l-8 2m105 10l4 5m-143 23l5 5m-3-5l1 7m1-7l-4 5m156-8l0-7m-19 15l-3 4m-67-4l-4-2m3-1l-3 6m-58-6l-5 0m136 9l-2-6m4 4l-7-4m-99 10l-5 3m4-1l-4 0m4 2l-3-4m1 3l2-4" stroke="#9272da" stroke-width="1.0" opacity="0.50"/><path d="M7 16h0m86 11l-5-6m-85 8l-6 0m3-4l-1 7m164 3l-5 3m5 22h0m-128 22l-4 8m108 6l-3 6m-3-3l10 1m-63 6l-9 4m9-1l-8-3m8 6l-6-7m1 8l2-10m78 14l-5 1m-125 23h0" stroke="#9272da" stroke-width="2.0" opacity="0.50"/><path d="M90 23h0m-91 6h0m160 9h0m-22 61h0m-61 9h0" stroke="#9272da" stroke-width="4.0" opacity="0.50"/><path d="M-1 72h0" stroke="#8058d2" stroke-width="3.0" opacity="0.25"/><path d="M-2 68l2 8m3-5l-9 3m8 1l-4-6" stroke="#8058d2" stroke-width="1.0" opacity="0.25"/><path d="M1 69l-4 6" stroke="#8058d2" stroke-width="2.0" opacity="0.25"/><path d="M161 109h0m3 26h0" stroke="#9272da" stroke-width="3.0" opacity="0.25"/><path d="M160 113l2-6m1 4l-4-4m6 1l-8 2m7 21l-1 7m3-1l-4-4" stroke="#9272da" stroke-width="1.0" opacity="0.25"/><path d="M34 4h0m127 1h0m18 74h0m-8 10h0m-129 7h0" stroke="#6a2ac0" stroke-width="3.0" opacity="0.75"/><path d="M158 4l6 1m-5-3l3 5m-82 16h0m34 8h0m25 42h0m35 15l-5 3m-67 10h0" stroke="#6a2ac0" stroke-width="2.0" opacity="0.75"/><path d="M34 3l-1 5m3-3l-6-2m7-1l-7 5m134-4l-4 3m-125 2l-3-5m50 17l-3 5m36 4l-2 3m-31-7l-4-2m35 10l0-4m2 5l-2-4m3 1l-5 1m29 40l-3 2m3-1l-3 0m3 0l-2-2m1 1l0 4m39 6l1-6m1 2l-4 1m5 3l-3-5m-5 16l-4-5m-123 7l-6 1m4-2l-5 4m4 1l-1-6m4 4l-6-3m62 5l1 3m0-2l-1 3m2-2l-3 0" stroke="#6a2ac0" stroke-width="1.0" opacity="0.75"/><path d="M45 21h0m13 25h0m73 54h0m-36 31h0m-36 2l-2 7" stroke="#7d38c9" stroke-width="2.0" opacity="0.75"/><path d="M45 19l0 4m1-4l-2 4m3-2l-5 0m5 2l-3-4m32 9l-4 6m0-6l3 7m2-3l-7-1m-11 14l-3 4m3-3l-4 0m4 2l-2-2m75 24l-2 5m-44-3l-3 5m3-1l-4-6m5 5l-4-3m5 1l-5 1m46-2l5 2m-118 5l-6 1m3-2l-2 5m2-2l-3-4m122 24l-3-2m4 1l-5 1m3 1l0-3m-36 30l0 3m2-2l-4 2m5-1l-4-1m-35 6l-5-1" stroke="#7d38c9" stroke-width="1.0" opacity="0.75"/><path d="M104-1h0m79 57h0m-165 28h0m169 44l-4-3" stroke="#6a2ac0" stroke-width="2.0" opacity="1.00"/><path d="M103-3l1 5m2-5l-4 4m5-1l-4 0m2 1l-3-4m71 47l-2 7m13 2l-2 6m-8-10l-6 0m17 5l-5 2m5 2l-4-4m-162 29l-3 4m2-1l1-5m0 4l-3-2m5 2l-5-2m169 40l-2 5" stroke="#6a2ac0" stroke-width="1.0" opacity="1.00"/><path d="M74 32h0m57 40h0m-46 2h0m-73 6h0m46 56h0" stroke="#7d38c9" stroke-width="3.0" opacity="0.75"/><path d="M9 40h0m174 76h0" stroke="#7d38c9" stroke-width="2.0" opacity="1.00"/><path d="M8 40l3 1m-2-3l-1 3m175 72l0 5m2-2l-3 0" stroke="#7d38c9" stroke-width="1.0" opacity="1.00"/><path d="M171 49h0m13 77h0" stroke="#6a2ac0" stroke-width="3.0" opacity="1.00"/></g></g>
<rect x="353.90" y="589.90" width="93.10" height="70.00" fill="#fcfafd"/><g transform="translate(353.90 589.90) scale(0.500)"><g clip-path="url(#mc206)" stroke-linecap="round" fill="none"><path d="M23-1h0m13-1h0m147 5h0m-12 1h0m-39 0h0m-18-2h0m-10 0h0m-1 2h0m-72-3h0m-4 5h0m14 5h0m27 0h0m14-2h0m9-2h0m17 3h0m57-1h0m16 4h0m-140 0h0m84 9h0m56-1h0m-10 7h0m-37 1h0m-68-4h0m-2 1h0m-54 1h0m8 3h0m36 1h0m3-1h0m19 1h0m17 3h0m1 0h0m49 1h0m7-5h0m-26 11h0m-2-2h0m-21 0h0m-28-3h0m-73 6h0m19 2h0m29-2h0m22 5h0m6-1h0m63 4h0m-8-1h0m-9 0h0m-67 4h0m-7 0h0m-24 5h0m101-2h0m11-2h0m39 3h0m-8 7h0m-70-2h0m-31 2h0m-1 0h0m-2-2h0m-29 0h0m-10 7h0m62-2h0m62-1h0m10 3h0m15 1h0m2-1h0m2 1h0m-6 3h0m-5 1h0m-4-1h0m-82 3h0m-64-2h0m38 8h0m17-2h0m50-2h0m34 1h0m-26 7h0m-50 0h0m-2 1h0m-13-2h0m-4-1h0m-6 6h0m3 2h0m23 2h0m16-1h0m23-3h0m9 2h0m38 1h0m-35 7h0m-10-1h0m-19-3h0m-10 1h0m-61 0h0m-4 0h0m-1 2h0m-15-2h0m52 8h0m21-3h0m4 0h0m21 5h0m34 0h0m1 0h0m33-4h0m4 6h0m-151 0h0m-5 0h0m-23 9h0m32 1h0m45-1h0m11-3h0m16 2h0m30-1h0m26 3h0m3-2h0m-9 5h0m-96 0h0m-6 2h0m-18-1h0m-27 2h0m-2-1h0m27 5h0m24-1h0m13 2h0m47-1h0m68 6h0m-87-1h0m-68 6h0m20 1h0m105-1h0" stroke="#7a50c8" stroke-width="2.0" opacity="0.50"/><path d="M6 1h0m146 6h0m-26 0h0m-95 5h0m131 0h0m-131 6h0m-6 2h0m127 14h0m24 6h0m-65 9h0m-14 5h0m-35 0h0m94 8h0m27 6h0m-155-2h0m19 8h0m13 1h0m12 0h0m3 8h0m-57-4h0m68 16h0m10 0h0m79 0h0m-72 6h0m18 22h0m49-2h0m-16 10h0m-17 5h0m1-4h0m-66 7h0m-22 0h0" stroke="#7a50c8" stroke-width="2.0" opacity="0.25"/><path d="M159 4h0m21 21h0m-4 23h0m3 22h0m-142-4h0m131 15h0m-59 8h0m-22 2h0" stroke="#7a50c8" stroke-width="1.0" opacity="0.75"/><path d="M64-2h0m3 0h0m91 0h0m-8 3h0m-10 1h0m-21 1h0m-86-2h0m-17 6h0m23-1h0m19 0h0m39 4h0m30-4h0m5 1h0m10 0h0m29 3h0m9-4h0m-20 7h0m-139 10h0m37-1h0m25 1h0m65-2h0m-23 6h0m-6-1h0m-100 5h0m38 3h0m7-3h0m102 0h0m-54 8h0m-35-1h0m0 3h0m-2-2h0m-73 0h0m-2-3h0m160 7h0m18 0h0m-17 5h0m-48 0h0m-101 9h0m79-3h0m92 10h0m-118-1h0m-9 1h0m-1 1h0m-18 0h0m-3 0h0m-4-3h0m-20 2h0m167 2h0m-177 8h0m70 4h0m35 1h0m29-1h0m7 4h0m3 0h0m25-3h0m13 1h0m-57 8h0m-33-4h0m-39 2h0m-34 5h0m30 2h0m1 2h0m63-3h0m23 2h0m17-3h0m25 1h0m-92 6h0m-80 2h0m-1-3h0m13 6h0m2 2h0m11-2h0m18 3h0m135 1h0m-26 4h0m-10-2h0m-15 1h0m-3 0h0m-22 1h0m-78 6h0m13-2h0m78 0h0m29 4h0m30 4h0m-86 2h0m-89-4h0m64 9h0m115 2h0m-52 2h0m-17 3h0m-6-5h0m-43 0h0m8 6h0m13 2h0m18-1h0m39 1h0m29-1h0m1 1h0m10 0h0" stroke="#7a50c8" stroke-width="1.0" opacity="0.50"/><path d="M162 0h0m-55 6h0m-108 29h0m42-2h0m48 7h0m55 7h0m-55 6h0m37 8h0m-27 18h0m3 29h0m38 8h0m25 5h0m20 13h0" stroke="#7a50c8" stroke-width="2.0" opacity="0.75"/><path d="M3 1h0m34 0h0m105-1h0m4 3h0m-125 10h0m127 10h0m-65 10h0m-52 11h0m124 14h0m-121-1h0m107 6h0m-134 8h0m4 11h0m154 2h0m-113 4h0m-4-3h0m77 5h0m-12 6h0m64 17h0m-41 8h0m-47 15h0m86 1h0m-102 1h0" stroke="#7a50c8" stroke-width="1.0" opacity="0.25"/><path d="M57 48h0m-46 29h0m146 8h0m-7 11h0m-72 2h0m-46 8h0m155 5h0m-154-2h0m95 19h0m17 1h0m4 3h0m-92 3h0m-26 2h0m77 4h0" stroke="#8058d2" stroke-width="4.0" opacity="0.50"/><path d="M157-4l2 7m3-5l-5 0m5 2l-7-3m-65 7l-6 1m67 4l0 5m4-5l-5 4m5-2l-9 2m-57 10l-5 5m2-5l3 4m-9-8h0m-24 5l-6 6m10 19l-8-1m5 4l-1-9m122 23l-5-6m8 7l-4 4m2 6h0m-39-1l-7 4m-118-4l-6 1m-2-3l6 5m4 4l-1-5m3 3l-6-3m7 1l-9 2m16-3h0m97 1h0m-61 9h0m43 5h0m10-3l-6 6m7-3l-8-1m-8 4l-2 6m-2-6l5 5m-20-3l-10 0m-44 6l7 3m-3-1l2 7m-2-10l0 6m2-7l-3 7m4-3l-3 6m4-7l-7 2m50-1l3 6m40-10h0m32 4l-7 5m43-1l-5 2m-33 0l-4-5m-112 1l-7 2m17 5h0m141 2l0-9m-40 17l-4 8m-89-2l5 7m80-12h0m10 0l-8 6m-108 1l-4 6m-29 2h0m35-1l-6 2m54-4h0m29 1l-7 4" stroke="#8058d2" stroke-width="2.0" opacity="0.50"/><path d="M159-4l-2 5m-71 2l2 3m-51 11l-2 7m103-7l-5 0m22-3l-7-5m-12 11l0-4m-56 2l0 4m-2-3l3 2m-42-3l-6 3m6 2l-6-6m6 12l1-5m2 4l-5-3m8 1l-9 1m15-2l3 7m31-7l8-1m-52 6l-2-5m-5 21l-1 7m3-6l-7 4m1-3l6 2m140 10l-3 8m7-7l-8 3m9 6l-5-1m0-3l-2-8m-164 15l1 10m6-8l-5 2m6 0l-7-3m17 3l-2 5m61-6l1 6m35-5l1 5m1-5l-2 4m14-5l1 5m21-7l0 7m3-5l-6 3m24-6l-2-7m2 10l-3 2m3 0l-3-2m2 3l-2-4m0 5l2-5m-17 4l-5-3m3 6l-8 6m-12-9l-7-1m6 4l-4 6m-11-9l-3 1m1-1l3 2m-35 0l-5-1m4-2l-4 5m-57-4l-3-2m-8 1l-4-6m2 6l1-7m-1 12l5-6m41 8l4 5m-1-4l-3 4m73-3l6 0m-4-2l3 4m17-2l1-5m2 4l-6-3m-45 11l-5 0m4-4l-1 6m-18-4l0 5m-3-4l6 2m-39-2l0 6m3-2l-6 0m52 0l-3 5m6-2l-8-2m17-1l0-7m2 6l-5-7m15 12l-4 2m26-5l6-4m-3 4l0-6m3 5l-7-5m10 5l-9-2m-3 10l-6 3m2-3l3 3m-20-5l-3-2m2 3l-1-4m1 4l1-4m-3 6l-7 0m6-4l-2 8m-5-4l-3 6m-26-5l-5 6m3-6l0 7m-2-12l-3-9m-31 20l2 5m35-9l-4 1m34-2l-5-2m5 3l-3-5m82 8l-9-1m-135 3l-3 3m3-2l-3-1m81 11l5 6m7-7l3 3m-1-3l-2 4m3-3l-4 1m15 5l-7 4m4-4l-8-4m-10-1l-4 4m-60 1l-5 0m4-2l-3 6m-4-4l-2 5m-46-5l1 7m-5-4l8-1m28 2l-4 3m43-1l4 2m62-7l-5-7m7 12l-1-8m3 5l-6-6m32 9l-1 7m3-2l-5-3m-61 4l-8-4m-6 3l-6 0m1-3l2 6m-12-7l-3 2m-36-2l-6-4m2 4l0-5m-6 9l-4-3m3-1l-3 5m2 0l-1-4m0 2l-3-9m-28 8l-3 3m3-1l-4-2m4 3l-2-4m1 1l-1 4m109 0l1-6m0 7l-2-6" stroke="#8058d2" stroke-width="1.0" opacity="0.50"/><path d="M30 5l5-4m-2 4l-7 3m87-6l-1-9m4 7l-6-3m46 9h0m-110 1l-2 9m-18-10l8 3m12 5l-7-2m111 3l-5 2m2 2l0-7m-77 7h0m-13-1l-6 5m5 0l-7-3m-1 4h0m88 5l-6-1m21 4l-5 4m0-3l5 4m-15-7l-6-3m2 6l0-9m-68 7h0m106 5l3 7m2-6l-9 5m8 1l-6-6m-31 10l-7 6m-118-11l-7-5m89 20h0m12-3l-7-2m39 5l-7 5m5-1l-4-5m-95 12h0m37 4h0m-35 7h0m93 1h0m23 4l-5 7m1-4l-5 0m-137 7l2 5m39-5l3 3m28-5l-5 3m12-3h0m10 5h0m19 8l6 7m-1-7l-5 4m-51-1l-6 4m0-4l4 7m36 1h0m40 8l-6 5m4-1l-4-6m30 13l-6 7m-115-1l-5-3m7 0l-9 1m130 0l-6-1" stroke="#9272da" stroke-width="2.0" opacity="0.50"/><path d="M115-3l-6 4m50 4l-6 2m4-2l-1 3m-45-7l2-6m-76 9l-9-1m1 1l1 5m1-2l1-10m2 10l-6-6m21 10l-7 3m56-3l7 4m-5-6l1 4m0-2l0 4m1-5l-4 5m32-8l7 2m-2-3l0 5m3-5l-5 4m24-2l-2-3m-4 12l-7-1m-92 0l2 9m-5-2l-4 3m23-5l2-3m0 3l0-4m1 4l-2-2m3 0l-4 0m81-1l-5-5m41 14l-6-2m4 0l-3 3m3 0l-2-3m1-1l-3 5m-113 0l-4 3m1-4l1 4m-14-7l-5-3m3 5l0-4m-3 4l-2 5m3-1l-4-5m7 4l-8-2m21 2l4 2m63-1l6-4m37 11l-3 5m-157-5l-5 3m2 3l1-6m122 7l4 7m51-6l0 7m2-5l-3 5m3-2l-6 0m2-3l4 4m-86-3l0 6m-70-4l-5 3m-27 5l2 6m0-6l-1 5m30-8l-2-7m55 8l-4 1m13 1l1-4m1 2l-4 1m4 1l-3-3m50 1l-5 4m5 0l-7-6m-52 5l-4-3m3 4l-2-6m0 6l2-5m-13 8l-4 6m-62-10l-5 4m0-4l6 2m30 8l4-3m-2 3l1-6m1 4l-3-1m3 2l-3-2m35 0l-5-1m6 4l3 4m2-3l-5 2m-32 4l-2 3m1-4l0 4m2 0l-4-2m94 1l3 2m-2-3l0 4m2-3l-5 2m5-1l-3-1m8 2l2 7m1-6l-5 5m7-4l-6 1m18 5l-6-6m-4 6l5-4m-8 1l-5-5m-126 13l-3 5m43-6l-1 4m3-3l-5 2m20-5l-2 5m2-4l-4 3m5-2l-4 0m4 2l-4-4m9-1l4 5m-1-5l1 5m2-2l-6 1m13 1l-1-5m2 0l-1 5m2-3l-5 1m6 0l-6-2m13 4l1 5m1-5l-3 4m17-4l0-4m2-1l-5 4m5-1l-6-2m38 1l-1-8m4 6l-5-5m-11 13l-6 2m5-1l-4-2m1 4l4-5m-34 3l-4-3m-44 0l-6-3m-35 3l-5 4m1-3l6 1m87 7l-3 4m5-2l-5-1m22-2l-3 8m6-5l-6 0m16-5l-2-5m-29 13l-3-5m-1 11l4 1m-1-2l-2 4m9 6l1 8m1-5l-4 5m6-4l-8 2m33-2l0-7m4 6l-7-4m-24 9l-3-7m-66 11l-4 6m2-8l2 9m122-5l-3-5" stroke="#9272da" stroke-width="1.0" opacity="0.50"/><path d="M158-2h0m-71 7h0m64 6h0m-15 6h0m-100 2h0m52 6h0m-36 3h0m-12-1h0m-7 22h0m142 14h0m4 7h0m-164 6h0m2 4h0m70 0h0m50-2h0m22 0h0m-22 9h0m-49 7h0m25-1h0m-13 6h0m-48-2h0m65 9h0m24 0h0m9 3h0m-39-1h0m-30 2h0m-18 21h0m-22 5h0m-31-2h0m22 7h0m62 1h0m82-2h0" stroke="#8058d2" stroke-width="3.0" opacity="0.50"/><path d="M62 29h0m22-4h0m-30 6h0m14 37h0" stroke="#8058d2" stroke-width="4.0" opacity="0.25"/><path d="M88 22l-6 5m-19 0l-3 5m-2-5l9 3m-17 1l8 0m69 57l-6-5m44 40l5 2m-1-4h0m0 0l-1 6" stroke="#8058d2" stroke-width="2.0" opacity="0.25"/><path d="M112-2h0m23 11h0m-34 3h0m46 4h0m34 10h0m-49 2h0m-87 1h0m-36 11h0m178 11h0m-53-2h0m-31 4h0m-72 0h0m51 5h0m-80 3h0m66 6h0m79 20h0m-7-3h0m-89 11h0m17-2h0m10 0h0m36-1h0m18 7h0m-121-2h0m89 10h0m-38 4h0" stroke="#9272da" stroke-width="3.0" opacity="0.50"/><path d="M124 86h0m44 38h0" stroke="#8058d2" stroke-width="3.0" opacity="0.25"/><path d="M52 27l3 7m0-7l-2 7m33-4l-2-7m-28 7l-7 4m19 29l0 10m5-5l-9 1m1-3l6 4m54 14l-3 6m48 28l-2 5m2 0l-4-4" stroke="#8058d2" stroke-width="1.0" opacity="0.25"/><path d="M32 4h0m-3 3h0m15 6h0m9 9h0m95 12h0m23 5h0m-36 20h0m6-1h0m12 28h0m-34 21h0m18 19h0m-29 4h0m-68 9h0m122-1h0" stroke="#9272da" stroke-width="4.0" opacity="0.50"/><path d="M161 31h0m-28 63h0m-102 36h0m2 1h0" stroke="#9272da" stroke-width="3.0" opacity="0.25"/><path d="M158 27l5 5m1-1l-6-1m-26 59l2 8m3-3l-8 0m6-2l-6 5m-61-7l-9 5m3-5l3 7m-34 32l5 5m-1-6l-5 6" stroke="#9272da" stroke-width="1.0" opacity="0.25"/><path d="M163 27l-3 6m-127 93l-2 6m2-3l-5 3m3-5l2 7m-5-5l8 2" stroke="#9272da" stroke-width="2.0" opacity="0.25"/><path d="M63 93h0" stroke="#9272da" stroke-width="4.0" opacity="0.25"/><path d="M3 4h0m175 3h0m-52 1h0m-10 5h0m-4 26h0m-30 9h0m66 1h0m-123 19h0m-21 4h0m55 7h0m123 13h0m-24 21h0m-63 16h0m-67 12h0" stroke="#7d38c9" stroke-width="3.0" opacity="0.75"/><path d="M0-1l5 7m2-1l-7-3m4-1l-4 6m128 3l-4-4m53 5l2-7m1 7l-3-8m5 5l-7-2m-62 6l-4 5m4-1l-6-3m-19 3l-5-1m4 0l-3 2m2-4l-1 6m0-5l1 3m-54-5l-3 2m3 1l-2-6m117 13l0-4m1 1l-3 1m3 1l-2-3m3 2l-4-1m27 3l-3 4m4-2l-4-1m-58 14l2 4m2-5l-6 4m70 7l-6-1m5-1l-4 3m3-4l-2 5m0-4l2 3m-93-1l-4 2m0 1l4-6m-1 6l-3-5m6 4l-7-2m73 1l-7 2m-118 15l-3 4m-20 0l0 6m23-6l-4-3m6 2l-8 0m44-2l3 5m1-4l-3 2m120 8l-3 5m-125-5l1 5m-53-10l-6-1m49 7l-2 3m3-1l-4-2m4 4l-3-4m9 4l2-2m1 0l-5 2m5 0l-3-3m5 0l-5 0m130 1l-2-4m4 3l-5-1m-3 11l4 4m-137-7l-5-1m4 0l-3 3m3-1l-3-4m-28 10l2 4m2-3l-4 1m169-5l-4 3m-21 18l-3 5m5-2l-5-2m-110 9l-3 3m3 2l-2-3m53 6l-5 2m68-4l0 4m2-4l-3 3m3-1l-3-1m-65 5l2-7m-69 17l0-7m4 7l-5-4m6 2l-7 0m1 4l3-8" stroke="#7d38c9" stroke-width="1.0" opacity="0.75"/><path d="M5 2l-5 2m128 2l-4 4m-4 1l-7 3m3-6l-1 7m-1-4l4 4m-87-2h0m55 3h0m25-1h0m60 8h0m-24-3h0m-34 15l-2 6m4-2l-9-1m43 7l-1 9m28-7h0m-26 5l-3-5m-122 23l1-6m41 4h0m118 11h0m-128 1h0m-9 0h0m-3 6h0m-29 9h0m28 28h0m116 5h0m-62 3l-6-3" stroke="#7d38c9" stroke-width="2.0" opacity="0.75"/><path d="M43 9h0m-40 8h0m32 17h0m122 16h0m-28 2h0m44 25h0m-166 20l-2 6m134 16l6 4m23 15h0m-75 2h0" stroke="#7d38c9" stroke-width="2.0" opacity="1.00"/><path d="M44 7l-1 4m1-1l-2-3m3 2l-3 0m4-2l-4 3m-15 6l-7 3m-15-4l-3 5m-1-4l4 2m20 2l-2-4m14 16l-2 3m2-1l-4-1m3-2l-1 4m1 1l-2-3m125 17l-4 1m4 1l-4-3m3-1l-1 4m-26-1l-3 1m2 1l-3-2m2-2l0 5m16 17l-4 1m34 4l-5 2m3-2l-2 3m-27-3l-3-7m33 11l-3-5m4 3l-5-2m-168 23l9 3m132 16l0 5m1-4l-4 6m7-4l-8 0m-83 10l-6 2m120 2l-4 5m0-5l2 5m-111-7l-6-4m4 5l-2-5m0 5l2-5m39 10l-3 2m3 1l-2-5m77 2l-5-3m6 2l-4 0" stroke="#7d38c9" stroke-width="1.0" opacity="1.00"/><path d="M140 30h0m-140 16h0m180 41h0m-34 19h0m-30-3h0m-15 11h0m-15 15h0" stroke="#6e3ac9" stroke-width="3.0" opacity="0.75"/><path d="M14 11l0 4m-1-2l3 1m127 15l-4 1m2 2l-3-5m0 4l3-4m-102 5l-4 4m4-2l-4 0m3 1l-4-3m3 0l-1 5m1 7l2 3m-1-3l-2 3m5-1l-6-1m132 14l-5 2m-33-2l-4 4m4 0l-3-3m42 2l-4-5m-128 16l-4 3m3 0l-3-2m3 3l-2-4m1-1l0 5m147 6l-2 8m4-6l-7 5m1-4l7 4m-69 14l2-3m-15 9l-1 5m-3-2l5 2m-22 15l7-1m-3-2l2 4m0-3l-3 5m-57 1l-4 2m2-3l-2 4m0-3l3 1m-3-2l2 4m28 2l-3 3m3-1l-3-3m3 4l-1-4m2 2l-3 0" stroke="#6e3ac9" stroke-width="1.0" opacity="0.75"/><path d="M173 12h0m-126 25h0m134 21h0" stroke="#6e3ac9" stroke-width="3.0" opacity="1.00"/><path d="M1 30h0m44 4l4 7m-1-7l-2 6m3-4l-6 2m140 19l-5 2m-106 75l-5 1m2 0h0" stroke="#6e3ac9" stroke-width="2.0" opacity="1.00"/><path d="M11 10h0m148 1l0 8m-102 31h0m87 30l-1 4m2-1l-2-4m25 11h0m-44 30l6 2m-39 17h0" stroke="#6a2ac0" stroke-width="2.0" opacity="1.00"/><path d="M12 8l-1 4m1-1l-2-3m3 0l-4 5m5-4l-4 1m151 1l-5 5m1-3l5 1m-160 3l-6 1m5-3l-4 4m2 1l0-5m2 4l-3-3m33 13l-4 4m3-7l-1 9m-2-8l5 5m1-2l-5 0m30 20l-3 1m3 0l-3-3m-33 30l-2 3m2 0l-3-3m5 2l-6 0m128 1l-7-1m30 8l-1 6m1-5l-3 2m-14 2l-3 7m20-8l-1-6m3 5l-6-2m-12 8l-6 0m6 3l-5-6m2 6l0-5m-25 23l2 5m2-4l-4 2m10 3l-3 5m0-4l3 3m1-2l-6 1m-105 9l-2 5m-1-2l6-1m63 3l0-5m2 2l-3 2m3-1l-4 1m4 1l-3-2" stroke="#6a2ac0" stroke-width="1.0" opacity="1.00"/><path d="M121 4h0m-58 60h0m31 3h0m2 41l-7-2m-12 2h0" stroke="#6a2ac0" stroke-width="2.0" opacity="0.75"/><path d="M118 3l6 2m-3-4l-1 5m13 11l-2 6m-8-7l-7 0m6-1l-5 3m-107-2l-4 0m4 0l-7-2m5 0l-3 5m4 1l-2-6m111 5l2-4m1 4l-3-6m16 9l-2-5m3 1l-4 3m4 0l-6-2m16 44l-4 4m-45-2l-3 3m-28-7l-4 4m3 1l-2-5m32 7l1-3m0 3l-2-4m3 3l-3-1m47 5l-6 1m11-4l-4-2m-2 6l-6-2m5 4l-2-7m0 8l3-7m-100 18l-3 4m3-1l-2-4m4 3l-5 0m60 17l-4 3m0-5l3 6m-17 2l-1-4m2 1l-3 0" stroke="#6a2ac0" stroke-width="1.0" opacity="0.75"/><path d="M14 13h0m23 21h0m-39 9l4 5m0-3l-6 2m42-2h0m128 15h0m-39 1h0m-93 14h0m115 30l-8 2m6-5l-2 5m-26-4l-5 1m4 2l-3-6m-11 11l-4 4m46-5l0-9m3 7l-6-7m-119 34h0m28 5h0" stroke="#6e3ac9" stroke-width="2.0" opacity="0.75"/><path d="M-1 17h0m160-3h0m-129 16h0m-9 50h0m123 1h0m6 16h0m-24 24h0m7 5h0m-109 13h0" stroke="#6a2ac0" stroke-width="3.0" opacity="1.00"/><path d="M7 16h0m112 0h0m13 4h0m5 51h0m6-5h0m-105 21h0m55 20h0" stroke="#6a2ac0" stroke-width="3.0" opacity="0.75"/><path d="M172 10l2 4m0-5l-2 7m2-4l-5-2m-167 17l-1 5m3-2l-4-1m3 4l-3-5m183 30l-4-2m2 5l0-5m-112 77l-1 4m2-3l-3 3m5 0l-4-2" stroke="#6e3ac9" stroke-width="1.0" opacity="1.00"/><path d="M138 6h0m-64 18h0m105 36h0m-9 40h0m-33 0h0m-120 9h0m160 33h0" stroke="#5b2bc0" stroke-width="3.0" opacity="0.75"/><path d="M138 10l-1-7m4 4l-6-3m-126 19l0 4m-3-4l-5 2m2-4l3 5m0-2l5 1m66-1l-7 0m108 35l5 4m-5-6l2 5m-29 3l2-3m0 2l-3 1m33-5l-5 0m-26 6l-2-3m-132 10l4 1m-2-2l-1 3m120 23l-6 3m4-4l-1 5m-1-3l6 1m-6-2l4 3m-17-3l-4 0m4 2l-4-3m3-1l-2 4m2-3l-2 3m-100 6l-5 7m7-6l-7 2m102-3l-1 5m55-8l1-6m2 5l-6-2m-49 8l-4 0m3 1l-4-2m3 3l-1-4m-95 5l-6-3m3 3l-2-6m114 14l2-3m1 1l-5 2m5 1l-3-4m-112 14l-5 3m122-3l1 6m2-5l-6 3m-116-1l-4-3m3 5l1-6m163 16l-2-8" stroke="#5b2bc0" stroke-width="1.0" opacity="0.75"/><path d="M41 15h0m-41 30h0m38 57h0m39 3h0m-62 16h0m-3 9h0" stroke="#5b2bc0" stroke-width="3.0" opacity="1.00"/><path d="M43 16l-5-4m6 1l-6 4m31 6l-4 3m-24-8l0-6m26 15l-1-4m3 4l-3-3m5 1l-6 0m-65 16l-1 8m-3-4l7-1m6 3l1 5m2-5l-4 2m14 25l-4 1m3 2l-3-5m19 32l1-4m1 4l-3-4m43 3l-4 4m5-1l-4-2m-61 13l0 7m3-3l-7 0m3 8l-5 4m5-3l-4 1m1-4l2 6m0-1l-4-5" stroke="#5b2bc0" stroke-width="1.0" opacity="1.00"/><path d="M140 5l-6 3m6 0l-6-5m-130 21h0m5 1h0m64 2l4-7m0 8l-5-7m110 36l-5 5m-26 2h0m-131 9h0m100 25h0m52 1l-5 4m-51 5h0m14 10h0m48 19l-2 8m-42-13h0m-120 0h0m167 9l-7 1m6 2l-5-3" stroke="#5b2bc0" stroke-width="2.0" opacity="0.75"/><path d="M24 18h0m118 54h0m-136 28h0m137 21h0m-89 11h0" stroke="#7d38c9" stroke-width="3.0" opacity="1.00"/><path d="M67 25h0m-58 23h0m11 27h0m20 25l-4 5m4-2l-4 0" stroke="#5b2bc0" stroke-width="2.0" opacity="1.00"/></g></g>
<rect x="258.40" y="662.80" width="92.00" height="70.20" fill="#fbf9fd"/><g transform="translate(258.40 662.80) scale(0.500)"><g clip-path="url(#mc207)" stroke-linecap="round" fill="none"><path d="M0-1h0m28-1h0m86 1h0m45 0h0m4-1h0m5 3h0m-22 4h0m-16-2h0m-30-3h0m-25 5h0m-12-5h0m-13 5h0m-17-2h0m-16-3h0m-12 6h0m17 2h0m58-2h0m41 3h0m25 1h0m26 3h0m-57 0h0m-5 3h0m-17-3h0m0 0h0m-2 3h0m-45-2h0m-17 3h0m-12-4h0m16 5h0m36 2h0m16 2h0m93 2h0m-5 3h0m-3-3h0m-28 1h0m-4 4h0m-6 0h0m-4-3h0m-64 1h0m-36-1h0m-3-2h0m-16 4h0m11 2h0m29 2h0m2 2h0m11 1h0m6-1h0m2 0h0m28-1h0m15-1h0m2 2h0m12-1h0m2-3h0m17 5h0m20-5h0m8 1h0m4 3h0m2 0h0m2 2h0m-18 0h0m-23 4h0m-1 0h0m-1 0h0m-15-2h0m-38 1h0m-2-3h0m-22 0h0m-23 0h0m-36 4h0m24 6h0m45-1h0m20 0h0m2 1h0m15 1h0m12 0h0m18-2h0m19-1h0m16 3h0m-28 3h0m-33-1h0m-8 4h0m-56-2h0m-22 1h0m-3 0h0m-25 4h0m15 0h0m17 3h0m10-5h0m50 5h0m1-5h0m2 0h0m10 1h0m8 1h0m17 1h0m6-3h0m6 2h0m11-2h0m12 4h0m16 1h0m-19 1h0m-19 2h0m-58-1h0m-24 0h0m-2-1h0m-13 3h0m-11-1h0m-13-1h0m-6 1h0m-10-1h0m-4 3h0m7 2h0m39 1h0m10-1h0m3 4h0m29-1h0m18-1h0m1 1h0m1-3h0m11 4h0m1-2h0m11-2h0m38 5h0m-4 5h0m-25 1h0m-18 0h0m-10 0h0m-91-3h0m-17 0h0m0 8h0m20-3h0m82 4h0m6-2h0m8 0h0m2 2h0m33-2h0m8-3h0m2 0h0m1 2h0m14 1h0m-17 4h0m-28 0h0m-4 1h0m-5 0h0m-8 3h0m-4 0h0m-20-3h0m-21 1h0m-8-1h0m-24 0h0m-4-2h0m-32 4h0m-2-1h0m1 5h0m28 2h0m18-3h0m0 2h0m11 1h0m8 0h0m23 1h0m72-3h0m6 3h0m11 3h0m-17-1h0m-57 2h0m-18 1h0m-25-3h0m-13 2h0m-9 0h0m-5-3h0m-15 5h0m-16 4h0m23-2h0m46 2h0m0 0h0m7-1h0m32-1h0m7 4h0m52-4h0m10 4h0m-5 4h0m-48 0h0m-24 0h0m-27-1h0m0 2h0m-14-3h0m-6-1h0m-17 1h0m-3 2h0m-1 1h0m-14 0h0m-12-1h0m-12 0h0m11 4h0m1 3h0m16-3h0m26-1h0m6 4h0m3 0h0m16-4h0m13 5h0m19-5h0m1 2h0m59 3h0m12-5h0m-5 9h0m-64 2h0m-17-1h0m-43-2h0m-36-1h0m-1 4h0m-6 0h0m-6 5h0m3-4h0m26 5h0m2 0h0m8-4h0m34 1h0m93 3h0m10-5h0m-4 10h0m-6-4h0m-1 4h0m-11-3h0m-26 2h0m0 2h0m-1-1h0m-4 0h0m-3 0h0m-36-1h0m-24 0h0m-5 2h0m-1-4h0m-25 1h0m-31 1h0m-6 1h0m3 4h0m18-1h0m37 1h0m99 1h0m6 0h0m15-1h0" stroke="#7a50c8" stroke-width="2.0" opacity="0.50"/><path d="M-1-2h0m12 1h0m158 5h0m-85-3h0m-4 3h0m-25-3h0m-17 2h0m-5-2h0m-10 2h0m-24 6h0m33-3h0m2 0h0m19 2h0m2-2h0m33 4h0m39 0h0m9-4h0m1 3h0m6-2h0m8 4h0m0 5h0m-64 1h0m-54-5h0m-25 8h0m86 3h0m40-3h0m38 0h0m1 3h0m-86 3h0m-12 1h0m-5 0h0m-2-1h0m-7-2h0m95 7h0m0-1h0m16 6h0m-1 1h0m-4-1h0m-16 1h0m-26 3h0m-34-4h0m-66 0h0m-20 4h0m-6 1h0m12 2h0m21 2h0m75-2h0m7 1h0m10-2h0m34 4h0m5 0h0m-56 3h0m-43 0h0m-10 0h0m-18 3h0m-17-1h0m15 5h0m17 2h0m12 1h0m1-1h0m1 1h0m24-3h0m19 3h0m44 6h0m-8-4h0m-1-1h0m-1 0h0m-30 2h0m-16 0h0m-9-2h0m-4 1h0m-30 0h0m-10 3h0m-39 0h0m-3 1h0m26 3h0m21-2h0m55 4h0m2-4h0m0 3h0m77 8h0m-6-5h0m-129 2h0m-13 2h0m26 6h0m9 1h0m70-3h0m11 2h0m1 1h0m1-1h0m32 2h0m-14 4h0m-16 0h0m-11-2h0m-11 1h0m-15-2h0m-79 2h0m-24 0h0m-5-3h0m0 11h0m73-1h0m5 0h0m12 0h0m9 1h0m58-4h0m17-1h0m3 8h0m-56-1h0m-4 2h0m-59-1h0m-48 0h0m-4 6h0m51-2h0m6 0h0m3 4h0m8-2h0m26 2h0m9-1h0m5 2h0m5-1h0m3-4h0m4 1h0m9 0h0m-19 9h0m-49 1h0m-19-2h0m-17-2h0m-20 0h0m4 6h0m37-1h0m41 0h0m59 0h0m2 11h0m0-4h0m-53 4h0m-21-5h0m-31 2h0m-7 2h0m-24-2h0m-24 9h0m8-4h0m7 2h0m13-2h0m115-1h0m30 0h0m3 2h0m-59 5h0m-7 3h0m-16 1h0m-79 0h0m-19 4h0m6 0h0m82-1h0m99-1h0" stroke="#7a50c8" stroke-width="1.0" opacity="0.50"/><path d="M13 9h0m63-3h0m109 5h0m-185 1h0m9 11h0m175-5h0m-92 8h0m-84 4h0m8 3h0m90-1h0m30-1h0m-59 9h0m-61 4h0m8-1h0m100 4h0m2-1h0m39 2h0m-83 22h0m60-1h0m3 17h0m-32 2h0m-79 2h0m1 2h0m32 6h0m-45-1h0m21 12h0m92-1h0m43 14h0m-121 2h0m23 3h0m-50 6h0" stroke="#7a50c8" stroke-width="2.0" opacity="0.75"/><path d="M-1-1h0m176 9h0m-150 5h0m39 4h0m33-3h0m8 4h0m-8 2h0m-30 8h0m74-1h0m3-1h0m-35 9h0m-55 3h0m22 9h0m-42-3h0m-28 14h0m11-1h0m88-1h0m-19 4h0m-85 18h0m47 3h0m49 2h0m72-1h0m-45 11h0m-46 0h0m59 8h0m15 18h0m-114 5h0m46-4h0m10 3h0m39 0h0m-52 4h0m-47 11h0" stroke="#7a50c8" stroke-width="1.0" opacity="0.25"/><path d="M132 1h0m25 25h0m-17 4h0m-4 9h0m-72-1h0m-20 1h0m22 6h0m72 0h0m-37 23h0m-78-1h0m21 11h0m113 29h0m-79 0h0m-43-1h0m-8 17h0m138-1h0m-1 16h0" stroke="#7a50c8" stroke-width="1.0" opacity="0.75"/><path d="M47-1h0m104-1h0m-37 3h0m-32 10h0m29-1h0m10-3h0m19 0h0m-15 5h0m-63 1h0m26 6h0m3 1h0m16 0h0m13-1h0m1 1h0m17 0h0m46-2h0m0 3h0m-60 8h0m-28-2h0m-97 5h0m98 0h0m38-1h0m28 3h0m-17 4h0m-79 9h0m65 4h0m-3-1h0m-67 0h0m-17 3h0m-9-1h0m-15-2h0m-15 2h0m14 4h0m71-1h0m11 3h0m83 3h0m-15-1h0m-8 3h0m-37-2h0m-71 2h0m-2 6h0m44 0h0m73 7h0m-121-3h0m-32 8h0m19 1h0m17-2h0m97 7h0m-81 2h0m-59-4h0m35 8h0m11 1h0m86 5h0m-45-2h0m-65-1h0m-15 9h0m72-1h0m59-2h0m12 5h0m19 3h0m-70 3h0m-2 0h0m-70-2h0m113 8h0m3-2h0m-27 7h0m-11 1h0m-19-5h0m-56 2h0m-10-1h0m135 10h0m-109 5h0m-36-4h0m-16 4h0m50 4h0" stroke="#7a50c8" stroke-width="2.0" opacity="0.25"/><path d="M123-2h0m47 27h0m-137 1h0m119 17h0m-40 15h0m-33 12h0m34 18l-2 5m-35 18h0m107 6h0m-1-3h0m-141 19h0" stroke="#8058d2" stroke-width="2.0" opacity="0.50"/><path d="M124-3l-3 3m4-2l-5 0m3 2l-1-3m18 17l3 5m-1-6l-1 6m2-4l-4 2m6 0l-6-3m30 9l3 5m-140-5l1 5m1-4l-3 3m3 0l-2-3m3 2l-5 0m138-1l4 0m0-1l-3 2m-16 15l-1 4m-78-6l-6-2m5 0l-4 3m3-4l-2 4m2 0l-1-5m82 10l-2-4m3 3l-4 0m35 15l-6 3m-66-6l-1 4m1-3l-2 3m1-3l1 3m-3-2l4 0m66 5l2-5m1 6l-3-5m6 2l-7 0m-96 9l-6 1m3 1l-1-4m37 22l-8 0m5 3l-3-7m-45 8l-2 7m-1-4l4 4m116 6l-4 6m2-6l1 4m-106-3l3 5m-2-5l0 5m2-2l-4 0m104-3l6 3m0-2l-5 1m7 4l-5-1m4 3l-3 2m3 1l-4-3m1 0l1-3m-1 7l2-5m-141 16l-3 3m1-3l2 3m0-1l-3-1" stroke="#8058d2" stroke-width="1.0" opacity="0.50"/><path d="M157 13h0m-27 52h0m-124 25h0m17 7h0m-1 14h0m32 17h0m88 8h0" stroke="#9272da" stroke-width="3.0" opacity="0.50"/><path d="M156 11l3 6m2-5l-7 2m4-2l-3 4m-70 44h0m46 7l-3-3m-69 17h0m14-3h0m-50 17l0 6m97 9h0m49 1h0m4-1h0m-77 9h0m45 14l1 7" stroke="#9272da" stroke-width="2.0" opacity="0.50"/><path d="M159 14l-6-4m-66 47l-2 4m0-2l0 3m2-1l-3-2m48 5l-5 3m-53 10l-3 2m-11 0l-3 4m3-2l-3-2m3 4l-2-4m14 0l2-4m0 5l-3-4m5 4l-5-3m-64 11l-2 3m1-3l1 4m0 1l-3-4m5 1l-7 0m24 9l-6-2m101 10l-1 5m53-5l0 5m1-3l-3 1m0 1l-6 0m6 1l-4-2m3-1l-2 5m1-5l-1 4m-46-4l-4 3m1-4l3 4m-5-1l4-1m-96 0l-6 2m4 1l-2-4m0 3l2-4m75 9l-4 2m4 0l-5 0m4 1l-2-4m1 4l1-3m-41 9l-4 4m4-2l-6 0m93 7l-4 1m1-1l3 2m-87-5l-4-6" stroke="#9272da" stroke-width="1.0" opacity="0.50"/><path d="M141 16h0m-69 22h0m110 23h0m-70 29h0m-48 8h0m116 11h0" stroke="#8058d2" stroke-width="3.0" opacity="0.50"/><path d="M73 76h0m-71 58h0" stroke="#7d38c9" stroke-width="3.0" opacity="0.75"/><path d="M4 39l-2-2m4 1l-5 2m2 2l1-5m72 38l-4 2m99-4l-1 3m1-1l-3-2m-92 5l-6-5m3 5l2-5m-72 62l-3-3m4 0l-4 5" stroke="#7d38c9" stroke-width="1.0" opacity="0.75"/><path d="M36 79h0" stroke="#7d38c9" stroke-width="3.0" opacity="1.00"/><path d="M38 77l-4 6m-1-5l7 3" stroke="#7d38c9" stroke-width="2.0" opacity="1.00"/><path d="M147 7h0m-110 73h0" stroke="#6a2ac0" stroke-width="3.0" opacity="1.00"/><path d="M145 5l4 5m-2-6l-1 4m3-3l-3 4m-1-2l4 0m-110 70l-4 4m6-2l-6 0m3 3l-2-6" stroke="#6a2ac0" stroke-width="1.0" opacity="1.00"/><path d="M25 86h0" stroke="#6a2ac0" stroke-width="3.0" opacity="0.75"/><path d="M22 83l4 4m1-4l-4 5m119 2l-2 5m2-2l-4 0m4 2l-3-6m-85 47l-5 1m5 2l-4-3m3 3l-2-4m-1 3l3-4" stroke="#6a2ac0" stroke-width="1.0" opacity="0.75"/><path d="M140 93h0m-89 44h0" stroke="#6a2ac0" stroke-width="2.0" opacity="0.75"/><path d="M4 39h0m166 36h0" stroke="#7d38c9" stroke-width="2.0" opacity="0.75"/></g></g>
<rect x="353.90" y="662.80" width="93.10" height="70.20" fill="#fbf9fd"/><g transform="translate(353.90 662.80) scale(0.500)"><g clip-path="url(#mc208)" stroke-linecap="round" fill="none"><path d="M113-1h0m58 5h0m-8 1h0m-49-1h0m-110-2h0m25 5h0m34 1h0m23 2h0m102-2h0m-54 6h0m-68 3h0m-7-2h0m-18 2h0m-12-5h0m-2 6h0m23 3h0m137 3h0m-127 5h0m-44-3h0m-11 4h0m18 3h0m92-3h0m73 6h0m-27 2h0m-18 3h0m-130 2h0m24 4h0m20-1h0m8 0h0m8-2h0m74-1h0m37 4h0m-163 6h0m-23-4h0m8 5h0m42 1h0m35 1h0m1 3h0m18-4h0m6 0h0m10 7h0m-21-2h0m-8 3h0m-15 1h0m-9-3h0m-55-1h0m-11 8h0m13 2h0m159 5h0m-33-1h0m-132 3h0m-6 1h0m30 5h0m1-5h0m3 4h0m69-1h0m4-2h0m9 3h0m15-2h0m14 1h0m21-2h0m7 2h0m1-1h0m10 8h0m-24 0h0m-16 0h0m-55 1h0m-15 0h0m-37-2h0m-36-3h0m27 11h0m9-1h0m118 1h0m-64 5h0m-4 1h0m-8-3h0m-55 0h0m-22 3h0m70 1h0m0 4h0m40 0h0m75 7h0m-2 0h0m-31 0h0m-19-5h0m-84 3h0m-38 2h0m-8 2h0m74 3h0m17 1h0m54-2h0m16 0h0m19-1h0m-38 8h0m-33 0h0m-2 1h0m-21-4h0m-41 1h0m-39 3h0m5 1h0m42 2h0m57 2h0m18-1h0m-41 3h0m-4 2h0m-30 3h0m-30 2h0m72 2h0m80-3h0" stroke="#7a50c8" stroke-width="1.0" opacity="0.50"/><path d="M15-1h0m33 0h0m9 0h0m88-1h0m10 4h0m-5 2h0m-4 0h0m-18 0h0m-32-2h0m-27-2h0m-47 1h0m-3 2h0m-3-3h0m-16 9h0m2 1h0m12 1h0m4-1h0m9-1h0m31 2h0m15-3h0m29-1h0m11 4h0m5-5h0m4 1h0m4 4h0m7-4h0m21 1h0m23 7h0m-27-3h0m-2 4h0m-42-2h0m-7 1h0m-2-3h0m0 3h0m-15-1h0m-47 2h0m-3 0h0m-3-1h0m-1 3h0m1 1h0m0 1h0m45 0h0m27 2h0m17 0h0m23 1h0m27-5h0m9 11h0m-34-4h0m-24-1h0m-26 4h0m-17 1h0m-17-3h0m-9 0h0m-13-2h0m-12 2h0m10 4h0m7 3h0m37 0h0m45-2h0m25 1h0m10 2h0m1-4h0m8 7h0m-4 1h0m-2 2h0m-8-1h0m-64 2h0m-43-3h0m-32 5h0m15-1h0m24 4h0m12-3h0m14 4h0m54-5h0m20 2h0m1-2h0m28 9h0m-10-2h0m-53 3h0m-14-3h0m-53-1h0m-5 2h0m-3-2h0m-2 2h0m-12-1h0m-12 3h0m-7-4h0m-12 11h0m1-3h0m28-1h0m5 4h0m20-3h0m36 3h0m12-2h0m0-3h0m34 4h0m29 4h0m-60-1h0m-7 3h0m-38-1h0m0 2h0m-19 0h0m-24 0h0m-1-3h0m-6-1h0m-8 5h0m25 1h0m42 1h0m10-2h0m12 1h0m35 4h0m60-4h0m-5 8h0m-8-2h0m-19 0h0m-10 2h0m-55 1h0m-9-4h0m-15 5h0m-60-2h0m37 7h0m8-4h0m1 5h0m49-1h0m3-4h0m18 4h0m6-2h0m2 3h0m12 0h0m2-3h0m12-1h0m10-1h0m2 3h0m2 2h0m3 3h0m-5 0h0m-19-1h0m-1 4h0m-5-1h0m-21-4h0m-46 0h0m0 2h0m-26 1h0m-35-2h0m-1 4h0m-9-1h0m-6-3h0m77 5h0m100 10h0m-12-1h0m-10-2h0m-5 1h0m-11 0h0m-54-2h0m-2 5h0m-31-4h0m-1 0h0m-27 2h0m-11 0h0m-4 4h0m16 2h0m6 0h0m0-1h0m22-1h0m9 0h0m12 0h0m31-1h0m35 3h0m16 0h0m-18 7h0m-17 0h0m-37-1h0m-51-3h0m-14 4h0m-18 6h0m38-2h0m40 2h0m41 1h0m19-2h0m19 0h0m10-2h0m-1 9h0m-14 1h0m-16-1h0m-16-3h0m-7-1h0m-47 2h0m-26 1h0m-6 1h0m-21 0h0m-5-4h0m23 9h0m10 2h0m4-5h0m65 0h0m4 1h0m1 2h0m41-1h0m25-1h0m-96 9h0m-76 6h0m22 0h0m36-2h0m0 2h0m25-4h0m55 2h0m5 2h0m11-2h0m2 2h0" stroke="#7a50c8" stroke-width="2.0" opacity="0.50"/><path d="M61 3h0m58 10h0m56 13h0m-58 11h0m-92 10h0m74 2h0m-69 5h0m96 2h0m-20 5h0m-45 0h0m-37 12h0m111 8h0m-29 12h0m81 20h0m-1 2h0m-131 7h0m-52 2h0m156 2h0m26 6h0m-179 8h0" stroke="#7a50c8" stroke-width="2.0" opacity="0.75"/><path d="M40 5h0m90-3h0m28 0h0m-34 9h0m-126-5h0m56 6h0m28 1h0m18 0h0m43 3h0m-83 6h0m-18-2h0m-29 8h0m162 6h0m-24-3h0m-18-1h0m-132 4h0m71 9h0m63 1h0m-86 9h0m-19 5h0m74-4h0m51 4h0m28-4h0m-6 8h0m-29 3h0m-136 2h0m10 3h0m-15 17h0m47 6h0m-27 8h0m12 2h0m19 5h0m-27 9h0m144 1h0m-19 7h0m-149-5h0m-5 5h0m4 11h0m42-3h0m104-1h0m17 1h0" stroke="#7a50c8" stroke-width="1.0" opacity="0.25"/><path d="M11-1h0m151 10h0m-40 1h0m-98-4h0m-14 6h0m160 7h0m-58 1h0m-112 9h0m26-2h0m8 2h0m64-1h0m-23 2h0m-17 1h0m24 5h0m98 9h0m-2 0h0m-68 1h0m-66 1h0m-3 0h0m-3-3h0m-16-1h0m-18 2h0m-6 3h0m27 1h0m23 2h0m6 1h0m93-2h0m34 1h0m0 7h0m-3-2h0m-6 2h0m-151 6h0m20 1h0m14-5h0m15 4h0m93 4h0m-27 3h0m-28-1h0m-101 3h0m111 7h0m-5 2h0m-45-3h0m-68-1h0m106 6h0m78 7h0m-11-1h0m-103 0h0m39 6h0m42 1h0m7 7h0m-30-1h0m-56-1h0m-70 1h0m78 6h0m11 2h0m45-2h0m-39 5h0m-72 0h0m67 9h0m11 1h0m68 11h0m-5-3h0m-29 5h0" stroke="#7a50c8" stroke-width="2.0" opacity="0.25"/><path d="M107-1h0m-23 24h0m-62 43h0m-11 23h0m161 12h0m5 23h0m-123 0h0m126 2h0" stroke="#7a50c8" stroke-width="1.0" opacity="0.75"/><path d="M17 10h0m129-4h0m-34 15l-5 0m-47 3h0m60 5l-1-9m4 6l-8-4m36 23h0m35 6l-5 4m1 1l0-6m-32 4h0m-122 2h0m17 11l-9-1m145 16l-3 6m-105-4l0 8m62-8h0m48 2l-5-1m-3 10l-1 8m-29-8h0m-127 26l-5 4m37 4h0m-44 4h0" stroke="#9272da" stroke-width="2.0" opacity="0.50"/><path d="M147 3l-1 7m2-5l-4 2m4 0l-5-2m-124 5l-4 1m3-3l-2 3m-1-4l2 5m43 10l1 5m1-4l-3 2m22-3l0 6m2-6l-4 4m32-3l-1-5m12 6l-6 1m2 3l3-7m-35 3l-8 0m4 2l-2-5m-18 4l-3-2m16 10l-5 5m96 1l0 7m-3-6l5 6m-91-9l-8-3m4 5l-2-6m0 5l3-5m79 10l-3 4m4-1l-5-2m19-1l-7 0m9-1l-8 2m-11 9l-3 1m2-2l1 3m-1-3l-1 5m-123-4l3 4m1-3l-4 3m159-2l-4-2m-62 9l-7 4m4-6l-1 6m-1-3l5 3m-5-5l4 6m-79-2l0 5m97 13l-1 4m1-4l-3 3m49 1l-5-3m3 5l0-7m-41 5l-5-4m-57 4l-9 3m7-4l-5 5m-1-6l7 6m70 3l-4 2m28 4l8 1m-30-5l-5-2m2 4l0-6m-54 7l-4 4m2-4l0 5m-45-4l-1 8m5-5l-8 3m52-4l-4-1m54 12l-5 0m4-4l-2 7m-3-6l6 4m-95-6l-5-6m67 15l5 1m-3-3l0 6m0-6l-1 5m4-3l-6 0m-59 8l-4-2m3 0l-4 2m-32-5l4 6m-10 5l1 4m38-8l1-4m1 5l4 2m-3-4l2 4m-2-3l-4-5m7 4l-2 5m2-3l-4 3m82 0l3 4m0-6l-4 4m57-7l0 7m2-5l-5 4m6-2l-7 0m7 4l-5-6m-174 4l-4 1m2 4l-2 5m-2-4l4 2m2-1l-5 3" stroke="#9272da" stroke-width="1.0" opacity="0.50"/><path d="M50 2h0" stroke="#8058d2" stroke-width="4.0" opacity="0.50"/><path d="M49-2l1 8m2-8l-3 7m76-6l-1 6m42-1l-3 3m1-4l1 6m-37-6l-6-2m6-1l-3 4m1-3l-5 2m3-2l5 2m-76-1l-6-1m55 8l-7 0m72-3l-6 0m7 2l-5-4m5 5l-5 1m4 2l-2-5m-46 7l-5 1m2 1l0-4m-3 3l-5 2m5 0l-3-1m0 1l1-4m-87 7l6 3m-3-3l0 4m84-6l-1-4m32 18l-6 3m-63 0l-2 4m0-4l1 4m-3-3l5 1m-1 0l-4 1m72-1l-3-7m-125 15l1 8m1-1l-5-5m7 2l-8 2m101 13l-3 0m2-2l-3 3m3 0l-3-2m2-2l-1 5m-11-6l-4-6m35 17l-2 2m54 3l-6 7m-46-10l-2-3m-101 5l-2 6m5-3l-6 3m159 1l-8-2m-50 9l-3 1m2-2l-2 3m-55-6l-4 2m2-2l1 4m-31 0l0 5m-2-4l0 4m2-3l-4 2m4 0l-3-2m8 1l-7-1m20 2l2 5m1-3l-5 2m73-6l-2-4m59 6l8 0m-4-3l1 7m0-6l-3 4m-146 4l-4 0m4 2l-3-2m1 2l0-4m-2 5l4-4m13 9l6-1m-2-1l2 4m0-6l-3 6m23-2l-1 4m84-6l2-6m0 6l-3-4m4 1l-5 2m-10 9l1 6m-3-10l-4 2m3-1l-3-2m2 0l-2 4m2 0l-1-4m-5 3l-4 1m-56-4l-3 2m-1-2l4 2m-39 1l-3-1m2-2l-2 3m62 6l1-4m1 5l-3-7m4 3l-6 3m7-1l-4-1m53 0l-5 3m7 0l-8-3m42 7l-7 2m4-3l-3 5m1-6l1 7m-48-4l-9 1m6 1l-6-4m-98 7l-6-1m8 4l-7-3m65 0l0 6m3-6l-5 5m42-7l4-5m-2 5l-1-5m55 9l-5 2m6-6l-5-7m6 11l6 3m-2-4l-2 7m3-4l-5 1m-2 0l-3-6m1 6l1-6m-70 9l-3 4m-20-7l-5-4m-40 6l-4 2m2-4l1 5m69 0l-3-3m20 4l-7 1" stroke="#8058d2" stroke-width="1.0" opacity="0.50"/><path d="M124 2h0m41 4h0m-67 3h0m-71 13h0m112 11h0m39 11h0m-164 6h0m80 6h0m82 24h0m-153-1h0m9 13h0m150 1h0m-25 9h0m-105 5h0m80 4h0m13 5h0m-50-1h0m30 9h0m53-1h0m1 8h0m-95 0h0m-61-2h0m-3-2h0m19 9h0m147-4h0m-65 7h0" stroke="#8058d2" stroke-width="3.0" opacity="0.50"/><path d="M79 68l-5-1m1 45h0m-45 14l-5 3" stroke="#8058d2" stroke-width="2.0" opacity="0.25"/><path d="M89 22l-5 4m4 0l-4-4m-7 43l-1 6m0 41l-4 1m4 1l-2-4m-44 13l-3 7m3-1l-3-4m5 4l-5-4" stroke="#8058d2" stroke-width="1.0" opacity="0.25"/><path d="M126 2h0m40 8h0m-67 2l0-7m12 11h0m5-1h0m62 26l-1 6m-105-10h0m102 6l6 2m-84 9l-7 5m19 5h0m18 8h0m-105 4l4 5m37 5h0m58 3h0m-90 3h0m2 8h0m19-4h0m89 14h0m-7 3l-4-5m-57 1h0m-39 1h0m-14 14l1 4m1-3l-4 7m8-5l-5 6m3-5l-1 6m0-4l-5-6m4 3l3 4m18 6l-6-3m72 3h0m13 0l1 5" stroke="#8058d2" stroke-width="2.0" opacity="0.50"/><path d="M86 25h0m-10 42h0m-47 60h0" stroke="#8058d2" stroke-width="3.0" opacity="0.25"/><path d="M181 3h0m-102 87h0" stroke="#9272da" stroke-width="3.0" opacity="0.25"/><path d="M178 4l7-1m-5-3l2 5m1-5l-4 5m-99 83l-5 6m5-3l-3-4m69 8l-3-1m3 2l-3-3m0 3l2-4" stroke="#9272da" stroke-width="1.0" opacity="0.25"/><path d="M110 21h0m9 3h0m-38 0h0m-9 12h0m94 7h0m16 10h0m-67 11h0m-76 2h0m141 19h0m-6 15h0m-85 2h0m-45 3h0m96 8h0m-29 4h0m-96 7h0m31 0h0m139 6h0m-55 2h0m-124 8h0" stroke="#9272da" stroke-width="3.0" opacity="0.50"/><path d="M73 88h0" stroke="#9272da" stroke-width="4.0" opacity="0.50"/><path d="M144 94h0" stroke="#9272da" stroke-width="2.0" opacity="0.25"/><path d="M47 71h0m-20 48h0m62 14h0" stroke="#7d38c9" stroke-width="3.0" opacity="1.00"/><path d="M163 49l-2 3m2-1l-3 0m3 2l-3-4m-111 25l-4-6m79 25l4 5m-1-4l-3 4m-96 18l-3 6m-1-6l3 6m2-2l-7 0m72 14l-8-2m5 2l-4-3m3 1l-4 3m3 2l-1-7m11 11l1-3m1 2l-3 0m3 2l-3-4" stroke="#7d38c9" stroke-width="1.0" opacity="1.00"/><path d="M66 3h0m14 2h0m-15 1h0m3 17h0m79-4h0m-102 12h0m98 59h0m18 51h0m-74-3h0" stroke="#7d38c9" stroke-width="3.0" opacity="0.75"/><path d="M66 3l-1 6m5-5l-7-2m15 3l5 0m-5-2l3 5m-1-5l0 6m2-5l-5 4m-10-2l-1-5m0 6l-4-3m8 16l-2 6m3-3l-5 1m84-3l-6-5m-75 8l-2-3m-18 12l-7-4m102 58l-2 5m-1-3l5 2m-44-3l-5-1m2-2l0 6m-10 16l-5 2m4 2l-3-5m-46 10l4 0m-2-2l0 5m-19 6l-1 5m-2-4l2 2m-1-1l3 0m-1-1l-3 4m70 6l-5 5m5-1l-4-5m76 3l0 6m2-4l-4 3m4 0l-3-5m4 3l-5-1" stroke="#7d38c9" stroke-width="1.0" opacity="0.75"/><path d="M161 11h0m23 0h0m-150 3l-5 5m5-1l-6-3m59 17h0m-57 14l3 6m-13 6h0m40 8h0m2 23h0m112 4l-6 2m-78 1h0m3 26h0m-30 15l-3 4" stroke="#6a2ac0" stroke-width="2.0" opacity="0.75"/><path d="M159 8l4 5m-1-6l-2 6m3-3l-4 1m4 0l-6-1m25 1l4 1m-2-2l0 4m1-5l-3 5m-150 4l-2-6m13 15l-7 4m51-2l0 6m2-3l-4 0m-43 0l-5-5m-4 20l-2 7m8-4l-4 7m2-7l-8 0m6-1l-5 3m-12 7l4 0m-1-3l-1 5m18-3l0-8m2 6l-5-5m7 3l-6-1m25 11l-2 3m3-1l-4 1m4 1l-4-4m8 24l-5 2m2-4l-1 6m-1-5l2 3m-3-3l4 3m24 5l4 2m-2-4l1 6m1-6l-3 6m17-5l-5 3m70-1l-2-4m-61 4l-8 0m5 4l-1-6m-13 2l-4 1m-85 20l4 5m-1-5l-2 6m4-4l-5 2m53-2l5 4m-4-7l2 7m2-5l-5 5m41 2l-6-1m5-2l-3-1m2 2l-2 4m2-6l-3 1m3 2l-2-4m1 4l1-5m-40 1l6 1m35 6l-3-4m-32 13l4 6" stroke="#6a2ac0" stroke-width="1.0" opacity="0.75"/><path d="M31 16h0m8 14h0m-7 20h0m5 3h0m134 41h0m-81 2h0m14 0h0m-11 29h0m-35-4h0m-53-1h0m56 19h0" stroke="#6a2ac0" stroke-width="3.0" opacity="0.75"/><path d="M65 4l3-3m83 15l-6 4m-98 8l-4 5m56 55h0m-12 20h0m-46 8h0m-20 11h0" stroke="#7d38c9" stroke-width="2.0" opacity="0.75"/><path d="M162 51h0m-112 20l-5 1m0 3l4-7m-1 4l-5-3m83 26h0m-26 45h0" stroke="#7d38c9" stroke-width="2.0" opacity="1.00"/><path d="M13 35h0m93 61h0m73 23l-3 6m5-4l-8 2m-59-1h0" stroke="#6a2ac0" stroke-width="2.0" opacity="1.00"/><path d="M15 35l-5 0m3 1l0-4m149 17l1 6m3-2l-7 0m-11 12l-3 5m1-5l1 5m2-4l-5 1m6 1l-8-2m-35 27l-2 5m2-5l-2 3m-1-1l4 0m-4-1l3 3m69 21l2 7m-3-3l6 2m-66-3l-2 3m-1-4l3 4m20 15l-3 6m3-3l-5-2m4 4l-2-6" stroke="#6a2ac0" stroke-width="1.0" opacity="1.00"/><path d="M162 53h0m-15 14h0m30 55h0m-44 20h0" stroke="#6a2ac0" stroke-width="3.0" opacity="1.00"/></g></g>
<line x1="503.20" y1="420.90" x2="503.20" y2="555.80" stroke="#000" stroke-width="1.30" />
<line x1="502.60" y1="555.20" x2="671.80" y2="555.20" stroke="#000" stroke-width="1.30" />
<line x1="499.20" y1="555.20" x2="503.20" y2="555.20" stroke="#000" stroke-width="1.20" />
<text x="498.00" y="558.04" font-size="7.90" font-weight="bold" text-anchor="end">0</text>
<line x1="499.20" y1="528.44" x2="503.20" y2="528.44" stroke="#000" stroke-width="1.20" />
<text x="498.00" y="531.28" font-size="7.90" font-weight="bold" text-anchor="end">200</text>
<line x1="499.20" y1="501.68" x2="503.20" y2="501.68" stroke="#000" stroke-width="1.20" />
<text x="498.00" y="504.52" font-size="7.90" font-weight="bold" text-anchor="end">400</text>
<line x1="499.20" y1="474.92" x2="503.20" y2="474.92" stroke="#000" stroke-width="1.20" />
<text x="498.00" y="477.76" font-size="7.90" font-weight="bold" text-anchor="end">600</text>
<line x1="499.20" y1="448.16" x2="503.20" y2="448.16" stroke="#000" stroke-width="1.20" />
<text x="498.00" y="451.00" font-size="7.90" font-weight="bold" text-anchor="end">800</text>
<line x1="499.20" y1="421.40" x2="503.20" y2="421.40" stroke="#000" stroke-width="1.20" />
<text x="498.00" y="424.24" font-size="7.90" font-weight="bold" text-anchor="end">1000</text>
<line x1="544.20" y1="555.20" x2="544.20" y2="559.00" stroke="#000" stroke-width="1.20" />
<line x1="632.20" y1="555.20" x2="632.20" y2="559.00" stroke="#000" stroke-width="1.20" />
<text x="544.00" y="568.21" font-size="7.80" font-weight="bold" text-anchor="middle">HEY</text>
<text x="632.30" y="568.21" font-size="7.80" font-weight="bold" text-anchor="middle">SKOV3</text>
<text x="471.80" y="491.75" font-size="8.20" font-weight="bold" text-anchor="middle" transform="rotate(-90.00 471.80 488.80)">Migrated cells</text>
<line x1="516.00" y1="524.02" x2="516.00" y2="528.44" stroke="#1d3590" stroke-width="1.30" />
<line x1="512.80" y1="524.02" x2="519.20" y2="524.02" stroke="#1d3590" stroke-width="1.30" />
<line x1="512.80" y1="528.44" x2="519.20" y2="528.44" stroke="#1d3590" stroke-width="1.30" />
<rect x="510.75" y="529.19" width="10.50" height="26.01" fill="url(#p_blue)" stroke="#1d3590" stroke-width="1.50"/>
<line x1="534.80" y1="546.50" x2="534.80" y2="547.31" stroke="#3c9c3c" stroke-width="1.30" />
<line x1="531.60" y1="546.50" x2="538.00" y2="546.50" stroke="#3c9c3c" stroke-width="1.30" />
<line x1="531.60" y1="547.31" x2="538.00" y2="547.31" stroke="#3c9c3c" stroke-width="1.30" />
<rect x="529.35" y="548.06" width="10.90" height="7.14" fill="url(#p_green)" stroke="#3c9c3c" stroke-width="1.50"/>
<line x1="553.60" y1="463.28" x2="553.60" y2="467.96" stroke="#fe0a0a" stroke-width="1.30" />
<line x1="550.40" y1="463.28" x2="556.80" y2="463.28" stroke="#fe0a0a" stroke-width="1.30" />
<line x1="550.40" y1="467.96" x2="556.80" y2="467.96" stroke="#fe0a0a" stroke-width="1.30" />
<rect x="548.15" y="468.71" width="10.90" height="86.49" fill="url(#p_red)" stroke="#fe0a0a" stroke-width="1.50"/>
<line x1="572.15" y1="519.48" x2="572.15" y2="521.88" stroke="#f9a050" stroke-width="1.30" />
<line x1="568.95" y1="519.48" x2="575.35" y2="519.48" stroke="#f9a050" stroke-width="1.30" />
<line x1="568.95" y1="521.88" x2="575.35" y2="521.88" stroke="#f9a050" stroke-width="1.30" />
<rect x="566.75" y="522.63" width="10.80" height="32.57" fill="url(#p_orange)" stroke="#f9a050" stroke-width="1.50"/>
<line x1="603.60" y1="475.59" x2="603.60" y2="478.26" stroke="#1d3590" stroke-width="1.30" />
<line x1="600.40" y1="475.59" x2="606.80" y2="475.59" stroke="#1d3590" stroke-width="1.30" />
<line x1="600.40" y1="478.26" x2="606.80" y2="478.26" stroke="#1d3590" stroke-width="1.30" />
<rect x="598.15" y="479.01" width="10.90" height="76.19" fill="url(#p_blue)" stroke="#1d3590" stroke-width="1.50"/>
<line x1="622.45" y1="521.75" x2="622.45" y2="525.10" stroke="#3c9c3c" stroke-width="1.30" />
<line x1="619.25" y1="521.75" x2="625.65" y2="521.75" stroke="#3c9c3c" stroke-width="1.30" />
<line x1="619.25" y1="525.10" x2="625.65" y2="525.10" stroke="#3c9c3c" stroke-width="1.30" />
<rect x="617.15" y="525.85" width="10.60" height="29.36" fill="url(#p_green)" stroke="#3c9c3c" stroke-width="1.50"/>
<line x1="641.35" y1="447.49" x2="641.35" y2="450.84" stroke="#fe0a0a" stroke-width="1.30" />
<line x1="638.15" y1="447.49" x2="644.55" y2="447.49" stroke="#fe0a0a" stroke-width="1.30" />
<line x1="638.15" y1="450.84" x2="644.55" y2="450.84" stroke="#fe0a0a" stroke-width="1.30" />
<rect x="636.15" y="451.59" width="10.40" height="103.61" fill="url(#p_red)" stroke="#fe0a0a" stroke-width="1.50"/>
<line x1="659.80" y1="497.00" x2="659.80" y2="503.02" stroke="#f9a050" stroke-width="1.30" />
<line x1="656.60" y1="497.00" x2="663.00" y2="497.00" stroke="#f9a050" stroke-width="1.30" />
<line x1="656.60" y1="503.02" x2="663.00" y2="503.02" stroke="#f9a050" stroke-width="1.30" />
<rect x="654.65" y="503.77" width="10.30" height="51.43" fill="url(#p_orange)" stroke="#f9a050" stroke-width="1.50"/>
<polyline points="516.10,514.00 516.10,435.90 572.50,435.90 572.50,507.10" fill="none" stroke="#333" stroke-width="0.90" stroke-linejoin="miter"/>
<line x1="553.40" y1="435.90" x2="553.40" y2="457.10" stroke="#333" stroke-width="0.90" />
<text x="535.20" y="436.40" font-size="10.00" font-weight="bold" text-anchor="middle">**</text>
<text x="563.30" y="436.40" font-size="10.00" font-weight="bold" text-anchor="middle">**</text>
<polyline points="516.10,507.30 535.00,507.30 535.00,534.60" fill="none" stroke="#333" stroke-width="0.90" stroke-linejoin="miter"/>
<text x="525.70" y="507.50" font-size="10.00" font-weight="bold" text-anchor="middle">**</text>
<polyline points="603.60,474.00 603.60,429.80 660.00,429.80 660.00,485.80" fill="none" stroke="#333" stroke-width="0.90" stroke-linejoin="miter"/>
<line x1="641.20" y1="429.80" x2="641.20" y2="442.20" stroke="#333" stroke-width="0.90" />
<text x="622.50" y="430.20" font-size="10.00" font-weight="bold" text-anchor="middle">**</text>
<text x="650.50" y="430.20" font-size="10.00" font-weight="bold" text-anchor="middle">**</text>
<polyline points="603.60,459.00 622.50,459.00 622.50,518.40" fill="none" stroke="#333" stroke-width="0.90" stroke-linejoin="miter"/>
<text x="612.80" y="459.80" font-size="10.00" font-weight="bold" text-anchor="middle">**</text>
<line x1="503.20" y1="593.20" x2="503.20" y2="727.40" stroke="#000" stroke-width="1.30" />
<line x1="502.60" y1="726.80" x2="671.80" y2="726.80" stroke="#000" stroke-width="1.30" />
<line x1="499.20" y1="726.80" x2="503.20" y2="726.80" stroke="#000" stroke-width="1.20" />
<text x="498.00" y="729.64" font-size="7.90" font-weight="bold" text-anchor="end">0</text>
<line x1="499.20" y1="693.52" x2="503.20" y2="693.52" stroke="#000" stroke-width="1.20" />
<text x="498.00" y="696.37" font-size="7.90" font-weight="bold" text-anchor="end">200</text>
<line x1="499.20" y1="660.25" x2="503.20" y2="660.25" stroke="#000" stroke-width="1.20" />
<text x="498.00" y="663.09" font-size="7.90" font-weight="bold" text-anchor="end">400</text>
<line x1="499.20" y1="626.98" x2="503.20" y2="626.98" stroke="#000" stroke-width="1.20" />
<text x="498.00" y="629.82" font-size="7.90" font-weight="bold" text-anchor="end">600</text>
<line x1="499.20" y1="593.70" x2="503.20" y2="593.70" stroke="#000" stroke-width="1.20" />
<text x="498.00" y="596.54" font-size="7.90" font-weight="bold" text-anchor="end">800</text>
<line x1="544.20" y1="726.80" x2="544.20" y2="730.60" stroke="#000" stroke-width="1.20" />
<line x1="632.20" y1="726.80" x2="632.20" y2="730.60" stroke="#000" stroke-width="1.20" />
<text x="544.00" y="739.71" font-size="7.80" font-weight="bold" text-anchor="middle">HEY</text>
<text x="632.30" y="739.71" font-size="7.80" font-weight="bold" text-anchor="middle">SKOV3</text>
<text x="476.80" y="663.70" font-size="8.20" font-weight="bold" text-anchor="middle" transform="rotate(-90.00 476.80 660.75)">Invaded cells</text>
<line x1="516.00" y1="703.01" x2="516.00" y2="705.50" stroke="#1d3590" stroke-width="1.30" />
<line x1="512.80" y1="703.01" x2="519.20" y2="703.01" stroke="#1d3590" stroke-width="1.30" />
<line x1="512.80" y1="705.50" x2="519.20" y2="705.50" stroke="#1d3590" stroke-width="1.30" />
<rect x="510.75" y="706.25" width="10.50" height="20.55" fill="url(#p_blue)" stroke="#1d3590" stroke-width="1.50"/>
<line x1="534.80" y1="718.15" x2="534.80" y2="718.81" stroke="#3c9c3c" stroke-width="1.30" />
<line x1="531.60" y1="718.15" x2="538.00" y2="718.15" stroke="#3c9c3c" stroke-width="1.30" />
<line x1="531.60" y1="718.81" x2="538.00" y2="718.81" stroke="#3c9c3c" stroke-width="1.30" />
<rect x="529.35" y="719.56" width="10.90" height="7.24" fill="url(#p_green)" stroke="#3c9c3c" stroke-width="1.50"/>
<line x1="553.60" y1="621.65" x2="553.60" y2="629.14" stroke="#fe0a0a" stroke-width="1.30" />
<line x1="550.40" y1="621.65" x2="556.80" y2="621.65" stroke="#fe0a0a" stroke-width="1.30" />
<line x1="550.40" y1="629.14" x2="556.80" y2="629.14" stroke="#fe0a0a" stroke-width="1.30" />
<rect x="548.15" y="629.89" width="10.90" height="96.91" fill="url(#p_red)" stroke="#fe0a0a" stroke-width="1.50"/>
<line x1="572.15" y1="666.90" x2="572.15" y2="672.40" stroke="#f9a050" stroke-width="1.30" />
<line x1="568.95" y1="666.90" x2="575.35" y2="666.90" stroke="#f9a050" stroke-width="1.30" />
<line x1="568.95" y1="672.40" x2="575.35" y2="672.40" stroke="#f9a050" stroke-width="1.30" />
<rect x="566.75" y="673.15" width="10.80" height="53.65" fill="url(#p_orange)" stroke="#f9a050" stroke-width="1.50"/>
<line x1="603.60" y1="717.65" x2="603.60" y2="719.65" stroke="#1d3590" stroke-width="1.30" />
<line x1="600.40" y1="717.65" x2="606.80" y2="717.65" stroke="#1d3590" stroke-width="1.30" />
<line x1="600.40" y1="719.65" x2="606.80" y2="719.65" stroke="#1d3590" stroke-width="1.30" />
<rect x="598.15" y="720.40" width="10.90" height="6.40" fill="url(#p_blue)" stroke="#1d3590" stroke-width="1.50"/>
<line x1="622.45" y1="724.97" x2="622.45" y2="725.47" stroke="#3c9c3c" stroke-width="1.30" />
<line x1="619.25" y1="724.97" x2="625.65" y2="724.97" stroke="#3c9c3c" stroke-width="1.30" />
<line x1="619.25" y1="725.47" x2="625.65" y2="725.47" stroke="#3c9c3c" stroke-width="1.30" />
<rect x="617.15" y="726.22" width="10.60" height="0.58" fill="url(#p_green)" stroke="#3c9c3c" stroke-width="1.50"/>
<line x1="641.35" y1="696.85" x2="641.35" y2="702.68" stroke="#fe0a0a" stroke-width="1.30" />
<line x1="638.15" y1="696.85" x2="644.55" y2="696.85" stroke="#fe0a0a" stroke-width="1.30" />
<line x1="638.15" y1="702.68" x2="644.55" y2="702.68" stroke="#fe0a0a" stroke-width="1.30" />
<rect x="636.15" y="703.43" width="10.40" height="23.37" fill="url(#p_red)" stroke="#fe0a0a" stroke-width="1.50"/>
<line x1="659.80" y1="712.66" x2="659.80" y2="715.99" stroke="#f9a050" stroke-width="1.30" />
<line x1="656.60" y1="712.66" x2="663.00" y2="712.66" stroke="#f9a050" stroke-width="1.30" />
<line x1="656.60" y1="715.99" x2="663.00" y2="715.99" stroke="#f9a050" stroke-width="1.30" />
<rect x="654.65" y="716.74" width="10.30" height="10.06" fill="url(#p_orange)" stroke="#f9a050" stroke-width="1.50"/>
<polyline points="516.10,696.90 516.10,606.10 572.50,606.10 572.50,660.90" fill="none" stroke="#333" stroke-width="0.90" stroke-linejoin="miter"/>
<line x1="553.40" y1="606.10" x2="553.40" y2="616.40" stroke="#333" stroke-width="0.90" />
<text x="535.20" y="606.40" font-size="10.00" font-weight="bold" text-anchor="middle">**</text>
<text x="563.30" y="606.40" font-size="10.00" font-weight="bold" text-anchor="middle">**</text>
<polyline points="516.10,680.20 535.50,680.20 535.50,708.00" fill="none" stroke="#333" stroke-width="0.90" stroke-linejoin="miter"/>
<text x="526.00" y="681.00" font-size="10.00" font-weight="bold" text-anchor="middle">**</text>
<polyline points="603.50,707.90 603.50,661.50 660.20,661.50 660.20,706.90" fill="none" stroke="#333" stroke-width="0.90" stroke-linejoin="miter"/>
<line x1="641.20" y1="661.50" x2="641.20" y2="688.60" stroke="#333" stroke-width="0.90" />
<text x="622.60" y="661.40" font-size="10.00" font-weight="bold" text-anchor="middle">**</text>
<text x="650.70" y="661.40" font-size="10.00" font-weight="bold" text-anchor="middle">**</text>
<polyline points="603.50,694.00 622.70,694.00 622.70,718.80" fill="none" stroke="#333" stroke-width="0.90" stroke-linejoin="miter"/>
<text x="613.40" y="689.59" font-size="7.20" text-anchor="middle">ns</text>
<rect x="603.50" y="593.00" width="12.50" height="5.00" fill="url(#q_blue)" stroke="#1d3590" stroke-width="1.00" />
<text x="621.90" y="598.02" font-size="7.00">PCMV+si-NC</text>
<rect x="603.50" y="605.10" width="12.50" height="5.00" fill="url(#q_green)" stroke="#3c9c3c" stroke-width="1.00" />
<text x="621.90" y="610.12" font-size="7.00">PCMV+si-<tspan font-style="italic">CTPS1</tspan></text>
<rect x="603.50" y="617.30" width="12.50" height="5.00" fill="url(#q_red)" stroke="#fe0a0a" stroke-width="1.00" />
<text x="621.90" y="622.32" font-size="7.00"><tspan font-style="italic">SNRPE</tspan>+si-NC</text>
<rect x="603.50" y="629.40" width="12.50" height="5.00" fill="url(#q_orange)" stroke="#f9a050" stroke-width="1.00" />
<text x="621.90" y="634.42" font-size="7.00"><tspan font-style="italic">SNRPE</tspan>+si-<tspan font-style="italic">CTPS1</tspan></text>
<rect x="17.80" y="773.20" width="195.20" height="156.80" fill="url(#gbg)" />
<rect x="17.80" y="903.80" width="195.20" height="26.20" fill="#e2e4e4" />
<line x1="17.80" y1="904.20" x2="213.00" y2="904.20" stroke="#eef0f0" stroke-width="0.80" />
<line x1="24.70" y1="906.00" x2="24.70" y2="916.60" stroke="#6a6a6a" stroke-width="0.60" />
<line x1="26.27" y1="906.00" x2="26.27" y2="910.40" stroke="#6a6a6a" stroke-width="0.60" />
<line x1="27.83" y1="906.00" x2="27.83" y2="910.40" stroke="#6a6a6a" stroke-width="0.60" />
<line x1="29.39" y1="906.00" x2="29.39" y2="910.40" stroke="#6a6a6a" stroke-width="0.60" />
<line x1="30.96" y1="906.00" x2="30.96" y2="910.40" stroke="#6a6a6a" stroke-width="0.60" />
<line x1="32.52" y1="906.00" x2="32.52" y2="914.00" stroke="#6a6a6a" stroke-width="0.60" />
<line x1="34.09" y1="906.00" x2="34.09" y2="910.40" stroke="#6a6a6a" stroke-width="0.60" />
<line x1="35.66" y1="906.00" x2="35.66" y2="910.40" stroke="#6a6a6a" stroke-width="0.60" />
<line x1="37.22" y1="906.00" x2="37.22" y2="910.40" stroke="#6a6a6a" stroke-width="0.60" />
<line x1="38.78" y1="906.00" x2="38.78" y2="910.40" stroke="#6a6a6a" stroke-width="0.60" />
<line x1="40.35" y1="906.00" x2="40.35" y2="916.60" stroke="#6a6a6a" stroke-width="0.60" />
<line x1="41.91" y1="906.00" x2="41.91" y2="910.40" stroke="#6a6a6a" stroke-width="0.60" />
<line x1="43.48" y1="906.00" x2="43.48" y2="910.40" stroke="#6a6a6a" stroke-width="0.60" />
<line x1="45.05" y1="906.00" x2="45.05" y2="910.40" stroke="#6a6a6a" stroke-width="0.60" />
<line x1="46.61" y1="906.00" x2="46.61" y2="910.40" stroke="#6a6a6a" stroke-width="0.60" />
<line x1="48.17" y1="906.00" x2="48.17" y2="914.00" stroke="#6a6a6a" stroke-width="0.60" />
<line x1="49.74" y1="906.00" x2="49.74" y2="910.40" stroke="#6a6a6a" stroke-width="0.60" />
<line x1="51.30" y1="906.00" x2="51.30" y2="910.40" stroke="#6a6a6a" stroke-width="0.60" />
<line x1="52.87" y1="906.00" x2="52.87" y2="910.40" stroke="#6a6a6a" stroke-width="0.60" />
<line x1="54.44" y1="906.00" x2="54.44" y2="910.40" stroke="#6a6a6a" stroke-width="0.60" />
<line x1="56.00" y1="906.00" x2="56.00" y2="916.60" stroke="#6a6a6a" stroke-width="0.60" />
<line x1="57.56" y1="906.00" x2="57.56" y2="910.40" stroke="#6a6a6a" stroke-width="0.60" />
<line x1="59.13" y1="906.00" x2="59.13" y2="910.40" stroke="#6a6a6a" stroke-width="0.60" />
<line x1="60.69" y1="906.00" x2="60.69" y2="910.40" stroke="#6a6a6a" stroke-width="0.60" />
<line x1="62.26" y1="906.00" x2="62.26" y2="910.40" stroke="#6a6a6a" stroke-width="0.60" />
<line x1="63.83" y1="906.00" x2="63.83" y2="914.00" stroke="#6a6a6a" stroke-width="0.60" />
<line x1="65.39" y1="906.00" x2="65.39" y2="910.40" stroke="#6a6a6a" stroke-width="0.60" />
<line x1="66.95" y1="906.00" x2="66.95" y2="910.40" stroke="#6a6a6a" stroke-width="0.60" />
<line x1="68.52" y1="906.00" x2="68.52" y2="910.40" stroke="#6a6a6a" stroke-width="0.60" />
<line x1="70.09" y1="906.00" x2="70.09" y2="910.40" stroke="#6a6a6a" stroke-width="0.60" />
<line x1="71.65" y1="906.00" x2="71.65" y2="916.60" stroke="#6a6a6a" stroke-width="0.60" />
<line x1="73.22" y1="906.00" x2="73.22" y2="910.40" stroke="#6a6a6a" stroke-width="0.60" />
<line x1="74.78" y1="906.00" x2="74.78" y2="910.40" stroke="#6a6a6a" stroke-width="0.60" />
<line x1="76.34" y1="906.00" x2="76.34" y2="910.40" stroke="#6a6a6a" stroke-width="0.60" />
<line x1="77.91" y1="906.00" x2="77.91" y2="910.40" stroke="#6a6a6a" stroke-width="0.60" />
<line x1="79.47" y1="906.00" x2="79.47" y2="914.00" stroke="#6a6a6a" stroke-width="0.60" />
<line x1="81.04" y1="906.00" x2="81.04" y2="910.40" stroke="#6a6a6a" stroke-width="0.60" />
<line x1="82.61" y1="906.00" x2="82.61" y2="910.40" stroke="#6a6a6a" stroke-width="0.60" />
<line x1="84.17" y1="906.00" x2="84.17" y2="910.40" stroke="#6a6a6a" stroke-width="0.60" />
<line x1="85.73" y1="906.00" x2="85.73" y2="910.40" stroke="#6a6a6a" stroke-width="0.60" />
<line x1="87.30" y1="906.00" x2="87.30" y2="916.60" stroke="#6a6a6a" stroke-width="0.60" />
<line x1="88.86" y1="906.00" x2="88.86" y2="910.40" stroke="#6a6a6a" stroke-width="0.60" />
<line x1="90.43" y1="906.00" x2="90.43" y2="910.40" stroke="#6a6a6a" stroke-width="0.60" />
<line x1="92.00" y1="906.00" x2="92.00" y2="910.40" stroke="#6a6a6a" stroke-width="0.60" />
<line x1="93.56" y1="906.00" x2="93.56" y2="910.40" stroke="#6a6a6a" stroke-width="0.60" />
<line x1="95.12" y1="906.00" x2="95.12" y2="914.00" stroke="#6a6a6a" stroke-width="0.60" />
<line x1="96.69" y1="906.00" x2="96.69" y2="910.40" stroke="#6a6a6a" stroke-width="0.60" />
<line x1="98.26" y1="906.00" x2="98.26" y2="910.40" stroke="#6a6a6a" stroke-width="0.60" />
<line x1="99.82" y1="906.00" x2="99.82" y2="910.40" stroke="#6a6a6a" stroke-width="0.60" />
<line x1="101.39" y1="906.00" x2="101.39" y2="910.40" stroke="#6a6a6a" stroke-width="0.60" />
<line x1="102.95" y1="906.00" x2="102.95" y2="916.60" stroke="#6a6a6a" stroke-width="0.60" />
<line x1="104.52" y1="906.00" x2="104.52" y2="910.40" stroke="#6a6a6a" stroke-width="0.60" />
<line x1="106.08" y1="906.00" x2="106.08" y2="910.40" stroke="#6a6a6a" stroke-width="0.60" />
<line x1="107.65" y1="906.00" x2="107.65" y2="910.40" stroke="#6a6a6a" stroke-width="0.60" />
<line x1="109.21" y1="906.00" x2="109.21" y2="910.40" stroke="#6a6a6a" stroke-width="0.60" />
<line x1="110.78" y1="906.00" x2="110.78" y2="914.00" stroke="#6a6a6a" stroke-width="0.60" />
<line x1="112.34" y1="906.00" x2="112.34" y2="910.40" stroke="#6a6a6a" stroke-width="0.60" />
<line x1="113.91" y1="906.00" x2="113.91" y2="910.40" stroke="#6a6a6a" stroke-width="0.60" />
<line x1="115.47" y1="906.00" x2="115.47" y2="910.40" stroke="#6a6a6a" stroke-width="0.60" />
<line x1="117.04" y1="906.00" x2="117.04" y2="910.40" stroke="#6a6a6a" stroke-width="0.60" />
<line x1="118.60" y1="906.00" x2="118.60" y2="916.60" stroke="#6a6a6a" stroke-width="0.60" />
<line x1="120.17" y1="906.00" x2="120.17" y2="910.40" stroke="#6a6a6a" stroke-width="0.60" />
<line x1="121.73" y1="906.00" x2="121.73" y2="910.40" stroke="#6a6a6a" stroke-width="0.60" />
<line x1="123.30" y1="906.00" x2="123.30" y2="910.40" stroke="#6a6a6a" stroke-width="0.60" />
<line x1="124.86" y1="906.00" x2="124.86" y2="910.40" stroke="#6a6a6a" stroke-width="0.60" />
<line x1="126.42" y1="906.00" x2="126.42" y2="914.00" stroke="#6a6a6a" stroke-width="0.60" />
<line x1="127.99" y1="906.00" x2="127.99" y2="910.40" stroke="#6a6a6a" stroke-width="0.60" />
<line x1="129.55" y1="906.00" x2="129.55" y2="910.40" stroke="#6a6a6a" stroke-width="0.60" />
<line x1="131.12" y1="906.00" x2="131.12" y2="910.40" stroke="#6a6a6a" stroke-width="0.60" />
<line x1="132.69" y1="906.00" x2="132.69" y2="910.40" stroke="#6a6a6a" stroke-width="0.60" />
<line x1="134.25" y1="906.00" x2="134.25" y2="916.60" stroke="#6a6a6a" stroke-width="0.60" />
<line x1="135.81" y1="906.00" x2="135.81" y2="910.40" stroke="#6a6a6a" stroke-width="0.60" />
<line x1="137.38" y1="906.00" x2="137.38" y2="910.40" stroke="#6a6a6a" stroke-width="0.60" />
<line x1="138.94" y1="906.00" x2="138.94" y2="910.40" stroke="#6a6a6a" stroke-width="0.60" />
<line x1="140.51" y1="906.00" x2="140.51" y2="910.40" stroke="#6a6a6a" stroke-width="0.60" />
<line x1="142.07" y1="906.00" x2="142.07" y2="914.00" stroke="#6a6a6a" stroke-width="0.60" />
<line x1="143.64" y1="906.00" x2="143.64" y2="910.40" stroke="#6a6a6a" stroke-width="0.60" />
<line x1="145.20" y1="906.00" x2="145.20" y2="910.40" stroke="#6a6a6a" stroke-width="0.60" />
<line x1="146.77" y1="906.00" x2="146.77" y2="910.40" stroke="#6a6a6a" stroke-width="0.60" />
<line x1="148.34" y1="906.00" x2="148.34" y2="910.40" stroke="#6a6a6a" stroke-width="0.60" />
<line x1="149.90" y1="906.00" x2="149.90" y2="916.60" stroke="#6a6a6a" stroke-width="0.60" />
<line x1="151.47" y1="906.00" x2="151.47" y2="910.40" stroke="#6a6a6a" stroke-width="0.60" />
<line x1="153.03" y1="906.00" x2="153.03" y2="910.40" stroke="#6a6a6a" stroke-width="0.60" />
<line x1="154.59" y1="906.00" x2="154.59" y2="910.40" stroke="#6a6a6a" stroke-width="0.60" />
<line x1="156.16" y1="906.00" x2="156.16" y2="910.40" stroke="#6a6a6a" stroke-width="0.60" />
<line x1="157.72" y1="906.00" x2="157.72" y2="914.00" stroke="#6a6a6a" stroke-width="0.60" />
<line x1="159.29" y1="906.00" x2="159.29" y2="910.40" stroke="#6a6a6a" stroke-width="0.60" />
<line x1="160.85" y1="906.00" x2="160.85" y2="910.40" stroke="#6a6a6a" stroke-width="0.60" />
<line x1="162.42" y1="906.00" x2="162.42" y2="910.40" stroke="#6a6a6a" stroke-width="0.60" />
<line x1="163.99" y1="906.00" x2="163.99" y2="910.40" stroke="#6a6a6a" stroke-width="0.60" />
<line x1="165.55" y1="906.00" x2="165.55" y2="916.60" stroke="#6a6a6a" stroke-width="0.60" />
<line x1="167.12" y1="906.00" x2="167.12" y2="910.40" stroke="#6a6a6a" stroke-width="0.60" />
<line x1="168.68" y1="906.00" x2="168.68" y2="910.40" stroke="#6a6a6a" stroke-width="0.60" />
<line x1="170.25" y1="906.00" x2="170.25" y2="910.40" stroke="#6a6a6a" stroke-width="0.60" />
<line x1="171.81" y1="906.00" x2="171.81" y2="910.40" stroke="#6a6a6a" stroke-width="0.60" />
<line x1="173.38" y1="906.00" x2="173.38" y2="914.00" stroke="#6a6a6a" stroke-width="0.60" />
<line x1="174.94" y1="906.00" x2="174.94" y2="910.40" stroke="#6a6a6a" stroke-width="0.60" />
<line x1="176.50" y1="906.00" x2="176.50" y2="910.40" stroke="#6a6a6a" stroke-width="0.60" />
<line x1="178.07" y1="906.00" x2="178.07" y2="910.40" stroke="#6a6a6a" stroke-width="0.60" />
<line x1="179.63" y1="906.00" x2="179.63" y2="910.40" stroke="#6a6a6a" stroke-width="0.60" />
<line x1="181.20" y1="906.00" x2="181.20" y2="916.60" stroke="#6a6a6a" stroke-width="0.60" />
<line x1="182.76" y1="906.00" x2="182.76" y2="910.40" stroke="#6a6a6a" stroke-width="0.60" />
<line x1="184.33" y1="906.00" x2="184.33" y2="910.40" stroke="#6a6a6a" stroke-width="0.60" />
<line x1="185.89" y1="906.00" x2="185.89" y2="910.40" stroke="#6a6a6a" stroke-width="0.60" />
<line x1="187.46" y1="906.00" x2="187.46" y2="910.40" stroke="#6a6a6a" stroke-width="0.60" />
<line x1="189.02" y1="906.00" x2="189.02" y2="914.00" stroke="#6a6a6a" stroke-width="0.60" />
<line x1="190.59" y1="906.00" x2="190.59" y2="910.40" stroke="#6a6a6a" stroke-width="0.60" />
<line x1="192.15" y1="906.00" x2="192.15" y2="910.40" stroke="#6a6a6a" stroke-width="0.60" />
<line x1="193.72" y1="906.00" x2="193.72" y2="910.40" stroke="#6a6a6a" stroke-width="0.60" />
<line x1="195.28" y1="906.00" x2="195.28" y2="910.40" stroke="#6a6a6a" stroke-width="0.60" />
<line x1="196.85" y1="906.00" x2="196.85" y2="916.60" stroke="#6a6a6a" stroke-width="0.60" />
<line x1="198.41" y1="906.00" x2="198.41" y2="910.40" stroke="#6a6a6a" stroke-width="0.60" />
<line x1="199.98" y1="906.00" x2="199.98" y2="910.40" stroke="#6a6a6a" stroke-width="0.60" />
<line x1="201.54" y1="906.00" x2="201.54" y2="910.40" stroke="#6a6a6a" stroke-width="0.60" />
<line x1="203.11" y1="906.00" x2="203.11" y2="910.40" stroke="#6a6a6a" stroke-width="0.60" />
<line x1="204.67" y1="906.00" x2="204.67" y2="914.00" stroke="#6a6a6a" stroke-width="0.60" />
<line x1="206.24" y1="906.00" x2="206.24" y2="910.40" stroke="#6a6a6a" stroke-width="0.60" />
<line x1="207.80" y1="906.00" x2="207.80" y2="910.40" stroke="#6a6a6a" stroke-width="0.60" />
<line x1="209.37" y1="906.00" x2="209.37" y2="910.40" stroke="#6a6a6a" stroke-width="0.60" />
<line x1="210.94" y1="906.00" x2="210.94" y2="910.40" stroke="#6a6a6a" stroke-width="0.60" />
<line x1="212.50" y1="906.00" x2="212.50" y2="916.60" stroke="#6a6a6a" stroke-width="0.60" />
<text x="24.70" y="923.57" font-size="5.20" text-anchor="middle" fill="#3a3a3a">0</text>
<text x="43.85" y="923.57" font-size="5.20" text-anchor="middle" fill="#3a3a3a">1cm</text>
<text x="56.00" y="923.57" font-size="5.20" text-anchor="middle" fill="#3a3a3a">2</text>
<text x="71.65" y="923.57" font-size="5.20" text-anchor="middle" fill="#3a3a3a">3</text>
<text x="87.30" y="923.57" font-size="5.20" text-anchor="middle" fill="#3a3a3a">4</text>
<text x="102.95" y="923.57" font-size="5.20" text-anchor="middle" fill="#3a3a3a">5</text>
<text x="118.60" y="923.57" font-size="5.20" text-anchor="middle" fill="#3a3a3a">6</text>
<text x="134.25" y="923.57" font-size="5.20" text-anchor="middle" fill="#3a3a3a">7</text>
<text x="149.90" y="923.57" font-size="5.20" text-anchor="middle" fill="#3a3a3a">8</text>
<text x="165.55" y="923.57" font-size="5.20" text-anchor="middle" fill="#3a3a3a">9</text>
<text x="181.20" y="923.57" font-size="5.20" text-anchor="middle" fill="#3a3a3a">10</text>
<text x="196.85" y="923.57" font-size="5.20" text-anchor="middle" fill="#3a3a3a">11</text>
<text x="212.50" y="923.57" font-size="5.20" text-anchor="middle" fill="#3a3a3a">12</text>
<path d="M32.9 783.3C34.2 782.0 36.4 781.0 38.3 780.7C40.2 780.5 42.7 780.9 44.3 781.9C45.8 782.9 47.1 785.0 47.6 786.8C48.1 788.5 48.3 791.0 47.5 792.5C46.6 793.9 44.2 794.7 42.5 795.4C40.8 796.1 39.0 796.8 37.2 796.5C35.4 796.3 32.9 795.4 31.8 794.0C30.7 792.7 30.5 790.2 30.6 788.4C30.8 786.6 31.6 784.6 32.9 783.3Z" fill="#5a4844" opacity="0.55" filter="url(#shad)" transform="translate(0.5 1.0)"/>
<path d="M32.9 783.3C34.2 782.0 36.4 781.0 38.3 780.7C40.2 780.5 42.7 780.9 44.3 781.9C45.8 782.9 47.1 785.0 47.6 786.8C48.1 788.5 48.3 791.0 47.5 792.5C46.6 793.9 44.2 794.7 42.5 795.4C40.8 796.1 39.0 796.8 37.2 796.5C35.4 796.3 32.9 795.4 31.8 794.0C30.7 792.7 30.5 790.2 30.6 788.4C30.8 786.6 31.6 784.6 32.9 783.3Z" fill="url(#tum)"/>
<circle cx="39.7" cy="788.7" r="0.88" fill="#b83a40" opacity="0.41"/>
<circle cx="40.3" cy="789.8" r="1.08" fill="#a84048" opacity="0.38"/>
<circle cx="42.9" cy="787.0" r="0.63" fill="#f0d8cc" opacity="0.34"/>
<circle cx="38.7" cy="788.6" r="0.50" fill="#f0d8cc" opacity="0.36"/>
<circle cx="40.4" cy="794.0" r="1.20" fill="#e8c0b0" opacity="0.39"/>
<circle cx="40.7" cy="793.3" r="1.00" fill="#b83a40" opacity="0.58"/>
<path d="M74.1 781.7C75.6 781.1 77.9 781.1 79.3 781.7C80.6 782.2 81.8 783.7 82.5 785.0C83.2 786.2 83.7 787.7 83.5 789.0C83.3 790.3 82.2 791.7 81.1 792.5C80.1 793.3 78.4 793.9 77.1 793.9C75.7 793.9 74.1 793.3 73.0 792.6C71.9 791.8 70.8 790.6 70.5 789.3C70.1 788.0 70.1 786.3 70.7 785.0C71.4 783.8 72.7 782.3 74.1 781.7Z" fill="#5a4844" opacity="0.55" filter="url(#shad)" transform="translate(0.5 1.0)"/>
<path d="M74.1 781.7C75.6 781.1 77.9 781.1 79.3 781.7C80.6 782.2 81.8 783.7 82.5 785.0C83.2 786.2 83.7 787.7 83.5 789.0C83.3 790.3 82.2 791.7 81.1 792.5C80.1 793.3 78.4 793.9 77.1 793.9C75.7 793.9 74.1 793.3 73.0 792.6C71.9 791.8 70.8 790.6 70.5 789.3C70.1 788.0 70.1 786.3 70.7 785.0C71.4 783.8 72.7 782.3 74.1 781.7Z" fill="url(#tum2)"/>
<circle cx="80.0" cy="788.2" r="0.77" fill="#e8c0b0" opacity="0.41"/>
<circle cx="75.8" cy="790.8" r="0.65" fill="#a84048" opacity="0.51"/>
<circle cx="81.1" cy="789.5" r="0.52" fill="#e8c0b0" opacity="0.55"/>
<path d="M126.1 789.9C125.9 791.4 124.6 793.0 123.4 794.0C122.2 795.1 120.5 796.2 119.0 796.3C117.6 796.3 115.9 795.1 114.8 794.2C113.6 793.2 112.6 791.9 112.3 790.5C111.9 789.2 112.1 787.5 112.6 786.0C113.1 784.6 114.2 782.4 115.5 781.8C116.8 781.3 118.9 782.1 120.5 782.6C122.1 783.1 123.9 783.6 124.9 784.8C125.8 786.1 126.4 788.3 126.1 789.9Z" fill="#5a4844" opacity="0.55" filter="url(#shad)" transform="translate(0.5 1.0)"/>
<path d="M126.1 789.9C125.9 791.4 124.6 793.0 123.4 794.0C122.2 795.1 120.5 796.2 119.0 796.3C117.6 796.3 115.9 795.1 114.8 794.2C113.6 793.2 112.6 791.9 112.3 790.5C111.9 789.2 112.1 787.5 112.6 786.0C113.1 784.6 114.2 782.4 115.5 781.8C116.8 781.3 118.9 782.1 120.5 782.6C122.1 783.1 123.9 783.6 124.9 784.8C125.8 786.1 126.4 788.3 126.1 789.9Z" fill="url(#tum)"/>
<circle cx="122.6" cy="787.1" r="0.78" fill="#e8c0b0" opacity="0.57"/>
<circle cx="118.6" cy="791.2" r="0.97" fill="#e8c0b0" opacity="0.56"/>
<circle cx="123.0" cy="790.0" r="0.57" fill="#e8c0b0" opacity="0.45"/>
<circle cx="118.1" cy="789.5" r="0.72" fill="#f0d8cc" opacity="0.39"/>
<path d="M151.9 796.5C150.6 795.9 149.3 794.7 148.7 793.6C148.1 792.4 147.9 790.9 148.2 789.6C148.4 788.2 149.1 786.5 150.2 785.6C151.4 784.7 153.6 783.8 155.1 783.9C156.6 784.1 158.2 785.6 159.2 786.7C160.2 787.8 160.7 789.0 161.1 790.4C161.4 791.8 161.9 793.8 161.1 794.9C160.4 796.1 158.1 797.0 156.6 797.2C155.0 797.5 153.2 797.1 151.9 796.5Z" fill="#5a4844" opacity="0.55" filter="url(#shad)" transform="translate(0.5 1.0)"/>
<path d="M151.9 796.5C150.6 795.9 149.3 794.7 148.7 793.6C148.1 792.4 147.9 790.9 148.2 789.6C148.4 788.2 149.1 786.5 150.2 785.6C151.4 784.7 153.6 783.8 155.1 783.9C156.6 784.1 158.2 785.6 159.2 786.7C160.2 787.8 160.7 789.0 161.1 790.4C161.4 791.8 161.9 793.8 161.1 794.9C160.4 796.1 158.1 797.0 156.6 797.2C155.0 797.5 153.2 797.1 151.9 796.5Z" fill="url(#tum2)"/>
<circle cx="153.7" cy="791.6" r="0.98" fill="#e8c0b0" opacity="0.44"/>
<circle cx="154.4" cy="791.1" r="1.23" fill="#f0d8cc" opacity="0.54"/>
<circle cx="154.1" cy="791.8" r="1.29" fill="#b83a40" opacity="0.49"/>
<circle cx="154.7" cy="790.6" r="0.85" fill="#b83a40" opacity="0.32"/>
<path d="M188.1 793.5C187.5 792.5 186.6 791.0 186.8 789.8C186.9 788.6 188.1 787.1 189.1 786.4C190.0 785.7 191.4 785.6 192.6 785.7C193.8 785.7 195.1 785.9 196.1 786.7C197.0 787.4 198.1 788.8 198.3 790.1C198.5 791.3 198.0 793.1 197.3 794.1C196.6 795.1 195.3 795.9 194.2 796.2C193.1 796.6 191.6 796.5 190.6 796.1C189.6 795.6 188.8 794.6 188.1 793.5Z" fill="#5a4844" opacity="0.55" filter="url(#shad)" transform="translate(0.5 1.0)"/>
<path d="M188.1 793.5C187.5 792.5 186.6 791.0 186.8 789.8C186.9 788.6 188.1 787.1 189.1 786.4C190.0 785.7 191.4 785.6 192.6 785.7C193.8 785.7 195.1 785.9 196.1 786.7C197.0 787.4 198.1 788.8 198.3 790.1C198.5 791.3 198.0 793.1 197.3 794.1C196.6 795.1 195.3 795.9 194.2 796.2C193.1 796.6 191.6 796.5 190.6 796.1C189.6 795.6 188.8 794.6 188.1 793.5Z" fill="url(#tum)"/>
<circle cx="189.3" cy="791.6" r="0.59" fill="#b83a40" opacity="0.49"/>
<circle cx="191.3" cy="791.0" r="0.57" fill="#e8c0b0" opacity="0.45"/>
<path d="M27.6 826.7C28.3 824.6 30.3 823.0 32.1 821.7C33.9 820.3 36.2 818.4 38.2 818.6C40.2 818.8 42.4 821.0 43.8 822.8C45.3 824.6 46.8 827.2 46.8 829.4C46.8 831.5 45.2 834.0 43.9 835.8C42.6 837.5 40.9 839.3 39.0 840.0C37.0 840.6 34.3 840.5 32.4 839.6C30.5 838.6 28.4 836.3 27.6 834.2C26.8 832.1 26.8 828.8 27.6 826.7Z" fill="#5a4844" opacity="0.55" filter="url(#shad)" transform="translate(0.5 1.0)"/>
<path d="M27.6 826.7C28.3 824.6 30.3 823.0 32.1 821.7C33.9 820.3 36.2 818.4 38.2 818.6C40.2 818.8 42.4 821.0 43.8 822.8C45.3 824.6 46.8 827.2 46.8 829.4C46.8 831.5 45.2 834.0 43.9 835.8C42.6 837.5 40.9 839.3 39.0 840.0C37.0 840.6 34.3 840.5 32.4 839.6C30.5 838.6 28.4 836.3 27.6 834.2C26.8 832.1 26.8 828.8 27.6 826.7Z" fill="url(#tum)"/>
<circle cx="37.8" cy="828.3" r="1.28" fill="#e8c0b0" opacity="0.59"/>
<circle cx="36.3" cy="831.0" r="1.18" fill="#a84048" opacity="0.46"/>
<circle cx="36.9" cy="834.7" r="0.87" fill="#e8c0b0" opacity="0.40"/>
<circle cx="33.9" cy="825.8" r="1.16" fill="#e8c0b0" opacity="0.58"/>
<circle cx="39.5" cy="835.4" r="0.86" fill="#e8c0b0" opacity="0.59"/>
<circle cx="33.5" cy="829.5" r="0.63" fill="#e8c0b0" opacity="0.58"/>
<circle cx="32.5" cy="830.6" r="1.08" fill="#a84048" opacity="0.35"/>
<circle cx="37.6" cy="825.8" r="1.03" fill="#a84048" opacity="0.39"/>
<circle cx="31.6" cy="827.9" r="0.72" fill="#f0d8cc" opacity="0.36"/>
<path d="M74.1 825.2C75.4 823.7 77.7 822.7 79.7 822.1C81.8 821.4 84.6 820.5 86.4 821.2C88.2 821.8 89.6 824.1 90.7 825.9C91.7 827.6 92.9 829.7 92.7 831.7C92.5 833.6 91.1 836.2 89.4 837.5C87.7 838.8 84.6 839.9 82.5 839.6C80.4 839.4 78.4 837.5 76.7 836.1C75.0 834.8 72.7 833.2 72.3 831.4C71.9 829.6 72.9 826.8 74.1 825.2Z" fill="#5a4844" opacity="0.55" filter="url(#shad)" transform="translate(0.5 1.0)"/>
<path d="M74.1 825.2C75.4 823.7 77.7 822.7 79.7 822.1C81.8 821.4 84.6 820.5 86.4 821.2C88.2 821.8 89.6 824.1 90.7 825.9C91.7 827.6 92.9 829.7 92.7 831.7C92.5 833.6 91.1 836.2 89.4 837.5C87.7 838.8 84.6 839.9 82.5 839.6C80.4 839.4 78.4 837.5 76.7 836.1C75.0 834.8 72.7 833.2 72.3 831.4C71.9 829.6 72.9 826.8 74.1 825.2Z" fill="url(#tum)"/>
<circle cx="87.5" cy="833.6" r="0.89" fill="#f0d8cc" opacity="0.42"/>
<circle cx="80.2" cy="833.0" r="0.56" fill="#b83a40" opacity="0.37"/>
<circle cx="82.7" cy="829.9" r="0.82" fill="#e8c0b0" opacity="0.56"/>
<circle cx="85.7" cy="826.9" r="0.94" fill="#f0d8cc" opacity="0.46"/>
<circle cx="82.1" cy="831.5" r="0.91" fill="#e8c0b0" opacity="0.59"/>
<circle cx="83.8" cy="827.7" r="1.15" fill="#e8c0b0" opacity="0.44"/>
<circle cx="84.1" cy="831.8" r="0.88" fill="#b83a40" opacity="0.59"/>
<circle cx="80.9" cy="828.6" r="1.21" fill="#f0d8cc" opacity="0.41"/>
<path d="M113.9 842.7C111.8 841.9 110.0 839.5 109.2 837.6C108.5 835.8 108.7 833.6 109.3 831.7C109.9 829.7 111.1 827.2 113.0 826.2C114.8 825.1 118.2 824.9 120.6 825.3C122.9 825.6 125.2 826.9 127.0 828.3C128.7 829.7 130.8 831.9 131.0 833.7C131.1 835.6 129.3 838.1 127.7 839.6C126.2 841.1 123.9 842.3 121.5 842.8C119.2 843.3 115.9 843.6 113.9 842.7Z" fill="#5a4844" opacity="0.55" filter="url(#shad)" transform="translate(0.5 1.0)"/>
<path d="M113.9 842.7C111.8 841.9 110.0 839.5 109.2 837.6C108.5 835.8 108.7 833.6 109.3 831.7C109.9 829.7 111.1 827.2 113.0 826.2C114.8 825.1 118.2 824.9 120.6 825.3C122.9 825.6 125.2 826.9 127.0 828.3C128.7 829.7 130.8 831.9 131.0 833.7C131.1 835.6 129.3 838.1 127.7 839.6C126.2 841.1 123.9 842.3 121.5 842.8C119.2 843.3 115.9 843.6 113.9 842.7Z" fill="url(#tum2)"/>
<circle cx="118.5" cy="832.0" r="1.18" fill="#b83a40" opacity="0.48"/>
<circle cx="118.8" cy="840.0" r="0.90" fill="#a84048" opacity="0.31"/>
<circle cx="121.3" cy="833.6" r="1.24" fill="#b83a40" opacity="0.44"/>
<circle cx="122.4" cy="836.7" r="0.85" fill="#e8c0b0" opacity="0.31"/>
<circle cx="121.0" cy="835.9" r="0.88" fill="#e8c0b0" opacity="0.37"/>
<circle cx="118.9" cy="834.2" r="0.89" fill="#b83a40" opacity="0.52"/>
<circle cx="118.4" cy="837.0" r="1.29" fill="#f0d8cc" opacity="0.30"/>
<circle cx="120.6" cy="835.4" r="1.07" fill="#e8c0b0" opacity="0.52"/>
<path d="M166.4 836.5C166.1 838.7 165.2 841.4 163.8 842.9C162.3 844.5 159.5 845.9 157.6 845.7C155.6 845.6 153.4 843.7 152.0 842.1C150.6 840.6 149.7 838.6 149.3 836.5C148.8 834.4 148.5 831.6 149.3 829.7C150.1 827.7 152.3 825.4 154.1 824.8C156.0 824.2 158.4 825.1 160.4 825.9C162.3 826.6 164.8 827.6 165.8 829.4C166.8 831.2 166.7 834.2 166.4 836.5Z" fill="#5a4844" opacity="0.55" filter="url(#shad)" transform="translate(0.5 1.0)"/>
<path d="M166.4 836.5C166.1 838.7 165.2 841.4 163.8 842.9C162.3 844.5 159.5 845.9 157.6 845.7C155.6 845.6 153.4 843.7 152.0 842.1C150.6 840.6 149.7 838.6 149.3 836.5C148.8 834.4 148.5 831.6 149.3 829.7C150.1 827.7 152.3 825.4 154.1 824.8C156.0 824.2 158.4 825.1 160.4 825.9C162.3 826.6 164.8 827.6 165.8 829.4C166.8 831.2 166.7 834.2 166.4 836.5Z" fill="url(#tum)"/>
<circle cx="158.5" cy="837.5" r="1.15" fill="#a84048" opacity="0.56"/>
<circle cx="159.1" cy="832.1" r="1.05" fill="#b83a40" opacity="0.57"/>
<circle cx="152.9" cy="835.9" r="0.74" fill="#f0d8cc" opacity="0.51"/>
<circle cx="155.9" cy="835.6" r="1.12" fill="#e8c0b0" opacity="0.34"/>
<circle cx="154.1" cy="835.3" r="0.90" fill="#e8c0b0" opacity="0.46"/>
<circle cx="154.5" cy="836.5" r="0.54" fill="#b83a40" opacity="0.38"/>
<circle cx="157.8" cy="835.0" r="1.25" fill="#e8c0b0" opacity="0.52"/>
<circle cx="163.6" cy="833.9" r="1.06" fill="#f0d8cc" opacity="0.34"/>
<path d="M198.7 839.8C197.8 841.1 195.9 842.4 194.5 842.5C193.0 842.6 191.5 841.2 190.2 840.2C188.9 839.2 187.1 838.1 186.6 836.5C186.0 834.9 186.1 832.3 186.8 830.7C187.5 829.1 189.1 827.5 190.6 826.9C192.0 826.2 194.0 826.2 195.3 826.7C196.7 827.2 198.1 828.6 198.9 829.9C199.7 831.2 200.1 833.1 200.1 834.7C200.1 836.4 199.7 838.5 198.7 839.8Z" fill="#5a4844" opacity="0.55" filter="url(#shad)" transform="translate(0.5 1.0)"/>
<path d="M198.7 839.8C197.8 841.1 195.9 842.4 194.5 842.5C193.0 842.6 191.5 841.2 190.2 840.2C188.9 839.2 187.1 838.1 186.6 836.5C186.0 834.9 186.1 832.3 186.8 830.7C187.5 829.1 189.1 827.5 190.6 826.9C192.0 826.2 194.0 826.2 195.3 826.7C196.7 827.2 198.1 828.6 198.9 829.9C199.7 831.2 200.1 833.1 200.1 834.7C200.1 836.4 199.7 838.5 198.7 839.8Z" fill="url(#tum)"/>
<circle cx="193.8" cy="833.9" r="0.67" fill="#f0d8cc" opacity="0.50"/>
<circle cx="193.7" cy="832.7" r="0.96" fill="#f0d8cc" opacity="0.52"/>
<circle cx="194.1" cy="833.7" r="0.85" fill="#e8c0b0" opacity="0.51"/>
<circle cx="192.1" cy="834.3" r="1.02" fill="#f0d8cc" opacity="0.34"/>
<path d="M37.2 881.4C35.7 880.9 33.9 880.0 33.1 878.8C32.2 877.7 32.3 875.9 32.4 874.5C32.5 873.0 32.7 871.0 33.8 870.1C34.8 869.1 37.1 868.6 38.7 868.6C40.3 868.7 42.0 869.4 43.2 870.2C44.3 871.0 45.2 872.4 45.5 873.7C45.9 875.0 45.8 876.5 45.3 877.8C44.7 879.0 43.6 880.8 42.3 881.4C41.0 882.0 38.7 881.8 37.2 881.4Z" fill="#5a4844" opacity="0.55" filter="url(#shad)" transform="translate(0.5 1.0)"/>
<path d="M37.2 881.4C35.7 880.9 33.9 880.0 33.1 878.8C32.2 877.7 32.3 875.9 32.4 874.5C32.5 873.0 32.7 871.0 33.8 870.1C34.8 869.1 37.1 868.6 38.7 868.6C40.3 868.7 42.0 869.4 43.2 870.2C44.3 871.0 45.2 872.4 45.5 873.7C45.9 875.0 45.8 876.5 45.3 877.8C44.7 879.0 43.6 880.8 42.3 881.4C41.0 882.0 38.7 881.8 37.2 881.4Z" fill="url(#tum)"/>
<circle cx="38.2" cy="879.2" r="1.15" fill="#e8c0b0" opacity="0.44"/>
<circle cx="38.7" cy="875.5" r="0.51" fill="#e8c0b0" opacity="0.33"/>
<circle cx="39.0" cy="874.8" r="0.60" fill="#a84048" opacity="0.37"/>
<circle cx="40.8" cy="873.7" r="0.76" fill="#f0d8cc" opacity="0.46"/>
<path d="M78.8 878.3C77.6 877.4 76.7 875.6 76.7 874.4C76.7 873.1 77.9 871.7 79.0 870.7C80.0 869.7 81.5 868.5 83.0 868.2C84.5 867.9 86.8 868.2 88.1 868.9C89.3 869.6 90.0 871.1 90.6 872.3C91.2 873.5 92.2 875.0 91.9 876.2C91.5 877.3 89.6 878.5 88.2 879.1C86.9 879.6 85.1 879.7 83.5 879.5C81.9 879.4 79.9 879.1 78.8 878.3Z" fill="#5a4844" opacity="0.55" filter="url(#shad)" transform="translate(0.5 1.0)"/>
<path d="M78.8 878.3C77.6 877.4 76.7 875.6 76.7 874.4C76.7 873.1 77.9 871.7 79.0 870.7C80.0 869.7 81.5 868.5 83.0 868.2C84.5 867.9 86.8 868.2 88.1 868.9C89.3 869.6 90.0 871.1 90.6 872.3C91.2 873.5 92.2 875.0 91.9 876.2C91.5 877.3 89.6 878.5 88.2 879.1C86.9 879.6 85.1 879.7 83.5 879.5C81.9 879.4 79.9 879.1 78.8 878.3Z" fill="url(#tum2)"/>
<circle cx="84.0" cy="872.8" r="1.17" fill="#e8c0b0" opacity="0.40"/>
<circle cx="83.2" cy="873.3" r="0.81" fill="#b83a40" opacity="0.52"/>
<circle cx="83.6" cy="875.1" r="1.01" fill="#e8c0b0" opacity="0.46"/>
<path d="M118.8 874.1C119.5 873.2 120.8 872.3 122.1 872.0C123.3 871.8 125.1 872.1 126.2 872.5C127.4 873.0 128.3 873.9 128.8 874.7C129.3 875.6 129.5 876.7 129.2 877.5C128.9 878.4 128.2 879.5 127.3 880.0C126.4 880.6 124.9 880.7 123.6 880.7C122.3 880.7 120.4 880.8 119.4 880.2C118.5 879.6 118.0 878.2 117.9 877.1C117.8 876.1 118.1 874.9 118.8 874.1Z" fill="#5a4844" opacity="0.55" filter="url(#shad)" transform="translate(0.5 1.0)"/>
<path d="M118.8 874.1C119.5 873.2 120.8 872.3 122.1 872.0C123.3 871.8 125.1 872.1 126.2 872.5C127.4 873.0 128.3 873.9 128.8 874.7C129.3 875.6 129.5 876.7 129.2 877.5C128.9 878.4 128.2 879.5 127.3 880.0C126.4 880.6 124.9 880.7 123.6 880.7C122.3 880.7 120.4 880.8 119.4 880.2C118.5 879.6 118.0 878.2 117.9 877.1C117.8 876.1 118.1 874.9 118.8 874.1Z" fill="url(#tum2)"/>
<circle cx="123.9" cy="876.6" r="0.88" fill="#a84048" opacity="0.40"/>
<circle cx="123.2" cy="876.7" r="1.02" fill="#f0d8cc" opacity="0.41"/>
<path d="M153.3 881.8C152.7 881.2 152.7 879.7 152.7 878.7C152.8 877.7 153.1 876.6 153.7 875.9C154.3 875.2 155.5 874.5 156.5 874.3C157.6 874.2 158.9 874.4 159.8 874.9C160.7 875.3 161.7 876.2 162.1 877.0C162.5 877.9 162.4 879.1 162.1 880.0C161.8 880.9 161.0 882.0 160.2 882.5C159.3 882.9 157.9 882.8 156.8 882.7C155.7 882.6 154.0 882.5 153.3 881.8Z" fill="#5a4844" opacity="0.55" filter="url(#shad)" transform="translate(0.5 1.0)"/>
<path d="M153.3 881.8C152.7 881.2 152.7 879.7 152.7 878.7C152.8 877.7 153.1 876.6 153.7 875.9C154.3 875.2 155.5 874.5 156.5 874.3C157.6 874.2 158.9 874.4 159.8 874.9C160.7 875.3 161.7 876.2 162.1 877.0C162.5 877.9 162.4 879.1 162.1 880.0C161.8 880.9 161.0 882.0 160.2 882.5C159.3 882.9 157.9 882.8 156.8 882.7C155.7 882.6 154.0 882.5 153.3 881.8Z" fill="url(#tum2)"/>
<circle cx="158.6" cy="878.1" r="1.25" fill="#f0d8cc" opacity="0.50"/>
<circle cx="154.3" cy="879.1" r="0.59" fill="#e8c0b0" opacity="0.39"/>
<path d="M191.5 874.6C192.3 874.2 193.7 874.4 194.6 874.7C195.6 874.9 196.6 875.5 197.1 876.1C197.6 876.8 197.9 877.9 197.8 878.8C197.8 879.7 197.5 880.7 196.9 881.4C196.3 882.0 195.2 882.4 194.2 882.5C193.3 882.6 192.2 882.6 191.3 882.2C190.4 881.7 189.2 880.9 188.9 880.0C188.6 879.1 189.2 877.9 189.6 877.0C190.0 876.1 190.7 875.0 191.5 874.6Z" fill="#5a4844" opacity="0.55" filter="url(#shad)" transform="translate(0.5 1.0)"/>
<path d="M191.5 874.6C192.3 874.2 193.7 874.4 194.6 874.7C195.6 874.9 196.6 875.5 197.1 876.1C197.6 876.8 197.9 877.9 197.8 878.8C197.8 879.7 197.5 880.7 196.9 881.4C196.3 882.0 195.2 882.4 194.2 882.5C193.3 882.6 192.2 882.6 191.3 882.2C190.4 881.7 189.2 880.9 188.9 880.0C188.6 879.1 189.2 877.9 189.6 877.0C190.0 876.1 190.7 875.0 191.5 874.6Z" fill="url(#tum2)"/>
<circle cx="193.2" cy="879.8" r="0.73" fill="#a84048" opacity="0.35"/>
<text x="218.00" y="793.70" font-size="8.60" font-weight="bold">PCMV-Ctrl</text>
<text x="218.00" y="839.30" font-size="8.60" font-weight="bold"><tspan font-style="italic">SNRPE</tspan></text>
<text x="218.00" y="881.41" font-size="8.65" font-weight="bold"><tspan font-style="italic">SNRPE</tspan>+sh-<tspan font-style="italic">CTPS1</tspan></text>
<line x1="348.60" y1="791.10" x2="348.60" y2="895.60" stroke="#000" stroke-width="1.30" />
<line x1="348.00" y1="895.00" x2="482.80" y2="895.00" stroke="#000" stroke-width="1.30" />
<line x1="344.60" y1="895.00" x2="348.60" y2="895.00" stroke="#000" stroke-width="1.20" />
<text x="343.10" y="897.84" font-size="7.90" font-weight="bold" text-anchor="end">0</text>
<line x1="344.60" y1="874.32" x2="348.60" y2="874.32" stroke="#000" stroke-width="1.20" />
<text x="343.10" y="877.16" font-size="7.90" font-weight="bold" text-anchor="end">200</text>
<line x1="344.60" y1="853.64" x2="348.60" y2="853.64" stroke="#000" stroke-width="1.20" />
<text x="343.10" y="856.48" font-size="7.90" font-weight="bold" text-anchor="end">400</text>
<line x1="344.60" y1="832.96" x2="348.60" y2="832.96" stroke="#000" stroke-width="1.20" />
<text x="343.10" y="835.80" font-size="7.90" font-weight="bold" text-anchor="end">600</text>
<line x1="344.60" y1="812.28" x2="348.60" y2="812.28" stroke="#000" stroke-width="1.20" />
<text x="343.10" y="815.12" font-size="7.90" font-weight="bold" text-anchor="end">800</text>
<line x1="344.60" y1="791.60" x2="348.60" y2="791.60" stroke="#000" stroke-width="1.20" />
<text x="343.10" y="794.44" font-size="7.90" font-weight="bold" text-anchor="end">1000</text>
<line x1="358.50" y1="895.00" x2="358.50" y2="898.80" stroke="#000" stroke-width="1.20" />
<text x="358.50" y="908.84" font-size="7.90" font-weight="bold" text-anchor="middle">4</text>
<line x1="381.06" y1="895.00" x2="381.06" y2="898.80" stroke="#000" stroke-width="1.20" />
<text x="381.06" y="908.84" font-size="7.90" font-weight="bold" text-anchor="middle">8</text>
<line x1="403.62" y1="895.00" x2="403.62" y2="898.80" stroke="#000" stroke-width="1.20" />
<text x="403.62" y="908.84" font-size="7.90" font-weight="bold" text-anchor="middle">12</text>
<line x1="426.18" y1="895.00" x2="426.18" y2="898.80" stroke="#000" stroke-width="1.20" />
<text x="426.18" y="908.84" font-size="7.90" font-weight="bold" text-anchor="middle">16</text>
<line x1="448.74" y1="895.00" x2="448.74" y2="898.80" stroke="#000" stroke-width="1.20" />
<text x="448.74" y="908.84" font-size="7.90" font-weight="bold" text-anchor="middle">20</text>
<line x1="471.30" y1="895.00" x2="471.30" y2="898.80" stroke="#000" stroke-width="1.20" />
<text x="471.30" y="908.84" font-size="7.90" font-weight="bold" text-anchor="middle">24</text>
<text x="414.60" y="921.26" font-size="8.50" font-weight="bold" text-anchor="middle">Days</text>
<text x="315.80" y="846.36" font-size="8.50" font-weight="bold" text-anchor="middle" transform="rotate(-90.00 315.80 843.30)">Tumor volume (mm<tspan baseline-shift="super" font-size="70%">3</tspan>)</text>
<polyline points="358.50,892.93 381.06,891.90 403.62,890.86 426.18,888.28 448.74,885.18 471.30,880.01" fill="none" stroke="#f9a050" stroke-width="1.30" stroke-linejoin="miter"/>
<polygon points="355.86,895.13 361.14,895.13 358.50,890.29" fill="#f9a050"/>
<line x1="381.06" y1="890.86" x2="381.06" y2="892.93" stroke="#f9a050" stroke-width="0.80" />
<line x1="378.46" y1="890.86" x2="383.66" y2="890.86" stroke="#f9a050" stroke-width="0.80" />
<line x1="378.46" y1="892.93" x2="383.66" y2="892.93" stroke="#f9a050" stroke-width="0.80" />
<polygon points="378.42,894.10 383.70,894.10 381.06,889.26" fill="#f9a050"/>
<line x1="403.62" y1="888.80" x2="403.62" y2="892.93" stroke="#f9a050" stroke-width="0.80" />
<line x1="401.02" y1="888.80" x2="406.22" y2="888.80" stroke="#f9a050" stroke-width="0.80" />
<line x1="401.02" y1="892.93" x2="406.22" y2="892.93" stroke="#f9a050" stroke-width="0.80" />
<polygon points="400.98,893.06 406.26,893.06 403.62,888.22" fill="#f9a050"/>
<line x1="426.18" y1="884.66" x2="426.18" y2="891.90" stroke="#f9a050" stroke-width="0.80" />
<line x1="423.58" y1="884.66" x2="428.78" y2="884.66" stroke="#f9a050" stroke-width="0.80" />
<line x1="423.58" y1="891.90" x2="428.78" y2="891.90" stroke="#f9a050" stroke-width="0.80" />
<polygon points="423.54,890.48 428.82,890.48 426.18,885.64" fill="#f9a050"/>
<line x1="448.74" y1="877.42" x2="448.74" y2="892.93" stroke="#f9a050" stroke-width="0.80" />
<line x1="446.14" y1="877.42" x2="451.34" y2="877.42" stroke="#f9a050" stroke-width="0.80" />
<line x1="446.14" y1="892.93" x2="451.34" y2="892.93" stroke="#f9a050" stroke-width="0.80" />
<polygon points="446.10,887.38 451.38,887.38 448.74,882.54" fill="#f9a050"/>
<line x1="471.30" y1="869.67" x2="471.30" y2="890.35" stroke="#f9a050" stroke-width="0.80" />
<line x1="468.70" y1="869.67" x2="473.90" y2="869.67" stroke="#f9a050" stroke-width="0.80" />
<line x1="468.70" y1="890.35" x2="473.90" y2="890.35" stroke="#f9a050" stroke-width="0.80" />
<polygon points="468.66,882.21 473.94,882.21 471.30,877.37" fill="#f9a050"/>
<polyline points="358.50,892.41 381.06,890.86 403.62,888.80 426.18,884.66 448.74,878.97 471.30,873.29" fill="none" stroke="#1d3590" stroke-width="1.30" stroke-linejoin="miter"/>
<circle cx="358.50" cy="892.41" r="2.31" fill="#1d3590"/>
<line x1="381.06" y1="889.83" x2="381.06" y2="891.90" stroke="#1d3590" stroke-width="0.80" />
<line x1="378.46" y1="889.83" x2="383.66" y2="889.83" stroke="#1d3590" stroke-width="0.80" />
<line x1="378.46" y1="891.90" x2="383.66" y2="891.90" stroke="#1d3590" stroke-width="0.80" />
<circle cx="381.06" cy="890.86" r="2.31" fill="#1d3590"/>
<line x1="403.62" y1="887.56" x2="403.62" y2="890.04" stroke="#1d3590" stroke-width="0.80" />
<line x1="401.02" y1="887.56" x2="406.22" y2="887.56" stroke="#1d3590" stroke-width="0.80" />
<line x1="401.02" y1="890.04" x2="406.22" y2="890.04" stroke="#1d3590" stroke-width="0.80" />
<circle cx="403.62" cy="888.80" r="2.31" fill="#1d3590"/>
<line x1="426.18" y1="883.11" x2="426.18" y2="886.21" stroke="#1d3590" stroke-width="0.80" />
<line x1="423.58" y1="883.11" x2="428.78" y2="883.11" stroke="#1d3590" stroke-width="0.80" />
<line x1="423.58" y1="886.21" x2="428.78" y2="886.21" stroke="#1d3590" stroke-width="0.80" />
<circle cx="426.18" cy="884.66" r="2.31" fill="#1d3590"/>
<line x1="448.74" y1="875.87" x2="448.74" y2="882.07" stroke="#1d3590" stroke-width="0.80" />
<line x1="446.14" y1="875.87" x2="451.34" y2="875.87" stroke="#1d3590" stroke-width="0.80" />
<line x1="446.14" y1="882.07" x2="451.34" y2="882.07" stroke="#1d3590" stroke-width="0.80" />
<circle cx="448.74" cy="878.97" r="2.31" fill="#1d3590"/>
<line x1="471.30" y1="866.88" x2="471.30" y2="879.70" stroke="#1d3590" stroke-width="0.80" />
<line x1="468.70" y1="866.88" x2="473.90" y2="866.88" stroke="#1d3590" stroke-width="0.80" />
<line x1="468.70" y1="879.70" x2="473.90" y2="879.70" stroke="#1d3590" stroke-width="0.80" />
<circle cx="471.30" cy="873.29" r="2.31" fill="#1d3590"/>
<polyline points="358.50,889.83 381.06,884.66 403.62,878.46 426.18,869.15 448.74,854.67 471.30,832.96" fill="none" stroke="#fe0a0a" stroke-width="1.30" stroke-linejoin="miter"/>
<line x1="358.50" y1="888.80" x2="358.50" y2="890.86" stroke="#fe0a0a" stroke-width="0.80" />
<line x1="355.90" y1="888.80" x2="361.10" y2="888.80" stroke="#fe0a0a" stroke-width="0.80" />
<line x1="355.90" y1="890.86" x2="361.10" y2="890.86" stroke="#fe0a0a" stroke-width="0.80" />
<rect x="356.30" y="887.63" width="4.40" height="4.40" fill="#fe0a0a"/>
<line x1="381.06" y1="881.04" x2="381.06" y2="888.28" stroke="#fe0a0a" stroke-width="0.80" />
<line x1="378.46" y1="881.04" x2="383.66" y2="881.04" stroke="#fe0a0a" stroke-width="0.80" />
<line x1="378.46" y1="888.28" x2="383.66" y2="888.28" stroke="#fe0a0a" stroke-width="0.80" />
<rect x="378.86" y="882.46" width="4.40" height="4.40" fill="#fe0a0a"/>
<line x1="403.62" y1="872.77" x2="403.62" y2="884.14" stroke="#fe0a0a" stroke-width="0.80" />
<line x1="401.02" y1="872.77" x2="406.22" y2="872.77" stroke="#fe0a0a" stroke-width="0.80" />
<line x1="401.02" y1="884.14" x2="406.22" y2="884.14" stroke="#fe0a0a" stroke-width="0.80" />
<rect x="401.42" y="876.26" width="4.40" height="4.40" fill="#fe0a0a"/>
<line x1="426.18" y1="860.36" x2="426.18" y2="877.94" stroke="#fe0a0a" stroke-width="0.80" />
<line x1="423.58" y1="860.36" x2="428.78" y2="860.36" stroke="#fe0a0a" stroke-width="0.80" />
<line x1="423.58" y1="877.94" x2="428.78" y2="877.94" stroke="#fe0a0a" stroke-width="0.80" />
<rect x="423.98" y="866.95" width="4.40" height="4.40" fill="#fe0a0a"/>
<line x1="448.74" y1="840.20" x2="448.74" y2="869.15" stroke="#fe0a0a" stroke-width="0.80" />
<line x1="446.14" y1="840.20" x2="451.34" y2="840.20" stroke="#fe0a0a" stroke-width="0.80" />
<line x1="446.14" y1="869.15" x2="451.34" y2="869.15" stroke="#fe0a0a" stroke-width="0.80" />
<rect x="446.54" y="852.47" width="4.40" height="4.40" fill="#fe0a0a"/>
<line x1="471.30" y1="810.21" x2="471.30" y2="855.71" stroke="#fe0a0a" stroke-width="0.80" />
<line x1="468.70" y1="810.21" x2="473.90" y2="810.21" stroke="#fe0a0a" stroke-width="0.80" />
<line x1="468.70" y1="855.71" x2="473.90" y2="855.71" stroke="#fe0a0a" stroke-width="0.80" />
<rect x="469.10" y="830.76" width="4.40" height="4.40" fill="#fe0a0a"/>
<line x1="353.80" y1="797.70" x2="365.00" y2="797.70" stroke="#1d3590" stroke-width="1.20" />
<circle cx="359.40" cy="797.70" r="2.31" fill="#1d3590"/>
<text x="371.00" y="800.72" font-size="8.40">PCMV-Ctrl</text>
<line x1="353.80" y1="811.80" x2="365.00" y2="811.80" stroke="#fe0a0a" stroke-width="1.20" />
<rect x="357.20" y="809.60" width="4.40" height="4.40" fill="#fe0a0a"/>
<text x="371.00" y="814.82" font-size="8.40"><tspan font-style="italic">SNRPE</tspan></text>
<line x1="353.80" y1="827.80" x2="365.00" y2="827.80" stroke="#f9a050" stroke-width="1.20" />
<polygon points="356.76,830.00 362.04,830.00 359.40,825.16" fill="#f9a050"/>
<text x="371.00" y="830.82" font-size="8.40"><tspan font-style="italic">SNRPE</tspan>+sh-<tspan font-style="italic">CTPS1</tspan></text>
<polyline points="476.00,831.40 491.50,831.40 491.50,880.10 476.00,880.10" fill="none" stroke="#333" stroke-width="0.90" stroke-linejoin="miter"/>
<line x1="481.50" y1="831.40" x2="481.50" y2="880.10" stroke="#333" stroke-width="0.90" />
<line x1="476.00" y1="873.10" x2="481.50" y2="873.10" stroke="#333" stroke-width="0.90" />
<text x="486.70" y="859.38" font-size="11.00" font-weight="bold" text-anchor="middle">*</text>
<text x="486.70" y="878.10" font-size="5.00" text-anchor="middle">ns</text>
<text x="497.00" y="862.38" font-size="11.00" font-weight="bold" text-anchor="middle">*</text>
<line x1="569.70" y1="795.30" x2="569.70" y2="901.40" stroke="#000" stroke-width="1.30" />
<line x1="566.20" y1="900.80" x2="673.60" y2="900.80" stroke="#000" stroke-width="1.30" />
<line x1="565.70" y1="900.80" x2="569.70" y2="900.80" stroke="#000" stroke-width="1.20" />
<text x="564.30" y="903.64" font-size="7.90" font-weight="bold" text-anchor="end">0</text>
<line x1="565.70" y1="879.80" x2="569.70" y2="879.80" stroke="#000" stroke-width="1.20" />
<text x="564.30" y="882.64" font-size="7.90" font-weight="bold" text-anchor="end">200</text>
<line x1="565.70" y1="858.80" x2="569.70" y2="858.80" stroke="#000" stroke-width="1.20" />
<text x="564.30" y="861.64" font-size="7.90" font-weight="bold" text-anchor="end">400</text>
<line x1="565.70" y1="837.80" x2="569.70" y2="837.80" stroke="#000" stroke-width="1.20" />
<text x="564.30" y="840.64" font-size="7.90" font-weight="bold" text-anchor="end">600</text>
<line x1="565.70" y1="816.80" x2="569.70" y2="816.80" stroke="#000" stroke-width="1.20" />
<text x="564.30" y="819.64" font-size="7.90" font-weight="bold" text-anchor="end">800</text>
<line x1="565.70" y1="795.80" x2="569.70" y2="795.80" stroke="#000" stroke-width="1.20" />
<text x="564.30" y="798.64" font-size="7.90" font-weight="bold" text-anchor="end">1000</text>
<line x1="591.00" y1="900.80" x2="591.00" y2="904.40" stroke="#000" stroke-width="1.20" />
<line x1="621.60" y1="900.80" x2="621.60" y2="904.40" stroke="#000" stroke-width="1.20" />
<line x1="652.70" y1="900.80" x2="652.70" y2="904.40" stroke="#000" stroke-width="1.20" />
<text x="537.80" y="851.49" font-size="8.30" font-weight="bold" text-anchor="middle" transform="rotate(-90.00 537.80 848.50)">Tumor weight (mg)</text>
<circle cx="591.0" cy="857.0" r="2.1" fill="#1d3590"/>
<circle cx="582.4" cy="868.7" r="2.1" fill="#1d3590"/>
<circle cx="591.0" cy="870.6" r="2.1" fill="#1d3590"/>
<circle cx="599.4" cy="870.6" r="2.1" fill="#1d3590"/>
<circle cx="591.0" cy="880.6" r="2.1" fill="#1d3590"/>
<rect x="620.0" y="811.0" width="4.0" height="4.0" fill="#fe0a0a"/>
<rect x="615.5" y="818.0" width="4.0" height="4.0" fill="#fe0a0a"/>
<rect x="624.4" y="818.0" width="4.0" height="4.0" fill="#fe0a0a"/>
<rect x="620.0" y="841.6" width="4.0" height="4.0" fill="#fe0a0a"/>
<rect x="620.0" y="868.6" width="4.0" height="4.0" fill="#fe0a0a"/>
<polygon points="650.32,864.90 654.88,864.90 652.60,860.72" fill="#f9a050"/>
<polygon points="644.22,893.40 648.78,893.40 646.50,889.22" fill="#f9a050"/>
<polygon points="654.92,892.70 659.48,892.70 657.20,888.52" fill="#f9a050"/>
<polygon points="645.72,885.90 650.28,885.90 648.00,881.72" fill="#f9a050"/>
<polygon points="653.72,883.90 658.28,883.90 656.00,879.72" fill="#f9a050"/>
<line x1="580.80" y1="869.80" x2="601.20" y2="869.80" stroke="#111" stroke-width="1.30" />
<line x1="591.00" y1="866.00" x2="591.00" y2="873.30" stroke="#1f3a93" stroke-width="1.00" />
<line x1="585.50" y1="866.00" x2="596.50" y2="866.00" stroke="#1f3a93" stroke-width="1.00" />
<line x1="585.50" y1="873.30" x2="596.50" y2="873.30" stroke="#1f3a93" stroke-width="1.00" />
<line x1="611.80" y1="833.30" x2="632.20" y2="833.30" stroke="#222" stroke-width="1.30" />
<line x1="622.00" y1="822.80" x2="622.00" y2="844.40" stroke="#f01a1a" stroke-width="1.00" />
<line x1="616.50" y1="822.80" x2="627.50" y2="822.80" stroke="#f01a1a" stroke-width="1.00" />
<line x1="616.50" y1="844.40" x2="627.50" y2="844.40" stroke="#f01a1a" stroke-width="1.00" />
<line x1="642.60" y1="882.70" x2="663.40" y2="882.70" stroke="#111" stroke-width="1.30" />
<line x1="653.00" y1="877.30" x2="653.00" y2="887.60" stroke="#f7a04a" stroke-width="1.00" />
<line x1="647.50" y1="877.30" x2="658.50" y2="877.30" stroke="#f7a04a" stroke-width="1.00" />
<line x1="647.50" y1="887.60" x2="658.50" y2="887.60" stroke="#f7a04a" stroke-width="1.00" />
<polyline points="591.00,791.40 591.00,780.10 652.60,780.10 652.60,791.40" fill="none" stroke="#333" stroke-width="0.90" stroke-linejoin="miter"/>
<polyline points="591.00,843.60 591.00,791.40 652.60,791.40 652.60,848.20" fill="none" stroke="#333" stroke-width="0.90" stroke-linejoin="miter"/>
<line x1="622.00" y1="791.40" x2="622.00" y2="800.40" stroke="#333" stroke-width="0.90" />
<text x="622.00" y="775.40" font-size="8.60" text-anchor="middle">ns</text>
<text x="606.70" y="792.70" font-size="10.00" font-weight="bold" text-anchor="middle">**</text>
<text x="637.70" y="792.70" font-size="10.00" font-weight="bold" text-anchor="middle">**</text>
<text x="591.00" y="912.20" font-size="8.3" font-weight="bold" text-anchor="end" transform="rotate(-45 591.00 909.30)">PCMV-Ctrl</text>
<text x="622.00" y="912.20" font-size="8.3" font-weight="bold" text-anchor="end" transform="rotate(-45 622.00 909.30)">SNRPE</text>
<text x="649.50" y="912.20" font-size="8.3" font-weight="bold" text-anchor="end" transform="rotate(-45 649.50 909.30)">SNRPE +</text>
<text x="656.00" y="920.70" font-size="8.3" font-weight="bold" text-anchor="end" transform="rotate(-45 656.00 917.80)">sh-CTPS1</text>
</svg>
</body></html>
